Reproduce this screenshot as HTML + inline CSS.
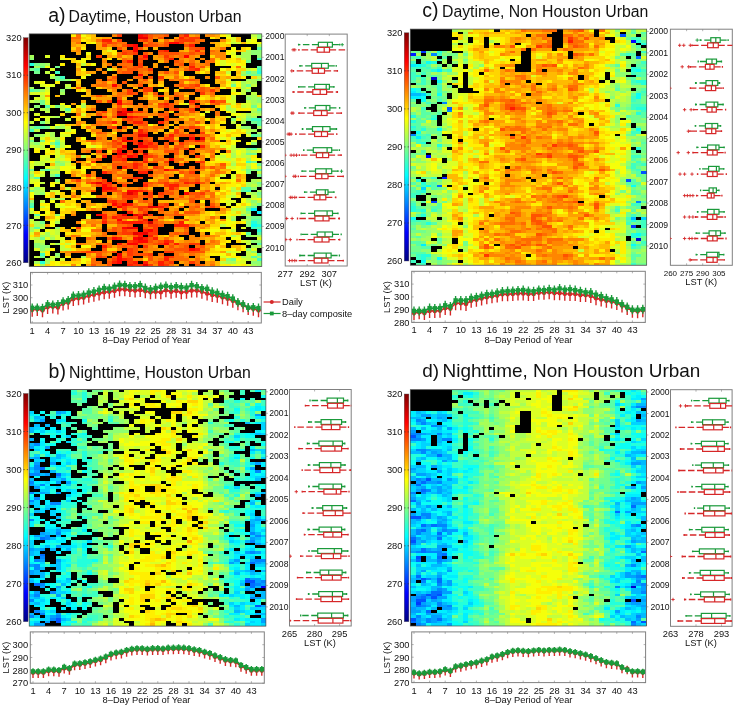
<!DOCTYPE html>
<html><head><meta charset="utf-8"><title>LST figure</title>
<style>html,body{margin:0;padding:0;background:#fff;width:733px;height:706px;overflow:hidden}svg{display:block}text{fill:#111}</style>
</head><body>
<svg width="733" height="706" viewBox="0 0 733 706" style="font-family:'Liberation Sans',Arial,Helvetica,sans-serif">
<defs><linearGradient id="jetg" x1="0" y1="0" x2="0" y2="1"><stop offset="0.0000" stop-color="#800000"/><stop offset="0.0312" stop-color="#9f0000"/><stop offset="0.0625" stop-color="#bf0000"/><stop offset="0.0938" stop-color="#df0000"/><stop offset="0.1250" stop-color="#ff0000"/><stop offset="0.1562" stop-color="#ff2000"/><stop offset="0.1875" stop-color="#ff4000"/><stop offset="0.2188" stop-color="#ff6000"/><stop offset="0.2500" stop-color="#ff8000"/><stop offset="0.2812" stop-color="#ff9f00"/><stop offset="0.3125" stop-color="#ffbf00"/><stop offset="0.3438" stop-color="#ffdf00"/><stop offset="0.3750" stop-color="#ffff00"/><stop offset="0.4062" stop-color="#dfff20"/><stop offset="0.4375" stop-color="#bfff40"/><stop offset="0.4688" stop-color="#9fff60"/><stop offset="0.5000" stop-color="#80ff80"/><stop offset="0.5312" stop-color="#60ff9f"/><stop offset="0.5625" stop-color="#40ffbf"/><stop offset="0.5938" stop-color="#20ffdf"/><stop offset="0.6250" stop-color="#00ffff"/><stop offset="0.6562" stop-color="#00dfff"/><stop offset="0.6875" stop-color="#00bfff"/><stop offset="0.7188" stop-color="#009fff"/><stop offset="0.7500" stop-color="#0080ff"/><stop offset="0.7812" stop-color="#0060ff"/><stop offset="0.8125" stop-color="#0040ff"/><stop offset="0.8438" stop-color="#0020ff"/><stop offset="0.8750" stop-color="#0000ff"/><stop offset="0.9062" stop-color="#0000df"/><stop offset="0.9375" stop-color="#0000bf"/><stop offset="0.9688" stop-color="#00009f"/><stop offset="1.0000" stop-color="#000080"/></linearGradient></defs>
<rect width="733" height="706" fill="#fff"/>
<text x="48.2" y="22.3" font-size="19.5" text-anchor="start">a)</text>
<text x="68.5" y="22.3" font-size="15.8" text-anchor="start">Daytime, Houston Urban</text>
<rect x="23.4" y="37.7" width="4.70" height="225.10" fill="url(#jetg)"/>
<rect x="23.4" y="37.7" width="4.70" height="225.10" fill="none" stroke="#555" stroke-width="0.4"/>
<text x="21.6" y="40.9" font-size="9.3" text-anchor="end">320</text>
<text x="21.6" y="78.4" font-size="9.3" text-anchor="end">310</text>
<text x="21.6" y="115.9" font-size="9.3" text-anchor="end">300</text>
<text x="21.6" y="153.4" font-size="9.3" text-anchor="end">290</text>
<text x="21.6" y="191.0" font-size="9.3" text-anchor="end">280</text>
<text x="21.6" y="228.5" font-size="9.3" text-anchor="end">270</text>
<text x="21.6" y="266.0" font-size="9.3" text-anchor="end">260</text>
<path d="M23.4 75.2h1.3M28.1 75.2h-1.3M23.4 112.7h1.3M28.1 112.7h-1.3M23.4 150.2h1.3M28.1 150.2h-1.3M23.4 187.8h1.3M28.1 187.8h-1.3M23.4 225.3h1.3M28.1 225.3h-1.3" stroke="#333" stroke-width="0.7"/>
<rect x="29.2" y="33.9" width="232.60" height="232.50" fill="#000"/>
<g transform="translate(29.2 33.9) scale(5.1689 2.6420)" shape-rendering="crispEdges">
<path fill="#00efff" d="M43 66h1v1h-1zM44 67h1v1h-1z"/>
<path fill="#0afff5" d="M43 72h1v1h-1z"/>
<path fill="#24ffdb" d="M0 11h1v1h-1zM44 14h1v1h-1zM43 71h1v1h-1zM44 72h1v1h-1zM44 74h1v1h-1zM2 86h1v1h-1z"/>
<path fill="#3effc1" d="M44 9h1v1h-1zM44 13h1v1h-1zM5 14h1v1h-1zM6 16h1v1h-1zM43 32h2v1h-2zM0 36h1v1h-1zM5 41h1v1h-1zM42 48h1v1h-1zM5 53h1v1h-1zM42 59h1v1h-1zM0 65h1v1h-1zM43 73h1v1h-1zM2 83h1v1h-1zM44 85h1v1h-1z"/>
<path fill="#58ffa7" d="M44 5h1v1h-1zM44 12h1v1h-1zM1 13h1v1h-1zM42 14h1v1h-1zM0 21h1v1h-1zM3 27h1v1h-1zM7 28h1v1h-1zM44 28h1v1h-1zM44 33h1v1h-1zM44 34h1v1h-1zM1 35h2v1h-2zM43 38h1v1h-1zM43 43h1v1h-1zM3 51h1v1h-1zM44 51h1v1h-1zM1 54h1v1h-1zM41 58h2v1h-2zM41 59h1v1h-1zM0 64h1v1h-1zM42 66h1v1h-1zM1 68h1v1h-1zM43 70h2v1h-2zM44 71h1v1h-1zM1 73h1v1h-1zM44 73h1v1h-1zM42 75h1v1h-1zM44 75h1v1h-1zM44 79h1v1h-1zM44 83h1v1h-1zM43 84h1v1h-1z"/>
<path fill="#72ff8d" d="M42 10h1v1h-1zM1 11h1v1h-1zM2 12h1v1h-1zM5 12h1v1h-1zM0 13h1v1h-1zM1 14h1v1h-1zM43 15h2v1h-2zM5 16h1v1h-1zM5 17h2v1h-2zM39 19h1v1h-1zM42 19h1v1h-1zM1 21h1v1h-1zM2 25h1v1h-1zM2 26h1v1h-1zM5 27h1v1h-1zM43 27h1v1h-1zM42 32h1v1h-1zM2 33h1v1h-1zM43 33h1v1h-1zM3 35h1v1h-1zM44 38h1v1h-1zM0 40h1v1h-1zM2 40h1v1h-1zM5 40h1v1h-1zM5 42h1v1h-1zM42 43h1v1h-1zM42 45h2v1h-2zM43 48h1v1h-1zM44 49h1v1h-1zM0 51h1v1h-1zM2 51h1v1h-1zM42 51h1v1h-1zM42 52h1v1h-1zM44 53h1v1h-1zM44 56h1v1h-1zM0 59h1v1h-1zM44 60h1v1h-1zM44 64h1v1h-1zM43 65h1v1h-1zM43 69h2v1h-2zM2 71h1v1h-1zM2 77h1v1h-1zM2 84h1v1h-1zM39 85h1v1h-1z"/>
<path fill="#8dff72" d="M44 0h1v1h-1zM44 1h1v1h-1zM43 6h2v1h-2zM43 7h2v1h-2zM44 8h1v1h-1zM0 9h1v1h-1zM2 11h1v1h-1zM43 14h1v1h-1zM41 15h2v1h-2zM7 17h1v1h-1zM44 17h1v1h-1zM6 21h1v1h-1zM42 21h1v1h-1zM42 24h1v1h-1zM44 24h1v1h-1zM44 25h1v1h-1zM1 27h1v1h-1zM44 29h1v1h-1zM42 31h1v1h-1zM39 32h1v1h-1zM0 35h1v1h-1zM5 35h1v1h-1zM41 35h2v1h-2zM1 38h1v1h-1zM1 41h1v1h-1zM4 41h1v1h-1zM43 41h1v1h-1zM5 48h1v1h-1zM6 49h1v1h-1zM43 51h1v1h-1zM0 53h1v1h-1zM4 53h1v1h-1zM5 55h1v1h-1zM44 57h1v1h-1zM1 58h1v1h-1zM43 58h1v1h-1zM2 60h1v1h-1zM44 61h1v1h-1zM0 63h1v1h-1zM43 63h1v1h-1zM42 65h1v1h-1zM42 67h1v1h-1zM5 68h1v1h-1zM41 68h1v1h-1zM42 69h1v1h-1zM39 70h1v1h-1zM42 71h1v1h-1zM42 72h1v1h-1zM5 73h1v1h-1zM42 76h1v1h-1zM43 78h2v1h-2zM1 79h1v1h-1zM1 80h3v1h-3zM2 81h1v1h-1zM42 81h1v1h-1zM43 82h1v1h-1zM5 83h1v1h-1zM38 85h1v1h-1zM43 86h2v1h-2zM44 87h1v1h-1z"/>
<path fill="#a7ff58" d="M44 4h1v1h-1zM42 6h1v1h-1zM41 7h2v1h-2zM0 8h1v1h-1zM41 8h2v1h-2zM42 9h1v1h-1zM3 11h1v1h-1zM1 12h1v1h-1zM41 14h1v1h-1zM4 16h1v1h-1zM42 17h2v1h-2zM41 18h1v1h-1zM43 18h1v1h-1zM41 19h1v1h-1zM0 20h1v1h-1zM7 20h1v1h-1zM41 20h1v1h-1zM2 21h1v1h-1zM6 22h1v1h-1zM42 23h2v1h-2zM43 24h1v1h-1zM1 25h1v1h-1zM43 25h1v1h-1zM43 26h1v1h-1zM10 27h1v1h-1zM38 27h1v1h-1zM3 28h1v1h-1zM38 28h1v1h-1zM7 29h1v1h-1zM43 29h1v1h-1zM42 30h1v1h-1zM44 30h1v1h-1zM5 31h1v1h-1zM43 31h1v1h-1zM41 33h1v1h-1zM6 35h1v1h-1zM44 35h1v1h-1zM43 36h1v1h-1zM4 37h1v1h-1zM42 37h1v1h-1zM44 37h1v1h-1zM2 38h1v1h-1zM4 38h1v1h-1zM5 39h1v1h-1zM39 39h1v1h-1zM0 41h1v1h-1zM44 43h1v1h-1zM42 44h1v1h-1zM39 45h1v1h-1zM39 46h1v1h-1zM42 47h1v1h-1zM6 48h1v1h-1zM5 49h1v1h-1zM39 49h1v1h-1zM42 50h1v1h-1zM4 51h2v1h-2zM0 54h1v1h-1zM43 55h1v1h-1zM42 56h2v1h-2zM42 57h1v1h-1zM1 59h2v1h-2zM39 59h1v1h-1zM44 59h1v1h-1zM1 60h1v1h-1zM43 60h1v1h-1zM4 62h1v1h-1zM6 62h1v1h-1zM42 62h1v1h-1zM43 64h1v1h-1zM39 69h1v1h-1zM42 70h1v1h-1zM1 71h1v1h-1zM5 71h1v1h-1zM1 72h2v1h-2zM0 73h1v1h-1zM0 74h1v1h-1zM3 75h1v1h-1zM2 76h2v1h-2zM39 76h1v1h-1zM43 76h2v1h-2zM4 77h1v1h-1zM2 79h1v1h-1zM5 79h1v1h-1zM43 80h2v1h-2zM5 84h1v1h-1zM10 84h1v1h-1zM41 84h1v1h-1zM44 84h1v1h-1zM3 85h1v1h-1zM1 86h1v1h-1zM3 86h1v1h-1zM38 86h2v1h-2zM2 87h1v1h-1zM43 87h1v1h-1z"/>
<path fill="#c1ff3e" d="M43 0h1v1h-1zM39 3h1v1h-1zM40 8h1v1h-1zM41 9h1v1h-1zM10 11h1v1h-1zM15 13h1v1h-1zM42 13h1v1h-1zM3 14h1v1h-1zM38 14h1v1h-1zM44 16h1v1h-1zM39 18h1v1h-1zM42 18h1v1h-1zM7 19h1v1h-1zM43 19h1v1h-1zM3 20h1v1h-1zM41 21h1v1h-1zM41 22h1v1h-1zM43 22h1v1h-1zM2 23h1v1h-1zM39 23h1v1h-1zM2 24h1v1h-1zM39 24h1v1h-1zM0 25h1v1h-1zM42 25h1v1h-1zM10 26h1v1h-1zM44 26h1v1h-1zM6 27h1v1h-1zM41 27h1v1h-1zM0 28h1v1h-1zM2 28h1v1h-1zM6 28h1v1h-1zM39 28h1v1h-1zM43 28h1v1h-1zM3 29h1v1h-1zM39 29h1v1h-1zM43 30h1v1h-1zM4 31h1v1h-1zM40 31h1v1h-1zM7 32h1v1h-1zM41 32h1v1h-1zM0 33h1v1h-1zM3 33h1v1h-1zM39 33h1v1h-1zM6 34h1v1h-1zM1 36h1v1h-1zM7 36h1v1h-1zM42 36h1v1h-1zM0 39h1v1h-1zM4 39h1v1h-1zM6 41h1v1h-1zM0 42h3v1h-3zM6 42h1v1h-1zM39 42h1v1h-1zM2 43h1v1h-1zM5 43h1v1h-1zM39 43h2v1h-2zM39 44h1v1h-1zM43 44h1v1h-1zM41 45h1v1h-1zM6 46h1v1h-1zM10 46h1v1h-1zM37 46h1v1h-1zM41 46h2v1h-2zM3 47h1v1h-1zM5 47h1v1h-1zM38 47h1v1h-1zM1 48h2v1h-2zM7 48h1v1h-1zM39 48h1v1h-1zM1 49h2v1h-2zM42 49h1v1h-1zM5 50h1v1h-1zM44 50h1v1h-1zM41 51h1v1h-1zM0 52h1v1h-1zM4 52h2v1h-2zM44 52h1v1h-1zM2 53h1v1h-1zM44 55h1v1h-1zM2 56h1v1h-1zM43 57h1v1h-1zM0 58h1v1h-1zM2 58h1v1h-1zM7 58h1v1h-1zM39 58h1v1h-1zM4 59h1v1h-1zM40 59h1v1h-1zM42 60h1v1h-1zM39 61h1v1h-1zM43 61h1v1h-1zM5 62h1v1h-1zM2 63h1v1h-1zM42 63h1v1h-1zM44 63h1v1h-1zM2 65h1v1h-1zM39 66h3v1h-3zM0 67h1v1h-1zM41 67h1v1h-1zM42 68h1v1h-1zM1 69h1v1h-1zM0 70h1v1h-1zM41 70h1v1h-1zM37 72h1v1h-1zM2 73h1v1h-1zM5 74h1v1h-1zM39 74h1v1h-1zM5 75h1v1h-1zM4 76h1v1h-1zM1 77h1v1h-1zM1 78h2v1h-2zM42 78h1v1h-1zM7 79h1v1h-1zM42 79h1v1h-1zM6 80h1v1h-1zM3 81h1v1h-1zM6 81h2v1h-2zM2 82h1v1h-1zM38 82h1v1h-1zM42 82h1v1h-1zM42 83h1v1h-1zM1 84h1v1h-1zM42 84h1v1h-1zM4 85h1v1h-1zM42 85h2v1h-2zM37 86h1v1h-1z"/>
<path fill="#dbff24" d="M38 0h1v1h-1zM39 1h1v1h-1zM43 1h1v1h-1zM39 2h1v1h-1zM42 2h1v1h-1zM40 3h1v1h-1zM15 6h1v1h-1zM39 7h1v1h-1zM3 8h1v1h-1zM6 9h1v1h-1zM37 10h1v1h-1zM37 11h1v1h-1zM39 11h1v1h-1zM41 12h1v1h-1zM4 13h1v1h-1zM43 13h1v1h-1zM4 15h1v1h-1zM11 15h1v1h-1zM8 17h1v1h-1zM38 17h1v1h-1zM1 18h1v1h-1zM2 19h1v1h-1zM4 19h1v1h-1zM42 20h1v1h-1zM3 21h1v1h-1zM39 21h1v1h-1zM0 22h3v1h-3zM1 24h1v1h-1zM3 25h1v1h-1zM38 25h2v1h-2zM3 26h1v1h-1zM30 26h1v1h-1zM39 26h1v1h-1zM41 26h2v1h-2zM4 27h1v1h-1zM42 27h1v1h-1zM44 27h1v1h-1zM34 29h1v1h-1zM1 30h1v1h-1zM10 30h1v1h-1zM41 30h1v1h-1zM3 31h1v1h-1zM38 31h1v1h-1zM41 31h1v1h-1zM3 32h1v1h-1zM4 35h1v1h-1zM7 35h1v1h-1zM40 35h1v1h-1zM38 36h1v1h-1zM3 37h1v1h-1zM3 38h1v1h-1zM6 38h2v1h-2zM42 38h1v1h-1zM2 39h1v1h-1zM37 39h1v1h-1zM6 40h1v1h-1zM43 40h1v1h-1zM2 41h1v1h-1zM12 42h1v1h-1zM37 42h1v1h-1zM38 43h1v1h-1zM41 43h1v1h-1zM5 44h1v1h-1zM41 44h1v1h-1zM44 44h1v1h-1zM5 45h1v1h-1zM2 46h2v1h-2zM5 46h1v1h-1zM36 46h1v1h-1zM40 46h1v1h-1zM2 47h1v1h-1zM6 47h1v1h-1zM37 47h1v1h-1zM39 47h1v1h-1zM3 48h2v1h-2zM0 49h1v1h-1zM7 49h1v1h-1zM0 50h1v1h-1zM3 50h2v1h-2zM38 50h2v1h-2zM2 52h1v1h-1zM37 53h1v1h-1zM39 53h1v1h-1zM39 54h1v1h-1zM0 55h2v1h-2zM0 56h1v1h-1zM5 56h1v1h-1zM5 59h1v1h-1zM5 60h1v1h-1zM39 60h1v1h-1zM38 61h1v1h-1zM43 62h1v1h-1zM38 63h2v1h-2zM5 64h1v1h-1zM38 64h1v1h-1zM5 65h2v1h-2zM41 65h1v1h-1zM0 66h1v1h-1zM39 67h1v1h-1zM40 68h1v1h-1zM11 69h1v1h-1zM38 69h1v1h-1zM5 70h1v1h-1zM0 71h1v1h-1zM41 73h1v1h-1zM1 74h1v1h-1zM4 74h1v1h-1zM0 75h1v1h-1zM2 75h1v1h-1zM4 75h1v1h-1zM5 76h1v1h-1zM40 76h1v1h-1zM0 77h1v1h-1zM3 77h1v1h-1zM5 77h2v1h-2zM44 77h1v1h-1zM6 78h1v1h-1zM41 78h1v1h-1zM4 79h1v1h-1zM1 81h1v1h-1zM43 81h1v1h-1zM39 82h2v1h-2zM43 83h1v1h-1zM4 84h1v1h-1zM37 84h1v1h-1zM6 85h1v1h-1zM41 85h1v1h-1zM40 86h2v1h-2zM42 87h1v1h-1z"/>
<path fill="#f5ff0a" d="M10 0h1v1h-1zM38 1h1v1h-1zM43 2h1v1h-1zM12 3h1v1h-1zM38 3h1v1h-1zM42 3h3v1h-3zM39 5h1v1h-1zM39 6h1v1h-1zM11 7h1v1h-1zM38 7h1v1h-1zM39 8h1v1h-1zM10 9h1v1h-1zM10 10h1v1h-1zM12 11h1v1h-1zM38 11h1v1h-1zM40 11h1v1h-1zM3 12h1v1h-1zM10 13h1v1h-1zM37 13h1v1h-1zM39 13h1v1h-1zM38 15h1v1h-1zM10 16h1v1h-1zM2 18h1v1h-1zM40 18h1v1h-1zM3 19h1v1h-1zM38 19h1v1h-1zM40 19h1v1h-1zM37 20h1v1h-1zM10 21h1v1h-1zM3 22h1v1h-1zM40 22h1v1h-1zM3 24h1v1h-1zM6 26h1v1h-1zM7 27h1v1h-1zM33 30h1v1h-1zM39 30h2v1h-2zM2 31h1v1h-1zM1 32h1v1h-1zM5 34h1v1h-1zM23 34h1v1h-1zM40 34h1v1h-1zM34 35h1v1h-1zM8 36h1v1h-1zM39 36h1v1h-1zM41 36h1v1h-1zM6 37h1v1h-1zM37 37h1v1h-1zM10 39h1v1h-1zM4 40h1v1h-1zM39 40h1v1h-1zM3 41h1v1h-1zM39 41h1v1h-1zM42 41h1v1h-1zM4 42h1v1h-1zM7 42h1v1h-1zM11 42h1v1h-1zM38 42h1v1h-1zM1 43h1v1h-1zM3 43h1v1h-1zM3 44h1v1h-1zM40 44h1v1h-1zM37 45h1v1h-1zM40 45h1v1h-1zM36 47h1v1h-1zM43 47h2v1h-2zM0 48h1v1h-1zM41 48h1v1h-1zM43 49h1v1h-1zM6 50h3v1h-3zM40 50h1v1h-1zM43 50h1v1h-1zM6 51h2v1h-2zM10 51h1v1h-1zM39 51h2v1h-2zM40 52h2v1h-2zM1 53h1v1h-1zM36 54h1v1h-1zM36 55h2v1h-2zM39 55h1v1h-1zM1 56h1v1h-1zM1 57h1v1h-1zM4 57h1v1h-1zM40 57h1v1h-1zM38 58h1v1h-1zM37 59h1v1h-1zM0 60h1v1h-1zM3 60h1v1h-1zM0 61h1v1h-1zM10 61h1v1h-1zM12 61h1v1h-1zM38 62h1v1h-1zM41 62h1v1h-1zM44 62h1v1h-1zM4 63h1v1h-1zM37 63h1v1h-1zM41 63h1v1h-1zM6 64h1v1h-1zM40 64h1v1h-1zM42 64h1v1h-1zM3 65h1v1h-1zM7 65h2v1h-2zM12 65h1v1h-1zM39 65h1v1h-1zM3 67h1v1h-1zM2 68h1v1h-1zM35 68h1v1h-1zM38 68h1v1h-1zM5 69h1v1h-1zM38 70h1v1h-1zM4 71h1v1h-1zM10 71h1v1h-1zM38 71h2v1h-2zM4 72h1v1h-1zM38 72h1v1h-1zM39 73h1v1h-1zM3 74h1v1h-1zM10 74h2v1h-2zM35 74h2v1h-2zM38 74h1v1h-1zM41 75h1v1h-1zM39 77h2v1h-2zM8 79h1v1h-1zM10 80h2v1h-2zM36 80h1v1h-1zM39 81h1v1h-1zM37 83h1v1h-1zM39 83h1v1h-1zM38 84h1v1h-1zM10 85h1v1h-1zM40 85h1v1h-1zM5 86h1v1h-1zM10 86h1v1h-1zM1 87h1v1h-1zM5 87h1v1h-1zM7 87h1v1h-1zM39 87h2v1h-2z"/>
<path fill="#ffef00" d="M8 0h1v1h-1zM37 0h1v1h-1zM11 1h1v1h-1zM35 1h1v1h-1zM10 2h1v1h-1zM11 3h1v1h-1zM10 5h1v1h-1zM42 5h1v1h-1zM16 6h1v1h-1zM38 6h1v1h-1zM16 7h1v1h-1zM6 8h1v1h-1zM7 9h1v1h-1zM11 9h1v1h-1zM15 9h1v1h-1zM39 9h1v1h-1zM9 10h1v1h-1zM36 10h1v1h-1zM38 10h2v1h-2zM41 10h1v1h-1zM6 11h1v1h-1zM36 11h1v1h-1zM41 11h1v1h-1zM39 12h1v1h-1zM34 13h1v1h-1zM33 14h1v1h-1zM30 16h1v1h-1zM41 16h1v1h-1zM5 18h1v1h-1zM38 18h1v1h-1zM34 19h1v1h-1zM39 20h1v1h-1zM25 21h1v1h-1zM39 22h1v1h-1zM38 23h1v1h-1zM33 24h1v1h-1zM36 24h1v1h-1zM38 24h1v1h-1zM29 26h1v1h-1zM9 27h1v1h-1zM37 27h1v1h-1zM39 27h1v1h-1zM8 28h1v1h-1zM10 28h1v1h-1zM37 28h1v1h-1zM40 28h3v1h-3zM38 29h1v1h-1zM34 32h1v1h-1zM40 32h1v1h-1zM37 33h1v1h-1zM10 34h1v1h-1zM33 34h1v1h-1zM36 34h1v1h-1zM36 35h1v1h-1zM37 36h1v1h-1zM7 37h2v1h-2zM16 37h1v1h-1zM38 37h1v1h-1zM12 38h1v1h-1zM36 38h2v1h-2zM39 38h2v1h-2zM6 39h1v1h-1zM36 39h1v1h-1zM38 39h1v1h-1zM3 40h1v1h-1zM40 40h1v1h-1zM11 41h1v1h-1zM36 41h2v1h-2zM13 42h1v1h-1zM31 42h1v1h-1zM6 43h1v1h-1zM1 44h1v1h-1zM3 45h2v1h-2zM38 45h1v1h-1zM38 46h1v1h-1zM43 46h1v1h-1zM4 47h1v1h-1zM7 47h1v1h-1zM41 47h1v1h-1zM11 48h1v1h-1zM35 48h4v1h-4zM40 48h1v1h-1zM12 49h1v1h-1zM10 50h2v1h-2zM41 50h1v1h-1zM7 52h1v1h-1zM10 52h1v1h-1zM10 54h1v1h-1zM38 55h1v1h-1zM4 56h1v1h-1zM39 56h1v1h-1zM41 56h1v1h-1zM38 57h2v1h-2zM11 60h1v1h-1zM36 60h1v1h-1zM38 60h1v1h-1zM3 61h1v1h-1zM11 61h1v1h-1zM40 61h1v1h-1zM8 62h1v1h-1zM37 62h1v1h-1zM33 63h1v1h-1zM2 64h2v1h-2zM8 64h1v1h-1zM29 64h1v1h-1zM40 65h1v1h-1zM2 66h2v1h-2zM6 66h1v1h-1zM9 66h2v1h-2zM1 67h1v1h-1zM35 67h1v1h-1zM38 67h1v1h-1zM3 68h1v1h-1zM6 68h1v1h-1zM11 68h1v1h-1zM37 68h1v1h-1zM39 68h1v1h-1zM4 70h1v1h-1zM27 70h1v1h-1zM36 70h1v1h-1zM37 71h1v1h-1zM41 71h1v1h-1zM39 72h1v1h-1zM10 73h3v1h-3zM35 73h2v1h-2zM33 74h2v1h-2zM7 75h1v1h-1zM35 75h1v1h-1zM38 75h1v1h-1zM0 76h1v1h-1zM10 76h2v1h-2zM37 76h2v1h-2zM8 78h1v1h-1zM38 78h1v1h-1zM6 79h1v1h-1zM37 79h1v1h-1zM7 80h1v1h-1zM41 80h1v1h-1zM4 81h1v1h-1zM8 81h1v1h-1zM36 81h3v1h-3zM41 81h1v1h-1zM3 82h1v1h-1zM3 83h1v1h-1zM35 83h2v1h-2zM7 84h1v1h-1zM39 84h2v1h-2zM11 85h1v1h-1zM4 86h1v1h-1zM4 87h1v1h-1zM6 87h1v1h-1zM9 87h1v1h-1zM37 87h2v1h-2zM41 87h1v1h-1z"/>
<path fill="#ffd500" d="M11 0h1v1h-1zM10 1h1v1h-1zM11 2h1v1h-1zM38 2h1v1h-1zM37 3h1v1h-1zM10 4h1v1h-1zM37 4h1v1h-1zM8 5h1v1h-1zM15 5h1v1h-1zM41 5h1v1h-1zM14 6h1v1h-1zM41 6h1v1h-1zM14 7h1v1h-1zM11 8h1v1h-1zM35 8h1v1h-1zM8 9h1v1h-1zM36 9h1v1h-1zM38 9h1v1h-1zM8 10h1v1h-1zM40 10h1v1h-1zM11 11h1v1h-1zM9 12h1v1h-1zM16 13h1v1h-1zM38 13h1v1h-1zM40 13h2v1h-2zM10 14h1v1h-1zM29 14h1v1h-1zM10 15h1v1h-1zM29 15h1v1h-1zM36 15h2v1h-2zM40 15h1v1h-1zM39 16h1v1h-1zM43 16h1v1h-1zM9 18h1v1h-1zM30 18h1v1h-1zM25 19h1v1h-1zM8 20h1v1h-1zM13 20h1v1h-1zM40 20h1v1h-1zM9 21h1v1h-1zM26 21h1v1h-1zM28 21h1v1h-1zM10 23h1v1h-1zM23 23h1v1h-1zM30 23h1v1h-1zM33 23h2v1h-2zM36 23h2v1h-2zM44 23h1v1h-1zM23 24h1v1h-1zM26 24h1v1h-1zM34 24h1v1h-1zM34 26h1v1h-1zM40 27h1v1h-1zM8 29h1v1h-1zM10 29h1v1h-1zM27 29h1v1h-1zM6 30h1v1h-1zM8 31h3v1h-3zM29 31h1v1h-1zM31 31h1v1h-1zM37 31h1v1h-1zM9 32h1v1h-1zM36 32h1v1h-1zM7 34h1v1h-1zM11 34h1v1h-1zM16 34h1v1h-1zM27 34h1v1h-1zM32 34h1v1h-1zM34 34h1v1h-1zM10 35h1v1h-1zM37 35h1v1h-1zM11 36h1v1h-1zM27 36h1v1h-1zM40 36h1v1h-1zM34 37h1v1h-1zM39 37h3v1h-3zM3 39h1v1h-1zM44 39h1v1h-1zM10 41h1v1h-1zM35 41h1v1h-1zM38 41h1v1h-1zM35 42h1v1h-1zM4 44h1v1h-1zM7 44h2v1h-2zM15 44h1v1h-1zM36 44h1v1h-1zM6 45h1v1h-1zM12 45h1v1h-1zM34 45h1v1h-1zM7 46h1v1h-1zM11 46h1v1h-1zM34 46h1v1h-1zM32 47h1v1h-1zM40 47h1v1h-1zM34 48h1v1h-1zM8 49h1v1h-1zM34 49h2v1h-2zM38 49h1v1h-1zM40 49h2v1h-2zM8 51h2v1h-2zM34 51h1v1h-1zM1 52h1v1h-1zM38 52h1v1h-1zM9 53h1v1h-1zM29 53h1v1h-1zM33 53h1v1h-1zM12 54h1v1h-1zM17 54h1v1h-1zM23 55h1v1h-1zM41 55h1v1h-1zM10 56h1v1h-1zM36 56h1v1h-1zM40 56h1v1h-1zM6 57h1v1h-1zM10 57h2v1h-2zM35 57h1v1h-1zM37 57h1v1h-1zM41 57h1v1h-1zM35 58h1v1h-1zM37 58h1v1h-1zM40 58h1v1h-1zM8 59h1v1h-1zM30 59h1v1h-1zM32 59h1v1h-1zM38 59h1v1h-1zM6 60h1v1h-1zM10 60h1v1h-1zM6 61h2v1h-2zM37 61h1v1h-1zM9 62h1v1h-1zM7 63h2v1h-2zM7 64h1v1h-1zM13 64h1v1h-1zM41 64h1v1h-1zM9 65h1v1h-1zM13 65h1v1h-1zM37 65h1v1h-1zM7 66h2v1h-2zM6 67h2v1h-2zM34 67h1v1h-1zM40 67h1v1h-1zM4 68h1v1h-1zM33 68h2v1h-2zM36 68h1v1h-1zM30 69h1v1h-1zM33 69h1v1h-1zM3 70h1v1h-1zM19 70h1v1h-1zM26 70h1v1h-1zM33 70h1v1h-1zM30 71h1v1h-1zM32 71h1v1h-1zM34 71h1v1h-1zM36 71h1v1h-1zM40 71h1v1h-1zM0 72h1v1h-1zM35 72h2v1h-2zM6 73h1v1h-1zM8 73h1v1h-1zM6 74h1v1h-1zM37 74h1v1h-1zM8 75h4v1h-4zM39 75h1v1h-1zM26 76h1v1h-1zM29 77h1v1h-1zM36 77h2v1h-2zM7 78h1v1h-1zM13 78h1v1h-1zM37 78h1v1h-1zM40 78h1v1h-1zM15 81h2v1h-2zM35 81h1v1h-1zM35 82h2v1h-2zM34 83h1v1h-1zM22 85h1v1h-1zM34 85h1v1h-1zM37 85h1v1h-1zM6 86h4v1h-4zM11 86h1v1h-1zM3 87h1v1h-1z"/>
<path fill="#ffba00" d="M12 0h1v1h-1zM12 1h2v1h-2zM36 1h1v1h-1zM40 1h1v1h-1zM12 2h1v1h-1zM25 2h1v1h-1zM40 2h1v1h-1zM36 3h1v1h-1zM41 3h1v1h-1zM9 4h1v1h-1zM36 4h1v1h-1zM38 4h1v1h-1zM24 5h1v1h-1zM35 5h1v1h-1zM30 6h1v1h-1zM40 6h1v1h-1zM15 7h1v1h-1zM16 8h1v1h-1zM18 8h1v1h-1zM17 9h1v1h-1zM40 9h1v1h-1zM25 10h1v1h-1zM9 11h1v1h-1zM34 12h1v1h-1zM33 13h1v1h-1zM9 14h1v1h-1zM32 14h1v1h-1zM34 14h1v1h-1zM36 14h2v1h-2zM40 14h1v1h-1zM9 15h1v1h-1zM25 15h1v1h-1zM26 16h2v1h-2zM29 16h1v1h-1zM37 16h1v1h-1zM40 16h1v1h-1zM9 17h1v1h-1zM23 17h1v1h-1zM36 17h2v1h-2zM15 18h1v1h-1zM25 18h1v1h-1zM36 18h1v1h-1zM9 19h1v1h-1zM23 19h1v1h-1zM33 19h1v1h-1zM37 19h1v1h-1zM10 20h1v1h-1zM20 20h1v1h-1zM15 21h1v1h-1zM11 22h1v1h-1zM23 22h1v1h-1zM5 23h1v1h-1zM11 23h1v1h-1zM15 23h1v1h-1zM22 23h1v1h-1zM12 24h1v1h-1zM18 24h1v1h-1zM24 24h1v1h-1zM32 24h1v1h-1zM35 24h1v1h-1zM37 24h1v1h-1zM10 25h1v1h-1zM29 25h1v1h-1zM24 26h1v1h-1zM38 26h1v1h-1zM40 26h1v1h-1zM11 27h1v1h-1zM18 27h1v1h-1zM36 27h1v1h-1zM24 28h1v1h-1zM34 28h1v1h-1zM12 30h1v1h-1zM15 30h1v1h-1zM32 30h1v1h-1zM11 31h1v1h-1zM23 31h1v1h-1zM30 31h1v1h-1zM32 31h2v1h-2zM36 31h1v1h-1zM16 32h2v1h-2zM30 32h1v1h-1zM32 32h1v1h-1zM37 32h1v1h-1zM36 33h1v1h-1zM8 34h1v1h-1zM24 34h1v1h-1zM35 34h1v1h-1zM12 35h1v1h-1zM19 35h1v1h-1zM35 35h1v1h-1zM20 36h1v1h-1zM25 36h1v1h-1zM34 36h1v1h-1zM36 36h1v1h-1zM12 37h1v1h-1zM24 37h1v1h-1zM26 37h1v1h-1zM35 37h1v1h-1zM15 38h1v1h-1zM38 38h1v1h-1zM28 39h1v1h-1zM9 40h2v1h-2zM34 40h1v1h-1zM38 40h1v1h-1zM13 41h1v1h-1zM27 42h1v1h-1zM36 42h1v1h-1zM6 44h1v1h-1zM23 44h1v1h-1zM7 45h1v1h-1zM15 45h1v1h-1zM33 45h1v1h-1zM8 46h1v1h-1zM13 46h1v1h-1zM29 46h1v1h-1zM23 47h1v1h-1zM30 47h2v1h-2zM29 48h1v1h-1zM4 49h1v1h-1zM10 49h1v1h-1zM14 49h1v1h-1zM13 50h1v1h-1zM15 50h1v1h-1zM23 50h1v1h-1zM26 50h2v1h-2zM18 51h1v1h-1zM35 51h1v1h-1zM37 51h2v1h-2zM9 52h1v1h-1zM28 52h1v1h-1zM33 52h2v1h-2zM36 53h1v1h-1zM41 53h1v1h-1zM25 54h1v1h-1zM35 54h1v1h-1zM41 54h1v1h-1zM7 55h1v1h-1zM24 55h1v1h-1zM27 55h1v1h-1zM35 55h1v1h-1zM8 56h1v1h-1zM38 56h1v1h-1zM12 58h1v1h-1zM23 58h1v1h-1zM29 58h2v1h-2zM33 58h1v1h-1zM10 59h1v1h-1zM18 59h1v1h-1zM35 59h1v1h-1zM4 60h1v1h-1zM37 60h1v1h-1zM40 60h1v1h-1zM4 61h1v1h-1zM16 61h1v1h-1zM34 61h1v1h-1zM36 61h1v1h-1zM0 62h1v1h-1zM10 63h1v1h-1zM20 63h1v1h-1zM25 63h6v1h-6zM36 63h1v1h-1zM9 64h1v1h-1zM14 64h1v1h-1zM11 65h1v1h-1zM28 65h1v1h-1zM33 65h1v1h-1zM30 66h1v1h-1zM38 66h1v1h-1zM4 67h1v1h-1zM29 67h1v1h-1zM36 67h1v1h-1zM4 69h1v1h-1zM6 69h1v1h-1zM31 69h2v1h-2zM34 69h1v1h-1zM10 70h1v1h-1zM31 70h1v1h-1zM31 71h1v1h-1zM11 72h1v1h-1zM13 72h1v1h-1zM15 72h2v1h-2zM32 73h1v1h-1zM34 73h1v1h-1zM7 74h1v1h-1zM12 75h1v1h-1zM36 75h2v1h-2zM40 75h1v1h-1zM1 76h1v1h-1zM7 76h1v1h-1zM25 76h1v1h-1zM28 77h1v1h-1zM34 77h1v1h-1zM28 78h1v1h-1zM34 78h1v1h-1zM12 79h1v1h-1zM8 80h1v1h-1zM37 80h1v1h-1zM39 80h2v1h-2zM9 81h2v1h-2zM40 81h1v1h-1zM34 82h1v1h-1zM12 83h1v1h-1zM38 83h1v1h-1zM33 84h2v1h-2zM9 85h1v1h-1zM35 85h1v1h-1zM36 86h1v1h-1zM36 87h1v1h-1z"/>
<path fill="#ffa000" d="M31 0h1v1h-1zM36 0h1v1h-1zM14 1h2v1h-2zM28 1h1v1h-1zM16 2h1v1h-1zM27 2h1v1h-1zM8 3h1v1h-1zM13 3h1v1h-1zM35 3h1v1h-1zM8 4h1v1h-1zM13 4h1v1h-1zM13 5h2v1h-2zM22 5h1v1h-1zM30 5h1v1h-1zM36 5h1v1h-1zM8 6h1v1h-1zM29 6h1v1h-1zM9 7h1v1h-1zM15 8h1v1h-1zM19 8h1v1h-1zM24 8h1v1h-1zM32 8h1v1h-1zM14 9h1v1h-1zM24 9h2v1h-2zM30 9h1v1h-1zM30 10h1v1h-1zM32 10h1v1h-1zM14 11h1v1h-1zM24 11h1v1h-1zM14 12h1v1h-1zM24 12h1v1h-1zM9 13h1v1h-1zM27 13h1v1h-1zM29 13h1v1h-1zM11 14h2v1h-2zM16 15h1v1h-1zM26 15h2v1h-2zM31 16h1v1h-1zM38 16h1v1h-1zM19 17h1v1h-1zM23 18h1v1h-1zM31 18h1v1h-1zM37 18h1v1h-1zM19 19h1v1h-1zM24 19h1v1h-1zM14 20h1v1h-1zM26 20h1v1h-1zM29 20h1v1h-1zM35 20h1v1h-1zM38 20h1v1h-1zM11 21h1v1h-1zM16 22h1v1h-1zM26 22h1v1h-1zM30 22h1v1h-1zM3 23h1v1h-1zM19 23h1v1h-1zM26 23h1v1h-1zM13 24h3v1h-3zM22 24h1v1h-1zM30 24h1v1h-1zM14 25h1v1h-1zM25 25h1v1h-1zM33 25h1v1h-1zM8 26h1v1h-1zM33 26h1v1h-1zM37 26h1v1h-1zM12 27h1v1h-1zM16 27h1v1h-1zM19 27h1v1h-1zM23 27h2v1h-2zM9 28h1v1h-1zM11 28h1v1h-1zM15 28h1v1h-1zM25 28h1v1h-1zM33 28h1v1h-1zM9 29h1v1h-1zM15 29h1v1h-1zM24 29h1v1h-1zM30 29h1v1h-1zM11 30h1v1h-1zM31 30h1v1h-1zM15 31h1v1h-1zM14 32h1v1h-1zM33 32h1v1h-1zM10 33h1v1h-1zM17 33h1v1h-1zM28 33h1v1h-1zM33 33h1v1h-1zM17 34h1v1h-1zM29 34h2v1h-2zM26 35h1v1h-1zM28 35h1v1h-1zM16 36h1v1h-1zM18 36h1v1h-1zM15 37h1v1h-1zM30 37h1v1h-1zM16 38h1v1h-1zM35 38h1v1h-1zM9 39h1v1h-1zM16 39h1v1h-1zM34 39h1v1h-1zM15 40h1v1h-1zM12 41h1v1h-1zM28 41h1v1h-1zM34 41h1v1h-1zM14 42h1v1h-1zM10 43h2v1h-2zM13 43h1v1h-1zM15 43h2v1h-2zM36 43h1v1h-1zM24 44h2v1h-2zM29 44h1v1h-1zM33 44h1v1h-1zM8 45h1v1h-1zM25 45h1v1h-1zM29 45h1v1h-1zM30 46h1v1h-1zM8 47h1v1h-1zM11 47h1v1h-1zM35 47h1v1h-1zM10 48h1v1h-1zM19 48h1v1h-1zM25 48h1v1h-1zM13 49h1v1h-1zM15 49h1v1h-1zM36 49h1v1h-1zM12 50h1v1h-1zM14 51h1v1h-1zM30 51h1v1h-1zM8 52h1v1h-1zM17 52h1v1h-1zM26 52h2v1h-2zM10 53h1v1h-1zM25 53h1v1h-1zM34 53h1v1h-1zM11 54h1v1h-1zM24 54h1v1h-1zM33 54h1v1h-1zM40 54h1v1h-1zM10 55h1v1h-1zM17 55h2v1h-2zM28 55h1v1h-1zM33 55h1v1h-1zM7 56h1v1h-1zM37 56h1v1h-1zM25 57h1v1h-1zM33 57h2v1h-2zM36 57h1v1h-1zM6 58h1v1h-1zM8 58h4v1h-4zM18 58h1v1h-1zM34 58h1v1h-1zM36 59h1v1h-1zM8 60h1v1h-1zM16 60h1v1h-1zM9 61h1v1h-1zM15 61h1v1h-1zM24 61h1v1h-1zM30 61h1v1h-1zM36 62h1v1h-1zM11 63h1v1h-1zM11 64h2v1h-2zM21 64h2v1h-2zM33 64h1v1h-1zM14 65h1v1h-1zM27 65h1v1h-1zM11 66h1v1h-1zM13 66h1v1h-1zM17 66h1v1h-1zM20 66h1v1h-1zM24 66h1v1h-1zM27 66h1v1h-1zM8 67h1v1h-1zM20 67h1v1h-1zM33 67h1v1h-1zM37 67h1v1h-1zM32 68h1v1h-1zM3 69h1v1h-1zM22 69h1v1h-1zM26 69h1v1h-1zM36 69h1v1h-1zM11 70h1v1h-1zM13 70h1v1h-1zM20 70h1v1h-1zM25 70h1v1h-1zM32 70h1v1h-1zM34 70h2v1h-2zM35 71h1v1h-1zM3 72h1v1h-1zM10 72h1v1h-1zM33 72h1v1h-1zM13 73h1v1h-1zM15 73h1v1h-1zM9 74h1v1h-1zM28 74h2v1h-2zM32 74h1v1h-1zM1 75h1v1h-1zM13 75h1v1h-1zM33 75h1v1h-1zM12 76h1v1h-1zM15 76h1v1h-1zM18 76h1v1h-1zM28 76h1v1h-1zM36 76h1v1h-1zM8 77h1v1h-1zM19 77h1v1h-1zM25 77h1v1h-1zM27 77h1v1h-1zM33 77h1v1h-1zM35 77h1v1h-1zM11 78h2v1h-2zM15 78h1v1h-1zM29 78h1v1h-1zM32 78h1v1h-1zM11 79h1v1h-1zM12 80h1v1h-1zM16 80h1v1h-1zM24 80h1v1h-1zM34 80h2v1h-2zM11 81h1v1h-1zM25 81h1v1h-1zM6 82h1v1h-1zM23 82h1v1h-1zM37 82h1v1h-1zM7 83h1v1h-1zM15 83h1v1h-1zM30 83h1v1h-1zM33 83h1v1h-1zM11 84h2v1h-2zM8 85h1v1h-1zM31 85h1v1h-1zM33 85h1v1h-1zM29 86h1v1h-1zM34 86h1v1h-1zM11 87h1v1h-1zM28 87h1v1h-1zM34 87h1v1h-1z"/>
<path fill="#ff8600" d="M16 0h1v1h-1zM32 0h1v1h-1zM34 0h2v1h-2zM24 1h1v1h-1zM8 2h2v1h-2zM37 2h1v1h-1zM22 3h1v1h-1zM25 3h1v1h-1zM30 3h1v1h-1zM15 4h1v1h-1zM17 4h1v1h-1zM9 5h1v1h-1zM18 5h1v1h-1zM9 6h1v1h-1zM33 6h1v1h-1zM36 6h1v1h-1zM23 7h1v1h-1zM35 7h3v1h-3zM25 8h1v1h-1zM28 8h1v1h-1zM31 8h1v1h-1zM36 8h2v1h-2zM19 9h1v1h-1zM29 9h1v1h-1zM31 9h1v1h-1zM33 9h1v1h-1zM37 9h1v1h-1zM14 10h1v1h-1zM32 11h2v1h-2zM16 12h1v1h-1zM22 12h1v1h-1zM26 12h1v1h-1zM29 12h2v1h-2zM32 12h1v1h-1zM13 13h1v1h-1zM18 13h1v1h-1zM28 13h1v1h-1zM14 14h1v1h-1zM22 14h1v1h-1zM25 14h1v1h-1zM27 14h1v1h-1zM22 15h1v1h-1zM28 15h1v1h-1zM15 16h1v1h-1zM34 16h1v1h-1zM21 17h1v1h-1zM28 17h1v1h-1zM13 18h1v1h-1zM16 18h1v1h-1zM22 18h1v1h-1zM32 18h1v1h-1zM12 19h1v1h-1zM15 19h1v1h-1zM20 19h1v1h-1zM15 20h1v1h-1zM17 20h1v1h-1zM32 20h1v1h-1zM16 21h1v1h-1zM18 21h1v1h-1zM21 21h1v1h-1zM36 21h1v1h-1zM29 22h1v1h-1zM31 22h1v1h-1zM34 22h1v1h-1zM12 23h1v1h-1zM14 23h1v1h-1zM16 23h1v1h-1zM18 23h1v1h-1zM24 23h1v1h-1zM27 23h1v1h-1zM35 23h1v1h-1zM21 24h1v1h-1zM18 25h1v1h-1zM23 25h2v1h-2zM28 25h1v1h-1zM34 25h1v1h-1zM16 26h1v1h-1zM28 26h1v1h-1zM20 27h2v1h-2zM31 27h1v1h-1zM20 28h1v1h-1zM22 28h1v1h-1zM29 28h1v1h-1zM35 28h1v1h-1zM29 29h1v1h-1zM32 29h1v1h-1zM14 30h1v1h-1zM20 30h5v1h-5zM30 30h1v1h-1zM13 32h1v1h-1zM15 32h1v1h-1zM27 32h3v1h-3zM35 32h1v1h-1zM9 33h1v1h-1zM30 33h2v1h-2zM35 33h1v1h-1zM9 34h1v1h-1zM12 34h1v1h-1zM14 34h2v1h-2zM26 34h1v1h-1zM31 34h1v1h-1zM21 35h1v1h-1zM23 35h1v1h-1zM33 35h1v1h-1zM12 36h2v1h-2zM23 36h2v1h-2zM29 36h1v1h-1zM33 36h1v1h-1zM35 36h1v1h-1zM27 37h1v1h-1zM13 38h2v1h-2zM14 39h1v1h-1zM25 39h1v1h-1zM13 40h2v1h-2zM35 40h2v1h-2zM14 41h1v1h-1zM18 41h1v1h-1zM31 41h3v1h-3zM15 42h1v1h-1zM25 42h1v1h-1zM30 42h1v1h-1zM34 42h1v1h-1zM23 43h1v1h-1zM25 43h1v1h-1zM27 43h1v1h-1zM32 43h1v1h-1zM34 43h2v1h-2zM37 43h1v1h-1zM10 44h1v1h-1zM32 44h1v1h-1zM34 44h1v1h-1zM38 44h1v1h-1zM13 45h1v1h-1zM24 45h1v1h-1zM26 45h1v1h-1zM35 45h1v1h-1zM25 46h1v1h-1zM28 46h1v1h-1zM33 46h1v1h-1zM12 47h1v1h-1zM26 47h1v1h-1zM33 47h1v1h-1zM11 49h1v1h-1zM22 49h1v1h-1zM25 49h1v1h-1zM14 50h1v1h-1zM34 50h1v1h-1zM36 50h1v1h-1zM15 51h1v1h-1zM24 51h1v1h-1zM29 51h1v1h-1zM33 51h1v1h-1zM12 52h1v1h-1zM18 52h1v1h-1zM35 52h1v1h-1zM37 52h1v1h-1zM8 53h1v1h-1zM12 53h1v1h-1zM16 53h1v1h-1zM24 53h1v1h-1zM27 53h1v1h-1zM40 53h1v1h-1zM16 54h1v1h-1zM29 54h1v1h-1zM31 54h1v1h-1zM34 54h1v1h-1zM12 55h1v1h-1zM9 56h1v1h-1zM34 56h1v1h-1zM9 57h1v1h-1zM12 57h1v1h-1zM24 57h1v1h-1zM31 57h1v1h-1zM17 58h1v1h-1zM19 58h2v1h-2zM22 58h1v1h-1zM26 58h1v1h-1zM11 59h1v1h-1zM28 59h1v1h-1zM33 59h1v1h-1zM14 60h1v1h-1zM21 60h1v1h-1zM28 60h1v1h-1zM34 60h1v1h-1zM17 61h1v1h-1zM27 61h2v1h-2zM16 62h2v1h-2zM29 62h2v1h-2zM33 62h1v1h-1zM35 62h1v1h-1zM35 63h1v1h-1zM15 64h1v1h-1zM28 64h1v1h-1zM30 64h2v1h-2zM36 64h1v1h-1zM19 66h1v1h-1zM28 66h1v1h-1zM32 66h2v1h-2zM37 66h1v1h-1zM15 67h2v1h-2zM26 67h2v1h-2zM8 68h1v1h-1zM15 68h1v1h-1zM30 68h2v1h-2zM23 69h2v1h-2zM27 69h1v1h-1zM12 70h1v1h-1zM15 70h2v1h-2zM18 70h1v1h-1zM28 70h2v1h-2zM37 70h1v1h-1zM9 71h1v1h-1zM11 71h3v1h-3zM26 71h2v1h-2zM32 72h1v1h-1zM34 72h1v1h-1zM28 73h2v1h-2zM33 73h1v1h-1zM9 76h1v1h-1zM13 76h1v1h-1zM17 76h1v1h-1zM19 76h1v1h-1zM31 76h1v1h-1zM33 76h1v1h-1zM35 76h1v1h-1zM12 77h1v1h-1zM18 77h1v1h-1zM31 77h2v1h-2zM30 78h2v1h-2zM36 78h1v1h-1zM10 79h1v1h-1zM35 79h2v1h-2zM23 80h1v1h-1zM26 80h1v1h-1zM28 80h1v1h-1zM17 81h1v1h-1zM21 81h1v1h-1zM23 81h2v1h-2zM34 81h1v1h-1zM7 82h1v1h-1zM15 82h1v1h-1zM22 82h1v1h-1zM11 83h1v1h-1zM14 83h1v1h-1zM18 83h1v1h-1zM29 83h1v1h-1zM32 83h1v1h-1zM22 84h1v1h-1zM24 84h2v1h-2zM30 84h1v1h-1zM32 84h1v1h-1zM20 85h2v1h-2zM24 85h1v1h-1zM23 86h1v1h-1zM30 86h1v1h-1zM35 86h1v1h-1zM8 87h1v1h-1zM13 87h2v1h-2zM24 87h1v1h-1zM30 87h1v1h-1z"/>
<path fill="#ff6c00" d="M9 0h1v1h-1zM24 0h2v1h-2zM8 1h2v1h-2zM13 2h1v1h-1zM23 2h1v1h-1zM26 2h1v1h-1zM32 2h2v1h-2zM9 3h1v1h-1zM17 3h2v1h-2zM24 3h1v1h-1zM31 3h2v1h-2zM16 4h1v1h-1zM25 4h1v1h-1zM37 5h1v1h-1zM31 6h1v1h-1zM35 6h1v1h-1zM17 7h1v1h-1zM29 7h2v1h-2zM32 7h1v1h-1zM17 8h1v1h-1zM27 8h1v1h-1zM29 8h1v1h-1zM18 9h1v1h-1zM35 9h1v1h-1zM26 10h1v1h-1zM29 10h1v1h-1zM31 10h1v1h-1zM34 10h2v1h-2zM15 11h1v1h-1zM17 11h3v1h-3zM28 11h1v1h-1zM34 11h1v1h-1zM19 12h1v1h-1zM40 12h1v1h-1zM17 13h1v1h-1zM21 13h2v1h-2zM30 13h1v1h-1zM17 14h1v1h-1zM21 14h1v1h-1zM23 14h1v1h-1zM20 16h1v1h-1zM28 16h1v1h-1zM13 17h1v1h-1zM16 17h1v1h-1zM25 17h1v1h-1zM27 17h1v1h-1zM29 17h2v1h-2zM32 17h1v1h-1zM14 18h1v1h-1zM21 18h1v1h-1zM29 18h1v1h-1zM13 19h2v1h-2zM17 19h1v1h-1zM28 19h1v1h-1zM30 19h1v1h-1zM16 20h1v1h-1zM34 20h1v1h-1zM36 20h1v1h-1zM34 21h1v1h-1zM17 22h2v1h-2zM22 22h1v1h-1zM28 22h1v1h-1zM35 22h1v1h-1zM17 23h1v1h-1zM29 23h1v1h-1zM27 24h1v1h-1zM29 24h1v1h-1zM19 25h1v1h-1zM26 25h1v1h-1zM21 26h1v1h-1zM23 26h1v1h-1zM35 26h1v1h-1zM22 27h1v1h-1zM12 28h1v1h-1zM16 28h1v1h-1zM30 28h1v1h-1zM13 29h1v1h-1zM16 29h1v1h-1zM22 29h1v1h-1zM26 29h1v1h-1zM36 29h1v1h-1zM9 30h1v1h-1zM16 30h1v1h-1zM19 30h1v1h-1zM28 30h2v1h-2zM36 30h1v1h-1zM25 31h1v1h-1zM31 32h1v1h-1zM13 33h2v1h-2zM26 33h1v1h-1zM13 34h1v1h-1zM20 34h1v1h-1zM11 35h1v1h-1zM22 35h1v1h-1zM24 35h2v1h-2zM30 35h1v1h-1zM17 36h1v1h-1zM31 36h1v1h-1zM14 37h1v1h-1zM29 37h1v1h-1zM26 38h1v1h-1zM28 38h1v1h-1zM32 38h3v1h-3zM13 39h1v1h-1zM23 39h1v1h-1zM35 39h1v1h-1zM11 40h1v1h-1zM17 40h1v1h-1zM15 41h1v1h-1zM30 41h1v1h-1zM17 42h1v1h-1zM12 43h1v1h-1zM26 43h1v1h-1zM29 43h1v1h-1zM33 43h1v1h-1zM11 44h1v1h-1zM35 44h1v1h-1zM14 45h1v1h-1zM21 45h1v1h-1zM23 45h1v1h-1zM31 45h1v1h-1zM9 46h1v1h-1zM35 46h1v1h-1zM24 47h2v1h-2zM28 47h2v1h-2zM9 48h1v1h-1zM16 48h2v1h-2zM21 48h1v1h-1zM23 48h1v1h-1zM28 48h1v1h-1zM30 48h1v1h-1zM26 49h1v1h-1zM33 49h1v1h-1zM22 50h1v1h-1zM31 50h1v1h-1zM37 50h1v1h-1zM16 51h1v1h-1zM20 51h1v1h-1zM25 51h1v1h-1zM31 51h2v1h-2zM36 51h1v1h-1zM16 52h1v1h-1zM24 52h2v1h-2zM30 52h1v1h-1zM36 52h1v1h-1zM17 53h3v1h-3zM26 53h1v1h-1zM30 53h3v1h-3zM35 53h1v1h-1zM26 54h1v1h-1zM30 54h1v1h-1zM32 54h1v1h-1zM8 55h1v1h-1zM11 55h1v1h-1zM13 55h1v1h-1zM16 55h1v1h-1zM20 55h1v1h-1zM25 55h2v1h-2zM31 55h1v1h-1zM34 55h1v1h-1zM40 55h1v1h-1zM17 56h3v1h-3zM24 56h1v1h-1zM27 56h1v1h-1zM29 56h1v1h-1zM16 57h1v1h-1zM23 57h1v1h-1zM29 57h2v1h-2zM21 58h1v1h-1zM23 59h1v1h-1zM27 59h1v1h-1zM17 60h1v1h-1zM35 60h1v1h-1zM8 61h1v1h-1zM13 61h2v1h-2zM21 61h1v1h-1zM31 61h1v1h-1zM33 61h1v1h-1zM35 61h1v1h-1zM15 62h1v1h-1zM20 62h2v1h-2zM23 62h1v1h-1zM28 62h1v1h-1zM32 62h1v1h-1zM34 62h1v1h-1zM6 63h1v1h-1zM21 63h1v1h-1zM23 63h1v1h-1zM20 64h1v1h-1zM32 64h1v1h-1zM16 65h1v1h-1zM19 65h1v1h-1zM29 65h1v1h-1zM31 65h1v1h-1zM36 65h1v1h-1zM12 66h1v1h-1zM23 66h1v1h-1zM31 66h1v1h-1zM14 67h1v1h-1zM21 67h1v1h-1zM25 67h1v1h-1zM16 68h1v1h-1zM26 68h2v1h-2zM15 69h1v1h-1zM35 69h1v1h-1zM15 71h2v1h-2zM25 71h1v1h-1zM28 71h1v1h-1zM12 72h1v1h-1zM17 72h2v1h-2zM22 72h1v1h-1zM31 72h1v1h-1zM17 73h1v1h-1zM23 73h1v1h-1zM12 74h2v1h-2zM15 74h1v1h-1zM17 74h1v1h-1zM30 74h1v1h-1zM14 75h1v1h-1zM27 75h1v1h-1zM29 75h1v1h-1zM8 76h1v1h-1zM14 76h1v1h-1zM16 76h1v1h-1zM24 76h1v1h-1zM27 76h1v1h-1zM34 76h1v1h-1zM11 77h1v1h-1zM26 77h1v1h-1zM24 78h1v1h-1zM35 78h1v1h-1zM9 79h1v1h-1zM13 79h3v1h-3zM18 79h1v1h-1zM22 79h2v1h-2zM27 79h1v1h-1zM29 79h2v1h-2zM34 79h1v1h-1zM15 80h1v1h-1zM17 80h1v1h-1zM19 80h1v1h-1zM29 80h1v1h-1zM32 80h1v1h-1zM22 81h1v1h-1zM26 81h2v1h-2zM33 81h1v1h-1zM8 82h2v1h-2zM14 82h1v1h-1zM18 82h1v1h-1zM28 82h2v1h-2zM25 83h1v1h-1zM28 83h1v1h-1zM31 83h1v1h-1zM18 84h1v1h-1zM28 84h2v1h-2zM12 85h1v1h-1zM15 85h1v1h-1zM25 85h1v1h-1zM27 85h4v1h-4zM32 85h1v1h-1zM12 86h2v1h-2zM24 86h1v1h-1zM32 86h1v1h-1zM27 87h1v1h-1zM33 87h1v1h-1zM35 87h1v1h-1z"/>
<path fill="#ff5200" d="M23 0h1v1h-1zM26 0h1v1h-1zM29 0h1v1h-1zM23 1h1v1h-1zM25 1h1v1h-1zM30 1h1v1h-1zM21 2h1v1h-1zM28 2h1v1h-1zM14 3h1v1h-1zM16 3h1v1h-1zM23 3h1v1h-1zM26 3h1v1h-1zM18 4h1v1h-1zM23 4h2v1h-2zM26 4h1v1h-1zM30 4h1v1h-1zM17 5h1v1h-1zM21 5h1v1h-1zM31 5h2v1h-2zM18 6h2v1h-2zM19 7h1v1h-1zM22 7h1v1h-1zM25 7h4v1h-4zM31 7h1v1h-1zM33 7h1v1h-1zM21 8h1v1h-1zM26 9h1v1h-1zM18 10h1v1h-1zM21 10h1v1h-1zM28 10h1v1h-1zM29 11h1v1h-1zM31 11h1v1h-1zM18 12h1v1h-1zM20 12h1v1h-1zM33 12h1v1h-1zM19 13h2v1h-2zM18 14h2v1h-2zM26 14h1v1h-1zM28 14h1v1h-1zM16 16h1v1h-1zM21 16h1v1h-1zM23 16h1v1h-1zM36 16h1v1h-1zM15 17h1v1h-1zM22 17h1v1h-1zM31 17h1v1h-1zM18 18h1v1h-1zM21 19h1v1h-1zM29 19h1v1h-1zM31 19h1v1h-1zM9 20h1v1h-1zM31 20h1v1h-1zM33 20h1v1h-1zM32 21h2v1h-2zM20 22h1v1h-1zM24 22h1v1h-1zM13 23h1v1h-1zM28 23h1v1h-1zM17 24h1v1h-1zM13 25h1v1h-1zM32 25h1v1h-1zM36 25h2v1h-2zM18 26h2v1h-2zM27 26h1v1h-1zM31 26h1v1h-1zM36 26h1v1h-1zM17 27h1v1h-1zM25 27h1v1h-1zM27 27h1v1h-1zM27 28h1v1h-1zM31 29h1v1h-1zM13 30h1v1h-1zM25 30h2v1h-2zM16 31h1v1h-1zM22 31h1v1h-1zM18 32h1v1h-1zM20 32h2v1h-2zM15 33h1v1h-1zM19 33h1v1h-1zM22 33h1v1h-1zM32 33h1v1h-1zM21 34h2v1h-2zM15 35h1v1h-1zM18 35h1v1h-1zM29 35h1v1h-1zM32 35h1v1h-1zM22 36h1v1h-1zM13 37h1v1h-1zM20 37h1v1h-1zM18 38h3v1h-3zM29 38h2v1h-2zM17 39h1v1h-1zM20 39h1v1h-1zM22 39h1v1h-1zM12 40h1v1h-1zM23 40h1v1h-1zM28 40h1v1h-1zM30 40h2v1h-2zM16 41h1v1h-1zM24 41h1v1h-1zM26 41h1v1h-1zM16 42h1v1h-1zM26 42h1v1h-1zM28 42h2v1h-2zM14 43h1v1h-1zM20 43h3v1h-3zM24 43h1v1h-1zM16 44h1v1h-1zM26 44h3v1h-3zM31 44h1v1h-1zM19 45h1v1h-1zM28 45h1v1h-1zM18 46h1v1h-1zM24 46h1v1h-1zM13 47h1v1h-1zM18 48h1v1h-1zM20 48h1v1h-1zM24 48h1v1h-1zM16 49h4v1h-4zM29 49h1v1h-1zM37 49h1v1h-1zM16 50h1v1h-1zM19 50h1v1h-1zM21 50h1v1h-1zM25 50h1v1h-1zM33 50h1v1h-1zM35 50h1v1h-1zM17 51h1v1h-1zM21 51h2v1h-2zM15 52h1v1h-1zM29 52h1v1h-1zM23 53h1v1h-1zM18 54h2v1h-2zM29 55h2v1h-2zM32 55h1v1h-1zM11 56h1v1h-1zM23 56h1v1h-1zM25 56h1v1h-1zM28 56h1v1h-1zM33 56h1v1h-1zM13 57h1v1h-1zM28 58h1v1h-1zM12 59h1v1h-1zM17 59h1v1h-1zM26 59h1v1h-1zM34 59h1v1h-1zM26 60h2v1h-2zM31 60h2v1h-2zM22 61h1v1h-1zM25 61h1v1h-1zM29 61h1v1h-1zM32 61h1v1h-1zM18 62h1v1h-1zM31 62h1v1h-1zM17 63h2v1h-2zM22 63h1v1h-1zM31 63h1v1h-1zM23 64h1v1h-1zM25 64h1v1h-1zM35 64h1v1h-1zM20 65h1v1h-1zM26 65h1v1h-1zM32 65h1v1h-1zM34 65h1v1h-1zM22 66h1v1h-1zM25 66h1v1h-1zM28 67h1v1h-1zM30 67h3v1h-3zM28 68h2v1h-2zM20 69h1v1h-1zM25 69h1v1h-1zM21 70h1v1h-1zM30 70h1v1h-1zM24 71h1v1h-1zM19 72h1v1h-1zM25 72h1v1h-1zM16 73h1v1h-1zM22 73h1v1h-1zM30 73h1v1h-1zM16 74h1v1h-1zM19 74h2v1h-2zM17 75h1v1h-1zM28 75h1v1h-1zM30 75h1v1h-1zM20 76h1v1h-1zM15 77h1v1h-1zM23 77h1v1h-1zM23 78h1v1h-1zM25 78h1v1h-1zM21 79h1v1h-1zM24 79h1v1h-1zM18 80h1v1h-1zM20 80h1v1h-1zM27 80h1v1h-1zM30 80h1v1h-1zM33 80h1v1h-1zM14 81h1v1h-1zM20 81h1v1h-1zM28 81h3v1h-3zM10 82h1v1h-1zM13 82h1v1h-1zM16 82h1v1h-1zM20 82h1v1h-1zM30 82h4v1h-4zM13 83h1v1h-1zM20 83h3v1h-3zM14 84h1v1h-1zM16 84h1v1h-1zM19 84h1v1h-1zM23 84h1v1h-1zM23 85h1v1h-1zM15 86h1v1h-1zM26 86h1v1h-1zM12 87h1v1h-1zM15 87h1v1h-1zM32 87h1v1h-1z"/>
<path fill="#ff3800" d="M17 0h1v1h-1zM31 1h2v1h-2zM17 2h1v1h-1zM22 2h1v1h-1zM29 2h3v1h-3zM15 3h1v1h-1zM29 3h1v1h-1zM14 4h1v1h-1zM22 4h1v1h-1zM33 5h1v1h-1zM25 6h1v1h-1zM18 7h1v1h-1zM20 7h1v1h-1zM13 8h1v1h-1zM26 8h1v1h-1zM21 9h2v1h-2zM21 11h1v1h-1zM21 12h1v1h-1zM23 13h1v1h-1zM31 13h1v1h-1zM25 16h1v1h-1zM32 19h1v1h-1zM22 20h2v1h-2zM30 20h1v1h-1zM19 21h1v1h-1zM22 21h2v1h-2zM35 21h1v1h-1zM19 22h1v1h-1zM33 22h1v1h-1zM25 23h1v1h-1zM15 25h1v1h-1zM25 26h1v1h-1zM26 27h1v1h-1zM32 27h1v1h-1zM17 28h1v1h-1zM28 28h1v1h-1zM31 28h1v1h-1zM14 29h1v1h-1zM20 29h2v1h-2zM21 31h1v1h-1zM26 31h1v1h-1zM19 32h1v1h-1zM26 32h1v1h-1zM16 35h1v1h-1zM31 35h1v1h-1zM28 36h1v1h-1zM22 37h1v1h-1zM28 37h1v1h-1zM33 37h1v1h-1zM31 38h1v1h-1zM21 39h1v1h-1zM26 39h2v1h-2zM16 40h1v1h-1zM20 40h1v1h-1zM22 40h1v1h-1zM27 40h1v1h-1zM33 40h1v1h-1zM17 41h1v1h-1zM20 41h1v1h-1zM22 41h1v1h-1zM29 41h1v1h-1zM23 42h2v1h-2zM18 43h1v1h-1zM28 43h1v1h-1zM30 43h1v1h-1zM13 44h1v1h-1zM19 44h1v1h-1zM21 44h1v1h-1zM16 46h1v1h-1zM23 46h1v1h-1zM32 46h1v1h-1zM16 47h2v1h-2zM22 47h1v1h-1zM12 48h1v1h-1zM26 48h1v1h-1zM32 48h2v1h-2zM21 49h1v1h-1zM24 50h1v1h-1zM23 51h1v1h-1zM27 51h2v1h-2zM31 52h1v1h-1zM11 53h1v1h-1zM13 54h1v1h-1zM21 54h1v1h-1zM9 55h1v1h-1zM14 55h1v1h-1zM14 56h1v1h-1zM22 56h1v1h-1zM26 56h1v1h-1zM31 56h1v1h-1zM15 57h1v1h-1zM18 57h1v1h-1zM26 57h1v1h-1zM15 59h2v1h-2zM22 59h1v1h-1zM18 60h1v1h-1zM23 60h1v1h-1zM25 60h1v1h-1zM33 60h1v1h-1zM18 61h3v1h-3zM23 61h1v1h-1zM19 62h1v1h-1zM15 63h1v1h-1zM17 64h1v1h-1zM26 64h1v1h-1zM18 65h1v1h-1zM21 65h2v1h-2zM35 65h1v1h-1zM18 66h1v1h-1zM21 66h1v1h-1zM22 67h1v1h-1zM17 68h1v1h-1zM23 68h1v1h-1zM17 69h3v1h-3zM14 70h1v1h-1zM24 70h1v1h-1zM17 71h1v1h-1zM22 71h1v1h-1zM23 72h2v1h-2zM9 73h1v1h-1zM24 73h1v1h-1zM18 74h1v1h-1zM24 74h1v1h-1zM18 75h2v1h-2zM23 75h2v1h-2zM19 78h1v1h-1zM27 78h1v1h-1zM25 79h1v1h-1zM31 79h2v1h-2zM22 80h1v1h-1zM19 81h1v1h-1zM11 82h2v1h-2zM19 82h1v1h-1zM26 82h2v1h-2zM19 83h1v1h-1zM23 83h1v1h-1zM13 84h1v1h-1zM27 84h1v1h-1zM16 85h1v1h-1zM19 85h1v1h-1zM19 86h1v1h-1zM27 86h1v1h-1zM31 86h1v1h-1zM20 87h2v1h-2zM23 87h1v1h-1zM26 87h1v1h-1z"/>
<path fill="#ff1d00" d="M22 0h1v1h-1zM30 0h1v1h-1zM29 1h1v1h-1zM14 2h2v1h-2zM19 4h1v1h-1zM31 4h1v1h-1zM26 6h1v1h-1zM32 6h1v1h-1zM27 9h1v1h-1zM19 10h1v1h-1zM31 12h1v1h-1zM32 13h1v1h-1zM31 25h1v1h-1zM35 25h1v1h-1zM26 26h1v1h-1zM18 28h1v1h-1zM14 31h1v1h-1zM20 31h1v1h-1zM16 33h1v1h-1zM20 33h2v1h-2zM25 33h1v1h-1zM21 36h1v1h-1zM21 37h1v1h-1zM27 38h1v1h-1zM18 39h1v1h-1zM19 40h1v1h-1zM32 40h1v1h-1zM23 41h1v1h-1zM33 42h1v1h-1zM17 43h1v1h-1zM20 45h1v1h-1zM14 46h1v1h-1zM17 46h1v1h-1zM20 46h1v1h-1zM22 46h1v1h-1zM18 47h1v1h-1zM22 48h1v1h-1zM20 49h1v1h-1zM18 50h1v1h-1zM20 50h1v1h-1zM14 52h1v1h-1zM21 52h2v1h-2zM20 54h1v1h-1zM12 56h1v1h-1zM15 56h1v1h-1zM30 56h1v1h-1zM32 56h1v1h-1zM22 57h1v1h-1zM27 57h2v1h-2zM16 58h1v1h-1zM27 58h1v1h-1zM14 59h1v1h-1zM21 59h1v1h-1zM20 60h1v1h-1zM16 63h1v1h-1zM19 64h1v1h-1zM25 65h1v1h-1zM19 67h1v1h-1zM14 68h1v1h-1zM21 68h1v1h-1zM14 69h1v1h-1zM16 69h1v1h-1zM22 70h1v1h-1zM14 71h1v1h-1zM18 71h4v1h-4zM29 71h1v1h-1zM28 72h3v1h-3zM22 74h1v1h-1zM21 76h1v1h-1zM23 76h1v1h-1zM17 77h1v1h-1zM22 77h1v1h-1zM24 77h1v1h-1zM20 78h1v1h-1zM26 78h1v1h-1zM17 79h1v1h-1zM28 79h1v1h-1zM14 80h1v1h-1zM32 81h1v1h-1zM26 84h1v1h-1zM18 85h1v1h-1zM26 85h1v1h-1zM16 86h1v1h-1zM20 86h1v1h-1zM22 86h1v1h-1zM25 86h1v1h-1zM19 87h1v1h-1zM25 87h1v1h-1z"/>
<path fill="#ff0300" d="M21 0h1v1h-1zM27 3h2v1h-2zM20 4h1v1h-1zM20 5h1v1h-1zM20 6h1v1h-1zM22 8h1v1h-1zM30 8h1v1h-1zM21 15h1v1h-1zM16 19h1v1h-1zM17 25h1v1h-1zM17 26h1v1h-1zM18 29h1v1h-1zM19 31h1v1h-1zM31 39h1v1h-1zM18 40h1v1h-1zM18 42h1v1h-1zM21 42h2v1h-2zM17 44h1v1h-1zM18 45h1v1h-1zM19 46h1v1h-1zM27 47h1v1h-1zM26 51h1v1h-1zM14 57h1v1h-1zM14 58h2v1h-2zM19 59h2v1h-2zM30 60h1v1h-1zM16 64h1v1h-1zM18 64h1v1h-1zM17 65h1v1h-1zM13 68h1v1h-1zM17 70h1v1h-1zM18 73h1v1h-1zM20 73h1v1h-1zM23 74h1v1h-1zM21 75h1v1h-1zM16 77h1v1h-1zM20 77h1v1h-1zM21 78h2v1h-2zM19 79h2v1h-2zM26 79h1v1h-1zM31 81h1v1h-1zM17 84h1v1h-1zM17 85h1v1h-1zM17 86h1v1h-1z"/>
<path fill="#e80000" d="M21 1h2v1h-2zM19 29h1v1h-1zM17 30h2v1h-2zM21 38h2v1h-2zM33 39h1v1h-1zM21 41h1v1h-1zM17 45h1v1h-1zM13 56h1v1h-1zM19 60h1v1h-1zM23 65h2v1h-2zM18 68h1v1h-1zM20 68h1v1h-1zM21 69h1v1h-1zM19 73h1v1h-1zM20 75h1v1h-1zM22 75h1v1h-1zM21 77h1v1h-1zM17 83h1v1h-1zM22 87h1v1h-1z"/>
<path fill="#ce0000" d="M22 45h1v1h-1zM23 71h1v1h-1z"/>
<path fill="#b40000" d="M17 29h1v1h-1zM22 68h1v1h-1z"/>
</g>
<rect x="29.2" y="33.9" width="232.60" height="232.50" fill="none" stroke="#4a4a4a" stroke-width="0.7"/>
<line x1="261.8" y1="36.2" x2="263.8" y2="36.2" stroke="#808080" stroke-width="0.6"/>
<text x="265.3" y="39.2" font-size="8.6" text-anchor="start">2000</text>
<line x1="261.8" y1="57.3" x2="263.8" y2="57.3" stroke="#808080" stroke-width="0.6"/>
<text x="265.3" y="60.3" font-size="8.6" text-anchor="start">2001</text>
<line x1="261.8" y1="78.5" x2="263.8" y2="78.5" stroke="#808080" stroke-width="0.6"/>
<text x="265.3" y="81.5" font-size="8.6" text-anchor="start">2002</text>
<line x1="261.8" y1="99.6" x2="263.8" y2="99.6" stroke="#808080" stroke-width="0.6"/>
<text x="265.3" y="102.6" font-size="8.6" text-anchor="start">2003</text>
<line x1="261.8" y1="120.7" x2="263.8" y2="120.7" stroke="#808080" stroke-width="0.6"/>
<text x="265.3" y="123.7" font-size="8.6" text-anchor="start">2004</text>
<line x1="261.8" y1="141.9" x2="263.8" y2="141.9" stroke="#808080" stroke-width="0.6"/>
<text x="265.3" y="144.9" font-size="8.6" text-anchor="start">2005</text>
<line x1="261.8" y1="163.0" x2="263.8" y2="163.0" stroke="#808080" stroke-width="0.6"/>
<text x="265.3" y="166.0" font-size="8.6" text-anchor="start">2006</text>
<line x1="261.8" y1="184.2" x2="263.8" y2="184.2" stroke="#808080" stroke-width="0.6"/>
<text x="265.3" y="187.2" font-size="8.6" text-anchor="start">2007</text>
<line x1="261.8" y1="205.3" x2="263.8" y2="205.3" stroke="#808080" stroke-width="0.6"/>
<text x="265.3" y="208.3" font-size="8.6" text-anchor="start">2008</text>
<line x1="261.8" y1="226.4" x2="263.8" y2="226.4" stroke="#808080" stroke-width="0.6"/>
<text x="265.3" y="229.4" font-size="8.6" text-anchor="start">2009</text>
<line x1="261.8" y1="247.6" x2="263.8" y2="247.6" stroke="#808080" stroke-width="0.6"/>
<text x="265.3" y="250.6" font-size="8.6" text-anchor="start">2010</text>
<rect x="285.2" y="34.1" width="62.00" height="231.90" fill="#fff" stroke="#808080" stroke-width="1"/>
<text x="285.2" y="276.8" font-size="9.3" text-anchor="middle">277</text>
<line x1="307.2" y1="34.1" x2="307.2" y2="36.1" stroke="#808080" stroke-width="0.6"/>
<line x1="307.2" y1="266.0" x2="307.2" y2="264.0" stroke="#808080" stroke-width="0.6"/>
<text x="307.2" y="276.8" font-size="9.3" text-anchor="middle">292</text>
<line x1="329.3" y1="34.1" x2="329.3" y2="36.1" stroke="#808080" stroke-width="0.6"/>
<line x1="329.3" y1="266.0" x2="329.3" y2="264.0" stroke="#808080" stroke-width="0.6"/>
<text x="329.3" y="276.8" font-size="9.3" text-anchor="middle">307</text>
<text x="316.0" y="286.0" font-size="9.3" text-anchor="middle">LST (K)</text>
<svg x="285.2" y="34.1" width="62.00" height="231.90" viewBox="285.2 34.1 62.00 231.90" overflow="hidden">
<path d="M318.4 44.7H298.6M332.4 44.7H339.7" stroke="#1a9a3a" stroke-width="1.3" stroke-dasharray="6.5 2.5" fill="none"/>
<path d="M298.6 43.8V45.6M339.7 43.8V45.6" stroke="#1a9a3a" stroke-width="1.3" fill="none"/>
<rect x="318.4" y="42.3" width="14.0" height="4.8" fill="none" stroke="#1a9a3a" stroke-width="1.2"/>
<line x1="327.5" y1="42.3" x2="327.5" y2="47.1" stroke="#1a9a3a" stroke-width="1.2"/>
<path d="M340.5 44.7h3.4M342.2 43.0v3.4" stroke="#1a9a3a" stroke-width="0.9"/>
<path d="M317.2 49.8H298.9M329.6 49.8H348.4" stroke="#d62728" stroke-width="1.3" stroke-dasharray="6.5 2.5" fill="none"/>
<path d="M298.9 48.9V50.7M348.4 48.9V50.7" stroke="#d62728" stroke-width="1.3" fill="none"/>
<rect x="317.2" y="47.4" width="12.3" height="4.8" fill="none" stroke="#d62728" stroke-width="1.2"/>
<line x1="324.2" y1="47.4" x2="324.2" y2="52.2" stroke="#d62728" stroke-width="1.2"/>
<path d="M291.4 49.8h3.4M293.1 48.1v3.4" stroke="#d62728" stroke-width="0.9"/>
<path d="M293.1 49.8h3.4M294.8 48.1v3.4" stroke="#d62728" stroke-width="0.9"/>
<path d="M311.7 65.8H299.9M328.3 65.8H336.2" stroke="#1a9a3a" stroke-width="1.3" stroke-dasharray="6.5 2.5" fill="none"/>
<path d="M299.9 64.9V66.7M336.2 64.9V66.7" stroke="#1a9a3a" stroke-width="1.3" fill="none"/>
<rect x="311.7" y="63.4" width="16.6" height="4.8" fill="none" stroke="#1a9a3a" stroke-width="1.2"/>
<line x1="321.5" y1="63.4" x2="321.5" y2="68.2" stroke="#1a9a3a" stroke-width="1.2"/>
<path d="M312.2 70.9H293.4M324.6 70.9H337.4" stroke="#d62728" stroke-width="1.3" stroke-dasharray="6.5 2.5" fill="none"/>
<path d="M293.4 70.0V71.8M337.4 70.0V71.8" stroke="#d62728" stroke-width="1.3" fill="none"/>
<rect x="312.2" y="68.5" width="12.3" height="4.8" fill="none" stroke="#d62728" stroke-width="1.2"/>
<line x1="318.4" y1="68.5" x2="318.4" y2="73.3" stroke="#d62728" stroke-width="1.2"/>
<path d="M290.1 70.9h3.4M291.8 69.2v3.4" stroke="#d62728" stroke-width="0.9"/>
<path d="M314.6 86.8H298.7M329.4 86.8H334.0" stroke="#1a9a3a" stroke-width="1.3" stroke-dasharray="6.5 2.5" fill="none"/>
<path d="M298.7 85.9V87.7M334.0 85.9V87.7" stroke="#1a9a3a" stroke-width="1.3" fill="none"/>
<rect x="314.6" y="84.4" width="14.8" height="4.8" fill="none" stroke="#1a9a3a" stroke-width="1.2"/>
<line x1="326.2" y1="84.4" x2="326.2" y2="89.2" stroke="#1a9a3a" stroke-width="1.2"/>
<path d="M312.8 92.0H293.1M326.7 92.0H337.4" stroke="#d62728" stroke-width="1.3" stroke-dasharray="6.5 2.5" fill="none"/>
<path d="M293.1 91.1V92.9M337.4 91.1V92.9" stroke="#d62728" stroke-width="1.3" fill="none"/>
<rect x="312.8" y="89.6" width="13.8" height="4.8" fill="none" stroke="#d62728" stroke-width="1.2"/>
<line x1="320.2" y1="89.6" x2="320.2" y2="94.4" stroke="#d62728" stroke-width="1.2"/>
<path d="M315.3 107.9H304.8M329.9 107.9H339.7" stroke="#1a9a3a" stroke-width="1.3" stroke-dasharray="6.5 2.5" fill="none"/>
<path d="M304.8 107.0V108.8M339.7 107.0V108.8" stroke="#1a9a3a" stroke-width="1.3" fill="none"/>
<rect x="315.3" y="105.5" width="14.6" height="4.8" fill="none" stroke="#1a9a3a" stroke-width="1.2"/>
<line x1="326.2" y1="105.5" x2="326.2" y2="110.3" stroke="#1a9a3a" stroke-width="1.2"/>
<path d="M313.7 113.1H298.9M327.1 113.1H341.4" stroke="#d62728" stroke-width="1.3" stroke-dasharray="6.5 2.5" fill="none"/>
<path d="M298.9 112.2V114.0M341.4 112.2V114.0" stroke="#d62728" stroke-width="1.3" fill="none"/>
<rect x="313.7" y="110.7" width="13.4" height="4.8" fill="none" stroke="#d62728" stroke-width="1.2"/>
<line x1="321.5" y1="110.7" x2="321.5" y2="115.5" stroke="#d62728" stroke-width="1.2"/>
<path d="M290.1 113.1h3.4M291.8 111.4v3.4" stroke="#d62728" stroke-width="0.9"/>
<path d="M291.4 113.1h3.4M293.1 111.4v3.4" stroke="#d62728" stroke-width="0.9"/>
<path d="M312.5 129.0H302.4M330.0 129.0H336.5" stroke="#1a9a3a" stroke-width="1.3" stroke-dasharray="6.5 2.5" fill="none"/>
<path d="M302.4 128.1V129.9M336.5 128.1V129.9" stroke="#1a9a3a" stroke-width="1.3" fill="none"/>
<rect x="312.5" y="126.6" width="17.5" height="4.8" fill="none" stroke="#1a9a3a" stroke-width="1.2"/>
<line x1="322.7" y1="126.6" x2="322.7" y2="131.4" stroke="#1a9a3a" stroke-width="1.2"/>
<path d="M314.6 134.1H295.8M327.5 134.1H336.8" stroke="#d62728" stroke-width="1.3" stroke-dasharray="6.5 2.5" fill="none"/>
<path d="M295.8 133.2V135.0M336.8 133.2V135.0" stroke="#d62728" stroke-width="1.3" fill="none"/>
<rect x="314.6" y="131.7" width="12.9" height="4.8" fill="none" stroke="#d62728" stroke-width="1.2"/>
<line x1="321.5" y1="131.7" x2="321.5" y2="136.5" stroke="#d62728" stroke-width="1.2"/>
<path d="M286.4 134.1h3.4M288.1 132.4v3.4" stroke="#d62728" stroke-width="0.9"/>
<path d="M287.9 134.1h3.4M289.6 132.4v3.4" stroke="#d62728" stroke-width="0.9"/>
<path d="M289.4 134.1h3.4M291.1 132.4v3.4" stroke="#d62728" stroke-width="0.9"/>
<path d="M313.3 150.1H303.7M331.7 150.1H339.4" stroke="#1a9a3a" stroke-width="1.3" stroke-dasharray="6.5 2.5" fill="none"/>
<path d="M303.7 149.2V151.0M339.4 149.2V151.0" stroke="#1a9a3a" stroke-width="1.3" fill="none"/>
<rect x="313.3" y="147.7" width="18.4" height="4.8" fill="none" stroke="#1a9a3a" stroke-width="1.2"/>
<line x1="327.1" y1="147.7" x2="327.1" y2="152.5" stroke="#1a9a3a" stroke-width="1.2"/>
<path d="M316.4 155.2H299.3M328.6 155.2H341.2" stroke="#d62728" stroke-width="1.3" stroke-dasharray="6.5 2.5" fill="none"/>
<path d="M299.3 154.3V156.1M341.2 154.3V156.1" stroke="#d62728" stroke-width="1.3" fill="none"/>
<rect x="316.4" y="152.8" width="12.2" height="4.8" fill="none" stroke="#d62728" stroke-width="1.2"/>
<line x1="322.7" y1="152.8" x2="322.7" y2="157.6" stroke="#d62728" stroke-width="1.2"/>
<path d="M283.2 155.2h3.4M284.9 153.5v3.4" stroke="#d62728" stroke-width="0.9"/>
<path d="M289.4 155.2h3.4M291.1 153.5v3.4" stroke="#d62728" stroke-width="0.9"/>
<path d="M292.2 155.2h3.4M293.9 153.5v3.4" stroke="#d62728" stroke-width="0.9"/>
<path d="M294.8 155.2h3.4M296.5 153.5v3.4" stroke="#d62728" stroke-width="0.9"/>
<path d="M315.5 171.2H302.0M331.7 171.2H338.0" stroke="#1a9a3a" stroke-width="1.3" stroke-dasharray="6.5 2.5" fill="none"/>
<path d="M302.0 170.3V172.1M338.0 170.3V172.1" stroke="#1a9a3a" stroke-width="1.3" fill="none"/>
<rect x="315.5" y="168.8" width="16.2" height="4.8" fill="none" stroke="#1a9a3a" stroke-width="1.2"/>
<line x1="326.2" y1="168.8" x2="326.2" y2="173.6" stroke="#1a9a3a" stroke-width="1.2"/>
<path d="M339.8 171.2h3.4M341.5 169.5v3.4" stroke="#1a9a3a" stroke-width="0.9"/>
<path d="M315.5 176.3H298.4M328.0 176.3H343.3" stroke="#d62728" stroke-width="1.3" stroke-dasharray="6.5 2.5" fill="none"/>
<path d="M298.4 175.4V177.2M343.3 175.4V177.2" stroke="#d62728" stroke-width="1.3" fill="none"/>
<rect x="315.5" y="173.9" width="12.5" height="4.8" fill="none" stroke="#d62728" stroke-width="1.2"/>
<line x1="321.8" y1="173.9" x2="321.8" y2="178.7" stroke="#d62728" stroke-width="1.2"/>
<path d="M283.2 176.3h3.4M284.9 174.6v3.4" stroke="#d62728" stroke-width="0.9"/>
<path d="M292.2 176.3h3.4M293.9 174.6v3.4" stroke="#d62728" stroke-width="0.9"/>
<path d="M293.9 176.3h3.4M295.6 174.6v3.4" stroke="#d62728" stroke-width="0.9"/>
<path d="M316.4 192.2H304.6M328.0 192.2H334.0" stroke="#1a9a3a" stroke-width="1.3" stroke-dasharray="6.5 2.5" fill="none"/>
<path d="M304.6 191.3V193.1M334.0 191.3V193.1" stroke="#1a9a3a" stroke-width="1.3" fill="none"/>
<rect x="316.4" y="189.8" width="11.6" height="4.8" fill="none" stroke="#1a9a3a" stroke-width="1.2"/>
<line x1="325.3" y1="189.8" x2="325.3" y2="194.6" stroke="#1a9a3a" stroke-width="1.2"/>
<path d="M314.2 197.4H296.5M325.8 197.4H335.8" stroke="#d62728" stroke-width="1.3" stroke-dasharray="6.5 2.5" fill="none"/>
<path d="M296.5 196.5V198.3M335.8 196.5V198.3" stroke="#d62728" stroke-width="1.3" fill="none"/>
<rect x="314.2" y="195.0" width="11.6" height="4.8" fill="none" stroke="#d62728" stroke-width="1.2"/>
<line x1="319.9" y1="195.0" x2="319.9" y2="199.8" stroke="#d62728" stroke-width="1.2"/>
<path d="M288.6 197.4h3.4M290.3 195.7v3.4" stroke="#d62728" stroke-width="0.9"/>
<path d="M290.4 197.4h3.4M292.1 195.7v3.4" stroke="#d62728" stroke-width="0.9"/>
<path d="M293.1 197.4h3.4M294.8 195.7v3.4" stroke="#d62728" stroke-width="0.9"/>
<path d="M314.6 213.3H301.1M332.5 213.3H338.0" stroke="#1a9a3a" stroke-width="1.3" stroke-dasharray="6.5 2.5" fill="none"/>
<path d="M301.1 212.4V214.2M338.0 212.4V214.2" stroke="#1a9a3a" stroke-width="1.3" fill="none"/>
<rect x="314.6" y="210.9" width="17.9" height="4.8" fill="none" stroke="#1a9a3a" stroke-width="1.2"/>
<line x1="327.1" y1="210.9" x2="327.1" y2="215.7" stroke="#1a9a3a" stroke-width="1.2"/>
<path d="M314.9 218.5H297.5M329.0 218.5H339.4" stroke="#d62728" stroke-width="1.3" stroke-dasharray="6.5 2.5" fill="none"/>
<path d="M297.5 217.6V219.4M339.4 217.6V219.4" stroke="#d62728" stroke-width="1.3" fill="none"/>
<rect x="314.9" y="216.1" width="14.1" height="4.8" fill="none" stroke="#d62728" stroke-width="1.2"/>
<line x1="323.1" y1="216.1" x2="323.1" y2="220.9" stroke="#d62728" stroke-width="1.2"/>
<path d="M285.0 218.5h3.4M286.7 216.8v3.4" stroke="#d62728" stroke-width="0.9"/>
<path d="M290.4 218.5h3.4M292.1 216.8v3.4" stroke="#d62728" stroke-width="0.9"/>
<path d="M317.2 234.4H301.1M332.5 234.4H341.2" stroke="#1a9a3a" stroke-width="1.3" stroke-dasharray="6.5 2.5" fill="none"/>
<path d="M301.1 233.5V235.3M341.2 233.5V235.3" stroke="#1a9a3a" stroke-width="1.3" fill="none"/>
<rect x="317.2" y="232.0" width="15.3" height="4.8" fill="none" stroke="#1a9a3a" stroke-width="1.2"/>
<line x1="325.0" y1="232.0" x2="325.0" y2="236.8" stroke="#1a9a3a" stroke-width="1.2"/>
<path d="M314.2 239.6H297.0M329.0 239.6H339.7" stroke="#d62728" stroke-width="1.3" stroke-dasharray="6.5 2.5" fill="none"/>
<path d="M297.0 238.7V240.5M339.7 238.7V240.5" stroke="#d62728" stroke-width="1.3" fill="none"/>
<rect x="314.2" y="237.2" width="14.8" height="4.8" fill="none" stroke="#d62728" stroke-width="1.2"/>
<line x1="322.1" y1="237.2" x2="322.1" y2="242.0" stroke="#d62728" stroke-width="1.2"/>
<path d="M284.1 239.6h3.4M285.8 237.9v3.4" stroke="#d62728" stroke-width="0.9"/>
<path d="M288.6 239.6h3.4M290.3 237.9v3.4" stroke="#d62728" stroke-width="0.9"/>
<path d="M314.2 255.5H299.8M331.1 255.5H339.4" stroke="#1a9a3a" stroke-width="1.3" stroke-dasharray="6.5 2.5" fill="none"/>
<path d="M299.8 254.6V256.4M339.4 254.6V256.4" stroke="#1a9a3a" stroke-width="1.3" fill="none"/>
<rect x="314.2" y="253.1" width="16.9" height="4.8" fill="none" stroke="#1a9a3a" stroke-width="1.2"/>
<line x1="326.2" y1="253.1" x2="326.2" y2="257.9" stroke="#1a9a3a" stroke-width="1.2"/>
<path d="M314.2 260.6H296.5M328.0 260.6H343.3" stroke="#d62728" stroke-width="1.3" stroke-dasharray="6.5 2.5" fill="none"/>
<path d="M296.5 259.7V261.5M343.3 259.7V261.5" stroke="#d62728" stroke-width="1.3" fill="none"/>
<rect x="314.2" y="258.2" width="13.8" height="4.8" fill="none" stroke="#d62728" stroke-width="1.2"/>
<line x1="321.8" y1="258.2" x2="321.8" y2="263.0" stroke="#d62728" stroke-width="1.2"/>
<path d="M287.8 260.6h3.4M289.5 258.9v3.4" stroke="#d62728" stroke-width="0.9"/>
<path d="M290.4 260.6h3.4M292.1 258.9v3.4" stroke="#d62728" stroke-width="0.9"/>
<path d="M293.1 260.6h3.4M294.8 258.9v3.4" stroke="#d62728" stroke-width="0.9"/>
</svg>
<rect x="30.5" y="272.4" width="230.80" height="50.60" fill="#fff" stroke="#808080" stroke-width="1"/>
<line x1="30.5" y1="310.4" x2="32.5" y2="310.4" stroke="#808080" stroke-width="0.6"/>
<line x1="261.3" y1="310.4" x2="259.3" y2="310.4" stroke="#808080" stroke-width="0.6"/>
<text x="28.3" y="313.6" font-size="9.3" text-anchor="end">290</text>
<line x1="30.5" y1="297.7" x2="32.5" y2="297.7" stroke="#808080" stroke-width="0.6"/>
<line x1="261.3" y1="297.7" x2="259.3" y2="297.7" stroke="#808080" stroke-width="0.6"/>
<text x="28.3" y="300.9" font-size="9.3" text-anchor="end">300</text>
<line x1="30.5" y1="285.0" x2="32.5" y2="285.0" stroke="#808080" stroke-width="0.6"/>
<line x1="261.3" y1="285.0" x2="259.3" y2="285.0" stroke="#808080" stroke-width="0.6"/>
<text x="28.3" y="288.2" font-size="9.3" text-anchor="end">310</text>
<line x1="32.2" y1="272.4" x2="32.2" y2="274.4" stroke="#808080" stroke-width="0.6"/>
<line x1="32.2" y1="323.0" x2="32.2" y2="321.0" stroke="#808080" stroke-width="0.6"/>
<text x="32.2" y="333.5" font-size="9.3" text-anchor="middle">1</text>
<line x1="47.6" y1="272.4" x2="47.6" y2="274.4" stroke="#808080" stroke-width="0.6"/>
<line x1="47.6" y1="323.0" x2="47.6" y2="321.0" stroke="#808080" stroke-width="0.6"/>
<text x="47.6" y="333.5" font-size="9.3" text-anchor="middle">4</text>
<line x1="63.1" y1="272.4" x2="63.1" y2="274.4" stroke="#808080" stroke-width="0.6"/>
<line x1="63.1" y1="323.0" x2="63.1" y2="321.0" stroke="#808080" stroke-width="0.6"/>
<text x="63.1" y="333.5" font-size="9.3" text-anchor="middle">7</text>
<line x1="78.5" y1="272.4" x2="78.5" y2="274.4" stroke="#808080" stroke-width="0.6"/>
<line x1="78.5" y1="323.0" x2="78.5" y2="321.0" stroke="#808080" stroke-width="0.6"/>
<text x="78.5" y="333.5" font-size="9.3" text-anchor="middle">10</text>
<line x1="93.9" y1="272.4" x2="93.9" y2="274.4" stroke="#808080" stroke-width="0.6"/>
<line x1="93.9" y1="323.0" x2="93.9" y2="321.0" stroke="#808080" stroke-width="0.6"/>
<text x="93.9" y="333.5" font-size="9.3" text-anchor="middle">13</text>
<line x1="109.3" y1="272.4" x2="109.3" y2="274.4" stroke="#808080" stroke-width="0.6"/>
<line x1="109.3" y1="323.0" x2="109.3" y2="321.0" stroke="#808080" stroke-width="0.6"/>
<text x="109.3" y="333.5" font-size="9.3" text-anchor="middle">16</text>
<line x1="124.8" y1="272.4" x2="124.8" y2="274.4" stroke="#808080" stroke-width="0.6"/>
<line x1="124.8" y1="323.0" x2="124.8" y2="321.0" stroke="#808080" stroke-width="0.6"/>
<text x="124.8" y="333.5" font-size="9.3" text-anchor="middle">19</text>
<line x1="140.2" y1="272.4" x2="140.2" y2="274.4" stroke="#808080" stroke-width="0.6"/>
<line x1="140.2" y1="323.0" x2="140.2" y2="321.0" stroke="#808080" stroke-width="0.6"/>
<text x="140.2" y="333.5" font-size="9.3" text-anchor="middle">22</text>
<line x1="155.6" y1="272.4" x2="155.6" y2="274.4" stroke="#808080" stroke-width="0.6"/>
<line x1="155.6" y1="323.0" x2="155.6" y2="321.0" stroke="#808080" stroke-width="0.6"/>
<text x="155.6" y="333.5" font-size="9.3" text-anchor="middle">25</text>
<line x1="171.1" y1="272.4" x2="171.1" y2="274.4" stroke="#808080" stroke-width="0.6"/>
<line x1="171.1" y1="323.0" x2="171.1" y2="321.0" stroke="#808080" stroke-width="0.6"/>
<text x="171.1" y="333.5" font-size="9.3" text-anchor="middle">28</text>
<line x1="186.5" y1="272.4" x2="186.5" y2="274.4" stroke="#808080" stroke-width="0.6"/>
<line x1="186.5" y1="323.0" x2="186.5" y2="321.0" stroke="#808080" stroke-width="0.6"/>
<text x="186.5" y="333.5" font-size="9.3" text-anchor="middle">31</text>
<line x1="201.9" y1="272.4" x2="201.9" y2="274.4" stroke="#808080" stroke-width="0.6"/>
<line x1="201.9" y1="323.0" x2="201.9" y2="321.0" stroke="#808080" stroke-width="0.6"/>
<text x="201.9" y="333.5" font-size="9.3" text-anchor="middle">34</text>
<line x1="217.3" y1="272.4" x2="217.3" y2="274.4" stroke="#808080" stroke-width="0.6"/>
<line x1="217.3" y1="323.0" x2="217.3" y2="321.0" stroke="#808080" stroke-width="0.6"/>
<text x="217.3" y="333.5" font-size="9.3" text-anchor="middle">37</text>
<line x1="232.8" y1="272.4" x2="232.8" y2="274.4" stroke="#808080" stroke-width="0.6"/>
<line x1="232.8" y1="323.0" x2="232.8" y2="321.0" stroke="#808080" stroke-width="0.6"/>
<text x="232.8" y="333.5" font-size="9.3" text-anchor="middle">40</text>
<line x1="248.2" y1="272.4" x2="248.2" y2="274.4" stroke="#808080" stroke-width="0.6"/>
<line x1="248.2" y1="323.0" x2="248.2" y2="321.0" stroke="#808080" stroke-width="0.6"/>
<text x="248.2" y="333.5" font-size="9.3" text-anchor="middle">43</text>
<text x="146.5" y="342.5" font-size="9.3" text-anchor="middle">8–Day Period of Year</text>
<text x="6.2" y="297.5" font-size="9.3" text-anchor="middle" transform="rotate(-90 6.2 297.5)" dy="3.2">LST (K)</text>
<svg x="30.5" y="272.4" width="230.80" height="50.60" viewBox="30.5 272.4 230.80 50.60" overflow="hidden">
<path d="M32.2 316.7V305.9M37.3 316.0V305.3M42.5 317.2V306.4M47.6 314.0V303.3M52.8 313.5V302.8M57.9 314.4V303.6M63.1 310.4V299.6M68.2 309.5V298.7M73.3 306.0V295.3M78.5 305.3V294.5M83.6 304.5V293.8M88.8 302.8V292.0M93.9 301.7V291.0M99.1 300.4V289.6M104.2 299.2V288.5M109.3 298.7V288.0M114.5 297.8V287.1M119.6 296.3V285.6M124.8 296.3V285.6M129.9 297.1V286.3M135.1 297.6V286.8M140.2 297.1V286.3M145.3 298.2V287.5M150.5 299.2V288.5M155.6 298.7V288.0M160.8 299.2V288.5M165.9 297.2V286.4M171.1 298.7V288.0M176.2 297.8V287.1M181.3 299.2V288.5M186.5 298.7V288.0M191.6 297.6V286.8M196.8 297.6V286.8M201.9 298.7V288.0M207.1 300.4V289.6M212.2 302.0V291.2M217.3 302.8V292.0M222.5 304.2V293.4M227.6 305.8V295.0M232.8 307.7V296.9M237.9 310.2V299.5M243.1 312.2V301.5M248.2 315.0V304.3M253.3 315.8V305.0M258.5 317.2V306.4" stroke="#d62728" stroke-width="1.4" fill="none"/>
<path d="M32.2 309.7L37.3 309.1L42.5 310.2L47.6 307.1L52.8 306.6L57.9 307.4L63.1 303.4L68.2 302.5L73.3 299.1L78.5 298.3L83.6 297.6L88.8 295.8L93.9 294.8L99.1 293.4L104.2 292.3L109.3 291.8L114.5 290.9L119.6 289.4L124.8 289.4L129.9 290.1L135.1 290.6L140.2 290.1L145.3 291.2L150.5 292.3L155.6 291.8L160.8 292.3L165.9 290.2L171.1 291.8L176.2 290.9L181.3 292.3L186.5 291.8L191.6 290.6L196.8 290.6L201.9 291.8L207.1 293.4L212.2 295.0L217.3 295.8L222.5 297.2L227.6 298.8L232.8 300.7L237.9 303.3L243.1 305.3L248.2 308.1L253.3 308.8L258.5 310.2" stroke="#d62728" stroke-width="1.6" fill="none"/>
<circle cx="32.2" cy="309.7" r="2.3" fill="#d62728"/><circle cx="37.3" cy="309.1" r="2.3" fill="#d62728"/><circle cx="42.5" cy="310.2" r="2.3" fill="#d62728"/><circle cx="47.6" cy="307.1" r="2.3" fill="#d62728"/><circle cx="52.8" cy="306.6" r="2.3" fill="#d62728"/><circle cx="57.9" cy="307.4" r="2.3" fill="#d62728"/><circle cx="63.1" cy="303.4" r="2.3" fill="#d62728"/><circle cx="68.2" cy="302.5" r="2.3" fill="#d62728"/><circle cx="73.3" cy="299.1" r="2.3" fill="#d62728"/><circle cx="78.5" cy="298.3" r="2.3" fill="#d62728"/><circle cx="83.6" cy="297.6" r="2.3" fill="#d62728"/><circle cx="88.8" cy="295.8" r="2.3" fill="#d62728"/><circle cx="93.9" cy="294.8" r="2.3" fill="#d62728"/><circle cx="99.1" cy="293.4" r="2.3" fill="#d62728"/><circle cx="104.2" cy="292.3" r="2.3" fill="#d62728"/><circle cx="109.3" cy="291.8" r="2.3" fill="#d62728"/><circle cx="114.5" cy="290.9" r="2.3" fill="#d62728"/><circle cx="119.6" cy="289.4" r="2.3" fill="#d62728"/><circle cx="124.8" cy="289.4" r="2.3" fill="#d62728"/><circle cx="129.9" cy="290.1" r="2.3" fill="#d62728"/><circle cx="135.1" cy="290.6" r="2.3" fill="#d62728"/><circle cx="140.2" cy="290.1" r="2.3" fill="#d62728"/><circle cx="145.3" cy="291.2" r="2.3" fill="#d62728"/><circle cx="150.5" cy="292.3" r="2.3" fill="#d62728"/><circle cx="155.6" cy="291.8" r="2.3" fill="#d62728"/><circle cx="160.8" cy="292.3" r="2.3" fill="#d62728"/><circle cx="165.9" cy="290.2" r="2.3" fill="#d62728"/><circle cx="171.1" cy="291.8" r="2.3" fill="#d62728"/><circle cx="176.2" cy="290.9" r="2.3" fill="#d62728"/><circle cx="181.3" cy="292.3" r="2.3" fill="#d62728"/><circle cx="186.5" cy="291.8" r="2.3" fill="#d62728"/><circle cx="191.6" cy="290.6" r="2.3" fill="#d62728"/><circle cx="196.8" cy="290.6" r="2.3" fill="#d62728"/><circle cx="201.9" cy="291.8" r="2.3" fill="#d62728"/><circle cx="207.1" cy="293.4" r="2.3" fill="#d62728"/><circle cx="212.2" cy="295.0" r="2.3" fill="#d62728"/><circle cx="217.3" cy="295.8" r="2.3" fill="#d62728"/><circle cx="222.5" cy="297.2" r="2.3" fill="#d62728"/><circle cx="227.6" cy="298.8" r="2.3" fill="#d62728"/><circle cx="232.8" cy="300.7" r="2.3" fill="#d62728"/><circle cx="237.9" cy="303.3" r="2.3" fill="#d62728"/><circle cx="243.1" cy="305.3" r="2.3" fill="#d62728"/><circle cx="248.2" cy="308.1" r="2.3" fill="#d62728"/><circle cx="253.3" cy="308.8" r="2.3" fill="#d62728"/><circle cx="258.5" cy="310.2" r="2.3" fill="#d62728"/>
<path d="M32.2 312.2V303.4M37.3 312.2V303.4M42.5 312.6V303.8M47.6 308.7V299.9M52.8 309.2V300.4M57.9 308.7V299.9M63.1 306.0V297.2M68.2 304.8V295.9M73.3 300.2V291.4M78.5 300.0V291.1M83.6 299.2V290.4M88.8 297.1V288.2M93.9 295.9V287.1M99.1 294.3V285.4M104.2 292.5V283.7M109.3 293.0V284.2M114.5 291.2V282.4M119.6 289.4V280.5M124.8 289.6V280.7M129.9 290.7V281.9M135.1 290.7V281.9M140.2 289.6V280.7M145.3 292.4V283.5M150.5 293.8V284.9M155.6 292.4V283.5M160.8 291.2V282.4M165.9 290.4V281.5M171.1 291.6V282.8M176.2 290.7V281.9M181.3 291.6V282.8M186.5 292.0V283.2M191.6 289.6V280.7M196.8 290.7V281.9M201.9 292.8V283.9M207.1 293.3V284.4M212.2 296.2V287.3M217.3 297.3V288.5M222.5 299.5V290.6M227.6 300.6V291.8M232.8 303.0V294.2M237.9 306.8V298.0M243.1 308.7V299.9M248.2 312.0V303.1M253.3 311.7V302.9M258.5 312.5V303.6" stroke="#1a9a3a" stroke-width="1.4" fill="none"/>
<path d="M32.2 307.8L37.3 307.8L42.5 308.2L47.6 304.3L52.8 304.8L57.9 304.3L63.1 301.6L68.2 300.4L73.3 295.8L78.5 295.5L83.6 294.8L88.8 292.6L93.9 291.5L99.1 289.9L104.2 288.1L109.3 288.6L114.5 286.8L119.6 284.9L124.8 285.2L129.9 286.3L135.1 286.3L140.2 285.2L145.3 288.0L150.5 289.4L155.6 288.0L160.8 286.8L165.9 285.9L171.1 287.2L176.2 286.3L181.3 287.2L186.5 287.6L191.6 285.2L196.8 286.3L201.9 288.3L207.1 288.8L212.2 291.8L217.3 292.9L222.5 295.0L227.6 296.2L232.8 298.6L237.9 302.4L243.1 304.3L248.2 307.6L253.3 307.3L258.5 308.1" stroke="#1a9a3a" stroke-width="1.6" fill="none"/>
<rect x="30.0" y="305.6" width="4.4" height="4.4" fill="#1a9a3a"/><rect x="35.1" y="305.6" width="4.4" height="4.4" fill="#1a9a3a"/><rect x="40.3" y="306.0" width="4.4" height="4.4" fill="#1a9a3a"/><rect x="45.4" y="302.1" width="4.4" height="4.4" fill="#1a9a3a"/><rect x="50.6" y="302.6" width="4.4" height="4.4" fill="#1a9a3a"/><rect x="55.7" y="302.1" width="4.4" height="4.4" fill="#1a9a3a"/><rect x="60.9" y="299.4" width="4.4" height="4.4" fill="#1a9a3a"/><rect x="66.0" y="298.2" width="4.4" height="4.4" fill="#1a9a3a"/><rect x="71.1" y="293.6" width="4.4" height="4.4" fill="#1a9a3a"/><rect x="76.3" y="293.3" width="4.4" height="4.4" fill="#1a9a3a"/><rect x="81.4" y="292.6" width="4.4" height="4.4" fill="#1a9a3a"/><rect x="86.6" y="290.4" width="4.4" height="4.4" fill="#1a9a3a"/><rect x="91.7" y="289.3" width="4.4" height="4.4" fill="#1a9a3a"/><rect x="96.9" y="287.7" width="4.4" height="4.4" fill="#1a9a3a"/><rect x="102.0" y="285.9" width="4.4" height="4.4" fill="#1a9a3a"/><rect x="107.1" y="286.4" width="4.4" height="4.4" fill="#1a9a3a"/><rect x="112.3" y="284.6" width="4.4" height="4.4" fill="#1a9a3a"/><rect x="117.4" y="282.7" width="4.4" height="4.4" fill="#1a9a3a"/><rect x="122.6" y="283.0" width="4.4" height="4.4" fill="#1a9a3a"/><rect x="127.7" y="284.1" width="4.4" height="4.4" fill="#1a9a3a"/><rect x="132.9" y="284.1" width="4.4" height="4.4" fill="#1a9a3a"/><rect x="138.0" y="283.0" width="4.4" height="4.4" fill="#1a9a3a"/><rect x="143.1" y="285.8" width="4.4" height="4.4" fill="#1a9a3a"/><rect x="148.3" y="287.2" width="4.4" height="4.4" fill="#1a9a3a"/><rect x="153.4" y="285.8" width="4.4" height="4.4" fill="#1a9a3a"/><rect x="158.6" y="284.6" width="4.4" height="4.4" fill="#1a9a3a"/><rect x="163.7" y="283.7" width="4.4" height="4.4" fill="#1a9a3a"/><rect x="168.9" y="285.0" width="4.4" height="4.4" fill="#1a9a3a"/><rect x="174.0" y="284.1" width="4.4" height="4.4" fill="#1a9a3a"/><rect x="179.1" y="285.0" width="4.4" height="4.4" fill="#1a9a3a"/><rect x="184.3" y="285.4" width="4.4" height="4.4" fill="#1a9a3a"/><rect x="189.4" y="283.0" width="4.4" height="4.4" fill="#1a9a3a"/><rect x="194.6" y="284.1" width="4.4" height="4.4" fill="#1a9a3a"/><rect x="199.7" y="286.1" width="4.4" height="4.4" fill="#1a9a3a"/><rect x="204.9" y="286.6" width="4.4" height="4.4" fill="#1a9a3a"/><rect x="210.0" y="289.6" width="4.4" height="4.4" fill="#1a9a3a"/><rect x="215.1" y="290.7" width="4.4" height="4.4" fill="#1a9a3a"/><rect x="220.3" y="292.8" width="4.4" height="4.4" fill="#1a9a3a"/><rect x="225.4" y="294.0" width="4.4" height="4.4" fill="#1a9a3a"/><rect x="230.6" y="296.4" width="4.4" height="4.4" fill="#1a9a3a"/><rect x="235.7" y="300.2" width="4.4" height="4.4" fill="#1a9a3a"/><rect x="240.9" y="302.1" width="4.4" height="4.4" fill="#1a9a3a"/><rect x="246.0" y="305.4" width="4.4" height="4.4" fill="#1a9a3a"/><rect x="251.1" y="305.1" width="4.4" height="4.4" fill="#1a9a3a"/><rect x="256.3" y="305.9" width="4.4" height="4.4" fill="#1a9a3a"/>
</svg>
<line x1="263.6" y1="302" x2="280.6" y2="302" stroke="#d62728" stroke-width="1.2"/>
<circle cx="271.8" cy="302" r="2" fill="#d62728"/>
<text x="282.0" y="305.2" font-size="9.3" text-anchor="start">Daily</text>
<line x1="263.6" y1="313.5" x2="280.6" y2="313.5" stroke="#1a9a3a" stroke-width="1.2"/>
<rect x="269.9" y="311.6" width="3.8" height="3.8" fill="#1a9a3a"/>
<text x="282.0" y="316.7" font-size="9.3" text-anchor="start">8–day composite</text>
<text x="422.3" y="16.6" font-size="19.5" text-anchor="start">c)</text>
<text x="442.0" y="16.6" font-size="15.8" text-anchor="start">Daytime, Non Houston Urban</text>
<rect x="404.2" y="32.8" width="4.70" height="228.20" fill="url(#jetg)"/>
<rect x="404.2" y="32.8" width="4.70" height="228.20" fill="none" stroke="#555" stroke-width="0.4"/>
<text x="402.4" y="36.0" font-size="9.3" text-anchor="end">320</text>
<text x="402.4" y="74.0" font-size="9.3" text-anchor="end">310</text>
<text x="402.4" y="112.1" font-size="9.3" text-anchor="end">300</text>
<text x="402.4" y="150.1" font-size="9.3" text-anchor="end">290</text>
<text x="402.4" y="188.1" font-size="9.3" text-anchor="end">280</text>
<text x="402.4" y="226.2" font-size="9.3" text-anchor="end">270</text>
<text x="402.4" y="264.2" font-size="9.3" text-anchor="end">260</text>
<path d="M404.2 70.8h1.3M408.9 70.8h-1.3M404.2 108.9h1.3M408.9 108.9h-1.3M404.2 146.9h1.3M408.9 146.9h-1.3M404.2 184.9h1.3M408.9 184.9h-1.3M404.2 223.0h1.3M408.9 223.0h-1.3" stroke="#333" stroke-width="0.7"/>
<rect x="410.3" y="29.1" width="236.40" height="236.10" fill="#000"/>
<g transform="translate(410.3 29.1) scale(5.2533 2.6830)" shape-rendering="crispEdges">
<path fill="#0000ce" d="M4 18h1v1h-1zM43 78h1v1h-1z"/>
<path fill="#0003ff" d="M42 4h1v1h-1zM3 47h1v1h-1z"/>
<path fill="#001dff" d="M0 9h1v1h-1zM6 55h1v1h-1z"/>
<path fill="#0038ff" d="M2 8h1v1h-1zM4 64h1v1h-1zM42 73h1v1h-1z"/>
<path fill="#0052ff" d="M40 2h1v1h-1zM7 29h1v1h-1zM44 53h1v1h-1zM41 56h1v1h-1z"/>
<path fill="#006cff" d="M43 10h1v1h-1zM5 58h1v1h-1z"/>
<path fill="#0086ff" d="M4 9h1v1h-1zM6 27h1v1h-1zM7 30h1v1h-1zM0 39h1v1h-1zM43 64h1v1h-1z"/>
<path fill="#00baff" d="M0 24h2v1h-2zM42 70h1v1h-1z"/>
<path fill="#00d4ff" d="M2 24h1v1h-1zM2 59h1v1h-1zM44 70h1v1h-1z"/>
<path fill="#00efff" d="M0 13h1v1h-1zM5 15h1v1h-1zM0 23h1v1h-1zM0 25h2v1h-2zM1 40h1v1h-1zM2 80h1v1h-1z"/>
<path fill="#0afff5" d="M3 12h1v1h-1zM1 13h1v1h-1zM43 15h1v1h-1zM5 19h1v1h-1zM0 22h1v1h-1zM5 24h1v1h-1zM43 24h1v1h-1zM2 25h1v1h-1zM43 25h1v1h-1zM2 26h1v1h-1zM5 37h1v1h-1zM43 37h1v1h-1zM1 38h1v1h-1zM3 58h1v1h-1zM42 58h1v1h-1zM0 70h1v1h-1zM43 76h1v1h-1zM42 80h1v1h-1zM5 85h1v1h-1zM2 86h1v1h-1z"/>
<path fill="#24ffdb" d="M43 4h1v1h-1zM44 5h1v1h-1zM5 8h1v1h-1zM4 12h1v1h-1zM2 13h1v1h-1zM42 14h1v1h-1zM4 15h1v1h-1zM42 15h1v1h-1zM1 17h1v1h-1zM43 19h2v1h-2zM44 20h1v1h-1zM1 22h1v1h-1zM1 23h1v1h-1zM39 28h1v1h-1zM43 29h2v1h-2zM43 31h1v1h-1zM0 32h1v1h-1zM4 33h1v1h-1zM0 34h1v1h-1zM0 36h1v1h-1zM2 37h1v1h-1zM2 42h1v1h-1zM5 43h1v1h-1zM43 44h1v1h-1zM1 56h1v1h-1zM2 57h1v1h-1zM2 60h1v1h-1zM0 66h1v1h-1zM0 67h1v1h-1zM2 67h1v1h-1zM2 69h1v1h-1zM42 71h1v1h-1zM3 72h1v1h-1zM42 76h1v1h-1zM42 77h1v1h-1zM2 84h2v1h-2zM2 85h1v1h-1z"/>
<path fill="#3effc1" d="M42 3h2v1h-2zM44 8h1v1h-1zM5 9h1v1h-1zM41 9h1v1h-1zM1 10h1v1h-1zM5 11h1v1h-1zM0 12h1v1h-1zM44 12h1v1h-1zM0 14h2v1h-2zM3 14h1v1h-1zM5 14h1v1h-1zM43 14h1v1h-1zM7 15h1v1h-1zM44 15h1v1h-1zM0 16h1v1h-1zM2 16h1v1h-1zM42 16h1v1h-1zM0 17h1v1h-1zM43 17h1v1h-1zM0 18h1v1h-1zM2 18h1v1h-1zM2 19h1v1h-1zM42 19h1v1h-1zM2 20h1v1h-1zM5 21h1v1h-1zM5 22h1v1h-1zM5 23h1v1h-1zM44 23h1v1h-1zM3 24h1v1h-1zM42 25h1v1h-1zM5 26h1v1h-1zM42 26h1v1h-1zM3 27h1v1h-1zM42 28h3v1h-3zM2 29h1v1h-1zM42 29h1v1h-1zM44 30h1v1h-1zM4 32h1v1h-1zM0 37h1v1h-1zM42 38h2v1h-2zM1 39h1v1h-1zM3 39h1v1h-1zM0 40h1v1h-1zM2 40h1v1h-1zM1 41h1v1h-1zM1 42h1v1h-1zM42 47h2v1h-2zM43 49h1v1h-1zM42 50h1v1h-1zM44 50h1v1h-1zM42 51h1v1h-1zM43 52h1v1h-1zM4 55h1v1h-1zM2 58h1v1h-1zM1 60h1v1h-1zM0 61h2v1h-2zM0 62h1v1h-1zM0 65h1v1h-1zM42 65h2v1h-2zM1 67h1v1h-1zM4 67h1v1h-1zM39 67h1v1h-1zM42 69h1v1h-1zM41 70h1v1h-1zM0 71h2v1h-2zM44 71h1v1h-1zM41 72h1v1h-1zM44 72h1v1h-1zM44 73h1v1h-1zM44 76h1v1h-1zM43 77h1v1h-1zM44 79h1v1h-1zM43 80h1v1h-1zM42 81h1v1h-1zM1 84h1v1h-1zM1 85h1v1h-1zM0 86h1v1h-1zM2 87h1v1h-1zM42 87h1v1h-1z"/>
<path fill="#58ffa7" d="M42 1h1v1h-1zM44 1h1v1h-1zM44 4h1v1h-1zM43 6h1v1h-1zM40 9h1v1h-1zM42 9h1v1h-1zM0 10h1v1h-1zM6 10h1v1h-1zM2 12h1v1h-1zM3 13h1v1h-1zM39 13h1v1h-1zM43 13h2v1h-2zM2 14h1v1h-1zM0 15h1v1h-1zM2 15h2v1h-2zM6 15h1v1h-1zM43 16h2v1h-2zM4 17h1v1h-1zM44 17h1v1h-1zM42 18h1v1h-1zM0 19h1v1h-1zM1 20h1v1h-1zM5 20h1v1h-1zM42 20h2v1h-2zM39 22h1v1h-1zM44 22h1v1h-1zM2 23h1v1h-1zM43 23h1v1h-1zM42 24h1v1h-1zM44 24h1v1h-1zM5 25h1v1h-1zM0 26h1v1h-1zM43 26h1v1h-1zM42 27h2v1h-2zM2 30h1v1h-1zM2 31h2v1h-2zM5 31h1v1h-1zM44 31h1v1h-1zM2 32h1v1h-1zM41 32h1v1h-1zM44 32h1v1h-1zM1 33h1v1h-1zM3 33h1v1h-1zM1 34h2v1h-2zM0 35h2v1h-2zM1 36h2v1h-2zM1 37h1v1h-1zM2 39h1v1h-1zM42 39h1v1h-1zM3 40h1v1h-1zM0 41h1v1h-1zM2 41h2v1h-2zM44 42h1v1h-1zM2 45h1v1h-1zM42 45h1v1h-1zM42 48h1v1h-1zM43 50h1v1h-1zM42 52h1v1h-1zM43 53h1v1h-1zM43 54h1v1h-1zM2 55h1v1h-1zM42 56h1v1h-1zM0 57h1v1h-1zM4 57h1v1h-1zM41 57h3v1h-3zM1 58h1v1h-1zM4 58h1v1h-1zM0 59h1v1h-1zM4 59h1v1h-1zM0 60h1v1h-1zM42 60h1v1h-1zM42 61h2v1h-2zM0 64h1v1h-1zM2 64h1v1h-1zM44 64h1v1h-1zM5 65h1v1h-1zM1 66h1v1h-1zM4 66h2v1h-2zM39 66h1v1h-1zM43 66h1v1h-1zM42 67h1v1h-1zM2 68h1v1h-1zM1 69h1v1h-1zM2 71h1v1h-1zM41 71h1v1h-1zM43 71h1v1h-1zM0 72h1v1h-1zM2 72h1v1h-1zM4 72h1v1h-1zM43 72h1v1h-1zM0 74h1v1h-1zM42 74h2v1h-2zM43 75h2v1h-2zM1 77h1v1h-1zM5 78h1v1h-1zM0 79h2v1h-2zM42 79h1v1h-1zM1 80h1v1h-1zM44 80h1v1h-1zM2 81h2v1h-2zM43 81h1v1h-1zM0 83h3v1h-3zM42 84h2v1h-2zM3 85h1v1h-1zM42 85h1v1h-1zM1 87h1v1h-1z"/>
<path fill="#72ff8d" d="M42 0h1v1h-1zM44 2h1v1h-1zM41 3h1v1h-1zM43 7h1v1h-1zM0 8h2v1h-2zM3 8h1v1h-1zM6 8h1v1h-1zM7 9h2v1h-2zM10 9h1v1h-1zM39 10h1v1h-1zM42 10h1v1h-1zM2 11h1v1h-1zM10 11h1v1h-1zM43 12h1v1h-1zM5 13h1v1h-1zM4 14h1v1h-1zM44 14h1v1h-1zM39 15h1v1h-1zM1 16h1v1h-1zM3 16h1v1h-1zM3 17h1v1h-1zM5 17h1v1h-1zM1 18h1v1h-1zM5 18h1v1h-1zM41 18h1v1h-1zM44 18h1v1h-1zM3 19h1v1h-1zM3 20h1v1h-1zM2 21h1v1h-1zM4 21h1v1h-1zM7 21h1v1h-1zM39 21h1v1h-1zM3 22h1v1h-1zM43 22h1v1h-1zM6 23h1v1h-1zM4 25h1v1h-1zM6 25h1v1h-1zM44 25h1v1h-1zM3 26h1v1h-1zM6 26h1v1h-1zM44 26h1v1h-1zM2 27h1v1h-1zM4 27h1v1h-1zM44 27h1v1h-1zM0 28h1v1h-1zM3 28h1v1h-1zM39 29h1v1h-1zM41 29h1v1h-1zM5 30h1v1h-1zM39 30h1v1h-1zM43 30h1v1h-1zM0 31h1v1h-1zM4 31h1v1h-1zM1 32h1v1h-1zM3 32h1v1h-1zM42 32h2v1h-2zM42 33h2v1h-2zM42 34h3v1h-3zM5 36h1v1h-1zM43 36h1v1h-1zM3 37h2v1h-2zM42 37h1v1h-1zM3 38h3v1h-3zM5 39h1v1h-1zM41 39h1v1h-1zM5 41h1v1h-1zM42 41h1v1h-1zM44 41h1v1h-1zM2 43h2v1h-2zM44 43h1v1h-1zM5 44h1v1h-1zM44 44h1v1h-1zM44 45h1v1h-1zM0 46h3v1h-3zM42 46h2v1h-2zM0 47h1v1h-1zM44 47h1v1h-1zM43 48h1v1h-1zM44 49h1v1h-1zM0 51h1v1h-1zM41 51h1v1h-1zM43 51h1v1h-1zM42 53h1v1h-1zM44 54h1v1h-1zM0 55h1v1h-1zM3 55h1v1h-1zM44 55h1v1h-1zM5 56h1v1h-1zM44 56h1v1h-1zM3 57h1v1h-1zM43 58h1v1h-1zM5 59h1v1h-1zM42 59h1v1h-1zM44 59h1v1h-1zM40 60h1v1h-1zM43 60h1v1h-1zM2 61h1v1h-1zM4 62h1v1h-1zM44 62h1v1h-1zM6 64h1v1h-1zM2 66h1v1h-1zM41 66h2v1h-2zM5 67h1v1h-1zM41 68h1v1h-1zM43 68h1v1h-1zM41 69h1v1h-1zM43 69h1v1h-1zM39 70h1v1h-1zM3 71h1v1h-1zM1 72h1v1h-1zM42 72h1v1h-1zM0 73h1v1h-1zM2 73h1v1h-1zM44 74h1v1h-1zM0 75h3v1h-3zM41 75h1v1h-1zM5 76h1v1h-1zM41 76h1v1h-1zM0 77h1v1h-1zM44 77h1v1h-1zM44 78h1v1h-1zM2 79h1v1h-1zM5 79h1v1h-1zM10 79h1v1h-1zM4 80h1v1h-1zM10 80h1v1h-1zM0 81h2v1h-2zM0 82h2v1h-2zM42 83h1v1h-1zM0 84h1v1h-1zM5 86h1v1h-1zM42 86h1v1h-1zM5 87h1v1h-1zM43 87h2v1h-2z"/>
<path fill="#8dff72" d="M39 0h1v1h-1zM41 2h1v1h-1zM44 3h1v1h-1zM42 6h1v1h-1zM41 8h2v1h-2zM6 9h1v1h-1zM44 9h1v1h-1zM2 10h1v1h-1zM8 10h1v1h-1zM0 11h1v1h-1zM3 11h1v1h-1zM41 11h3v1h-3zM8 12h1v1h-1zM10 12h1v1h-1zM42 12h1v1h-1zM7 13h1v1h-1zM13 13h1v1h-1zM38 13h1v1h-1zM41 13h1v1h-1zM7 14h1v1h-1zM5 16h1v1h-1zM7 16h1v1h-1zM39 16h3v1h-3zM39 17h2v1h-2zM3 18h1v1h-1zM1 19h1v1h-1zM6 19h1v1h-1zM8 19h1v1h-1zM39 20h1v1h-1zM1 21h1v1h-1zM3 21h1v1h-1zM42 21h3v1h-3zM4 22h1v1h-1zM41 22h1v1h-1zM4 23h1v1h-1zM7 23h1v1h-1zM37 23h1v1h-1zM40 23h1v1h-1zM42 23h1v1h-1zM4 24h1v1h-1zM6 24h1v1h-1zM38 25h1v1h-1zM4 26h1v1h-1zM0 27h1v1h-1zM39 27h1v1h-1zM1 28h2v1h-2zM5 28h1v1h-1zM41 28h1v1h-1zM5 29h1v1h-1zM38 29h1v1h-1zM40 29h1v1h-1zM1 30h1v1h-1zM3 30h1v1h-1zM42 31h1v1h-1zM39 32h1v1h-1zM2 33h1v1h-1zM39 33h1v1h-1zM41 33h1v1h-1zM44 33h1v1h-1zM4 34h1v1h-1zM39 34h1v1h-1zM4 35h1v1h-1zM41 35h1v1h-1zM3 36h1v1h-1zM7 36h1v1h-1zM44 36h1v1h-1zM6 37h1v1h-1zM44 37h1v1h-1zM2 38h1v1h-1zM5 40h1v1h-1zM43 40h2v1h-2zM43 41h1v1h-1zM0 43h1v1h-1zM6 43h2v1h-2zM42 43h1v1h-1zM44 46h1v1h-1zM1 48h1v1h-1zM0 49h3v1h-3zM41 49h2v1h-2zM41 50h1v1h-1zM44 51h1v1h-1zM0 52h1v1h-1zM44 52h1v1h-1zM4 56h1v1h-1zM40 56h1v1h-1zM1 57h1v1h-1zM5 57h1v1h-1zM41 58h1v1h-1zM44 58h1v1h-1zM6 59h1v1h-1zM43 59h1v1h-1zM3 60h1v1h-1zM7 60h1v1h-1zM39 61h1v1h-1zM44 61h1v1h-1zM5 62h1v1h-1zM7 62h1v1h-1zM43 62h1v1h-1zM0 63h1v1h-1zM42 63h3v1h-3zM1 64h1v1h-1zM41 64h1v1h-1zM1 65h1v1h-1zM3 65h1v1h-1zM44 65h1v1h-1zM3 66h1v1h-1zM38 67h1v1h-1zM1 68h1v1h-1zM3 68h1v1h-1zM5 68h1v1h-1zM39 68h1v1h-1zM3 69h1v1h-1zM44 69h1v1h-1zM5 71h1v1h-1zM3 73h1v1h-1zM10 73h1v1h-1zM41 73h1v1h-1zM41 74h1v1h-1zM3 75h1v1h-1zM42 75h1v1h-1zM0 76h1v1h-1zM2 76h2v1h-2zM2 77h1v1h-1zM1 78h1v1h-1zM42 78h1v1h-1zM43 79h1v1h-1zM0 80h1v1h-1zM3 80h1v1h-1zM6 80h1v1h-1zM41 80h1v1h-1zM44 81h1v1h-1zM2 82h2v1h-2zM42 82h2v1h-2zM3 83h1v1h-1zM44 83h1v1h-1zM4 84h1v1h-1zM44 84h1v1h-1zM4 85h1v1h-1zM6 85h1v1h-1zM43 85h2v1h-2zM4 86h1v1h-1zM6 86h2v1h-2zM43 86h2v1h-2zM6 87h1v1h-1z"/>
<path fill="#a7ff58" d="M8 0h1v1h-1zM10 1h1v1h-1zM41 1h1v1h-1zM43 1h1v1h-1zM39 2h1v1h-1zM42 2h1v1h-1zM15 4h1v1h-1zM8 5h1v1h-1zM10 5h1v1h-1zM42 5h1v1h-1zM42 7h1v1h-1zM44 7h1v1h-1zM4 8h1v1h-1zM7 8h1v1h-1zM10 8h1v1h-1zM1 9h1v1h-1zM3 9h1v1h-1zM3 10h1v1h-1zM10 10h1v1h-1zM40 10h1v1h-1zM6 11h1v1h-1zM40 11h1v1h-1zM44 11h1v1h-1zM6 12h1v1h-1zM41 12h1v1h-1zM4 13h1v1h-1zM37 13h1v1h-1zM12 14h1v1h-1zM39 14h1v1h-1zM41 14h1v1h-1zM4 16h1v1h-1zM8 16h1v1h-1zM6 17h1v1h-1zM43 18h1v1h-1zM41 19h1v1h-1zM38 20h1v1h-1zM41 20h1v1h-1zM0 21h1v1h-1zM6 21h1v1h-1zM38 21h1v1h-1zM6 22h2v1h-2zM34 22h1v1h-1zM40 22h1v1h-1zM38 23h1v1h-1zM38 24h1v1h-1zM41 25h1v1h-1zM39 26h1v1h-1zM41 26h1v1h-1zM40 27h2v1h-2zM6 28h1v1h-1zM40 28h1v1h-1zM1 29h1v1h-1zM10 29h1v1h-1zM6 30h1v1h-1zM41 30h2v1h-2zM1 31h1v1h-1zM40 31h1v1h-1zM6 32h1v1h-1zM0 33h1v1h-1zM6 33h1v1h-1zM2 35h2v1h-2zM6 35h1v1h-1zM39 35h1v1h-1zM43 35h2v1h-2zM4 36h1v1h-1zM38 36h2v1h-2zM41 36h1v1h-1zM41 38h1v1h-1zM4 39h1v1h-1zM41 40h2v1h-2zM0 42h1v1h-1zM4 42h2v1h-2zM42 42h1v1h-1zM4 43h1v1h-1zM43 43h1v1h-1zM1 44h2v1h-2zM4 44h1v1h-1zM1 45h1v1h-1zM5 45h1v1h-1zM4 46h1v1h-1zM5 47h2v1h-2zM7 48h1v1h-1zM44 48h1v1h-1zM2 51h1v1h-1zM5 51h1v1h-1zM1 52h2v1h-2zM6 52h1v1h-1zM41 52h1v1h-1zM3 53h1v1h-1zM6 53h1v1h-1zM10 53h1v1h-1zM39 53h1v1h-1zM0 54h1v1h-1zM41 54h1v1h-1zM40 55h4v1h-4zM0 56h1v1h-1zM3 56h1v1h-1zM43 56h1v1h-1zM40 57h1v1h-1zM0 58h1v1h-1zM10 58h1v1h-1zM1 59h1v1h-1zM3 59h1v1h-1zM4 60h2v1h-2zM44 60h1v1h-1zM4 61h1v1h-1zM6 61h2v1h-2zM41 61h1v1h-1zM3 62h1v1h-1zM6 62h1v1h-1zM3 63h1v1h-1zM5 63h1v1h-1zM7 63h1v1h-1zM5 64h1v1h-1zM42 64h1v1h-1zM4 65h1v1h-1zM38 66h1v1h-1zM40 66h1v1h-1zM3 67h1v1h-1zM10 67h1v1h-1zM44 67h1v1h-1zM38 68h1v1h-1zM42 68h1v1h-1zM0 69h1v1h-1zM5 69h1v1h-1zM12 69h1v1h-1zM6 70h1v1h-1zM40 70h1v1h-1zM4 71h1v1h-1zM38 71h2v1h-2zM5 72h1v1h-1zM1 73h1v1h-1zM5 73h1v1h-1zM1 74h1v1h-1zM3 74h2v1h-2zM4 75h2v1h-2zM39 76h2v1h-2zM3 77h1v1h-1zM5 77h1v1h-1zM0 78h1v1h-1zM2 78h2v1h-2zM6 78h1v1h-1zM39 78h1v1h-1zM41 79h1v1h-1zM5 80h1v1h-1zM10 81h1v1h-1zM41 81h1v1h-1zM5 82h1v1h-1zM10 82h1v1h-1zM44 82h1v1h-1zM39 83h1v1h-1zM43 83h1v1h-1zM5 84h1v1h-1zM41 84h1v1h-1zM3 86h1v1h-1zM8 86h1v1h-1zM39 86h1v1h-1zM4 87h1v1h-1zM10 87h1v1h-1zM40 87h2v1h-2z"/>
<path fill="#c1ff3e" d="M9 0h2v1h-2zM41 0h1v1h-1zM43 0h2v1h-2zM39 1h1v1h-1zM10 2h1v1h-1zM10 3h1v1h-1zM9 4h1v1h-1zM41 4h1v1h-1zM41 5h1v1h-1zM39 6h2v1h-2zM39 7h1v1h-1zM39 8h2v1h-2zM39 9h1v1h-1zM4 10h1v1h-1zM9 10h1v1h-1zM4 11h1v1h-1zM8 11h1v1h-1zM39 11h1v1h-1zM12 12h1v1h-1zM39 12h1v1h-1zM12 13h1v1h-1zM6 14h1v1h-1zM38 14h1v1h-1zM11 15h1v1h-1zM37 15h1v1h-1zM40 15h1v1h-1zM6 16h1v1h-1zM6 18h2v1h-2zM11 18h1v1h-1zM38 18h2v1h-2zM7 19h1v1h-1zM11 19h1v1h-1zM6 20h1v1h-1zM11 20h1v1h-1zM40 20h1v1h-1zM37 21h1v1h-1zM40 21h2v1h-2zM8 22h1v1h-1zM36 22h3v1h-3zM8 23h1v1h-1zM34 23h1v1h-1zM36 23h1v1h-1zM39 23h1v1h-1zM41 23h1v1h-1zM8 24h1v1h-1zM39 24h1v1h-1zM41 24h1v1h-1zM8 25h1v1h-1zM40 25h1v1h-1zM7 26h1v1h-1zM38 26h1v1h-1zM40 26h1v1h-1zM7 27h1v1h-1zM38 27h1v1h-1zM38 28h1v1h-1zM0 29h1v1h-1zM0 30h1v1h-1zM12 31h1v1h-1zM41 31h1v1h-1zM7 32h1v1h-1zM40 32h1v1h-1zM38 33h1v1h-1zM6 34h1v1h-1zM38 34h1v1h-1zM6 36h1v1h-1zM37 36h1v1h-1zM40 36h1v1h-1zM7 37h1v1h-1zM38 37h2v1h-2zM10 38h1v1h-1zM10 39h1v1h-1zM43 39h1v1h-1zM6 40h1v1h-1zM39 40h1v1h-1zM4 41h1v1h-1zM6 41h2v1h-2zM41 41h1v1h-1zM6 42h1v1h-1zM10 42h1v1h-1zM43 42h1v1h-1zM0 44h1v1h-1zM3 44h1v1h-1zM3 45h2v1h-2zM12 45h1v1h-1zM41 45h1v1h-1zM5 46h3v1h-3zM41 46h1v1h-1zM2 47h1v1h-1zM4 47h1v1h-1zM12 47h1v1h-1zM41 47h1v1h-1zM0 48h1v1h-1zM2 48h1v1h-1zM41 48h1v1h-1zM3 49h1v1h-1zM1 50h2v1h-2zM5 50h2v1h-2zM40 50h1v1h-1zM7 52h1v1h-1zM39 52h1v1h-1zM0 53h1v1h-1zM41 53h1v1h-1zM1 54h1v1h-1zM3 54h3v1h-3zM10 54h1v1h-1zM39 54h1v1h-1zM42 54h1v1h-1zM10 55h1v1h-1zM6 56h2v1h-2zM6 57h1v1h-1zM37 57h1v1h-1zM39 57h1v1h-1zM39 59h1v1h-1zM41 59h1v1h-1zM8 60h1v1h-1zM39 60h1v1h-1zM5 61h1v1h-1zM42 62h1v1h-1zM10 63h1v1h-1zM13 63h1v1h-1zM15 63h1v1h-1zM7 64h1v1h-1zM10 64h1v1h-1zM13 64h1v1h-1zM10 65h1v1h-1zM13 65h1v1h-1zM41 65h1v1h-1zM9 66h2v1h-2zM37 66h1v1h-1zM7 67h1v1h-1zM9 67h1v1h-1zM43 67h1v1h-1zM0 68h1v1h-1zM4 68h1v1h-1zM6 68h1v1h-1zM37 68h1v1h-1zM44 68h1v1h-1zM38 69h1v1h-1zM3 70h2v1h-2zM10 70h1v1h-1zM6 71h1v1h-1zM40 71h1v1h-1zM6 72h2v1h-2zM10 72h1v1h-1zM39 72h1v1h-1zM4 73h1v1h-1zM2 74h1v1h-1zM10 75h1v1h-1zM37 75h1v1h-1zM1 76h1v1h-1zM6 76h2v1h-2zM10 77h1v1h-1zM40 77h1v1h-1zM7 78h1v1h-1zM40 78h1v1h-1zM4 79h1v1h-1zM6 79h2v1h-2zM11 80h1v1h-1zM39 80h1v1h-1zM9 81h1v1h-1zM32 82h1v1h-1zM39 82h1v1h-1zM41 82h1v1h-1zM41 83h1v1h-1zM41 85h1v1h-1zM41 86h1v1h-1zM7 87h1v1h-1zM39 87h1v1h-1z"/>
<path fill="#dbff24" d="M11 0h1v1h-1zM38 0h1v1h-1zM38 1h1v1h-1zM37 2h1v1h-1zM40 3h1v1h-1zM10 4h1v1h-1zM16 4h1v1h-1zM11 5h1v1h-1zM39 5h1v1h-1zM8 6h1v1h-1zM10 6h1v1h-1zM10 7h1v1h-1zM41 7h1v1h-1zM15 8h1v1h-1zM36 8h1v1h-1zM9 9h1v1h-1zM11 9h1v1h-1zM24 10h1v1h-1zM38 10h1v1h-1zM44 10h1v1h-1zM9 11h1v1h-1zM11 11h1v1h-1zM17 11h1v1h-1zM9 12h1v1h-1zM11 12h1v1h-1zM13 12h1v1h-1zM8 14h2v1h-2zM15 14h1v1h-1zM40 14h1v1h-1zM8 15h2v1h-2zM38 15h1v1h-1zM7 17h2v1h-2zM11 17h1v1h-1zM23 17h1v1h-1zM12 18h1v1h-1zM36 18h1v1h-1zM40 18h1v1h-1zM15 19h1v1h-1zM37 19h1v1h-1zM39 19h1v1h-1zM9 21h1v1h-1zM9 24h2v1h-2zM37 24h1v1h-1zM40 24h1v1h-1zM10 25h1v1h-1zM37 25h1v1h-1zM39 25h1v1h-1zM10 26h1v1h-1zM28 27h1v1h-1zM36 27h1v1h-1zM7 28h2v1h-2zM10 28h2v1h-2zM6 29h1v1h-1zM11 29h1v1h-1zM10 30h2v1h-2zM38 30h1v1h-1zM40 30h1v1h-1zM7 31h1v1h-1zM10 31h2v1h-2zM38 31h2v1h-2zM34 32h1v1h-1zM10 33h1v1h-1zM35 33h1v1h-1zM3 34h1v1h-1zM7 34h1v1h-1zM10 34h1v1h-1zM7 35h1v1h-1zM10 35h1v1h-1zM38 35h1v1h-1zM10 36h1v1h-1zM36 36h1v1h-1zM7 38h1v1h-1zM40 39h1v1h-1zM44 39h1v1h-1zM13 40h1v1h-1zM39 41h1v1h-1zM7 42h1v1h-1zM38 42h1v1h-1zM40 42h2v1h-2zM10 43h1v1h-1zM15 43h1v1h-1zM6 44h1v1h-1zM11 44h1v1h-1zM39 44h1v1h-1zM6 45h2v1h-2zM15 45h1v1h-1zM38 45h1v1h-1zM10 46h2v1h-2zM39 46h1v1h-1zM1 47h1v1h-1zM7 47h1v1h-1zM10 47h1v1h-1zM36 47h1v1h-1zM38 47h1v1h-1zM40 47h1v1h-1zM3 48h1v1h-1zM10 48h1v1h-1zM38 48h2v1h-2zM4 49h2v1h-2zM7 49h2v1h-2zM10 49h1v1h-1zM37 49h2v1h-2zM0 50h1v1h-1zM3 50h1v1h-1zM7 50h2v1h-2zM1 51h1v1h-1zM3 51h1v1h-1zM6 51h2v1h-2zM10 51h1v1h-1zM3 52h1v1h-1zM5 52h1v1h-1zM4 53h2v1h-2zM7 53h1v1h-1zM34 53h1v1h-1zM2 54h1v1h-1zM40 54h1v1h-1zM12 55h1v1h-1zM39 55h1v1h-1zM7 57h1v1h-1zM44 57h1v1h-1zM39 58h1v1h-1zM6 60h1v1h-1zM10 60h1v1h-1zM41 60h1v1h-1zM40 61h1v1h-1zM19 62h1v1h-1zM38 62h3v1h-3zM41 63h1v1h-1zM38 65h2v1h-2zM6 66h1v1h-1zM6 67h1v1h-1zM37 67h1v1h-1zM40 67h2v1h-2zM10 68h1v1h-1zM4 69h1v1h-1zM6 69h2v1h-2zM39 69h2v1h-2zM7 70h1v1h-1zM38 70h1v1h-1zM10 71h1v1h-1zM40 72h1v1h-1zM7 73h1v1h-1zM9 73h1v1h-1zM37 73h4v1h-4zM10 74h1v1h-1zM36 74h1v1h-1zM40 74h1v1h-1zM6 75h2v1h-2zM38 75h3v1h-3zM4 76h1v1h-1zM10 76h2v1h-2zM34 76h1v1h-1zM6 77h2v1h-2zM11 77h1v1h-1zM32 77h2v1h-2zM39 77h1v1h-1zM3 79h1v1h-1zM6 81h1v1h-1zM12 81h1v1h-1zM38 81h2v1h-2zM4 83h2v1h-2zM8 83h1v1h-1zM6 84h1v1h-1zM40 84h1v1h-1zM7 85h2v1h-2zM10 85h1v1h-1zM10 86h1v1h-1zM11 87h1v1h-1z"/>
<path fill="#f5ff0a" d="M15 0h1v1h-1zM34 0h1v1h-1zM40 0h1v1h-1zM11 2h2v1h-2zM38 2h1v1h-1zM15 3h2v1h-2zM39 3h1v1h-1zM8 4h1v1h-1zM12 4h1v1h-1zM15 5h1v1h-1zM21 5h1v1h-1zM38 5h1v1h-1zM40 5h1v1h-1zM21 6h1v1h-1zM41 6h1v1h-1zM8 7h2v1h-2zM37 7h2v1h-2zM40 7h1v1h-1zM11 8h1v1h-1zM15 9h1v1h-1zM24 9h1v1h-1zM36 9h1v1h-1zM38 9h1v1h-1zM11 10h1v1h-1zM17 10h1v1h-1zM20 10h1v1h-1zM37 10h1v1h-1zM16 11h1v1h-1zM18 11h1v1h-1zM33 11h2v1h-2zM38 11h1v1h-1zM40 12h1v1h-1zM9 13h1v1h-1zM15 13h1v1h-1zM28 13h1v1h-1zM36 13h1v1h-1zM11 14h1v1h-1zM13 14h1v1h-1zM10 15h1v1h-1zM34 15h1v1h-1zM9 16h1v1h-1zM11 16h1v1h-1zM36 16h1v1h-1zM38 16h1v1h-1zM9 17h1v1h-1zM13 17h1v1h-1zM29 17h1v1h-1zM35 17h2v1h-2zM9 18h1v1h-1zM9 19h1v1h-1zM12 19h1v1h-1zM40 19h1v1h-1zM36 20h2v1h-2zM36 21h1v1h-1zM13 22h1v1h-1zM33 22h1v1h-1zM9 25h1v1h-1zM33 25h1v1h-1zM8 26h2v1h-2zM32 26h1v1h-1zM12 28h1v1h-1zM33 28h2v1h-2zM36 28h1v1h-1zM32 29h1v1h-1zM34 29h1v1h-1zM36 29h2v1h-2zM8 30h2v1h-2zM37 30h1v1h-1zM23 31h1v1h-1zM10 32h1v1h-1zM12 32h1v1h-1zM15 32h1v1h-1zM33 32h1v1h-1zM7 33h1v1h-1zM9 33h1v1h-1zM11 33h1v1h-1zM34 33h1v1h-1zM8 34h1v1h-1zM40 34h2v1h-2zM11 36h1v1h-1zM14 36h2v1h-2zM8 37h1v1h-1zM37 37h1v1h-1zM41 37h1v1h-1zM6 38h1v1h-1zM11 38h1v1h-1zM15 38h1v1h-1zM8 39h1v1h-1zM11 39h1v1h-1zM27 39h1v1h-1zM38 39h1v1h-1zM10 40h1v1h-1zM15 40h1v1h-1zM37 40h2v1h-2zM40 41h1v1h-1zM15 42h2v1h-2zM39 42h1v1h-1zM1 43h1v1h-1zM8 43h1v1h-1zM17 43h1v1h-1zM38 43h3v1h-3zM10 44h1v1h-1zM41 44h1v1h-1zM39 45h2v1h-2zM15 46h1v1h-1zM35 46h1v1h-1zM13 47h1v1h-1zM37 47h1v1h-1zM39 47h1v1h-1zM5 48h1v1h-1zM39 49h2v1h-2zM4 50h1v1h-1zM38 50h2v1h-2zM4 51h1v1h-1zM8 51h1v1h-1zM12 51h1v1h-1zM38 51h3v1h-3zM4 52h1v1h-1zM12 52h1v1h-1zM40 52h1v1h-1zM1 53h1v1h-1zM15 53h1v1h-1zM33 53h1v1h-1zM38 53h1v1h-1zM40 53h1v1h-1zM9 54h1v1h-1zM11 54h2v1h-2zM33 54h1v1h-1zM38 54h1v1h-1zM15 55h1v1h-1zM37 55h1v1h-1zM10 56h2v1h-2zM31 56h1v1h-1zM36 56h1v1h-1zM38 56h2v1h-2zM11 57h2v1h-2zM15 57h1v1h-1zM31 57h1v1h-1zM33 57h1v1h-1zM38 57h1v1h-1zM9 58h1v1h-1zM11 58h1v1h-1zM33 58h1v1h-1zM40 58h1v1h-1zM7 59h1v1h-1zM11 59h1v1h-1zM40 59h1v1h-1zM11 60h1v1h-1zM14 60h1v1h-1zM22 60h1v1h-1zM38 60h1v1h-1zM8 61h1v1h-1zM10 61h1v1h-1zM33 61h1v1h-1zM37 61h2v1h-2zM8 62h1v1h-1zM10 62h1v1h-1zM12 62h2v1h-2zM16 62h1v1h-1zM18 62h1v1h-1zM33 62h2v1h-2zM39 63h2v1h-2zM3 64h1v1h-1zM6 65h2v1h-2zM14 65h1v1h-1zM40 65h1v1h-1zM7 66h2v1h-2zM11 67h1v1h-1zM28 67h1v1h-1zM33 67h1v1h-1zM7 68h1v1h-1zM28 68h1v1h-1zM10 69h2v1h-2zM13 69h1v1h-1zM11 70h1v1h-1zM7 71h1v1h-1zM11 71h1v1h-1zM33 71h2v1h-2zM8 72h1v1h-1zM34 72h1v1h-1zM6 73h1v1h-1zM11 73h1v1h-1zM34 73h1v1h-1zM36 73h1v1h-1zM5 74h1v1h-1zM7 74h1v1h-1zM11 74h1v1h-1zM34 74h1v1h-1zM33 75h1v1h-1zM33 76h1v1h-1zM37 76h1v1h-1zM4 77h1v1h-1zM9 77h1v1h-1zM36 77h2v1h-2zM9 78h3v1h-3zM34 78h1v1h-1zM9 79h1v1h-1zM11 79h1v1h-1zM38 79h1v1h-1zM7 81h1v1h-1zM11 81h1v1h-1zM6 82h1v1h-1zM8 82h1v1h-1zM6 83h2v1h-2zM10 83h1v1h-1zM11 84h1v1h-1zM32 84h1v1h-1zM22 85h1v1h-1zM39 85h1v1h-1zM11 86h1v1h-1zM15 86h1v1h-1zM38 86h1v1h-1zM40 86h1v1h-1zM8 87h1v1h-1zM38 87h1v1h-1z"/>
<path fill="#ffef00" d="M37 0h1v1h-1zM8 1h1v1h-1zM18 1h1v1h-1zM36 1h1v1h-1zM8 2h1v1h-1zM17 3h1v1h-1zM17 4h1v1h-1zM40 4h1v1h-1zM12 5h2v1h-2zM17 5h1v1h-1zM22 5h1v1h-1zM34 5h1v1h-1zM37 5h1v1h-1zM11 6h1v1h-1zM20 6h1v1h-1zM37 6h2v1h-2zM15 7h3v1h-3zM36 7h1v1h-1zM14 8h1v1h-1zM16 8h1v1h-1zM27 8h2v1h-2zM37 8h2v1h-2zM16 9h1v1h-1zM25 9h1v1h-1zM37 9h1v1h-1zM18 10h2v1h-2zM12 11h1v1h-1zM20 11h1v1h-1zM35 11h1v1h-1zM15 12h2v1h-2zM18 12h1v1h-1zM29 12h2v1h-2zM37 12h2v1h-2zM11 13h1v1h-1zM14 13h1v1h-1zM30 13h1v1h-1zM35 13h1v1h-1zM40 13h1v1h-1zM18 14h1v1h-1zM35 14h3v1h-3zM12 15h1v1h-1zM36 15h1v1h-1zM12 16h1v1h-1zM14 16h1v1h-1zM35 16h1v1h-1zM12 17h1v1h-1zM15 17h1v1h-1zM28 17h1v1h-1zM30 17h1v1h-1zM38 17h1v1h-1zM13 18h1v1h-1zM29 18h1v1h-1zM34 18h1v1h-1zM13 19h1v1h-1zM26 19h1v1h-1zM32 19h1v1h-1zM9 20h1v1h-1zM13 20h1v1h-1zM11 21h1v1h-1zM13 21h1v1h-1zM34 21h1v1h-1zM12 22h1v1h-1zM35 22h1v1h-1zM13 23h1v1h-1zM15 23h1v1h-1zM19 23h1v1h-1zM35 23h1v1h-1zM12 24h2v1h-2zM20 24h1v1h-1zM34 24h1v1h-1zM36 24h1v1h-1zM25 25h2v1h-2zM34 25h1v1h-1zM36 25h1v1h-1zM33 26h1v1h-1zM9 27h3v1h-3zM31 27h1v1h-1zM35 27h1v1h-1zM37 27h1v1h-1zM35 28h1v1h-1zM23 29h1v1h-1zM31 29h1v1h-1zM35 29h1v1h-1zM12 30h1v1h-1zM24 30h1v1h-1zM31 30h1v1h-1zM13 31h1v1h-1zM33 31h1v1h-1zM36 31h2v1h-2zM16 32h1v1h-1zM18 32h1v1h-1zM32 32h1v1h-1zM38 32h1v1h-1zM8 33h1v1h-1zM12 33h1v1h-1zM24 33h1v1h-1zM33 33h1v1h-1zM37 33h1v1h-1zM18 34h1v1h-1zM33 34h3v1h-3zM8 35h1v1h-1zM11 35h1v1h-1zM33 35h1v1h-1zM35 35h1v1h-1zM37 35h1v1h-1zM40 35h1v1h-1zM8 36h1v1h-1zM33 36h1v1h-1zM10 37h1v1h-1zM13 37h1v1h-1zM16 37h1v1h-1zM31 37h1v1h-1zM36 37h1v1h-1zM37 38h4v1h-4zM36 39h1v1h-1zM8 40h1v1h-1zM27 40h1v1h-1zM36 40h1v1h-1zM40 40h1v1h-1zM8 41h1v1h-1zM10 41h2v1h-2zM16 41h1v1h-1zM37 41h2v1h-2zM8 42h1v1h-1zM11 42h1v1h-1zM17 42h1v1h-1zM11 43h3v1h-3zM16 43h1v1h-1zM33 43h1v1h-1zM37 43h1v1h-1zM41 43h1v1h-1zM15 44h1v1h-1zM37 44h2v1h-2zM10 45h1v1h-1zM13 45h1v1h-1zM37 45h1v1h-1zM12 46h2v1h-2zM19 46h1v1h-1zM40 46h1v1h-1zM9 47h1v1h-1zM11 47h1v1h-1zM14 47h1v1h-1zM9 48h1v1h-1zM13 48h1v1h-1zM33 48h1v1h-1zM37 48h1v1h-1zM40 48h1v1h-1zM25 49h1v1h-1zM10 50h2v1h-2zM16 50h1v1h-1zM18 50h1v1h-1zM25 50h3v1h-3zM37 50h1v1h-1zM11 51h1v1h-1zM16 51h1v1h-1zM11 52h1v1h-1zM15 52h1v1h-1zM8 53h2v1h-2zM11 53h1v1h-1zM13 53h1v1h-1zM16 53h1v1h-1zM22 53h1v1h-1zM35 53h1v1h-1zM37 53h1v1h-1zM15 54h1v1h-1zM34 54h1v1h-1zM16 55h1v1h-1zM34 55h1v1h-1zM38 55h1v1h-1zM16 56h1v1h-1zM26 56h1v1h-1zM32 56h1v1h-1zM37 56h1v1h-1zM8 57h1v1h-1zM13 57h1v1h-1zM25 57h1v1h-1zM32 57h1v1h-1zM6 58h1v1h-1zM36 58h1v1h-1zM38 58h1v1h-1zM9 59h1v1h-1zM15 59h2v1h-2zM22 59h1v1h-1zM28 59h1v1h-1zM32 59h2v1h-2zM9 60h1v1h-1zM15 60h1v1h-1zM33 60h1v1h-1zM13 61h1v1h-1zM15 61h1v1h-1zM23 61h1v1h-1zM32 61h1v1h-1zM11 62h1v1h-1zM20 62h1v1h-1zM22 62h1v1h-1zM35 62h1v1h-1zM41 62h1v1h-1zM6 63h1v1h-1zM9 63h1v1h-1zM12 63h1v1h-1zM16 63h1v1h-1zM34 63h1v1h-1zM37 63h1v1h-1zM12 64h1v1h-1zM33 64h1v1h-1zM39 64h2v1h-2zM11 65h2v1h-2zM23 65h2v1h-2zM37 65h1v1h-1zM11 66h1v1h-1zM18 66h1v1h-1zM32 66h1v1h-1zM12 67h1v1h-1zM11 68h1v1h-1zM13 68h1v1h-1zM15 68h1v1h-1zM29 68h1v1h-1zM31 68h1v1h-1zM40 68h1v1h-1zM12 70h2v1h-2zM8 71h1v1h-1zM36 71h1v1h-1zM11 72h1v1h-1zM28 72h1v1h-1zM8 73h1v1h-1zM16 73h1v1h-1zM35 73h1v1h-1zM6 74h1v1h-1zM9 74h1v1h-1zM31 74h3v1h-3zM39 74h1v1h-1zM11 75h2v1h-2zM36 75h1v1h-1zM12 76h1v1h-1zM31 76h2v1h-2zM35 76h2v1h-2zM38 76h1v1h-1zM12 77h1v1h-1zM14 77h1v1h-1zM29 77h1v1h-1zM34 77h2v1h-2zM38 77h1v1h-1zM36 78h3v1h-3zM12 79h1v1h-1zM14 79h1v1h-1zM35 79h1v1h-1zM40 79h1v1h-1zM7 80h1v1h-1zM9 80h1v1h-1zM12 80h1v1h-1zM15 80h1v1h-1zM34 80h1v1h-1zM38 80h1v1h-1zM40 80h1v1h-1zM16 81h1v1h-1zM40 81h1v1h-1zM7 82h1v1h-1zM12 82h2v1h-2zM15 82h1v1h-1zM36 82h1v1h-1zM40 82h1v1h-1zM9 83h1v1h-1zM21 83h1v1h-1zM38 83h1v1h-1zM40 83h1v1h-1zM7 84h1v1h-1zM10 84h1v1h-1zM23 84h1v1h-1zM34 84h3v1h-3zM39 84h1v1h-1zM11 85h1v1h-1zM23 85h1v1h-1zM40 85h1v1h-1zM13 86h1v1h-1zM35 86h1v1h-1zM9 87h1v1h-1zM12 87h2v1h-2z"/>
<path fill="#ffd500" d="M12 0h3v1h-3zM17 0h1v1h-1zM19 0h1v1h-1zM12 1h1v1h-1zM22 1h1v1h-1zM9 2h1v1h-1zM13 2h1v1h-1zM15 2h6v1h-6zM9 3h1v1h-1zM12 3h2v1h-2zM18 3h1v1h-1zM13 4h1v1h-1zM18 4h1v1h-1zM22 4h1v1h-1zM37 4h1v1h-1zM39 4h1v1h-1zM9 6h1v1h-1zM12 6h1v1h-1zM15 6h1v1h-1zM29 6h1v1h-1zM34 6h1v1h-1zM11 7h1v1h-1zM12 8h1v1h-1zM17 8h1v1h-1zM24 8h3v1h-3zM29 8h1v1h-1zM33 8h2v1h-2zM12 9h1v1h-1zM14 9h1v1h-1zM23 9h1v1h-1zM27 9h1v1h-1zM29 9h1v1h-1zM12 10h1v1h-1zM14 10h3v1h-3zM23 10h1v1h-1zM25 10h1v1h-1zM33 10h4v1h-4zM13 11h1v1h-1zM15 11h1v1h-1zM26 11h2v1h-2zM29 11h1v1h-1zM36 11h1v1h-1zM17 12h1v1h-1zM20 12h1v1h-1zM24 12h2v1h-2zM27 12h1v1h-1zM31 12h2v1h-2zM36 12h1v1h-1zM16 14h1v1h-1zM19 14h1v1h-1zM30 14h1v1h-1zM13 15h1v1h-1zM16 15h1v1h-1zM23 15h1v1h-1zM32 15h1v1h-1zM35 15h1v1h-1zM15 16h2v1h-2zM29 16h1v1h-1zM16 17h1v1h-1zM24 17h1v1h-1zM34 17h1v1h-1zM14 18h3v1h-3zM18 18h1v1h-1zM23 18h1v1h-1zM28 18h1v1h-1zM35 18h1v1h-1zM16 19h1v1h-1zM23 19h1v1h-1zM25 19h1v1h-1zM35 19h1v1h-1zM8 20h1v1h-1zM12 20h1v1h-1zM14 20h1v1h-1zM16 20h1v1h-1zM25 20h1v1h-1zM12 21h1v1h-1zM19 21h1v1h-1zM25 21h1v1h-1zM28 21h1v1h-1zM33 21h1v1h-1zM35 21h1v1h-1zM15 22h1v1h-1zM17 22h1v1h-1zM29 22h1v1h-1zM14 23h1v1h-1zM22 23h1v1h-1zM26 23h1v1h-1zM29 23h1v1h-1zM32 23h2v1h-2zM11 24h1v1h-1zM27 24h1v1h-1zM29 24h1v1h-1zM12 25h2v1h-2zM19 25h1v1h-1zM28 25h2v1h-2zM32 25h1v1h-1zM11 26h1v1h-1zM21 26h1v1h-1zM29 26h2v1h-2zM34 26h1v1h-1zM12 27h2v1h-2zM16 27h1v1h-1zM27 27h1v1h-1zM33 27h2v1h-2zM9 28h1v1h-1zM32 28h1v1h-1zM37 28h1v1h-1zM8 29h1v1h-1zM15 29h1v1h-1zM33 29h1v1h-1zM15 30h2v1h-2zM22 30h1v1h-1zM33 30h1v1h-1zM35 30h1v1h-1zM8 31h1v1h-1zM22 31h1v1h-1zM30 31h1v1h-1zM8 32h1v1h-1zM11 32h1v1h-1zM13 32h1v1h-1zM22 32h1v1h-1zM29 32h1v1h-1zM31 32h1v1h-1zM37 32h1v1h-1zM13 33h1v1h-1zM16 33h3v1h-3zM22 33h2v1h-2zM28 33h1v1h-1zM12 34h1v1h-1zM19 34h1v1h-1zM25 34h1v1h-1zM30 34h1v1h-1zM36 34h1v1h-1zM9 35h1v1h-1zM15 35h1v1h-1zM22 35h2v1h-2zM29 35h1v1h-1zM9 36h1v1h-1zM13 36h1v1h-1zM30 36h1v1h-1zM34 36h2v1h-2zM9 37h1v1h-1zM15 37h1v1h-1zM30 37h1v1h-1zM32 37h1v1h-1zM40 37h1v1h-1zM8 38h2v1h-2zM12 38h2v1h-2zM27 38h1v1h-1zM30 38h2v1h-2zM36 38h1v1h-1zM9 39h1v1h-1zM14 39h1v1h-1zM28 39h1v1h-1zM30 39h2v1h-2zM37 39h1v1h-1zM11 40h1v1h-1zM16 40h1v1h-1zM12 41h1v1h-1zM17 41h1v1h-1zM33 41h1v1h-1zM35 41h2v1h-2zM12 42h1v1h-1zM37 42h1v1h-1zM9 43h1v1h-1zM34 43h1v1h-1zM36 43h1v1h-1zM8 44h1v1h-1zM12 44h3v1h-3zM33 44h1v1h-1zM9 45h1v1h-1zM11 45h1v1h-1zM19 45h1v1h-1zM24 45h1v1h-1zM30 45h1v1h-1zM36 45h1v1h-1zM8 46h1v1h-1zM16 46h3v1h-3zM34 46h1v1h-1zM36 46h1v1h-1zM8 47h1v1h-1zM15 47h1v1h-1zM34 47h2v1h-2zM8 48h1v1h-1zM15 48h1v1h-1zM25 48h1v1h-1zM34 48h1v1h-1zM9 49h1v1h-1zM11 49h1v1h-1zM15 49h2v1h-2zM19 49h1v1h-1zM34 49h1v1h-1zM36 49h1v1h-1zM9 50h1v1h-1zM12 50h1v1h-1zM15 50h1v1h-1zM17 50h1v1h-1zM24 50h1v1h-1zM34 50h1v1h-1zM15 51h1v1h-1zM28 51h2v1h-2zM34 51h2v1h-2zM9 52h2v1h-2zM13 52h2v1h-2zM17 52h1v1h-1zM2 53h1v1h-1zM14 53h1v1h-1zM21 53h1v1h-1zM16 54h1v1h-1zM21 54h1v1h-1zM26 54h1v1h-1zM32 54h1v1h-1zM35 54h2v1h-2zM11 55h1v1h-1zM31 55h2v1h-2zM9 56h1v1h-1zM22 56h1v1h-1zM28 56h1v1h-1zM33 56h2v1h-2zM10 57h1v1h-1zM16 57h1v1h-1zM23 57h1v1h-1zM36 57h1v1h-1zM8 58h1v1h-1zM12 58h1v1h-1zM15 58h2v1h-2zM24 58h1v1h-1zM30 58h1v1h-1zM32 58h1v1h-1zM34 58h1v1h-1zM37 58h1v1h-1zM8 59h1v1h-1zM12 59h1v1h-1zM21 59h1v1h-1zM27 59h1v1h-1zM37 59h2v1h-2zM12 60h1v1h-1zM27 60h1v1h-1zM12 61h1v1h-1zM19 61h3v1h-3zM15 62h1v1h-1zM17 62h1v1h-1zM32 62h1v1h-1zM8 63h1v1h-1zM14 63h1v1h-1zM21 63h1v1h-1zM23 63h1v1h-1zM33 63h1v1h-1zM35 63h2v1h-2zM8 64h2v1h-2zM11 64h1v1h-1zM14 64h1v1h-1zM24 64h1v1h-1zM34 64h1v1h-1zM38 64h1v1h-1zM15 65h2v1h-2zM33 65h1v1h-1zM12 66h1v1h-1zM16 66h2v1h-2zM33 66h2v1h-2zM8 67h1v1h-1zM13 67h1v1h-1zM27 67h1v1h-1zM34 67h1v1h-1zM36 67h1v1h-1zM8 68h1v1h-1zM27 68h1v1h-1zM34 68h1v1h-1zM36 68h1v1h-1zM9 69h1v1h-1zM28 69h2v1h-2zM15 70h1v1h-1zM33 70h1v1h-1zM37 70h1v1h-1zM12 71h1v1h-1zM12 72h1v1h-1zM14 72h1v1h-1zM27 72h1v1h-1zM35 72h4v1h-4zM27 73h1v1h-1zM32 73h1v1h-1zM8 74h1v1h-1zM16 74h1v1h-1zM29 74h1v1h-1zM38 74h1v1h-1zM15 75h1v1h-1zM34 75h1v1h-1zM20 76h2v1h-2zM29 76h2v1h-2zM16 77h1v1h-1zM21 77h1v1h-1zM27 77h1v1h-1zM31 77h1v1h-1zM13 78h1v1h-1zM15 78h1v1h-1zM35 78h1v1h-1zM32 79h1v1h-1zM34 79h1v1h-1zM36 79h1v1h-1zM39 79h1v1h-1zM8 80h1v1h-1zM33 80h1v1h-1zM35 80h1v1h-1zM8 81h1v1h-1zM23 81h1v1h-1zM34 81h2v1h-2zM11 82h1v1h-1zM16 82h1v1h-1zM20 82h1v1h-1zM26 82h1v1h-1zM34 82h1v1h-1zM11 83h1v1h-1zM22 83h1v1h-1zM31 83h1v1h-1zM34 83h1v1h-1zM8 84h1v1h-1zM37 84h2v1h-2zM9 85h1v1h-1zM12 85h1v1h-1zM15 85h1v1h-1zM12 86h1v1h-1zM33 86h2v1h-2zM36 86h1v1h-1zM16 87h1v1h-1zM28 87h2v1h-2zM34 87h1v1h-1z"/>
<path fill="#ffba00" d="M18 0h1v1h-1zM20 0h1v1h-1zM33 0h1v1h-1zM13 1h1v1h-1zM15 1h3v1h-3zM19 1h1v1h-1zM21 1h1v1h-1zM23 1h2v1h-2zM29 1h2v1h-2zM32 1h1v1h-1zM34 1h1v1h-1zM37 1h1v1h-1zM14 2h1v1h-1zM21 2h1v1h-1zM36 2h1v1h-1zM22 3h1v1h-1zM21 4h1v1h-1zM25 4h1v1h-1zM33 4h2v1h-2zM36 4h1v1h-1zM18 5h2v1h-2zM29 5h1v1h-1zM13 6h1v1h-1zM23 6h1v1h-1zM36 6h1v1h-1zM13 7h2v1h-2zM18 7h3v1h-3zM34 7h1v1h-1zM20 8h1v1h-1zM23 8h1v1h-1zM31 8h2v1h-2zM35 8h1v1h-1zM13 9h1v1h-1zM19 9h2v1h-2zM35 9h1v1h-1zM13 10h1v1h-1zM27 10h1v1h-1zM14 11h1v1h-1zM23 11h1v1h-1zM30 11h2v1h-2zM37 11h1v1h-1zM14 12h1v1h-1zM19 12h1v1h-1zM23 12h1v1h-1zM26 12h1v1h-1zM34 12h2v1h-2zM16 13h1v1h-1zM23 13h1v1h-1zM29 13h1v1h-1zM32 13h1v1h-1zM34 13h1v1h-1zM14 14h1v1h-1zM23 14h1v1h-1zM28 14h1v1h-1zM31 14h1v1h-1zM34 14h1v1h-1zM15 15h1v1h-1zM29 15h2v1h-2zM33 15h1v1h-1zM18 16h1v1h-1zM20 16h1v1h-1zM22 16h1v1h-1zM26 16h2v1h-2zM32 16h3v1h-3zM14 17h1v1h-1zM17 17h1v1h-1zM26 17h2v1h-2zM31 17h1v1h-1zM19 18h1v1h-1zM24 18h4v1h-4zM31 18h1v1h-1zM21 19h1v1h-1zM24 19h1v1h-1zM27 19h4v1h-4zM33 19h1v1h-1zM15 20h1v1h-1zM22 20h1v1h-1zM28 20h2v1h-2zM33 20h3v1h-3zM14 21h3v1h-3zM20 21h1v1h-1zM24 21h1v1h-1zM32 21h1v1h-1zM21 22h2v1h-2zM25 22h1v1h-1zM28 22h1v1h-1zM32 22h1v1h-1zM18 23h1v1h-1zM21 23h1v1h-1zM27 23h2v1h-2zM31 23h1v1h-1zM14 24h3v1h-3zM18 24h1v1h-1zM25 24h2v1h-2zM28 24h1v1h-1zM31 24h1v1h-1zM33 24h1v1h-1zM35 24h1v1h-1zM11 25h1v1h-1zM20 25h1v1h-1zM22 25h1v1h-1zM27 25h1v1h-1zM12 26h2v1h-2zM23 26h1v1h-1zM26 26h3v1h-3zM36 26h1v1h-1zM8 27h1v1h-1zM26 27h1v1h-1zM29 27h1v1h-1zM32 27h1v1h-1zM15 28h2v1h-2zM22 28h1v1h-1zM30 28h2v1h-2zM12 29h1v1h-1zM16 29h1v1h-1zM13 30h1v1h-1zM23 30h1v1h-1zM32 30h1v1h-1zM36 30h1v1h-1zM16 31h2v1h-2zM24 31h1v1h-1zM28 31h1v1h-1zM17 32h1v1h-1zM19 32h1v1h-1zM23 32h1v1h-1zM27 32h2v1h-2zM36 32h1v1h-1zM21 33h1v1h-1zM27 33h1v1h-1zM29 33h1v1h-1zM9 34h1v1h-1zM11 34h1v1h-1zM22 34h2v1h-2zM37 34h1v1h-1zM13 35h1v1h-1zM17 35h3v1h-3zM36 35h1v1h-1zM12 36h1v1h-1zM16 36h1v1h-1zM22 36h1v1h-1zM27 36h1v1h-1zM29 36h1v1h-1zM31 36h1v1h-1zM11 37h1v1h-1zM14 37h1v1h-1zM23 37h1v1h-1zM33 37h1v1h-1zM14 38h1v1h-1zM16 38h1v1h-1zM20 38h1v1h-1zM25 38h1v1h-1zM28 38h1v1h-1zM32 38h2v1h-2zM12 39h2v1h-2zM16 39h1v1h-1zM21 39h1v1h-1zM24 39h1v1h-1zM26 39h1v1h-1zM33 39h1v1h-1zM9 40h1v1h-1zM12 40h1v1h-1zM14 40h1v1h-1zM17 40h2v1h-2zM28 40h2v1h-2zM15 41h1v1h-1zM18 41h2v1h-2zM23 41h1v1h-1zM27 41h1v1h-1zM31 41h2v1h-2zM34 41h1v1h-1zM36 42h1v1h-1zM32 43h1v1h-1zM16 44h1v1h-1zM23 44h2v1h-2zM34 44h1v1h-1zM14 45h1v1h-1zM16 45h1v1h-1zM20 45h1v1h-1zM22 45h1v1h-1zM25 45h1v1h-1zM29 45h1v1h-1zM9 46h1v1h-1zM21 46h1v1h-1zM37 46h2v1h-2zM18 47h3v1h-3zM33 47h1v1h-1zM4 48h1v1h-1zM11 48h1v1h-1zM14 48h1v1h-1zM16 48h1v1h-1zM19 48h1v1h-1zM24 48h1v1h-1zM27 48h1v1h-1zM32 48h1v1h-1zM36 48h1v1h-1zM12 49h1v1h-1zM26 49h3v1h-3zM33 49h1v1h-1zM35 49h1v1h-1zM14 50h1v1h-1zM19 50h2v1h-2zM23 50h1v1h-1zM33 50h1v1h-1zM35 50h2v1h-2zM9 51h1v1h-1zM14 51h1v1h-1zM17 51h1v1h-1zM25 51h1v1h-1zM8 52h1v1h-1zM21 52h1v1h-1zM25 52h1v1h-1zM28 52h3v1h-3zM32 52h2v1h-2zM38 52h1v1h-1zM17 53h1v1h-1zM19 53h2v1h-2zM25 53h1v1h-1zM32 53h1v1h-1zM7 54h2v1h-2zM13 54h1v1h-1zM17 54h1v1h-1zM20 54h1v1h-1zM22 54h2v1h-2zM30 54h2v1h-2zM37 54h1v1h-1zM7 55h3v1h-3zM20 55h1v1h-1zM25 55h2v1h-2zM33 55h1v1h-1zM36 55h1v1h-1zM8 56h1v1h-1zM13 56h1v1h-1zM15 56h1v1h-1zM17 56h1v1h-1zM24 56h2v1h-2zM30 56h1v1h-1zM9 57h1v1h-1zM19 57h4v1h-4zM24 57h1v1h-1zM26 57h1v1h-1zM29 57h1v1h-1zM35 57h1v1h-1zM14 58h1v1h-1zM21 58h2v1h-2zM28 58h1v1h-1zM18 59h1v1h-1zM20 59h1v1h-1zM23 59h1v1h-1zM29 59h1v1h-1zM36 59h1v1h-1zM16 60h1v1h-1zM20 60h2v1h-2zM23 60h3v1h-3zM28 60h2v1h-2zM32 60h1v1h-1zM34 60h4v1h-4zM9 61h1v1h-1zM16 61h2v1h-2zM22 61h1v1h-1zM24 61h1v1h-1zM26 61h1v1h-1zM30 61h2v1h-2zM21 62h1v1h-1zM37 62h1v1h-1zM11 63h1v1h-1zM17 63h1v1h-1zM22 63h1v1h-1zM29 63h1v1h-1zM38 63h1v1h-1zM15 64h1v1h-1zM18 64h1v1h-1zM36 64h2v1h-2zM9 65h1v1h-1zM22 65h1v1h-1zM23 66h1v1h-1zM36 66h1v1h-1zM14 67h3v1h-3zM18 67h1v1h-1zM21 67h3v1h-3zM29 67h1v1h-1zM32 67h1v1h-1zM9 68h1v1h-1zM12 68h1v1h-1zM14 68h1v1h-1zM17 68h2v1h-2zM22 68h1v1h-1zM35 68h1v1h-1zM14 69h1v1h-1zM17 69h1v1h-1zM22 69h1v1h-1zM35 69h3v1h-3zM8 70h1v1h-1zM14 70h1v1h-1zM16 70h1v1h-1zM25 70h1v1h-1zM30 70h2v1h-2zM34 70h1v1h-1zM36 70h1v1h-1zM9 71h1v1h-1zM15 71h2v1h-2zM22 71h1v1h-1zM29 71h2v1h-2zM32 71h1v1h-1zM35 71h1v1h-1zM37 71h1v1h-1zM22 72h1v1h-1zM26 72h1v1h-1zM29 72h2v1h-2zM12 73h2v1h-2zM15 73h1v1h-1zM22 73h1v1h-1zM28 73h1v1h-1zM31 73h1v1h-1zM33 73h1v1h-1zM12 74h1v1h-1zM15 74h1v1h-1zM28 74h1v1h-1zM35 74h1v1h-1zM16 75h2v1h-2zM28 75h1v1h-1zM30 75h1v1h-1zM32 75h1v1h-1zM9 76h1v1h-1zM13 76h1v1h-1zM22 76h2v1h-2zM28 76h1v1h-1zM8 77h1v1h-1zM17 77h2v1h-2zM26 77h1v1h-1zM28 77h1v1h-1zM30 77h1v1h-1zM18 78h1v1h-1zM33 78h1v1h-1zM16 79h1v1h-1zM25 79h1v1h-1zM30 79h1v1h-1zM33 79h1v1h-1zM26 80h1v1h-1zM32 80h1v1h-1zM36 80h2v1h-2zM17 81h1v1h-1zM24 81h1v1h-1zM32 81h1v1h-1zM36 81h2v1h-2zM14 82h1v1h-1zM29 82h3v1h-3zM33 82h1v1h-1zM12 83h1v1h-1zM32 83h2v1h-2zM36 83h2v1h-2zM9 84h1v1h-1zM13 84h1v1h-1zM21 84h1v1h-1zM16 85h1v1h-1zM21 85h1v1h-1zM24 85h1v1h-1zM31 85h1v1h-1zM33 85h1v1h-1zM14 86h1v1h-1zM16 86h2v1h-2zM22 86h2v1h-2zM26 86h1v1h-1zM29 86h1v1h-1zM14 87h2v1h-2zM18 87h2v1h-2zM23 87h1v1h-1zM30 87h1v1h-1z"/>
<path fill="#ffa000" d="M29 0h1v1h-1zM11 1h1v1h-1zM14 1h1v1h-1zM20 1h1v1h-1zM25 1h2v1h-2zM33 1h1v1h-1zM23 2h1v1h-1zM31 2h1v1h-1zM33 2h1v1h-1zM19 3h1v1h-1zM21 3h1v1h-1zM24 3h1v1h-1zM32 3h1v1h-1zM34 3h2v1h-2zM19 4h2v1h-2zM23 4h2v1h-2zM35 4h1v1h-1zM23 5h1v1h-1zM35 5h2v1h-2zM18 6h1v1h-1zM22 6h1v1h-1zM12 7h1v1h-1zM24 7h3v1h-3zM28 7h1v1h-1zM31 7h3v1h-3zM35 7h1v1h-1zM13 8h1v1h-1zM18 8h1v1h-1zM18 9h1v1h-1zM26 9h1v1h-1zM33 9h1v1h-1zM26 10h1v1h-1zM28 10h2v1h-2zM32 10h1v1h-1zM24 11h2v1h-2zM32 11h1v1h-1zM28 12h1v1h-1zM33 12h1v1h-1zM17 13h1v1h-1zM31 13h1v1h-1zM25 14h3v1h-3zM29 14h1v1h-1zM17 15h1v1h-1zM26 15h2v1h-2zM17 16h1v1h-1zM19 16h1v1h-1zM21 16h1v1h-1zM23 16h1v1h-1zM28 16h1v1h-1zM18 17h2v1h-2zM22 17h1v1h-1zM25 17h1v1h-1zM33 17h1v1h-1zM22 18h1v1h-1zM33 18h1v1h-1zM14 19h1v1h-1zM34 19h1v1h-1zM19 20h1v1h-1zM21 20h1v1h-1zM26 20h2v1h-2zM30 20h1v1h-1zM18 21h1v1h-1zM22 21h1v1h-1zM26 21h1v1h-1zM29 21h1v1h-1zM18 22h3v1h-3zM24 22h1v1h-1zM20 23h1v1h-1zM23 23h1v1h-1zM25 23h1v1h-1zM30 23h1v1h-1zM17 24h1v1h-1zM19 24h1v1h-1zM30 24h1v1h-1zM32 24h1v1h-1zM16 25h1v1h-1zM18 25h1v1h-1zM21 25h1v1h-1zM23 25h2v1h-2zM30 25h1v1h-1zM22 26h1v1h-1zM25 26h1v1h-1zM31 26h1v1h-1zM35 26h1v1h-1zM15 27h1v1h-1zM17 27h1v1h-1zM23 27h1v1h-1zM25 27h1v1h-1zM21 28h1v1h-1zM23 28h2v1h-2zM27 28h3v1h-3zM14 29h1v1h-1zM22 29h1v1h-1zM28 29h1v1h-1zM30 29h1v1h-1zM17 30h2v1h-2zM34 30h1v1h-1zM19 31h1v1h-1zM29 31h1v1h-1zM31 31h1v1h-1zM34 31h1v1h-1zM9 32h1v1h-1zM14 32h1v1h-1zM20 32h2v1h-2zM24 32h2v1h-2zM35 32h1v1h-1zM14 33h1v1h-1zM25 33h2v1h-2zM30 33h1v1h-1zM32 33h1v1h-1zM36 33h1v1h-1zM15 34h3v1h-3zM20 34h1v1h-1zM29 34h1v1h-1zM31 34h1v1h-1zM12 35h1v1h-1zM14 35h1v1h-1zM16 35h1v1h-1zM20 35h2v1h-2zM27 35h1v1h-1zM32 35h1v1h-1zM17 36h1v1h-1zM23 36h1v1h-1zM28 36h1v1h-1zM32 36h1v1h-1zM24 37h1v1h-1zM26 37h2v1h-2zM35 37h1v1h-1zM17 38h3v1h-3zM22 38h1v1h-1zM24 38h1v1h-1zM26 38h1v1h-1zM29 38h1v1h-1zM34 38h1v1h-1zM15 39h1v1h-1zM17 39h1v1h-1zM23 39h1v1h-1zM25 39h1v1h-1zM29 39h1v1h-1zM32 39h1v1h-1zM34 39h1v1h-1zM20 40h1v1h-1zM23 40h1v1h-1zM31 40h1v1h-1zM33 40h3v1h-3zM13 41h2v1h-2zM24 41h3v1h-3zM29 41h1v1h-1zM13 42h1v1h-1zM18 42h1v1h-1zM20 42h1v1h-1zM23 42h3v1h-3zM27 42h1v1h-1zM33 42h1v1h-1zM22 43h3v1h-3zM26 43h1v1h-1zM35 43h1v1h-1zM18 44h1v1h-1zM25 44h1v1h-1zM29 44h1v1h-1zM36 44h1v1h-1zM40 44h1v1h-1zM8 45h1v1h-1zM17 45h1v1h-1zM23 45h1v1h-1zM26 45h1v1h-1zM28 45h1v1h-1zM20 46h1v1h-1zM23 46h1v1h-1zM29 46h1v1h-1zM32 46h1v1h-1zM16 47h2v1h-2zM22 47h1v1h-1zM12 48h1v1h-1zM18 48h1v1h-1zM22 48h2v1h-2zM26 48h1v1h-1zM28 48h2v1h-2zM17 49h2v1h-2zM20 49h1v1h-1zM24 49h1v1h-1zM29 49h2v1h-2zM13 50h1v1h-1zM21 50h2v1h-2zM28 50h3v1h-3zM13 51h1v1h-1zM19 51h1v1h-1zM21 51h1v1h-1zM24 51h1v1h-1zM26 51h2v1h-2zM30 51h1v1h-1zM37 51h1v1h-1zM22 52h1v1h-1zM27 52h1v1h-1zM34 52h2v1h-2zM12 53h1v1h-1zM24 53h1v1h-1zM29 53h3v1h-3zM36 53h1v1h-1zM14 54h1v1h-1zM19 54h1v1h-1zM24 54h1v1h-1zM27 54h3v1h-3zM13 55h1v1h-1zM17 55h3v1h-3zM21 55h1v1h-1zM23 55h2v1h-2zM29 55h1v1h-1zM14 56h1v1h-1zM21 56h1v1h-1zM27 56h1v1h-1zM29 56h1v1h-1zM17 57h1v1h-1zM30 57h1v1h-1zM34 57h1v1h-1zM13 58h1v1h-1zM20 58h1v1h-1zM23 58h1v1h-1zM26 58h2v1h-2zM31 58h1v1h-1zM13 59h1v1h-1zM17 59h1v1h-1zM19 59h1v1h-1zM17 60h3v1h-3zM31 60h1v1h-1zM14 61h1v1h-1zM25 61h1v1h-1zM27 61h3v1h-3zM34 61h1v1h-1zM36 61h1v1h-1zM14 62h1v1h-1zM26 62h1v1h-1zM31 62h1v1h-1zM18 63h2v1h-2zM25 63h1v1h-1zM30 63h1v1h-1zM32 63h1v1h-1zM17 64h1v1h-1zM22 64h1v1h-1zM25 64h1v1h-1zM8 65h1v1h-1zM18 65h4v1h-4zM25 65h3v1h-3zM29 65h1v1h-1zM31 65h1v1h-1zM34 65h1v1h-1zM36 65h1v1h-1zM13 66h3v1h-3zM19 66h1v1h-1zM24 66h1v1h-1zM17 67h1v1h-1zM25 67h1v1h-1zM31 67h1v1h-1zM16 68h1v1h-1zM21 68h1v1h-1zM30 68h1v1h-1zM8 69h1v1h-1zM16 69h1v1h-1zM21 69h1v1h-1zM27 69h1v1h-1zM30 69h3v1h-3zM17 70h1v1h-1zM20 70h3v1h-3zM27 70h1v1h-1zM29 70h1v1h-1zM13 71h1v1h-1zM17 71h1v1h-1zM20 71h2v1h-2zM31 71h1v1h-1zM15 72h1v1h-1zM31 72h3v1h-3zM14 73h1v1h-1zM18 73h3v1h-3zM23 73h1v1h-1zM29 73h1v1h-1zM14 74h1v1h-1zM17 74h1v1h-1zM20 74h1v1h-1zM23 74h1v1h-1zM8 75h2v1h-2zM13 75h1v1h-1zM18 75h1v1h-1zM22 75h3v1h-3zM29 75h1v1h-1zM31 75h1v1h-1zM8 76h1v1h-1zM14 76h2v1h-2zM27 76h1v1h-1zM13 77h1v1h-1zM15 77h1v1h-1zM22 77h1v1h-1zM25 77h1v1h-1zM12 78h1v1h-1zM17 78h1v1h-1zM19 78h1v1h-1zM25 78h1v1h-1zM29 78h1v1h-1zM13 79h1v1h-1zM15 79h1v1h-1zM18 79h2v1h-2zM23 79h1v1h-1zM31 79h1v1h-1zM37 79h1v1h-1zM13 80h1v1h-1zM17 80h1v1h-1zM29 80h1v1h-1zM31 80h1v1h-1zM21 81h2v1h-2zM27 81h4v1h-4zM33 81h1v1h-1zM17 82h2v1h-2zM21 82h3v1h-3zM28 82h1v1h-1zM35 82h1v1h-1zM37 82h1v1h-1zM14 83h1v1h-1zM16 83h2v1h-2zM19 83h1v1h-1zM23 83h1v1h-1zM25 83h2v1h-2zM28 83h3v1h-3zM35 83h1v1h-1zM12 84h1v1h-1zM18 84h1v1h-1zM20 84h1v1h-1zM31 84h1v1h-1zM33 84h1v1h-1zM13 85h2v1h-2zM17 85h1v1h-1zM25 85h2v1h-2zM32 85h1v1h-1zM34 85h2v1h-2zM37 85h1v1h-1zM19 86h1v1h-1zM28 86h1v1h-1zM30 86h1v1h-1zM32 86h1v1h-1zM37 86h1v1h-1zM22 87h1v1h-1zM26 87h1v1h-1zM32 87h2v1h-2zM36 87h2v1h-2z"/>
<path fill="#ff8600" d="M22 0h3v1h-3zM30 0h1v1h-1zM31 1h1v1h-1zM34 2h1v1h-1zM20 3h1v1h-1zM23 3h1v1h-1zM26 3h1v1h-1zM29 3h1v1h-1zM36 3h1v1h-1zM29 4h1v1h-1zM24 5h1v1h-1zM32 5h2v1h-2zM16 6h2v1h-2zM30 6h1v1h-1zM33 6h1v1h-1zM30 7h1v1h-1zM17 9h1v1h-1zM28 9h1v1h-1zM31 10h1v1h-1zM28 11h1v1h-1zM18 13h2v1h-2zM24 13h1v1h-1zM33 13h1v1h-1zM24 14h1v1h-1zM33 14h1v1h-1zM19 15h1v1h-1zM28 15h1v1h-1zM31 15h1v1h-1zM24 16h2v1h-2zM30 16h2v1h-2zM17 18h1v1h-1zM20 18h1v1h-1zM30 18h1v1h-1zM18 19h3v1h-3zM31 19h1v1h-1zM17 20h1v1h-1zM20 20h1v1h-1zM23 20h1v1h-1zM31 20h2v1h-2zM17 21h1v1h-1zM21 21h1v1h-1zM27 21h1v1h-1zM14 22h1v1h-1zM16 22h1v1h-1zM26 22h1v1h-1zM16 23h2v1h-2zM21 24h1v1h-1zM23 24h2v1h-2zM14 25h2v1h-2zM17 25h1v1h-1zM31 25h1v1h-1zM35 25h1v1h-1zM16 26h1v1h-1zM20 26h1v1h-1zM24 26h1v1h-1zM20 27h1v1h-1zM22 27h1v1h-1zM30 27h1v1h-1zM13 28h1v1h-1zM17 28h1v1h-1zM25 28h1v1h-1zM9 29h1v1h-1zM13 29h1v1h-1zM17 29h1v1h-1zM24 29h2v1h-2zM27 29h1v1h-1zM29 29h1v1h-1zM14 30h1v1h-1zM20 30h1v1h-1zM25 30h1v1h-1zM28 30h1v1h-1zM9 31h1v1h-1zM14 31h2v1h-2zM18 31h1v1h-1zM20 31h2v1h-2zM25 31h1v1h-1zM35 31h1v1h-1zM30 32h1v1h-1zM19 33h2v1h-2zM31 33h1v1h-1zM13 34h1v1h-1zM21 34h1v1h-1zM24 34h1v1h-1zM26 34h2v1h-2zM32 34h1v1h-1zM24 35h3v1h-3zM28 35h1v1h-1zM19 36h1v1h-1zM21 36h1v1h-1zM25 36h1v1h-1zM18 37h1v1h-1zM22 37h1v1h-1zM28 37h2v1h-2zM34 37h1v1h-1zM23 38h1v1h-1zM20 39h1v1h-1zM22 39h1v1h-1zM22 40h1v1h-1zM25 40h2v1h-2zM30 40h1v1h-1zM32 40h1v1h-1zM20 41h2v1h-2zM28 41h1v1h-1zM30 41h1v1h-1zM9 42h1v1h-1zM14 42h1v1h-1zM19 42h1v1h-1zM21 42h1v1h-1zM26 42h1v1h-1zM29 42h1v1h-1zM31 42h2v1h-2zM34 42h2v1h-2zM14 43h1v1h-1zM18 43h3v1h-3zM9 44h1v1h-1zM19 44h4v1h-4zM27 44h2v1h-2zM35 44h1v1h-1zM21 45h1v1h-1zM27 45h1v1h-1zM31 45h1v1h-1zM33 45h2v1h-2zM14 46h1v1h-1zM22 46h1v1h-1zM27 46h2v1h-2zM31 46h1v1h-1zM33 46h1v1h-1zM21 47h1v1h-1zM23 47h1v1h-1zM27 47h3v1h-3zM17 48h1v1h-1zM30 48h1v1h-1zM35 48h1v1h-1zM21 49h3v1h-3zM32 49h1v1h-1zM22 51h2v1h-2zM32 51h2v1h-2zM36 51h1v1h-1zM16 52h1v1h-1zM18 52h1v1h-1zM20 52h1v1h-1zM24 52h1v1h-1zM31 52h1v1h-1zM37 52h1v1h-1zM18 53h1v1h-1zM23 53h1v1h-1zM26 53h1v1h-1zM27 55h1v1h-1zM30 55h1v1h-1zM18 56h3v1h-3zM35 56h1v1h-1zM18 57h1v1h-1zM27 57h1v1h-1zM17 58h3v1h-3zM25 58h1v1h-1zM35 58h1v1h-1zM14 59h1v1h-1zM24 59h1v1h-1zM30 59h2v1h-2zM34 59h2v1h-2zM13 60h1v1h-1zM26 60h1v1h-1zM18 61h1v1h-1zM35 61h1v1h-1zM9 62h1v1h-1zM24 62h1v1h-1zM30 62h1v1h-1zM20 63h1v1h-1zM24 63h1v1h-1zM26 63h2v1h-2zM31 63h1v1h-1zM16 64h1v1h-1zM19 64h1v1h-1zM21 64h1v1h-1zM23 64h1v1h-1zM26 64h1v1h-1zM28 64h1v1h-1zM35 64h1v1h-1zM17 65h1v1h-1zM28 65h1v1h-1zM30 65h1v1h-1zM20 66h3v1h-3zM25 66h1v1h-1zM27 66h3v1h-3zM31 66h1v1h-1zM19 67h2v1h-2zM24 67h1v1h-1zM26 67h1v1h-1zM30 67h1v1h-1zM35 67h1v1h-1zM23 68h3v1h-3zM32 68h2v1h-2zM18 69h2v1h-2zM26 69h1v1h-1zM34 69h1v1h-1zM9 70h1v1h-1zM24 70h1v1h-1zM28 70h1v1h-1zM35 70h1v1h-1zM14 71h1v1h-1zM18 71h1v1h-1zM25 71h1v1h-1zM27 71h1v1h-1zM16 72h1v1h-1zM20 72h1v1h-1zM17 73h1v1h-1zM21 73h1v1h-1zM24 73h1v1h-1zM18 74h2v1h-2zM21 74h1v1h-1zM25 74h1v1h-1zM30 74h1v1h-1zM14 75h1v1h-1zM21 75h1v1h-1zM25 75h2v1h-2zM17 76h1v1h-1zM19 76h1v1h-1zM26 76h1v1h-1zM19 77h2v1h-2zM23 77h1v1h-1zM14 78h1v1h-1zM20 78h1v1h-1zM30 78h3v1h-3zM17 79h1v1h-1zM21 79h1v1h-1zM24 79h1v1h-1zM27 79h3v1h-3zM20 80h1v1h-1zM23 80h1v1h-1zM27 80h2v1h-2zM30 80h1v1h-1zM13 81h1v1h-1zM15 81h1v1h-1zM25 81h1v1h-1zM19 82h1v1h-1zM25 82h1v1h-1zM27 82h1v1h-1zM13 83h1v1h-1zM15 83h1v1h-1zM18 83h1v1h-1zM20 83h1v1h-1zM24 83h1v1h-1zM27 83h1v1h-1zM15 84h3v1h-3zM19 84h1v1h-1zM24 84h1v1h-1zM26 84h3v1h-3zM19 85h2v1h-2zM27 85h2v1h-2zM30 85h1v1h-1zM38 85h1v1h-1zM18 86h1v1h-1zM21 86h1v1h-1zM24 86h1v1h-1zM27 86h1v1h-1zM31 86h1v1h-1zM17 87h1v1h-1zM20 87h2v1h-2zM24 87h2v1h-2zM27 87h1v1h-1zM31 87h1v1h-1zM35 87h1v1h-1z"/>
<path fill="#ff6c00" d="M21 0h1v1h-1zM25 0h3v1h-3zM31 0h1v1h-1zM36 0h1v1h-1zM24 2h2v1h-2zM29 2h2v1h-2zM32 2h1v1h-1zM25 3h1v1h-1zM31 3h1v1h-1zM26 4h1v1h-1zM31 4h2v1h-2zM25 5h2v1h-2zM30 5h2v1h-2zM25 6h1v1h-1zM32 6h1v1h-1zM35 6h1v1h-1zM21 7h1v1h-1zM23 7h1v1h-1zM29 7h1v1h-1zM19 8h1v1h-1zM32 9h1v1h-1zM34 9h1v1h-1zM26 13h1v1h-1zM32 14h1v1h-1zM14 15h1v1h-1zM18 15h1v1h-1zM24 15h1v1h-1zM20 17h2v1h-2zM21 18h1v1h-1zM17 19h1v1h-1zM23 21h1v1h-1zM30 21h2v1h-2zM23 22h1v1h-1zM27 22h1v1h-1zM31 22h1v1h-1zM24 23h1v1h-1zM14 26h2v1h-2zM17 26h2v1h-2zM14 27h1v1h-1zM18 27h2v1h-2zM21 27h1v1h-1zM20 28h1v1h-1zM26 28h1v1h-1zM26 29h1v1h-1zM19 30h1v1h-1zM21 30h1v1h-1zM26 30h2v1h-2zM29 30h2v1h-2zM27 31h1v1h-1zM26 32h1v1h-1zM14 34h1v1h-1zM28 34h1v1h-1zM30 35h2v1h-2zM18 36h1v1h-1zM20 36h1v1h-1zM24 36h1v1h-1zM26 36h1v1h-1zM19 37h3v1h-3zM25 37h1v1h-1zM21 38h1v1h-1zM18 39h1v1h-1zM35 39h1v1h-1zM24 40h1v1h-1zM22 41h1v1h-1zM22 42h1v1h-1zM28 42h1v1h-1zM30 42h1v1h-1zM21 43h1v1h-1zM25 43h1v1h-1zM28 43h2v1h-2zM31 43h1v1h-1zM26 44h1v1h-1zM30 44h3v1h-3zM18 45h1v1h-1zM25 46h1v1h-1zM30 46h1v1h-1zM24 47h2v1h-2zM32 47h1v1h-1zM20 48h1v1h-1zM13 49h2v1h-2zM31 49h1v1h-1zM31 50h1v1h-1zM20 51h1v1h-1zM19 52h1v1h-1zM23 52h1v1h-1zM26 52h1v1h-1zM28 53h1v1h-1zM14 55h1v1h-1zM35 55h1v1h-1zM29 58h1v1h-1zM25 59h2v1h-2zM30 60h1v1h-1zM23 62h1v1h-1zM25 62h1v1h-1zM27 62h1v1h-1zM28 63h1v1h-1zM20 64h1v1h-1zM27 64h1v1h-1zM29 64h2v1h-2zM32 65h1v1h-1zM30 66h1v1h-1zM20 68h1v1h-1zM26 68h1v1h-1zM20 69h1v1h-1zM25 69h1v1h-1zM18 70h2v1h-2zM26 70h1v1h-1zM32 70h1v1h-1zM19 71h1v1h-1zM26 71h1v1h-1zM28 71h1v1h-1zM13 72h1v1h-1zM17 72h3v1h-3zM21 72h1v1h-1zM23 72h1v1h-1zM25 72h1v1h-1zM30 73h1v1h-1zM22 74h1v1h-1zM24 74h1v1h-1zM26 74h2v1h-2zM19 75h2v1h-2zM27 75h1v1h-1zM16 76h1v1h-1zM18 76h1v1h-1zM25 76h1v1h-1zM24 77h1v1h-1zM16 78h1v1h-1zM21 78h4v1h-4zM26 78h3v1h-3zM20 79h1v1h-1zM22 79h1v1h-1zM26 79h1v1h-1zM18 80h1v1h-1zM22 80h1v1h-1zM25 80h1v1h-1zM18 81h2v1h-2zM26 81h1v1h-1zM24 82h1v1h-1zM25 84h1v1h-1zM30 84h1v1h-1zM18 85h1v1h-1zM29 85h1v1h-1zM36 85h1v1h-1zM20 86h1v1h-1zM25 86h1v1h-1z"/>
<path fill="#ff5200" d="M32 0h1v1h-1zM33 3h1v1h-1zM19 6h1v1h-1zM26 6h1v1h-1zM31 6h1v1h-1zM31 9h1v1h-1zM25 13h1v1h-1zM27 13h1v1h-1zM30 22h1v1h-1zM19 26h1v1h-1zM14 28h1v1h-1zM18 28h2v1h-2zM18 29h1v1h-1zM20 29h2v1h-2zM26 31h1v1h-1zM17 37h1v1h-1zM35 38h1v1h-1zM19 40h1v1h-1zM30 43h1v1h-1zM17 44h1v1h-1zM32 45h1v1h-1zM35 45h1v1h-1zM26 46h1v1h-1zM30 47h2v1h-2zM21 48h1v1h-1zM31 48h1v1h-1zM32 50h1v1h-1zM31 51h1v1h-1zM36 52h1v1h-1zM27 53h1v1h-1zM28 55h1v1h-1zM28 57h1v1h-1zM28 62h1v1h-1zM31 64h1v1h-1zM35 65h1v1h-1zM26 66h1v1h-1zM35 66h1v1h-1zM19 68h1v1h-1zM23 69h2v1h-2zM33 69h1v1h-1zM23 70h1v1h-1zM23 71h2v1h-2zM24 72h1v1h-1zM25 73h2v1h-2zM24 76h1v1h-1zM14 80h1v1h-1zM19 80h1v1h-1zM21 80h1v1h-1zM24 80h1v1h-1zM14 81h1v1h-1zM20 81h1v1h-1zM29 84h1v1h-1z"/>
<path fill="#ff3800" d="M30 3h1v1h-1zM24 6h1v1h-1zM21 40h1v1h-1zM27 43h1v1h-1zM24 46h1v1h-1zM26 47h1v1h-1zM29 62h1v1h-1zM14 84h1v1h-1z"/>
<path fill="#ff1d00" d="M30 4h1v1h-1zM19 29h1v1h-1z"/>
</g>
<rect x="410.3" y="29.1" width="236.40" height="236.10" fill="none" stroke="#4a4a4a" stroke-width="0.7"/>
<line x1="646.7" y1="31.4" x2="648.7" y2="31.4" stroke="#808080" stroke-width="0.6"/>
<text x="649.0" y="34.4" font-size="8.6" text-anchor="start">2000</text>
<line x1="646.7" y1="52.9" x2="648.7" y2="52.9" stroke="#808080" stroke-width="0.6"/>
<text x="649.0" y="55.9" font-size="8.6" text-anchor="start">2001</text>
<line x1="646.7" y1="74.3" x2="648.7" y2="74.3" stroke="#808080" stroke-width="0.6"/>
<text x="649.0" y="77.3" font-size="8.6" text-anchor="start">2002</text>
<line x1="646.7" y1="95.8" x2="648.7" y2="95.8" stroke="#808080" stroke-width="0.6"/>
<text x="649.0" y="98.8" font-size="8.6" text-anchor="start">2003</text>
<line x1="646.7" y1="117.3" x2="648.7" y2="117.3" stroke="#808080" stroke-width="0.6"/>
<text x="649.0" y="120.3" font-size="8.6" text-anchor="start">2004</text>
<line x1="646.7" y1="138.7" x2="648.7" y2="138.7" stroke="#808080" stroke-width="0.6"/>
<text x="649.0" y="141.7" font-size="8.6" text-anchor="start">2005</text>
<line x1="646.7" y1="160.2" x2="648.7" y2="160.2" stroke="#808080" stroke-width="0.6"/>
<text x="649.0" y="163.2" font-size="8.6" text-anchor="start">2006</text>
<line x1="646.7" y1="181.6" x2="648.7" y2="181.6" stroke="#808080" stroke-width="0.6"/>
<text x="649.0" y="184.6" font-size="8.6" text-anchor="start">2007</text>
<line x1="646.7" y1="203.1" x2="648.7" y2="203.1" stroke="#808080" stroke-width="0.6"/>
<text x="649.0" y="206.1" font-size="8.6" text-anchor="start">2008</text>
<line x1="646.7" y1="224.6" x2="648.7" y2="224.6" stroke="#808080" stroke-width="0.6"/>
<text x="649.0" y="227.6" font-size="8.6" text-anchor="start">2009</text>
<line x1="646.7" y1="246.0" x2="648.7" y2="246.0" stroke="#808080" stroke-width="0.6"/>
<text x="649.0" y="249.0" font-size="8.6" text-anchor="start">2010</text>
<rect x="670.4" y="29.2" width="61.90" height="236.10" fill="#fff" stroke="#808080" stroke-width="1"/>
<text x="670.4" y="275.9" font-size="8.0" text-anchor="middle">260</text>
<line x1="686.6" y1="29.2" x2="686.6" y2="31.2" stroke="#808080" stroke-width="0.6"/>
<line x1="686.6" y1="265.3" x2="686.6" y2="263.3" stroke="#808080" stroke-width="0.6"/>
<text x="686.6" y="275.9" font-size="8.0" text-anchor="middle">275</text>
<line x1="702.7" y1="29.2" x2="702.7" y2="31.2" stroke="#808080" stroke-width="0.6"/>
<line x1="702.7" y1="265.3" x2="702.7" y2="263.3" stroke="#808080" stroke-width="0.6"/>
<text x="702.7" y="275.9" font-size="8.0" text-anchor="middle">290</text>
<line x1="718.9" y1="29.2" x2="718.9" y2="31.2" stroke="#808080" stroke-width="0.6"/>
<line x1="718.9" y1="265.3" x2="718.9" y2="263.3" stroke="#808080" stroke-width="0.6"/>
<text x="718.9" y="275.9" font-size="8.0" text-anchor="middle">305</text>
<text x="701.3" y="285.2" font-size="9.3" text-anchor="middle">LST (K)</text>
<svg x="670.4" y="29.2" width="61.90" height="236.10" viewBox="670.4 29.2 61.90 236.10" overflow="hidden">
<path d="M710.8 40.1H700.2M720.2 40.1H728.1" stroke="#1a9a3a" stroke-width="1.3" stroke-dasharray="6.5 2.5" fill="none"/>
<path d="M700.2 39.2V41.0M728.1 39.2V41.0" stroke="#1a9a3a" stroke-width="1.3" fill="none"/>
<rect x="710.8" y="37.7" width="9.4" height="4.8" fill="none" stroke="#1a9a3a" stroke-width="1.2"/>
<line x1="715.8" y1="37.7" x2="715.8" y2="42.5" stroke="#1a9a3a" stroke-width="1.2"/>
<path d="M695.5 40.1h3.4M697.2 38.4v3.4" stroke="#1a9a3a" stroke-width="0.9"/>
<path d="M707.6 45.3H692.0M718.3 45.3H735.1" stroke="#d62728" stroke-width="1.3" stroke-dasharray="6.5 2.5" fill="none"/>
<path d="M692.0 44.4V46.2M735.1 44.4V46.2" stroke="#d62728" stroke-width="1.3" fill="none"/>
<rect x="707.6" y="42.9" width="10.7" height="4.8" fill="none" stroke="#d62728" stroke-width="1.2"/>
<line x1="713.3" y1="42.9" x2="713.3" y2="47.7" stroke="#d62728" stroke-width="1.2"/>
<path d="M678.0 45.3h3.4M679.7 43.6v3.4" stroke="#d62728" stroke-width="0.9"/>
<path d="M682.1 45.3h3.4M683.8 43.6v3.4" stroke="#d62728" stroke-width="0.9"/>
<path d="M688.6 45.3h3.4M690.3 43.6v3.4" stroke="#d62728" stroke-width="0.9"/>
<path d="M706.4 61.5H698.2M716.5 61.5H721.5" stroke="#1a9a3a" stroke-width="1.3" stroke-dasharray="6.5 2.5" fill="none"/>
<path d="M698.2 60.6V62.4M721.5 60.6V62.4" stroke="#1a9a3a" stroke-width="1.3" fill="none"/>
<rect x="706.4" y="59.1" width="10.1" height="4.8" fill="none" stroke="#1a9a3a" stroke-width="1.2"/>
<line x1="712.0" y1="59.1" x2="712.0" y2="63.9" stroke="#1a9a3a" stroke-width="1.2"/>
<path d="M705.4 66.8H690.3M714.2 66.8H722.4" stroke="#d62728" stroke-width="1.3" stroke-dasharray="6.5 2.5" fill="none"/>
<path d="M690.3 65.9V67.7M722.4 65.9V67.7" stroke="#d62728" stroke-width="1.3" fill="none"/>
<rect x="705.4" y="64.4" width="8.7" height="4.8" fill="none" stroke="#d62728" stroke-width="1.2"/>
<line x1="710.0" y1="64.4" x2="710.0" y2="69.2" stroke="#d62728" stroke-width="1.2"/>
<path d="M680.5 66.8h3.4M682.2 65.1v3.4" stroke="#d62728" stroke-width="0.9"/>
<path d="M687.0 66.8h3.4M688.7 65.1v3.4" stroke="#d62728" stroke-width="0.9"/>
<path d="M706.0 83.0H695.6M717.7 83.0H719.6" stroke="#1a9a3a" stroke-width="1.3" stroke-dasharray="6.5 2.5" fill="none"/>
<path d="M695.6 82.1V83.9M719.6 82.1V83.9" stroke="#1a9a3a" stroke-width="1.3" fill="none"/>
<rect x="706.0" y="80.6" width="11.8" height="4.8" fill="none" stroke="#1a9a3a" stroke-width="1.2"/>
<line x1="712.4" y1="80.6" x2="712.4" y2="85.4" stroke="#1a9a3a" stroke-width="1.2"/>
<path d="M705.4 88.2H690.3M715.8 88.2H723.2" stroke="#d62728" stroke-width="1.3" stroke-dasharray="6.5 2.5" fill="none"/>
<path d="M690.3 87.3V89.1M723.2 87.3V89.1" stroke="#d62728" stroke-width="1.3" fill="none"/>
<rect x="705.4" y="85.8" width="10.3" height="4.8" fill="none" stroke="#d62728" stroke-width="1.2"/>
<line x1="711.4" y1="85.8" x2="711.4" y2="90.6" stroke="#d62728" stroke-width="1.2"/>
<path d="M668.2 88.2h3.4M669.9 86.5v3.4" stroke="#d62728" stroke-width="0.9"/>
<path d="M706.0 104.5H695.6M717.7 104.5H723.2" stroke="#1a9a3a" stroke-width="1.3" stroke-dasharray="6.5 2.5" fill="none"/>
<path d="M695.6 103.6V105.4M723.2 103.6V105.4" stroke="#1a9a3a" stroke-width="1.3" fill="none"/>
<rect x="706.0" y="102.1" width="11.8" height="4.8" fill="none" stroke="#1a9a3a" stroke-width="1.2"/>
<line x1="714.2" y1="102.1" x2="714.2" y2="106.9" stroke="#1a9a3a" stroke-width="1.2"/>
<path d="M707.1 109.7H693.6M716.2 109.7H725.6" stroke="#d62728" stroke-width="1.3" stroke-dasharray="6.5 2.5" fill="none"/>
<path d="M693.6 108.8V110.6M725.6 108.8V110.6" stroke="#d62728" stroke-width="1.3" fill="none"/>
<rect x="707.1" y="107.3" width="9.2" height="4.8" fill="none" stroke="#d62728" stroke-width="1.2"/>
<line x1="712.0" y1="107.3" x2="712.0" y2="112.1" stroke="#d62728" stroke-width="1.2"/>
<path d="M682.9 109.7h3.4M684.6 108.0v3.4" stroke="#d62728" stroke-width="0.9"/>
<path d="M689.4 109.7h3.4M691.1 108.0v3.4" stroke="#d62728" stroke-width="0.9"/>
<path d="M705.4 125.9H695.3M717.7 125.9H720.6" stroke="#1a9a3a" stroke-width="1.3" stroke-dasharray="6.5 2.5" fill="none"/>
<path d="M695.3 125.0V126.8M720.6 125.0V126.8" stroke="#1a9a3a" stroke-width="1.3" fill="none"/>
<rect x="705.4" y="123.5" width="12.3" height="4.8" fill="none" stroke="#1a9a3a" stroke-width="1.2"/>
<line x1="712.0" y1="123.5" x2="712.0" y2="128.3" stroke="#1a9a3a" stroke-width="1.2"/>
<path d="M706.0 131.2H690.0M715.8 131.2H721.5" stroke="#d62728" stroke-width="1.3" stroke-dasharray="6.5 2.5" fill="none"/>
<path d="M690.0 130.3V132.1M721.5 130.3V132.1" stroke="#d62728" stroke-width="1.3" fill="none"/>
<rect x="706.0" y="128.8" width="9.8" height="4.8" fill="none" stroke="#d62728" stroke-width="1.2"/>
<line x1="711.7" y1="128.8" x2="711.7" y2="133.6" stroke="#d62728" stroke-width="1.2"/>
<path d="M686.7 131.2h3.4M688.4 129.5v3.4" stroke="#d62728" stroke-width="0.9"/>
<path d="M707.6 147.4H696.9M719.0 147.4H724.2" stroke="#1a9a3a" stroke-width="1.3" stroke-dasharray="6.5 2.5" fill="none"/>
<path d="M696.9 146.5V148.3M724.2 146.5V148.3" stroke="#1a9a3a" stroke-width="1.3" fill="none"/>
<rect x="707.6" y="145.0" width="11.4" height="4.8" fill="none" stroke="#1a9a3a" stroke-width="1.2"/>
<line x1="715.9" y1="145.0" x2="715.9" y2="149.8" stroke="#1a9a3a" stroke-width="1.2"/>
<path d="M707.3 152.6H692.9M717.2 152.6H725.1" stroke="#d62728" stroke-width="1.3" stroke-dasharray="6.5 2.5" fill="none"/>
<path d="M692.9 151.7V153.5M725.1 151.7V153.5" stroke="#d62728" stroke-width="1.3" fill="none"/>
<rect x="707.3" y="150.2" width="9.9" height="4.8" fill="none" stroke="#d62728" stroke-width="1.2"/>
<line x1="712.8" y1="150.2" x2="712.8" y2="155.0" stroke="#d62728" stroke-width="1.2"/>
<path d="M676.5 152.6h3.4M678.2 150.9v3.4" stroke="#d62728" stroke-width="0.9"/>
<path d="M686.6 152.6h3.4M688.3 150.9v3.4" stroke="#d62728" stroke-width="0.9"/>
<path d="M708.6 168.8H699.9M719.0 168.8H723.8" stroke="#1a9a3a" stroke-width="1.3" stroke-dasharray="6.5 2.5" fill="none"/>
<path d="M699.9 167.9V169.7M723.8 167.9V169.7" stroke="#1a9a3a" stroke-width="1.3" fill="none"/>
<rect x="708.6" y="166.4" width="10.5" height="4.8" fill="none" stroke="#1a9a3a" stroke-width="1.2"/>
<line x1="716.4" y1="166.4" x2="716.4" y2="171.2" stroke="#1a9a3a" stroke-width="1.2"/>
<path d="M707.3 174.1H697.5M717.2 174.1H726.3" stroke="#d62728" stroke-width="1.3" stroke-dasharray="6.5 2.5" fill="none"/>
<path d="M697.5 173.2V175.0M726.3 173.2V175.0" stroke="#d62728" stroke-width="1.3" fill="none"/>
<rect x="707.3" y="171.7" width="9.9" height="4.8" fill="none" stroke="#d62728" stroke-width="1.2"/>
<line x1="712.8" y1="171.7" x2="712.8" y2="176.5" stroke="#d62728" stroke-width="1.2"/>
<path d="M678.3 174.1h3.4M680.0 172.4v3.4" stroke="#d62728" stroke-width="0.9"/>
<path d="M682.9 174.1h3.4M684.6 172.4v3.4" stroke="#d62728" stroke-width="0.9"/>
<path d="M690.3 174.1h3.4M692.0 172.4v3.4" stroke="#d62728" stroke-width="0.9"/>
<path d="M709.1 190.3H700.6M716.4 190.3H719.0" stroke="#1a9a3a" stroke-width="1.3" stroke-dasharray="6.5 2.5" fill="none"/>
<path d="M700.6 189.4V191.2M719.0 189.4V191.2" stroke="#1a9a3a" stroke-width="1.3" fill="none"/>
<rect x="709.1" y="187.9" width="7.3" height="4.8" fill="none" stroke="#1a9a3a" stroke-width="1.2"/>
<line x1="713.1" y1="187.9" x2="713.1" y2="192.7" stroke="#1a9a3a" stroke-width="1.2"/>
<path d="M707.3 195.6H696.6M714.1 195.6H721.9" stroke="#d62728" stroke-width="1.3" stroke-dasharray="6.5 2.5" fill="none"/>
<path d="M696.6 194.7V196.5M721.9 194.7V196.5" stroke="#d62728" stroke-width="1.3" fill="none"/>
<rect x="707.3" y="193.2" width="6.8" height="4.8" fill="none" stroke="#d62728" stroke-width="1.2"/>
<line x1="711.3" y1="193.2" x2="711.3" y2="198.0" stroke="#d62728" stroke-width="1.2"/>
<path d="M682.9 195.6h3.4M684.6 193.9v3.4" stroke="#d62728" stroke-width="0.9"/>
<path d="M685.7 195.6h3.4M687.4 193.9v3.4" stroke="#d62728" stroke-width="0.9"/>
<path d="M688.4 195.6h3.4M690.1 193.9v3.4" stroke="#d62728" stroke-width="0.9"/>
<path d="M691.2 195.6h3.4M692.9 193.9v3.4" stroke="#d62728" stroke-width="0.9"/>
<path d="M707.6 211.8H697.5M719.0 211.8H724.2" stroke="#1a9a3a" stroke-width="1.3" stroke-dasharray="6.5 2.5" fill="none"/>
<path d="M697.5 210.9V212.7M724.2 210.9V212.7" stroke="#1a9a3a" stroke-width="1.3" fill="none"/>
<rect x="707.6" y="209.4" width="11.4" height="4.8" fill="none" stroke="#1a9a3a" stroke-width="1.2"/>
<line x1="714.1" y1="209.4" x2="714.1" y2="214.2" stroke="#1a9a3a" stroke-width="1.2"/>
<path d="M707.3 217.0H695.6M716.9 217.0H725.1" stroke="#d62728" stroke-width="1.3" stroke-dasharray="6.5 2.5" fill="none"/>
<path d="M695.6 216.1V217.9M725.1 216.1V217.9" stroke="#d62728" stroke-width="1.3" fill="none"/>
<rect x="707.3" y="214.6" width="9.6" height="4.8" fill="none" stroke="#d62728" stroke-width="1.2"/>
<line x1="712.8" y1="214.6" x2="712.8" y2="219.4" stroke="#d62728" stroke-width="1.2"/>
<path d="M682.9 217.0h3.4M684.6 215.3v3.4" stroke="#d62728" stroke-width="0.9"/>
<path d="M687.6 217.0h3.4M689.3 215.3v3.4" stroke="#d62728" stroke-width="0.9"/>
<path d="M691.2 217.0h3.4M692.9 215.3v3.4" stroke="#d62728" stroke-width="0.9"/>
<path d="M709.1 233.2H696.2M720.5 233.2H725.1" stroke="#1a9a3a" stroke-width="1.3" stroke-dasharray="6.5 2.5" fill="none"/>
<path d="M696.2 232.3V234.1M725.1 232.3V234.1" stroke="#1a9a3a" stroke-width="1.3" fill="none"/>
<rect x="709.1" y="230.8" width="11.4" height="4.8" fill="none" stroke="#1a9a3a" stroke-width="1.2"/>
<line x1="715.9" y1="230.8" x2="715.9" y2="235.6" stroke="#1a9a3a" stroke-width="1.2"/>
<path d="M707.3 238.5H694.8M717.2 238.5H726.0" stroke="#d62728" stroke-width="1.3" stroke-dasharray="6.5 2.5" fill="none"/>
<path d="M694.8 237.6V239.4M726.0 237.6V239.4" stroke="#d62728" stroke-width="1.3" fill="none"/>
<rect x="707.3" y="236.1" width="9.9" height="4.8" fill="none" stroke="#d62728" stroke-width="1.2"/>
<line x1="712.8" y1="236.1" x2="712.8" y2="240.9" stroke="#d62728" stroke-width="1.2"/>
<path d="M668.3 238.5h3.4M670.0 236.8v3.4" stroke="#d62728" stroke-width="0.9"/>
<path d="M682.9 238.5h3.4M684.6 236.8v3.4" stroke="#d62728" stroke-width="0.9"/>
<path d="M687.6 238.5h3.4M689.3 236.8v3.4" stroke="#d62728" stroke-width="0.9"/>
<path d="M690.3 238.5h3.4M692.0 236.8v3.4" stroke="#d62728" stroke-width="0.9"/>
<path d="M706.7 254.7H696.2M719.0 254.7H723.8" stroke="#1a9a3a" stroke-width="1.3" stroke-dasharray="6.5 2.5" fill="none"/>
<path d="M696.2 253.8V255.6M723.8 253.8V255.6" stroke="#1a9a3a" stroke-width="1.3" fill="none"/>
<rect x="706.7" y="252.3" width="12.3" height="4.8" fill="none" stroke="#1a9a3a" stroke-width="1.2"/>
<line x1="717.7" y1="252.3" x2="717.7" y2="257.1" stroke="#1a9a3a" stroke-width="1.2"/>
<path d="M706.7 259.9H691.1M717.2 259.9H724.2" stroke="#d62728" stroke-width="1.3" stroke-dasharray="6.5 2.5" fill="none"/>
<path d="M691.1 259.0V260.8M724.2 259.0V260.8" stroke="#d62728" stroke-width="1.3" fill="none"/>
<rect x="706.7" y="257.5" width="10.5" height="4.8" fill="none" stroke="#d62728" stroke-width="1.2"/>
<line x1="713.1" y1="257.5" x2="713.1" y2="262.3" stroke="#d62728" stroke-width="1.2"/>
<path d="M688.4 259.9h3.4M690.1 258.2v3.4" stroke="#d62728" stroke-width="0.9"/>
</svg>
<rect x="411.7" y="271.3" width="233.60" height="51.10" fill="#fff" stroke="#808080" stroke-width="1"/>
<line x1="411.7" y1="322.4" x2="413.7" y2="322.4" stroke="#808080" stroke-width="0.6"/>
<line x1="645.3" y1="322.4" x2="643.3" y2="322.4" stroke="#808080" stroke-width="0.6"/>
<text x="409.5" y="325.6" font-size="9.3" text-anchor="end">280</text>
<line x1="411.7" y1="309.6" x2="413.7" y2="309.6" stroke="#808080" stroke-width="0.6"/>
<line x1="645.3" y1="309.6" x2="643.3" y2="309.6" stroke="#808080" stroke-width="0.6"/>
<text x="409.5" y="312.8" font-size="9.3" text-anchor="end">290</text>
<line x1="411.7" y1="296.9" x2="413.7" y2="296.9" stroke="#808080" stroke-width="0.6"/>
<line x1="645.3" y1="296.9" x2="643.3" y2="296.9" stroke="#808080" stroke-width="0.6"/>
<text x="409.5" y="300.1" font-size="9.3" text-anchor="end">300</text>
<line x1="411.7" y1="284.1" x2="413.7" y2="284.1" stroke="#808080" stroke-width="0.6"/>
<line x1="645.3" y1="284.1" x2="643.3" y2="284.1" stroke="#808080" stroke-width="0.6"/>
<text x="409.5" y="287.3" font-size="9.3" text-anchor="end">310</text>
<line x1="414.0" y1="271.3" x2="414.0" y2="273.3" stroke="#808080" stroke-width="0.6"/>
<line x1="414.0" y1="322.4" x2="414.0" y2="320.4" stroke="#808080" stroke-width="0.6"/>
<text x="414.0" y="333.4" font-size="9.3" text-anchor="middle">1</text>
<line x1="429.6" y1="271.3" x2="429.6" y2="273.3" stroke="#808080" stroke-width="0.6"/>
<line x1="429.6" y1="322.4" x2="429.6" y2="320.4" stroke="#808080" stroke-width="0.6"/>
<text x="429.6" y="333.4" font-size="9.3" text-anchor="middle">4</text>
<line x1="445.2" y1="271.3" x2="445.2" y2="273.3" stroke="#808080" stroke-width="0.6"/>
<line x1="445.2" y1="322.4" x2="445.2" y2="320.4" stroke="#808080" stroke-width="0.6"/>
<text x="445.2" y="333.4" font-size="9.3" text-anchor="middle">7</text>
<line x1="460.8" y1="271.3" x2="460.8" y2="273.3" stroke="#808080" stroke-width="0.6"/>
<line x1="460.8" y1="322.4" x2="460.8" y2="320.4" stroke="#808080" stroke-width="0.6"/>
<text x="460.8" y="333.4" font-size="9.3" text-anchor="middle">10</text>
<line x1="476.4" y1="271.3" x2="476.4" y2="273.3" stroke="#808080" stroke-width="0.6"/>
<line x1="476.4" y1="322.4" x2="476.4" y2="320.4" stroke="#808080" stroke-width="0.6"/>
<text x="476.4" y="333.4" font-size="9.3" text-anchor="middle">13</text>
<line x1="492.0" y1="271.3" x2="492.0" y2="273.3" stroke="#808080" stroke-width="0.6"/>
<line x1="492.0" y1="322.4" x2="492.0" y2="320.4" stroke="#808080" stroke-width="0.6"/>
<text x="492.0" y="333.4" font-size="9.3" text-anchor="middle">16</text>
<line x1="507.6" y1="271.3" x2="507.6" y2="273.3" stroke="#808080" stroke-width="0.6"/>
<line x1="507.6" y1="322.4" x2="507.6" y2="320.4" stroke="#808080" stroke-width="0.6"/>
<text x="507.6" y="333.4" font-size="9.3" text-anchor="middle">19</text>
<line x1="523.2" y1="271.3" x2="523.2" y2="273.3" stroke="#808080" stroke-width="0.6"/>
<line x1="523.2" y1="322.4" x2="523.2" y2="320.4" stroke="#808080" stroke-width="0.6"/>
<text x="523.2" y="333.4" font-size="9.3" text-anchor="middle">22</text>
<line x1="538.8" y1="271.3" x2="538.8" y2="273.3" stroke="#808080" stroke-width="0.6"/>
<line x1="538.8" y1="322.4" x2="538.8" y2="320.4" stroke="#808080" stroke-width="0.6"/>
<text x="538.8" y="333.4" font-size="9.3" text-anchor="middle">25</text>
<line x1="554.4" y1="271.3" x2="554.4" y2="273.3" stroke="#808080" stroke-width="0.6"/>
<line x1="554.4" y1="322.4" x2="554.4" y2="320.4" stroke="#808080" stroke-width="0.6"/>
<text x="554.4" y="333.4" font-size="9.3" text-anchor="middle">28</text>
<line x1="570.0" y1="271.3" x2="570.0" y2="273.3" stroke="#808080" stroke-width="0.6"/>
<line x1="570.0" y1="322.4" x2="570.0" y2="320.4" stroke="#808080" stroke-width="0.6"/>
<text x="570.0" y="333.4" font-size="9.3" text-anchor="middle">31</text>
<line x1="585.6" y1="271.3" x2="585.6" y2="273.3" stroke="#808080" stroke-width="0.6"/>
<line x1="585.6" y1="322.4" x2="585.6" y2="320.4" stroke="#808080" stroke-width="0.6"/>
<text x="585.6" y="333.4" font-size="9.3" text-anchor="middle">34</text>
<line x1="601.2" y1="271.3" x2="601.2" y2="273.3" stroke="#808080" stroke-width="0.6"/>
<line x1="601.2" y1="322.4" x2="601.2" y2="320.4" stroke="#808080" stroke-width="0.6"/>
<text x="601.2" y="333.4" font-size="9.3" text-anchor="middle">37</text>
<line x1="616.8" y1="271.3" x2="616.8" y2="273.3" stroke="#808080" stroke-width="0.6"/>
<line x1="616.8" y1="322.4" x2="616.8" y2="320.4" stroke="#808080" stroke-width="0.6"/>
<text x="616.8" y="333.4" font-size="9.3" text-anchor="middle">40</text>
<line x1="632.4" y1="271.3" x2="632.4" y2="273.3" stroke="#808080" stroke-width="0.6"/>
<line x1="632.4" y1="322.4" x2="632.4" y2="320.4" stroke="#808080" stroke-width="0.6"/>
<text x="632.4" y="333.4" font-size="9.3" text-anchor="middle">43</text>
<text x="528.5" y="342.8" font-size="9.3" text-anchor="middle">8–Day Period of Year</text>
<text x="387.2" y="297.0" font-size="9.3" text-anchor="middle" transform="rotate(-90 387.2 297.0)" dy="3.2">LST (K)</text>
<svg x="411.7" y="271.3" width="233.60" height="51.10" viewBox="411.7 271.3 233.60 51.10" overflow="hidden">
<path d="M414.0 320.0V309.1M419.2 319.3V308.5M424.4 320.0V309.1M429.6 317.9V307.1M434.8 317.9V307.1M440.0 317.7V306.8M445.2 315.1V304.3M450.4 315.5V304.6M455.6 310.3V299.4M460.8 310.3V299.4M466.0 311.0V300.2M471.2 307.7V296.9M476.4 306.7V295.8M481.6 305.4V294.6M486.8 304.3V293.4M492.0 303.2V292.4M497.2 302.6V291.7M502.4 301.3V290.5M507.6 301.3V290.5M512.8 300.9V290.1M518.0 300.4V289.6M523.2 300.4V289.6M528.4 301.1V290.2M533.6 301.1V290.2M538.8 299.8V288.9M544.0 299.8V288.9M549.2 299.3V288.4M554.4 300.2V289.3M559.6 300.2V289.3M564.8 300.8V290.0M570.0 301.1V290.2M575.2 301.1V290.2M580.4 302.1V291.2M585.6 302.1V291.2M590.8 303.0V292.1M596.0 305.3V294.4M601.2 306.4V295.6M606.4 307.7V296.9M611.6 308.5V297.6M616.8 310.1V299.3M622.0 312.6V301.7M627.2 315.0V304.1M632.4 317.7V306.8M637.6 318.2V307.3M642.8 317.3V306.4" stroke="#d62728" stroke-width="1.4" fill="none"/>
<path d="M414.0 312.9L419.2 312.3L424.4 312.9L429.6 310.9L434.8 310.9L440.0 310.6L445.2 308.1L450.4 308.5L455.6 303.2L460.8 303.2L466.0 304.0L471.2 300.7L476.4 299.7L481.6 298.4L486.8 297.2L492.0 296.2L497.2 295.6L502.4 294.3L507.6 294.3L512.8 293.9L518.0 293.4L523.2 293.4L528.4 294.0L533.6 294.0L538.8 292.8L544.0 292.8L549.2 292.3L554.4 293.1L559.6 293.1L564.8 293.8L570.0 294.0L575.2 294.0L580.4 295.1L585.6 295.1L590.8 296.0L596.0 298.3L601.2 299.4L606.4 300.7L611.6 301.4L616.8 303.1L622.0 305.5L627.2 308.0L632.4 310.6L637.6 311.2L642.8 310.3" stroke="#d62728" stroke-width="1.6" fill="none"/>
<circle cx="414.0" cy="312.9" r="2.3" fill="#d62728"/><circle cx="419.2" cy="312.3" r="2.3" fill="#d62728"/><circle cx="424.4" cy="312.9" r="2.3" fill="#d62728"/><circle cx="429.6" cy="310.9" r="2.3" fill="#d62728"/><circle cx="434.8" cy="310.9" r="2.3" fill="#d62728"/><circle cx="440.0" cy="310.6" r="2.3" fill="#d62728"/><circle cx="445.2" cy="308.1" r="2.3" fill="#d62728"/><circle cx="450.4" cy="308.5" r="2.3" fill="#d62728"/><circle cx="455.6" cy="303.2" r="2.3" fill="#d62728"/><circle cx="460.8" cy="303.2" r="2.3" fill="#d62728"/><circle cx="466.0" cy="304.0" r="2.3" fill="#d62728"/><circle cx="471.2" cy="300.7" r="2.3" fill="#d62728"/><circle cx="476.4" cy="299.7" r="2.3" fill="#d62728"/><circle cx="481.6" cy="298.4" r="2.3" fill="#d62728"/><circle cx="486.8" cy="297.2" r="2.3" fill="#d62728"/><circle cx="492.0" cy="296.2" r="2.3" fill="#d62728"/><circle cx="497.2" cy="295.6" r="2.3" fill="#d62728"/><circle cx="502.4" cy="294.3" r="2.3" fill="#d62728"/><circle cx="507.6" cy="294.3" r="2.3" fill="#d62728"/><circle cx="512.8" cy="293.9" r="2.3" fill="#d62728"/><circle cx="518.0" cy="293.4" r="2.3" fill="#d62728"/><circle cx="523.2" cy="293.4" r="2.3" fill="#d62728"/><circle cx="528.4" cy="294.0" r="2.3" fill="#d62728"/><circle cx="533.6" cy="294.0" r="2.3" fill="#d62728"/><circle cx="538.8" cy="292.8" r="2.3" fill="#d62728"/><circle cx="544.0" cy="292.8" r="2.3" fill="#d62728"/><circle cx="549.2" cy="292.3" r="2.3" fill="#d62728"/><circle cx="554.4" cy="293.1" r="2.3" fill="#d62728"/><circle cx="559.6" cy="293.1" r="2.3" fill="#d62728"/><circle cx="564.8" cy="293.8" r="2.3" fill="#d62728"/><circle cx="570.0" cy="294.0" r="2.3" fill="#d62728"/><circle cx="575.2" cy="294.0" r="2.3" fill="#d62728"/><circle cx="580.4" cy="295.1" r="2.3" fill="#d62728"/><circle cx="585.6" cy="295.1" r="2.3" fill="#d62728"/><circle cx="590.8" cy="296.0" r="2.3" fill="#d62728"/><circle cx="596.0" cy="298.3" r="2.3" fill="#d62728"/><circle cx="601.2" cy="299.4" r="2.3" fill="#d62728"/><circle cx="606.4" cy="300.7" r="2.3" fill="#d62728"/><circle cx="611.6" cy="301.4" r="2.3" fill="#d62728"/><circle cx="616.8" cy="303.1" r="2.3" fill="#d62728"/><circle cx="622.0" cy="305.5" r="2.3" fill="#d62728"/><circle cx="627.2" cy="308.0" r="2.3" fill="#d62728"/><circle cx="632.4" cy="310.6" r="2.3" fill="#d62728"/><circle cx="637.6" cy="311.2" r="2.3" fill="#d62728"/><circle cx="642.8" cy="310.3" r="2.3" fill="#d62728"/>
<path d="M414.0 315.4V306.4M419.2 315.4V306.4M424.4 315.4V306.4M429.6 312.6V303.6M434.8 312.8V303.9M440.0 312.6V303.6M445.2 309.8V300.8M450.4 310.9V302.0M455.6 304.9V296.0M460.8 304.9V296.0M466.0 304.9V296.0M471.2 302.5V293.5M476.4 301.7V292.8M481.6 300.3V291.4M486.8 298.8V289.8M492.0 298.4V289.4M497.2 297.1V288.2M502.4 296.0V287.0M507.6 295.6V286.6M512.8 295.3V286.4M518.0 294.8V285.9M523.2 294.4V285.5M528.4 295.3V286.4M533.6 295.7V286.8M538.8 294.3V285.4M544.0 294.6V285.6M549.2 293.8V284.8M554.4 294.3V285.4M559.6 293.0V284.1M564.8 294.2V285.2M570.0 293.8V284.8M575.2 294.6V285.6M580.4 295.7V286.8M585.6 296.7V287.8M590.8 297.0V288.0M596.0 299.1V290.2M601.2 300.7V291.7M606.4 302.7V293.8M611.6 303.9V294.9M616.8 306.0V297.1M622.0 308.7V299.8M627.2 311.4V302.5M632.4 314.2V305.3M637.6 314.2V305.3M642.8 313.7V304.8" stroke="#1a9a3a" stroke-width="1.4" fill="none"/>
<path d="M414.0 310.9L419.2 310.9L424.4 310.9L429.6 308.1L434.8 308.3L440.0 308.1L445.2 305.3L450.4 306.4L455.6 300.4L460.8 300.4L466.0 300.4L471.2 298.0L476.4 297.2L481.6 295.8L486.8 294.3L492.0 293.9L497.2 292.6L502.4 291.5L507.6 291.1L512.8 290.8L518.0 290.3L523.2 290.0L528.4 290.8L533.6 291.2L538.8 289.8L544.0 290.1L549.2 289.3L554.4 289.8L559.6 288.5L564.8 289.7L570.0 289.3L575.2 290.1L580.4 291.2L585.6 292.3L590.8 292.5L596.0 294.7L601.2 296.2L606.4 298.3L611.6 299.4L616.8 301.6L622.0 304.3L627.2 306.9L632.4 309.8L637.6 309.8L642.8 309.2" stroke="#1a9a3a" stroke-width="1.6" fill="none"/>
<rect x="411.8" y="308.7" width="4.4" height="4.4" fill="#1a9a3a"/><rect x="417.0" y="308.7" width="4.4" height="4.4" fill="#1a9a3a"/><rect x="422.2" y="308.7" width="4.4" height="4.4" fill="#1a9a3a"/><rect x="427.4" y="305.9" width="4.4" height="4.4" fill="#1a9a3a"/><rect x="432.6" y="306.1" width="4.4" height="4.4" fill="#1a9a3a"/><rect x="437.8" y="305.9" width="4.4" height="4.4" fill="#1a9a3a"/><rect x="443.0" y="303.1" width="4.4" height="4.4" fill="#1a9a3a"/><rect x="448.2" y="304.2" width="4.4" height="4.4" fill="#1a9a3a"/><rect x="453.4" y="298.2" width="4.4" height="4.4" fill="#1a9a3a"/><rect x="458.6" y="298.2" width="4.4" height="4.4" fill="#1a9a3a"/><rect x="463.8" y="298.2" width="4.4" height="4.4" fill="#1a9a3a"/><rect x="469.0" y="295.8" width="4.4" height="4.4" fill="#1a9a3a"/><rect x="474.2" y="295.0" width="4.4" height="4.4" fill="#1a9a3a"/><rect x="479.4" y="293.6" width="4.4" height="4.4" fill="#1a9a3a"/><rect x="484.6" y="292.1" width="4.4" height="4.4" fill="#1a9a3a"/><rect x="489.8" y="291.7" width="4.4" height="4.4" fill="#1a9a3a"/><rect x="495.0" y="290.4" width="4.4" height="4.4" fill="#1a9a3a"/><rect x="500.2" y="289.3" width="4.4" height="4.4" fill="#1a9a3a"/><rect x="505.4" y="288.9" width="4.4" height="4.4" fill="#1a9a3a"/><rect x="510.6" y="288.6" width="4.4" height="4.4" fill="#1a9a3a"/><rect x="515.8" y="288.1" width="4.4" height="4.4" fill="#1a9a3a"/><rect x="521.0" y="287.8" width="4.4" height="4.4" fill="#1a9a3a"/><rect x="526.2" y="288.6" width="4.4" height="4.4" fill="#1a9a3a"/><rect x="531.4" y="289.0" width="4.4" height="4.4" fill="#1a9a3a"/><rect x="536.6" y="287.6" width="4.4" height="4.4" fill="#1a9a3a"/><rect x="541.8" y="287.9" width="4.4" height="4.4" fill="#1a9a3a"/><rect x="547.0" y="287.1" width="4.4" height="4.4" fill="#1a9a3a"/><rect x="552.2" y="287.6" width="4.4" height="4.4" fill="#1a9a3a"/><rect x="557.4" y="286.3" width="4.4" height="4.4" fill="#1a9a3a"/><rect x="562.6" y="287.5" width="4.4" height="4.4" fill="#1a9a3a"/><rect x="567.8" y="287.1" width="4.4" height="4.4" fill="#1a9a3a"/><rect x="573.0" y="287.9" width="4.4" height="4.4" fill="#1a9a3a"/><rect x="578.2" y="289.0" width="4.4" height="4.4" fill="#1a9a3a"/><rect x="583.4" y="290.1" width="4.4" height="4.4" fill="#1a9a3a"/><rect x="588.6" y="290.3" width="4.4" height="4.4" fill="#1a9a3a"/><rect x="593.8" y="292.5" width="4.4" height="4.4" fill="#1a9a3a"/><rect x="599.0" y="294.0" width="4.4" height="4.4" fill="#1a9a3a"/><rect x="604.2" y="296.1" width="4.4" height="4.4" fill="#1a9a3a"/><rect x="609.4" y="297.2" width="4.4" height="4.4" fill="#1a9a3a"/><rect x="614.6" y="299.4" width="4.4" height="4.4" fill="#1a9a3a"/><rect x="619.8" y="302.1" width="4.4" height="4.4" fill="#1a9a3a"/><rect x="625.0" y="304.7" width="4.4" height="4.4" fill="#1a9a3a"/><rect x="630.2" y="307.6" width="4.4" height="4.4" fill="#1a9a3a"/><rect x="635.4" y="307.6" width="4.4" height="4.4" fill="#1a9a3a"/><rect x="640.6" y="307.0" width="4.4" height="4.4" fill="#1a9a3a"/>
</svg>
<text x="48.6" y="378.1" font-size="19.5" text-anchor="start">b)</text>
<text x="69.0" y="378.1" font-size="15.8" text-anchor="start">Nighttime, Houston Urban</text>
<rect x="23.4" y="393.5" width="4.70" height="228.20" fill="url(#jetg)"/>
<rect x="23.4" y="393.5" width="4.70" height="228.20" fill="none" stroke="#555" stroke-width="0.4"/>
<text x="21.6" y="396.7" font-size="9.3" text-anchor="end">320</text>
<text x="21.6" y="434.7" font-size="9.3" text-anchor="end">310</text>
<text x="21.6" y="472.8" font-size="9.3" text-anchor="end">300</text>
<text x="21.6" y="510.8" font-size="9.3" text-anchor="end">290</text>
<text x="21.6" y="548.8" font-size="9.3" text-anchor="end">280</text>
<text x="21.6" y="586.9" font-size="9.3" text-anchor="end">270</text>
<text x="21.6" y="624.9" font-size="9.3" text-anchor="end">260</text>
<path d="M23.4 431.5h1.3M28.1 431.5h-1.3M23.4 469.6h1.3M28.1 469.6h-1.3M23.4 507.6h1.3M28.1 507.6h-1.3M23.4 545.6h1.3M28.1 545.6h-1.3M23.4 583.7h1.3M28.1 583.7h-1.3" stroke="#333" stroke-width="0.7"/>
<rect x="29.2" y="389.5" width="236.70" height="236.60" fill="#000"/>
<g transform="translate(29.2 389.5) scale(5.2600 2.6886)" shape-rendering="crispEdges">
<path fill="#0003ff" d="M44 73h1v1h-1z"/>
<path fill="#0052ff" d="M41 71h2v1h-2zM43 80h1v1h-1zM5 85h1v1h-1zM5 86h1v1h-1z"/>
<path fill="#006cff" d="M2 29h1v1h-1zM5 31h1v1h-1zM2 55h1v1h-1zM2 61h1v1h-1zM42 64h1v1h-1zM41 70h1v1h-1zM1 72h1v1h-1zM42 72h1v1h-1zM42 73h1v1h-1z"/>
<path fill="#0086ff" d="M1 20h1v1h-1zM1 28h1v1h-1zM1 29h1v1h-1zM43 30h1v1h-1zM0 31h2v1h-2zM0 34h1v1h-1zM2 35h1v1h-1zM0 38h1v1h-1zM1 40h1v1h-1zM0 41h1v1h-1zM4 42h2v1h-2zM0 48h1v1h-1zM5 53h1v1h-1zM42 53h1v1h-1zM3 54h1v1h-1zM43 54h1v1h-1zM3 55h1v1h-1zM42 56h1v1h-1zM42 60h1v1h-1zM2 62h1v1h-1zM1 63h1v1h-1zM43 63h2v1h-2zM1 65h1v1h-1zM1 66h1v1h-1zM44 71h1v1h-1zM2 72h1v1h-1zM43 72h1v1h-1zM4 75h1v1h-1zM1 76h1v1h-1zM42 77h1v1h-1zM0 78h1v1h-1zM1 82h1v1h-1zM2 83h1v1h-1zM0 84h1v1h-1zM5 84h1v1h-1zM4 85h1v1h-1z"/>
<path fill="#00a0ff" d="M5 8h1v1h-1zM43 9h1v1h-1zM2 11h1v1h-1zM0 21h1v1h-1zM3 21h1v1h-1zM1 25h1v1h-1zM1 27h1v1h-1zM4 27h1v1h-1zM43 27h1v1h-1zM42 29h1v1h-1zM1 30h1v1h-1zM3 31h1v1h-1zM5 32h1v1h-1zM6 33h1v1h-1zM5 34h1v1h-1zM7 34h1v1h-1zM0 35h1v1h-1zM1 36h1v1h-1zM2 38h1v1h-1zM5 38h1v1h-1zM43 39h1v1h-1zM43 48h1v1h-1zM42 50h1v1h-1zM5 52h1v1h-1zM2 53h1v1h-1zM1 54h1v1h-1zM42 55h1v1h-1zM43 57h1v1h-1zM5 58h1v1h-1zM0 59h1v1h-1zM2 59h1v1h-1zM41 60h1v1h-1zM43 60h1v1h-1zM2 63h1v1h-1zM5 63h1v1h-1zM39 63h1v1h-1zM42 63h1v1h-1zM38 64h1v1h-1zM43 64h1v1h-1zM0 65h1v1h-1zM0 67h1v1h-1zM42 67h1v1h-1zM0 68h1v1h-1zM42 70h2v1h-2zM43 71h1v1h-1zM44 72h1v1h-1zM2 73h1v1h-1zM5 73h1v1h-1zM41 74h1v1h-1zM1 75h1v1h-1zM5 76h1v1h-1zM43 77h1v1h-1zM44 80h1v1h-1zM5 83h1v1h-1zM4 84h1v1h-1zM44 85h1v1h-1zM3 86h1v1h-1zM44 86h1v1h-1zM1 87h2v1h-2z"/>
<path fill="#00baff" d="M6 8h1v1h-1zM1 10h1v1h-1zM41 12h1v1h-1zM1 13h1v1h-1zM3 13h1v1h-1zM0 14h1v1h-1zM0 15h1v1h-1zM43 16h1v1h-1zM0 18h1v1h-1zM0 20h1v1h-1zM42 22h1v1h-1zM5 24h1v1h-1zM0 25h1v1h-1zM5 25h1v1h-1zM0 29h1v1h-1zM4 30h1v1h-1zM2 31h1v1h-1zM0 33h1v1h-1zM43 33h1v1h-1zM3 38h1v1h-1zM44 38h1v1h-1zM0 42h1v1h-1zM42 42h1v1h-1zM3 44h1v1h-1zM1 45h1v1h-1zM5 47h1v1h-1zM43 47h1v1h-1zM42 48h1v1h-1zM44 48h1v1h-1zM42 49h1v1h-1zM42 51h1v1h-1zM42 52h1v1h-1zM3 53h1v1h-1zM43 53h1v1h-1zM2 54h1v1h-1zM5 54h1v1h-1zM44 54h1v1h-1zM4 55h1v1h-1zM43 55h1v1h-1zM41 56h1v1h-1zM3 58h1v1h-1zM1 59h1v1h-1zM4 59h1v1h-1zM7 59h1v1h-1zM0 60h1v1h-1zM0 61h1v1h-1zM5 64h1v1h-1zM44 64h1v1h-1zM5 65h1v1h-1zM2 66h1v1h-1zM5 66h1v1h-1zM1 67h1v1h-1zM41 67h1v1h-1zM44 67h1v1h-1zM1 68h2v1h-2zM39 68h1v1h-1zM42 68h1v1h-1zM2 69h1v1h-1zM7 70h1v1h-1zM0 71h1v1h-1zM6 72h1v1h-1zM40 72h1v1h-1zM41 73h1v1h-1zM43 73h1v1h-1zM44 75h1v1h-1zM0 76h1v1h-1zM42 76h1v1h-1zM44 76h1v1h-1zM1 77h1v1h-1zM44 77h1v1h-1zM1 79h1v1h-1zM39 80h1v1h-1zM2 82h1v1h-1zM39 82h1v1h-1zM0 83h1v1h-1zM43 83h2v1h-2zM6 85h1v1h-1z"/>
<path fill="#00d4ff" d="M0 8h1v1h-1zM5 9h1v1h-1zM2 10h1v1h-1zM1 11h1v1h-1zM5 11h1v1h-1zM44 12h1v1h-1zM44 13h1v1h-1zM1 14h1v1h-1zM44 14h1v1h-1zM2 15h1v1h-1zM5 15h1v1h-1zM44 16h1v1h-1zM7 17h1v1h-1zM39 17h1v1h-1zM7 19h1v1h-1zM1 22h1v1h-1zM43 22h2v1h-2zM44 23h1v1h-1zM1 24h1v1h-1zM6 24h1v1h-1zM4 25h1v1h-1zM44 25h1v1h-1zM1 26h2v1h-2zM4 26h1v1h-1zM7 27h1v1h-1zM42 27h1v1h-1zM0 30h1v1h-1zM6 31h1v1h-1zM43 32h2v1h-2zM4 33h2v1h-2zM3 34h1v1h-1zM1 35h1v1h-1zM7 35h1v1h-1zM3 36h1v1h-1zM5 36h1v1h-1zM39 36h1v1h-1zM2 37h2v1h-2zM7 37h1v1h-1zM1 38h1v1h-1zM7 39h1v1h-1zM1 41h1v1h-1zM7 41h1v1h-1zM42 41h1v1h-1zM1 42h1v1h-1zM1 43h1v1h-1zM3 43h2v1h-2zM2 45h1v1h-1zM4 45h1v1h-1zM0 46h1v1h-1zM4 46h1v1h-1zM42 46h1v1h-1zM43 49h1v1h-1zM5 51h1v1h-1zM3 52h2v1h-2zM6 52h2v1h-2zM44 52h1v1h-1zM4 53h1v1h-1zM42 54h1v1h-1zM1 55h1v1h-1zM0 56h1v1h-1zM11 56h1v1h-1zM38 56h1v1h-1zM43 56h1v1h-1zM0 57h1v1h-1zM44 57h1v1h-1zM0 58h1v1h-1zM6 58h2v1h-2zM42 59h1v1h-1zM1 60h1v1h-1zM39 60h1v1h-1zM1 61h1v1h-1zM40 61h1v1h-1zM42 62h1v1h-1zM38 63h1v1h-1zM2 64h1v1h-1zM39 64h1v1h-1zM41 64h1v1h-1zM4 65h1v1h-1zM43 65h2v1h-2zM39 67h2v1h-2zM43 68h1v1h-1zM0 70h1v1h-1zM5 71h1v1h-1zM7 71h1v1h-1zM40 71h1v1h-1zM5 74h1v1h-1zM42 74h1v1h-1zM5 75h2v1h-2zM39 75h1v1h-1zM43 75h1v1h-1zM38 76h1v1h-1zM0 77h1v1h-1zM6 77h1v1h-1zM2 78h1v1h-1zM0 79h1v1h-1zM7 79h1v1h-1zM38 79h1v1h-1zM40 79h1v1h-1zM42 79h1v1h-1zM39 81h1v1h-1zM42 81h3v1h-3zM4 82h1v1h-1zM40 82h1v1h-1zM1 84h1v1h-1zM3 84h1v1h-1zM2 85h2v1h-2zM7 85h1v1h-1zM1 86h1v1h-1zM42 86h1v1h-1zM41 87h1v1h-1zM44 87h1v1h-1z"/>
<path fill="#00efff" d="M43 0h1v1h-1zM43 6h1v1h-1zM43 7h1v1h-1zM0 9h1v1h-1zM43 10h2v1h-2zM6 11h1v1h-1zM43 12h1v1h-1zM2 14h1v1h-1zM4 14h1v1h-1zM43 15h1v1h-1zM42 16h1v1h-1zM2 19h1v1h-1zM2 20h1v1h-1zM1 21h1v1h-1zM42 23h1v1h-1zM3 24h1v1h-1zM6 25h1v1h-1zM39 25h1v1h-1zM5 26h1v1h-1zM7 26h1v1h-1zM44 27h1v1h-1zM5 28h2v1h-2zM44 28h1v1h-1zM7 29h1v1h-1zM41 29h1v1h-1zM42 30h1v1h-1zM7 31h1v1h-1zM42 31h1v1h-1zM44 31h1v1h-1zM6 32h1v1h-1zM42 32h1v1h-1zM1 34h2v1h-2zM3 35h1v1h-1zM4 36h1v1h-1zM8 37h1v1h-1zM8 38h1v1h-1zM43 38h1v1h-1zM0 40h1v1h-1zM3 41h1v1h-1zM3 42h1v1h-1zM5 43h1v1h-1zM43 43h1v1h-1zM2 44h1v1h-1zM5 45h1v1h-1zM42 45h1v1h-1zM42 47h1v1h-1zM4 48h1v1h-1zM0 49h1v1h-1zM0 50h1v1h-1zM3 50h1v1h-1zM43 50h1v1h-1zM3 51h2v1h-2zM43 51h1v1h-1zM10 52h1v1h-1zM43 52h1v1h-1zM6 53h1v1h-1zM0 54h1v1h-1zM6 55h1v1h-1zM38 55h1v1h-1zM44 55h1v1h-1zM3 56h1v1h-1zM5 56h2v1h-2zM39 56h1v1h-1zM44 56h1v1h-1zM10 57h1v1h-1zM2 58h1v1h-1zM8 58h1v1h-1zM10 58h1v1h-1zM42 58h1v1h-1zM6 59h1v1h-1zM38 59h1v1h-1zM41 59h1v1h-1zM5 60h1v1h-1zM44 60h1v1h-1zM39 61h1v1h-1zM41 61h2v1h-2zM39 62h1v1h-1zM41 62h1v1h-1zM6 63h1v1h-1zM0 64h1v1h-1zM2 65h1v1h-1zM7 65h1v1h-1zM41 65h1v1h-1zM39 66h1v1h-1zM41 66h1v1h-1zM5 67h1v1h-1zM41 68h1v1h-1zM42 69h1v1h-1zM44 69h1v1h-1zM2 70h1v1h-1zM44 70h1v1h-1zM1 71h1v1h-1zM6 71h1v1h-1zM3 72h1v1h-1zM39 73h1v1h-1zM39 74h2v1h-2zM0 75h1v1h-1zM7 75h1v1h-1zM36 76h1v1h-1zM39 76h2v1h-2zM2 77h1v1h-1zM4 77h1v1h-1zM40 77h1v1h-1zM1 78h1v1h-1zM7 78h1v1h-1zM43 78h1v1h-1zM2 79h1v1h-1zM41 79h1v1h-1zM1 80h2v1h-2zM7 80h1v1h-1zM38 80h1v1h-1zM40 80h1v1h-1zM6 81h1v1h-1zM8 81h1v1h-1zM40 81h1v1h-1zM3 82h1v1h-1zM41 82h1v1h-1zM44 82h1v1h-1zM7 83h1v1h-1zM38 83h2v1h-2zM41 83h2v1h-2zM6 84h1v1h-1zM44 84h1v1h-1zM39 85h1v1h-1zM41 85h3v1h-3zM0 86h1v1h-1zM6 86h1v1h-1zM43 86h1v1h-1zM0 87h1v1h-1zM42 87h2v1h-2z"/>
<path fill="#0afff5" d="M44 2h1v1h-1zM40 3h1v1h-1zM43 5h1v1h-1zM44 6h1v1h-1zM39 7h1v1h-1zM42 7h1v1h-1zM44 7h1v1h-1zM2 8h1v1h-1zM7 8h1v1h-1zM1 9h1v1h-1zM7 9h1v1h-1zM10 11h1v1h-1zM38 11h1v1h-1zM5 12h1v1h-1zM1 15h1v1h-1zM3 15h2v1h-2zM6 15h1v1h-1zM44 15h1v1h-1zM2 16h1v1h-1zM5 16h1v1h-1zM10 16h1v1h-1zM41 16h1v1h-1zM4 17h1v1h-1zM6 17h1v1h-1zM41 17h2v1h-2zM2 18h1v1h-1zM39 18h1v1h-1zM5 19h1v1h-1zM38 19h1v1h-1zM4 20h1v1h-1zM44 20h1v1h-1zM2 21h1v1h-1zM42 21h1v1h-1zM2 22h1v1h-1zM2 23h2v1h-2zM5 23h1v1h-1zM7 23h1v1h-1zM39 24h1v1h-1zM7 25h1v1h-1zM42 25h1v1h-1zM8 26h1v1h-1zM6 27h1v1h-1zM8 27h1v1h-1zM0 28h1v1h-1zM4 28h1v1h-1zM5 29h1v1h-1zM10 30h1v1h-1zM44 30h1v1h-1zM43 31h1v1h-1zM1 32h1v1h-1zM7 33h1v1h-1zM42 33h1v1h-1zM4 34h1v1h-1zM8 34h1v1h-1zM43 35h1v1h-1zM2 36h1v1h-1zM6 36h1v1h-1zM37 36h1v1h-1zM44 36h1v1h-1zM6 37h1v1h-1zM10 37h1v1h-1zM0 39h1v1h-1zM2 39h1v1h-1zM8 39h1v1h-1zM2 40h1v1h-1zM7 40h1v1h-1zM9 41h1v1h-1zM43 41h1v1h-1zM42 43h1v1h-1zM44 43h1v1h-1zM5 44h1v1h-1zM41 45h1v1h-1zM41 46h1v1h-1zM1 47h1v1h-1zM44 47h1v1h-1zM1 48h2v1h-2zM3 49h1v1h-1zM4 50h1v1h-1zM39 50h2v1h-2zM44 51h1v1h-1zM40 52h1v1h-1zM7 53h1v1h-1zM38 53h1v1h-1zM41 53h1v1h-1zM44 53h1v1h-1zM7 54h1v1h-1zM37 54h1v1h-1zM0 55h1v1h-1zM5 55h1v1h-1zM4 56h1v1h-1zM3 57h1v1h-1zM8 57h1v1h-1zM39 57h1v1h-1zM4 58h1v1h-1zM41 58h1v1h-1zM10 59h1v1h-1zM44 59h1v1h-1zM40 60h1v1h-1zM10 61h1v1h-1zM43 61h2v1h-2zM0 62h1v1h-1zM44 62h1v1h-1zM0 63h1v1h-1zM7 63h1v1h-1zM12 63h1v1h-1zM1 64h1v1h-1zM6 64h1v1h-1zM6 65h1v1h-1zM39 65h1v1h-1zM0 66h1v1h-1zM6 66h1v1h-1zM38 66h1v1h-1zM43 66h2v1h-2zM6 67h1v1h-1zM3 68h1v1h-1zM7 68h1v1h-1zM11 68h1v1h-1zM38 68h1v1h-1zM40 68h1v1h-1zM44 68h1v1h-1zM6 69h1v1h-1zM39 69h1v1h-1zM43 69h1v1h-1zM1 70h1v1h-1zM5 70h2v1h-2zM40 70h1v1h-1zM10 71h1v1h-1zM39 71h1v1h-1zM4 72h1v1h-1zM7 72h1v1h-1zM39 72h1v1h-1zM4 73h1v1h-1zM11 73h1v1h-1zM7 74h1v1h-1zM37 76h1v1h-1zM41 76h1v1h-1zM5 77h1v1h-1zM41 77h1v1h-1zM3 78h1v1h-1zM5 78h1v1h-1zM3 79h1v1h-1zM8 79h1v1h-1zM10 79h1v1h-1zM39 79h1v1h-1zM43 79h1v1h-1zM8 80h1v1h-1zM10 80h1v1h-1zM2 81h1v1h-1zM4 81h1v1h-1zM10 81h1v1h-1zM42 82h1v1h-1zM3 83h2v1h-2zM7 84h1v1h-1zM1 85h1v1h-1zM40 85h1v1h-1zM8 86h1v1h-1zM41 86h1v1h-1zM6 87h2v1h-2z"/>
<path fill="#24ffdb" d="M8 1h1v1h-1zM10 1h1v1h-1zM10 2h1v1h-1zM10 3h1v1h-1zM39 4h1v1h-1zM41 5h1v1h-1zM42 6h1v1h-1zM39 8h1v1h-1zM42 8h1v1h-1zM3 9h1v1h-1zM6 9h1v1h-1zM42 9h1v1h-1zM0 10h1v1h-1zM4 10h1v1h-1zM6 10h1v1h-1zM39 10h1v1h-1zM15 11h1v1h-1zM40 11h1v1h-1zM44 11h1v1h-1zM7 12h1v1h-1zM34 12h1v1h-1zM42 12h1v1h-1zM6 14h1v1h-1zM4 16h1v1h-1zM6 16h1v1h-1zM8 16h2v1h-2zM39 16h2v1h-2zM9 17h2v1h-2zM40 17h1v1h-1zM5 18h1v1h-1zM8 18h1v1h-1zM9 19h1v1h-1zM37 19h1v1h-1zM44 19h1v1h-1zM3 20h1v1h-1zM8 20h1v1h-1zM38 21h2v1h-2zM40 22h1v1h-1zM6 23h1v1h-1zM10 23h1v1h-1zM7 24h1v1h-1zM10 24h1v1h-1zM44 24h1v1h-1zM10 25h1v1h-1zM38 25h1v1h-1zM6 26h1v1h-1zM10 26h2v1h-2zM38 26h1v1h-1zM0 27h1v1h-1zM36 27h1v1h-1zM41 27h1v1h-1zM10 28h1v1h-1zM41 28h1v1h-1zM3 29h1v1h-1zM6 29h1v1h-1zM11 29h1v1h-1zM5 30h2v1h-2zM7 32h1v1h-1zM41 32h1v1h-1zM10 33h2v1h-2zM39 33h1v1h-1zM41 33h1v1h-1zM6 35h1v1h-1zM10 35h1v1h-1zM44 35h1v1h-1zM7 36h1v1h-1zM9 36h3v1h-3zM38 36h1v1h-1zM4 37h1v1h-1zM38 37h2v1h-2zM4 38h1v1h-1zM9 38h2v1h-2zM42 38h1v1h-1zM9 39h1v1h-1zM39 39h1v1h-1zM8 40h1v1h-1zM6 41h1v1h-1zM6 42h3v1h-3zM41 42h1v1h-1zM2 43h1v1h-1zM6 43h2v1h-2zM38 44h2v1h-2zM41 44h4v1h-4zM0 45h1v1h-1zM6 45h1v1h-1zM37 45h1v1h-1zM6 46h1v1h-1zM0 47h1v1h-1zM10 47h1v1h-1zM6 48h2v1h-2zM41 48h1v1h-1zM1 49h1v1h-1zM5 49h1v1h-1zM38 49h2v1h-2zM10 50h1v1h-1zM10 51h1v1h-1zM39 52h1v1h-1zM9 53h1v1h-1zM11 53h1v1h-1zM40 53h1v1h-1zM8 54h1v1h-1zM37 55h1v1h-1zM39 55h1v1h-1zM8 56h1v1h-1zM10 56h1v1h-1zM40 56h1v1h-1zM2 57h1v1h-1zM4 57h2v1h-2zM9 57h1v1h-1zM38 57h1v1h-1zM1 58h1v1h-1zM9 58h1v1h-1zM11 58h1v1h-1zM15 58h1v1h-1zM39 58h1v1h-1zM8 59h1v1h-1zM40 59h1v1h-1zM43 59h1v1h-1zM8 60h1v1h-1zM10 60h1v1h-1zM38 60h1v1h-1zM37 61h2v1h-2zM5 62h1v1h-1zM7 62h1v1h-1zM10 62h1v1h-1zM38 62h1v1h-1zM9 63h3v1h-3zM41 63h1v1h-1zM7 64h1v1h-1zM9 64h3v1h-3zM37 64h1v1h-1zM3 65h1v1h-1zM9 65h2v1h-2zM38 65h1v1h-1zM11 67h1v1h-1zM7 69h1v1h-1zM40 69h2v1h-2zM9 70h1v1h-1zM38 70h2v1h-2zM37 71h2v1h-2zM6 73h1v1h-1zM37 73h2v1h-2zM3 74h1v1h-1zM6 74h1v1h-1zM2 76h2v1h-2zM10 76h1v1h-1zM3 77h1v1h-1zM9 77h1v1h-1zM38 77h1v1h-1zM41 78h1v1h-1zM6 79h1v1h-1zM11 79h1v1h-1zM9 80h1v1h-1zM42 80h1v1h-1zM38 81h1v1h-1zM37 82h1v1h-1zM8 83h1v1h-1zM37 84h1v1h-1zM39 84h2v1h-2zM0 85h1v1h-1zM11 85h1v1h-1zM7 86h1v1h-1zM10 86h1v1h-1zM37 86h2v1h-2zM39 87h1v1h-1z"/>
<path fill="#3effc1" d="M8 0h1v1h-1zM40 0h1v1h-1zM40 1h1v1h-1zM42 3h1v1h-1zM10 4h1v1h-1zM37 4h1v1h-1zM44 4h1v1h-1zM38 5h1v1h-1zM44 5h1v1h-1zM38 6h2v1h-2zM41 7h1v1h-1zM38 8h1v1h-1zM4 9h1v1h-1zM15 10h1v1h-1zM42 10h1v1h-1zM0 11h1v1h-1zM37 11h1v1h-1zM6 12h1v1h-1zM8 12h1v1h-1zM10 12h1v1h-1zM7 13h1v1h-1zM37 13h2v1h-2zM34 15h1v1h-1zM3 16h1v1h-1zM11 17h1v1h-1zM38 17h1v1h-1zM6 18h1v1h-1zM10 18h1v1h-1zM37 18h1v1h-1zM41 18h3v1h-3zM8 19h1v1h-1zM43 19h1v1h-1zM41 20h1v1h-1zM9 21h2v1h-2zM5 22h3v1h-3zM38 22h2v1h-2zM0 23h1v1h-1zM8 23h1v1h-1zM13 23h1v1h-1zM43 23h1v1h-1zM0 24h1v1h-1zM4 24h1v1h-1zM38 24h1v1h-1zM42 24h1v1h-1zM39 26h1v1h-1zM41 26h1v1h-1zM11 27h1v1h-1zM38 27h2v1h-2zM39 28h1v1h-1zM42 28h1v1h-1zM7 30h1v1h-1zM11 30h1v1h-1zM39 30h1v1h-1zM41 30h1v1h-1zM11 31h1v1h-1zM39 32h1v1h-1zM8 33h2v1h-2zM40 33h1v1h-1zM9 34h4v1h-4zM8 35h1v1h-1zM37 35h2v1h-2zM40 35h1v1h-1zM8 36h1v1h-1zM43 36h1v1h-1zM11 37h1v1h-1zM42 37h2v1h-2zM38 38h1v1h-1zM12 39h2v1h-2zM37 39h1v1h-1zM38 40h1v1h-1zM42 40h1v1h-1zM10 42h1v1h-1zM8 43h1v1h-1zM11 43h1v1h-1zM0 44h1v1h-1zM7 44h1v1h-1zM40 44h1v1h-1zM36 45h1v1h-1zM39 45h2v1h-2zM44 45h1v1h-1zM7 46h1v1h-1zM9 46h1v1h-1zM39 46h1v1h-1zM44 46h1v1h-1zM6 47h1v1h-1zM9 48h1v1h-1zM6 49h2v1h-2zM40 49h1v1h-1zM6 50h1v1h-1zM9 51h1v1h-1zM39 51h1v1h-1zM8 52h2v1h-2zM10 53h1v1h-1zM37 53h1v1h-1zM39 53h1v1h-1zM7 55h1v1h-1zM12 55h1v1h-1zM41 55h1v1h-1zM9 56h1v1h-1zM40 57h1v1h-1zM38 58h1v1h-1zM37 59h1v1h-1zM36 60h1v1h-1zM7 61h1v1h-1zM6 62h1v1h-1zM9 62h1v1h-1zM37 63h1v1h-1zM40 63h1v1h-1zM8 64h1v1h-1zM34 64h1v1h-1zM36 64h1v1h-1zM11 65h1v1h-1zM40 65h1v1h-1zM7 66h1v1h-1zM10 66h1v1h-1zM40 66h1v1h-1zM4 67h1v1h-1zM6 68h1v1h-1zM10 68h1v1h-1zM3 69h1v1h-1zM5 69h1v1h-1zM38 69h1v1h-1zM36 70h2v1h-2zM8 71h1v1h-1zM5 72h1v1h-1zM11 72h2v1h-2zM10 73h1v1h-1zM10 74h1v1h-1zM38 74h1v1h-1zM8 75h1v1h-1zM10 75h1v1h-1zM12 75h1v1h-1zM36 75h1v1h-1zM38 75h1v1h-1zM40 75h1v1h-1zM6 76h1v1h-1zM11 76h2v1h-2zM39 77h1v1h-1zM6 78h1v1h-1zM9 78h1v1h-1zM37 78h1v1h-1zM39 78h2v1h-2zM37 79h1v1h-1zM41 81h1v1h-1zM38 82h1v1h-1zM6 83h1v1h-1zM9 83h1v1h-1zM8 84h1v1h-1zM11 84h2v1h-2zM38 84h1v1h-1zM10 85h1v1h-1zM12 85h1v1h-1zM38 85h1v1h-1zM10 87h2v1h-2zM34 87h1v1h-1z"/>
<path fill="#58ffa7" d="M10 0h1v1h-1zM42 0h1v1h-1zM44 0h1v1h-1zM9 1h1v1h-1zM8 2h2v1h-2zM11 2h1v1h-1zM38 3h1v1h-1zM8 4h2v1h-2zM38 4h1v1h-1zM40 4h1v1h-1zM42 4h1v1h-1zM34 5h1v1h-1zM37 5h1v1h-1zM39 5h1v1h-1zM10 7h2v1h-2zM37 7h2v1h-2zM4 8h1v1h-1zM10 8h2v1h-2zM41 8h1v1h-1zM8 10h1v1h-1zM10 10h1v1h-1zM39 11h1v1h-1zM41 11h1v1h-1zM43 11h1v1h-1zM15 12h2v1h-2zM6 13h1v1h-1zM8 14h1v1h-1zM12 14h1v1h-1zM39 14h1v1h-1zM10 15h1v1h-1zM39 15h1v1h-1zM36 16h1v1h-1zM38 18h1v1h-1zM40 18h1v1h-1zM4 19h1v1h-1zM10 19h1v1h-1zM39 19h1v1h-1zM41 19h1v1h-1zM37 20h1v1h-1zM12 21h1v1h-1zM37 21h1v1h-1zM44 21h1v1h-1zM10 22h1v1h-1zM14 22h2v1h-2zM34 22h1v1h-1zM1 23h1v1h-1zM9 23h1v1h-1zM11 23h2v1h-2zM2 24h1v1h-1zM11 24h1v1h-1zM36 24h1v1h-1zM8 25h1v1h-1zM37 25h1v1h-1zM41 25h1v1h-1zM12 26h1v1h-1zM15 26h1v1h-1zM37 26h1v1h-1zM12 27h1v1h-1zM37 27h1v1h-1zM7 28h1v1h-1zM11 28h2v1h-2zM36 28h1v1h-1zM38 28h1v1h-1zM40 28h1v1h-1zM4 29h1v1h-1zM12 29h1v1h-1zM38 29h1v1h-1zM37 30h1v1h-1zM12 31h1v1h-1zM38 31h1v1h-1zM40 31h1v1h-1zM11 32h1v1h-1zM40 32h1v1h-1zM12 33h1v1h-1zM34 33h1v1h-1zM37 34h2v1h-2zM11 35h1v1h-1zM42 35h1v1h-1zM15 36h1v1h-1zM40 36h2v1h-2zM12 38h1v1h-1zM36 38h1v1h-1zM39 38h1v1h-1zM11 40h1v1h-1zM39 41h1v1h-1zM43 42h1v1h-1zM41 43h1v1h-1zM10 44h1v1h-1zM34 44h1v1h-1zM7 45h1v1h-1zM38 45h1v1h-1zM10 46h4v1h-4zM11 47h1v1h-1zM15 47h1v1h-1zM8 48h1v1h-1zM38 48h2v1h-2zM2 50h1v1h-1zM11 50h1v1h-1zM38 50h1v1h-1zM44 50h1v1h-1zM15 51h1v1h-1zM38 51h1v1h-1zM12 52h1v1h-1zM40 54h1v1h-1zM36 55h1v1h-1zM12 56h2v1h-2zM37 56h1v1h-1zM15 57h1v1h-1zM14 58h1v1h-1zM40 58h1v1h-1zM12 59h1v1h-1zM15 59h1v1h-1zM9 60h1v1h-1zM34 60h1v1h-1zM8 61h2v1h-2zM11 61h1v1h-1zM13 61h1v1h-1zM15 61h1v1h-1zM36 61h1v1h-1zM8 62h1v1h-1zM11 62h3v1h-3zM36 62h2v1h-2zM8 63h1v1h-1zM13 63h1v1h-1zM36 63h1v1h-1zM12 64h1v1h-1zM35 64h1v1h-1zM9 66h1v1h-1zM12 66h1v1h-1zM7 67h1v1h-1zM10 67h1v1h-1zM38 67h1v1h-1zM9 68h1v1h-1zM12 68h1v1h-1zM36 68h1v1h-1zM9 69h1v1h-1zM37 69h1v1h-1zM13 72h1v1h-1zM38 72h1v1h-1zM8 73h2v1h-2zM12 73h1v1h-1zM40 73h1v1h-1zM9 75h1v1h-1zM11 75h1v1h-1zM35 75h1v1h-1zM4 76h1v1h-1zM8 76h2v1h-2zM34 76h1v1h-1zM11 78h1v1h-1zM36 78h1v1h-1zM38 78h1v1h-1zM44 78h1v1h-1zM9 79h1v1h-1zM11 80h1v1h-1zM41 80h1v1h-1zM3 81h1v1h-1zM12 81h1v1h-1zM36 82h1v1h-1zM11 83h3v1h-3zM36 83h2v1h-2zM40 83h1v1h-1zM13 84h1v1h-1zM36 84h1v1h-1zM41 84h1v1h-1zM13 85h1v1h-1zM37 85h1v1h-1zM11 86h1v1h-1zM39 86h1v1h-1zM8 87h2v1h-2zM38 87h1v1h-1zM40 87h1v1h-1z"/>
<path fill="#72ff8d" d="M12 0h2v1h-2zM37 0h1v1h-1zM11 1h1v1h-1zM44 1h1v1h-1zM8 3h1v1h-1zM41 4h1v1h-1zM9 5h1v1h-1zM15 5h1v1h-1zM36 5h1v1h-1zM11 6h1v1h-1zM37 6h1v1h-1zM40 6h2v1h-2zM35 7h1v1h-1zM40 7h1v1h-1zM37 8h1v1h-1zM11 9h3v1h-3zM15 9h1v1h-1zM36 9h1v1h-1zM39 9h1v1h-1zM41 9h1v1h-1zM9 10h1v1h-1zM11 10h2v1h-2zM16 10h1v1h-1zM41 10h1v1h-1zM34 11h1v1h-1zM11 12h1v1h-1zM35 12h1v1h-1zM12 13h1v1h-1zM34 13h3v1h-3zM34 14h1v1h-1zM40 14h1v1h-1zM38 15h1v1h-1zM0 16h1v1h-1zM15 16h1v1h-1zM34 16h2v1h-2zM15 17h1v1h-1zM34 17h1v1h-1zM37 17h1v1h-1zM9 18h1v1h-1zM12 18h2v1h-2zM15 18h1v1h-1zM36 18h1v1h-1zM9 20h2v1h-2zM15 20h1v1h-1zM36 20h1v1h-1zM13 21h1v1h-1zM15 21h1v1h-1zM40 21h1v1h-1zM43 21h1v1h-1zM9 22h1v1h-1zM11 22h3v1h-3zM38 23h1v1h-1zM8 24h2v1h-2zM12 24h1v1h-1zM34 24h1v1h-1zM40 24h1v1h-1zM43 24h1v1h-1zM9 25h1v1h-1zM34 25h1v1h-1zM40 25h1v1h-1zM43 25h1v1h-1zM34 26h1v1h-1zM36 26h1v1h-1zM15 27h1v1h-1zM40 27h1v1h-1zM8 28h1v1h-1zM13 28h1v1h-1zM8 29h1v1h-1zM13 29h1v1h-1zM34 29h1v1h-1zM36 29h1v1h-1zM39 29h1v1h-1zM9 30h1v1h-1zM10 32h1v1h-1zM36 33h1v1h-1zM36 34h1v1h-1zM12 35h1v1h-1zM15 35h1v1h-1zM35 36h2v1h-2zM13 37h1v1h-1zM15 37h1v1h-1zM35 37h2v1h-2zM40 37h2v1h-2zM11 38h1v1h-1zM13 38h1v1h-1zM40 38h1v1h-1zM38 39h1v1h-1zM41 39h1v1h-1zM12 40h3v1h-3zM41 40h1v1h-1zM11 41h1v1h-1zM11 42h2v1h-2zM36 42h1v1h-1zM37 43h2v1h-2zM6 44h1v1h-1zM8 45h1v1h-1zM10 45h2v1h-2zM37 46h1v1h-1zM7 47h1v1h-1zM13 47h1v1h-1zM38 47h2v1h-2zM41 47h1v1h-1zM11 48h2v1h-2zM15 48h2v1h-2zM40 48h1v1h-1zM11 49h1v1h-1zM15 49h1v1h-1zM1 50h1v1h-1zM36 50h1v1h-1zM8 51h1v1h-1zM11 51h1v1h-1zM13 51h1v1h-1zM40 51h1v1h-1zM36 52h1v1h-1zM38 52h1v1h-1zM8 53h1v1h-1zM15 53h1v1h-1zM15 54h1v1h-1zM36 54h1v1h-1zM40 55h1v1h-1zM14 56h2v1h-2zM36 56h1v1h-1zM13 57h1v1h-1zM12 58h1v1h-1zM35 58h1v1h-1zM37 58h1v1h-1zM9 59h1v1h-1zM33 60h1v1h-1zM35 60h1v1h-1zM12 61h1v1h-1zM15 62h1v1h-1zM15 63h1v1h-1zM34 63h1v1h-1zM3 64h1v1h-1zM13 64h1v1h-1zM8 65h1v1h-1zM34 65h1v1h-1zM37 65h1v1h-1zM8 66h1v1h-1zM11 66h1v1h-1zM34 67h1v1h-1zM15 68h1v1h-1zM37 68h1v1h-1zM10 70h1v1h-1zM13 71h1v1h-1zM36 71h1v1h-1zM9 72h1v1h-1zM14 72h2v1h-2zM34 72h1v1h-1zM13 73h1v1h-1zM11 74h1v1h-1zM16 74h1v1h-1zM34 75h1v1h-1zM13 76h1v1h-1zM35 76h1v1h-1zM15 77h1v1h-1zM36 77h2v1h-2zM15 78h1v1h-1zM13 79h1v1h-1zM34 79h1v1h-1zM36 80h1v1h-1zM13 81h1v1h-1zM37 81h1v1h-1zM12 82h1v1h-1zM15 82h1v1h-1zM34 82h1v1h-1zM34 83h1v1h-1zM10 84h1v1h-1zM15 84h1v1h-1zM35 84h1v1h-1zM8 85h1v1h-1zM12 86h1v1h-1zM40 86h1v1h-1z"/>
<path fill="#8dff72" d="M9 0h1v1h-1zM15 0h1v1h-1zM36 0h1v1h-1zM12 1h1v1h-1zM37 1h2v1h-2zM9 3h1v1h-1zM17 3h1v1h-1zM37 3h1v1h-1zM40 5h1v1h-1zM42 5h1v1h-1zM12 6h1v1h-1zM15 6h1v1h-1zM34 6h1v1h-1zM12 7h2v1h-2zM12 8h1v1h-1zM34 8h1v1h-1zM40 8h1v1h-1zM43 8h1v1h-1zM9 9h2v1h-2zM37 9h1v1h-1zM13 10h2v1h-2zM35 10h1v1h-1zM40 10h1v1h-1zM12 11h1v1h-1zM14 11h1v1h-1zM16 11h2v1h-2zM36 11h1v1h-1zM17 12h1v1h-1zM29 12h1v1h-1zM36 12h1v1h-1zM11 13h1v1h-1zM16 14h2v1h-2zM36 14h2v1h-2zM9 15h1v1h-1zM14 15h5v1h-5zM35 15h1v1h-1zM38 16h1v1h-1zM35 17h1v1h-1zM14 18h1v1h-1zM33 18h2v1h-2zM11 19h1v1h-1zM33 19h1v1h-1zM29 20h1v1h-1zM34 20h1v1h-1zM40 20h1v1h-1zM11 21h1v1h-1zM37 22h1v1h-1zM15 23h1v1h-1zM37 23h1v1h-1zM15 24h1v1h-1zM33 24h1v1h-1zM37 24h1v1h-1zM12 25h2v1h-2zM15 25h2v1h-2zM36 25h1v1h-1zM13 26h1v1h-1zM32 26h1v1h-1zM37 28h1v1h-1zM14 29h1v1h-1zM13 30h1v1h-1zM15 30h1v1h-1zM33 30h1v1h-1zM36 30h1v1h-1zM40 30h1v1h-1zM34 31h1v1h-1zM33 32h1v1h-1zM36 32h1v1h-1zM13 33h1v1h-1zM15 33h1v1h-1zM13 34h1v1h-1zM34 34h2v1h-2zM34 35h1v1h-1zM36 35h1v1h-1zM13 36h1v1h-1zM16 36h1v1h-1zM16 37h1v1h-1zM34 37h1v1h-1zM37 37h1v1h-1zM35 38h1v1h-1zM37 38h1v1h-1zM14 39h1v1h-1zM16 39h1v1h-1zM16 40h1v1h-1zM37 40h1v1h-1zM39 40h1v1h-1zM12 41h1v1h-1zM37 41h2v1h-2zM13 42h1v1h-1zM35 42h1v1h-1zM38 42h2v1h-2zM12 43h2v1h-2zM8 44h1v1h-1zM12 44h2v1h-2zM36 44h1v1h-1zM12 45h1v1h-1zM15 45h1v1h-1zM8 46h1v1h-1zM38 46h1v1h-1zM8 47h1v1h-1zM40 47h1v1h-1zM37 48h1v1h-1zM12 49h2v1h-2zM36 49h1v1h-1zM12 50h1v1h-1zM14 50h2v1h-2zM12 51h1v1h-1zM14 51h1v1h-1zM37 51h1v1h-1zM13 52h4v1h-4zM14 53h1v1h-1zM36 53h1v1h-1zM33 54h3v1h-3zM13 55h1v1h-1zM34 55h2v1h-2zM37 57h1v1h-1zM13 58h1v1h-1zM16 58h1v1h-1zM13 59h1v1h-1zM33 59h2v1h-2zM13 60h1v1h-1zM14 61h1v1h-1zM35 61h1v1h-1zM34 62h2v1h-2zM15 64h1v1h-1zM12 65h3v1h-3zM13 66h3v1h-3zM8 67h2v1h-2zM12 67h1v1h-1zM15 67h1v1h-1zM36 67h2v1h-2zM16 68h1v1h-1zM15 69h1v1h-1zM34 69h2v1h-2zM13 70h1v1h-1zM14 71h1v1h-1zM36 72h1v1h-1zM15 73h1v1h-1zM8 74h1v1h-1zM12 74h1v1h-1zM15 74h1v1h-1zM34 74h1v1h-1zM16 75h1v1h-1zM33 75h1v1h-1zM12 77h1v1h-1zM12 78h2v1h-2zM14 79h1v1h-1zM37 80h1v1h-1zM15 81h1v1h-1zM13 82h2v1h-2zM35 82h1v1h-1zM14 83h2v1h-2zM33 83h1v1h-1zM9 85h1v1h-1zM15 85h1v1h-1zM36 85h1v1h-1zM9 86h1v1h-1zM36 86h1v1h-1zM15 87h1v1h-1zM33 87h1v1h-1zM37 87h1v1h-1z"/>
<path fill="#a7ff58" d="M16 1h1v1h-1zM31 1h1v1h-1zM33 1h2v1h-2zM13 2h1v1h-1zM16 2h1v1h-1zM21 2h1v1h-1zM37 2h1v1h-1zM13 3h1v1h-1zM14 4h1v1h-1zM43 4h1v1h-1zM13 5h1v1h-1zM33 7h1v1h-1zM9 8h1v1h-1zM35 8h1v1h-1zM14 9h1v1h-1zM16 9h1v1h-1zM34 9h2v1h-2zM40 9h1v1h-1zM33 10h2v1h-2zM11 11h1v1h-1zM18 11h1v1h-1zM12 12h2v1h-2zM18 12h1v1h-1zM33 12h1v1h-1zM37 12h1v1h-1zM33 13h1v1h-1zM35 14h1v1h-1zM36 15h2v1h-2zM16 16h1v1h-1zM14 17h1v1h-1zM33 17h1v1h-1zM13 19h2v1h-2zM32 19h1v1h-1zM33 21h1v1h-1zM35 21h1v1h-1zM17 22h1v1h-1zM35 22h2v1h-2zM34 23h1v1h-1zM13 24h1v1h-1zM32 25h1v1h-1zM35 25h1v1h-1zM14 26h1v1h-1zM16 26h1v1h-1zM13 27h2v1h-2zM16 27h1v1h-1zM14 28h2v1h-2zM35 28h1v1h-1zM16 29h1v1h-1zM32 29h2v1h-2zM40 29h1v1h-1zM14 30h1v1h-1zM17 30h1v1h-1zM34 30h2v1h-2zM15 31h1v1h-1zM35 31h1v1h-1zM37 31h1v1h-1zM30 32h1v1h-1zM38 32h1v1h-1zM16 33h1v1h-1zM33 33h1v1h-1zM15 34h1v1h-1zM13 35h2v1h-2zM16 35h2v1h-2zM35 35h1v1h-1zM34 36h1v1h-1zM33 37h1v1h-1zM14 38h1v1h-1zM29 38h1v1h-1zM41 38h1v1h-1zM35 39h2v1h-2zM31 40h1v1h-1zM40 40h1v1h-1zM16 41h1v1h-1zM15 42h1v1h-1zM34 42h1v1h-1zM34 43h2v1h-2zM14 44h2v1h-2zM35 44h1v1h-1zM37 44h1v1h-1zM35 45h1v1h-1zM35 46h1v1h-1zM12 47h1v1h-1zM16 47h2v1h-2zM13 48h2v1h-2zM16 49h1v1h-1zM13 50h1v1h-1zM16 50h1v1h-1zM34 50h2v1h-2zM16 53h1v1h-1zM33 53h2v1h-2zM14 54h1v1h-1zM16 56h1v1h-1zM34 56h1v1h-1zM33 57h1v1h-1zM35 57h2v1h-2zM36 58h1v1h-1zM14 59h1v1h-1zM16 59h1v1h-1zM32 59h1v1h-1zM35 59h1v1h-1zM15 60h2v1h-2zM16 61h2v1h-2zM33 62h1v1h-1zM33 63h1v1h-1zM35 63h1v1h-1zM15 65h2v1h-2zM33 65h1v1h-1zM34 66h1v1h-1zM37 66h1v1h-1zM35 67h1v1h-1zM35 68h1v1h-1zM13 69h1v1h-1zM26 69h1v1h-1zM32 70h1v1h-1zM34 70h1v1h-1zM33 71h3v1h-3zM33 72h1v1h-1zM9 74h1v1h-1zM36 74h1v1h-1zM29 75h1v1h-1zM32 76h2v1h-2zM13 77h1v1h-1zM16 77h1v1h-1zM33 77h2v1h-2zM14 78h1v1h-1zM16 78h1v1h-1zM15 79h1v1h-1zM14 81h1v1h-1zM34 81h1v1h-1zM35 83h1v1h-1zM16 84h1v1h-1zM32 84h1v1h-1zM34 84h1v1h-1zM14 85h1v1h-1zM15 86h1v1h-1zM34 86h1v1h-1zM12 87h1v1h-1z"/>
<path fill="#c1ff3e" d="M14 0h1v1h-1zM16 0h1v1h-1zM34 0h1v1h-1zM17 1h1v1h-1zM29 1h1v1h-1zM36 1h1v1h-1zM14 2h1v1h-1zM17 2h1v1h-1zM22 2h1v1h-1zM24 2h1v1h-1zM34 2h1v1h-1zM14 3h1v1h-1zM16 3h1v1h-1zM20 3h1v1h-1zM28 3h2v1h-2zM31 3h1v1h-1zM13 4h1v1h-1zM26 4h1v1h-1zM33 4h2v1h-2zM16 5h2v1h-2zM33 5h1v1h-1zM35 5h1v1h-1zM33 6h1v1h-1zM16 7h4v1h-4zM34 7h1v1h-1zM15 8h1v1h-1zM32 8h2v1h-2zM17 9h1v1h-1zM21 9h2v1h-2zM17 10h1v1h-1zM29 10h1v1h-1zM29 11h1v1h-1zM26 12h1v1h-1zM28 12h1v1h-1zM25 13h2v1h-2zM28 13h1v1h-1zM32 13h1v1h-1zM18 14h3v1h-3zM22 14h1v1h-1zM29 14h1v1h-1zM33 14h1v1h-1zM22 15h1v1h-1zM26 15h1v1h-1zM33 15h1v1h-1zM17 16h1v1h-1zM16 17h3v1h-3zM20 17h2v1h-2zM16 18h1v1h-1zM27 18h1v1h-1zM32 18h1v1h-1zM26 19h2v1h-2zM29 19h1v1h-1zM31 19h1v1h-1zM17 21h1v1h-1zM20 21h1v1h-1zM29 21h1v1h-1zM34 21h1v1h-1zM36 21h1v1h-1zM16 22h1v1h-1zM32 22h1v1h-1zM36 23h1v1h-1zM14 24h1v1h-1zM14 25h1v1h-1zM20 25h1v1h-1zM25 25h1v1h-1zM29 25h1v1h-1zM33 25h1v1h-1zM17 26h1v1h-1zM40 26h1v1h-1zM21 27h1v1h-1zM34 27h1v1h-1zM17 28h1v1h-1zM31 28h1v1h-1zM34 28h1v1h-1zM30 29h2v1h-2zM35 29h1v1h-1zM16 30h1v1h-1zM18 30h2v1h-2zM25 30h1v1h-1zM32 30h1v1h-1zM14 31h1v1h-1zM29 31h1v1h-1zM33 31h1v1h-1zM16 32h1v1h-1zM14 33h1v1h-1zM29 33h3v1h-3zM35 33h1v1h-1zM18 34h1v1h-1zM33 34h1v1h-1zM14 36h1v1h-1zM17 36h1v1h-1zM33 36h1v1h-1zM14 37h1v1h-1zM17 37h1v1h-1zM16 38h1v1h-1zM33 38h1v1h-1zM40 39h1v1h-1zM17 40h1v1h-1zM33 40h1v1h-1zM35 40h2v1h-2zM14 41h1v1h-1zM32 41h1v1h-1zM34 41h1v1h-1zM36 41h1v1h-1zM14 42h1v1h-1zM16 42h2v1h-2zM25 42h1v1h-1zM37 42h1v1h-1zM14 43h2v1h-2zM17 43h1v1h-1zM33 43h1v1h-1zM36 43h1v1h-1zM16 44h2v1h-2zM33 44h1v1h-1zM20 45h1v1h-1zM33 45h1v1h-1zM14 46h3v1h-3zM14 47h1v1h-1zM36 47h2v1h-2zM17 48h3v1h-3zM34 48h2v1h-2zM17 49h2v1h-2zM29 49h1v1h-1zM37 49h1v1h-1zM20 51h1v1h-1zM22 51h1v1h-1zM32 52h1v1h-1zM34 52h2v1h-2zM32 53h1v1h-1zM17 54h1v1h-1zM17 55h2v1h-2zM33 55h1v1h-1zM18 56h1v1h-1zM33 56h1v1h-1zM35 56h1v1h-1zM16 57h1v1h-1zM32 57h1v1h-1zM18 58h1v1h-1zM30 58h1v1h-1zM33 58h1v1h-1zM20 59h1v1h-1zM29 59h1v1h-1zM36 59h1v1h-1zM14 60h1v1h-1zM14 62h1v1h-1zM16 62h1v1h-1zM18 62h1v1h-1zM28 62h2v1h-2zM14 63h1v1h-1zM16 63h1v1h-1zM16 64h1v1h-1zM17 65h1v1h-1zM36 65h1v1h-1zM16 66h1v1h-1zM33 66h1v1h-1zM36 66h1v1h-1zM13 67h1v1h-1zM16 67h1v1h-1zM26 67h1v1h-1zM29 67h1v1h-1zM33 67h1v1h-1zM13 68h1v1h-1zM17 68h1v1h-1zM33 68h1v1h-1zM14 69h1v1h-1zM16 69h2v1h-2zM31 69h2v1h-2zM14 70h1v1h-1zM17 70h1v1h-1zM27 70h2v1h-2zM30 70h2v1h-2zM28 71h2v1h-2zM32 71h1v1h-1zM16 72h2v1h-2zM14 73h1v1h-1zM16 73h1v1h-1zM26 73h2v1h-2zM36 73h1v1h-1zM13 74h2v1h-2zM28 74h1v1h-1zM31 75h1v1h-1zM16 76h2v1h-2zM28 76h1v1h-1zM14 77h1v1h-1zM35 77h1v1h-1zM17 79h1v1h-1zM15 80h1v1h-1zM33 80h1v1h-1zM17 81h1v1h-1zM33 81h1v1h-1zM33 82h1v1h-1zM16 83h2v1h-2zM17 84h1v1h-1zM32 85h2v1h-2zM13 86h2v1h-2zM17 86h1v1h-1zM20 86h1v1h-1zM31 86h1v1h-1zM33 86h1v1h-1zM35 86h1v1h-1zM13 87h1v1h-1zM36 87h1v1h-1z"/>
<path fill="#dbff24" d="M18 0h1v1h-1zM21 0h2v1h-2zM28 0h2v1h-2zM14 1h1v1h-1zM18 1h1v1h-1zM20 1h3v1h-3zM24 1h1v1h-1zM30 1h1v1h-1zM29 2h1v1h-1zM31 2h1v1h-1zM24 3h3v1h-3zM17 4h2v1h-2zM21 4h1v1h-1zM27 4h1v1h-1zM21 5h1v1h-1zM27 6h1v1h-1zM31 6h1v1h-1zM35 6h2v1h-2zM14 7h1v1h-1zM20 7h1v1h-1zM13 8h1v1h-1zM17 8h1v1h-1zM19 8h1v1h-1zM29 8h1v1h-1zM20 9h1v1h-1zM23 9h1v1h-1zM21 10h2v1h-2zM24 10h1v1h-1zM32 10h1v1h-1zM20 11h1v1h-1zM25 11h1v1h-1zM30 11h2v1h-2zM20 12h1v1h-1zM23 12h1v1h-1zM25 12h1v1h-1zM30 12h1v1h-1zM22 13h2v1h-2zM23 14h1v1h-1zM32 14h1v1h-1zM28 15h1v1h-1zM31 15h2v1h-2zM18 16h1v1h-1zM33 16h1v1h-1zM28 17h1v1h-1zM32 17h1v1h-1zM18 18h5v1h-5zM29 18h1v1h-1zM18 19h1v1h-1zM20 19h1v1h-1zM17 20h1v1h-1zM27 20h1v1h-1zM30 20h3v1h-3zM18 21h2v1h-2zM21 21h2v1h-2zM27 21h1v1h-1zM30 21h2v1h-2zM18 22h1v1h-1zM21 22h1v1h-1zM33 22h1v1h-1zM19 23h2v1h-2zM22 23h2v1h-2zM28 23h1v1h-1zM16 24h2v1h-2zM20 24h3v1h-3zM27 24h1v1h-1zM26 25h2v1h-2zM21 26h2v1h-2zM25 26h2v1h-2zM28 26h1v1h-1zM17 27h1v1h-1zM20 27h1v1h-1zM25 27h3v1h-3zM25 28h1v1h-1zM30 28h1v1h-1zM32 28h2v1h-2zM18 29h1v1h-1zM28 29h2v1h-2zM21 30h1v1h-1zM24 30h1v1h-1zM31 30h1v1h-1zM21 31h2v1h-2zM24 31h2v1h-2zM28 31h1v1h-1zM32 31h1v1h-1zM14 32h1v1h-1zM18 32h1v1h-1zM22 32h1v1h-1zM25 32h1v1h-1zM29 32h1v1h-1zM32 32h1v1h-1zM17 33h1v1h-1zM20 33h1v1h-1zM22 33h1v1h-1zM25 33h1v1h-1zM32 33h1v1h-1zM14 34h1v1h-1zM20 34h5v1h-5zM26 34h1v1h-1zM28 34h1v1h-1zM18 35h1v1h-1zM28 35h1v1h-1zM30 35h1v1h-1zM33 35h1v1h-1zM18 36h1v1h-1zM18 37h1v1h-1zM30 37h1v1h-1zM32 37h1v1h-1zM17 39h1v1h-1zM27 39h1v1h-1zM29 39h2v1h-2zM22 40h4v1h-4zM30 40h1v1h-1zM32 40h1v1h-1zM34 40h1v1h-1zM13 41h1v1h-1zM17 41h1v1h-1zM22 41h1v1h-1zM25 41h1v1h-1zM29 41h2v1h-2zM18 42h1v1h-1zM24 42h1v1h-1zM33 42h1v1h-1zM20 44h2v1h-2zM28 44h1v1h-1zM32 44h1v1h-1zM17 45h1v1h-1zM21 45h1v1h-1zM25 45h2v1h-2zM32 45h1v1h-1zM21 46h1v1h-1zM27 46h1v1h-1zM36 46h1v1h-1zM18 47h1v1h-1zM25 47h1v1h-1zM34 47h2v1h-2zM20 48h1v1h-1zM26 48h1v1h-1zM33 48h1v1h-1zM36 48h1v1h-1zM26 49h1v1h-1zM34 49h2v1h-2zM17 50h1v1h-1zM19 50h4v1h-4zM25 50h1v1h-1zM29 50h1v1h-1zM33 50h1v1h-1zM19 51h1v1h-1zM21 51h1v1h-1zM24 51h1v1h-1zM28 51h1v1h-1zM34 51h2v1h-2zM18 52h1v1h-1zM21 52h4v1h-4zM28 52h1v1h-1zM33 52h1v1h-1zM18 53h1v1h-1zM26 53h2v1h-2zM35 53h1v1h-1zM18 54h1v1h-1zM20 54h2v1h-2zM28 54h1v1h-1zM19 55h1v1h-1zM21 55h1v1h-1zM26 55h1v1h-1zM28 55h1v1h-1zM19 56h1v1h-1zM21 56h1v1h-1zM27 56h3v1h-3zM17 57h1v1h-1zM24 57h1v1h-1zM27 57h1v1h-1zM24 58h3v1h-3zM28 58h1v1h-1zM32 58h1v1h-1zM18 59h1v1h-1zM23 59h1v1h-1zM25 59h1v1h-1zM17 60h1v1h-1zM20 60h1v1h-1zM24 60h1v1h-1zM20 61h1v1h-1zM31 61h1v1h-1zM17 62h1v1h-1zM20 62h1v1h-1zM31 62h1v1h-1zM17 63h2v1h-2zM25 63h1v1h-1zM28 63h2v1h-2zM31 63h1v1h-1zM14 64h1v1h-1zM23 64h2v1h-2zM28 64h1v1h-1zM30 64h2v1h-2zM28 65h2v1h-2zM31 65h1v1h-1zM35 65h1v1h-1zM18 66h1v1h-1zM28 66h2v1h-2zM14 67h1v1h-1zM17 67h1v1h-1zM14 68h1v1h-1zM18 68h1v1h-1zM29 68h1v1h-1zM18 69h2v1h-2zM33 69h1v1h-1zM18 70h1v1h-1zM26 70h1v1h-1zM33 70h1v1h-1zM17 71h1v1h-1zM27 71h1v1h-1zM31 71h1v1h-1zM28 72h2v1h-2zM35 72h1v1h-1zM18 73h1v1h-1zM20 73h1v1h-1zM24 73h2v1h-2zM31 73h3v1h-3zM20 74h1v1h-1zM31 74h1v1h-1zM30 75h1v1h-1zM18 76h1v1h-1zM25 76h1v1h-1zM30 76h2v1h-2zM18 77h1v1h-1zM29 77h1v1h-1zM31 77h2v1h-2zM25 78h1v1h-1zM25 79h1v1h-1zM29 79h1v1h-1zM14 80h1v1h-1zM19 80h2v1h-2zM32 80h1v1h-1zM20 81h1v1h-1zM24 81h1v1h-1zM35 81h1v1h-1zM17 82h1v1h-1zM18 83h1v1h-1zM31 83h1v1h-1zM18 84h1v1h-1zM25 84h1v1h-1zM16 85h1v1h-1zM30 85h2v1h-2zM16 86h1v1h-1zM27 86h1v1h-1zM32 86h1v1h-1zM14 87h1v1h-1zM16 87h3v1h-3zM20 87h1v1h-1zM25 87h1v1h-1zM31 87h2v1h-2zM35 87h1v1h-1z"/>
<path fill="#f5ff0a" d="M19 0h2v1h-2zM25 0h1v1h-1zM30 0h2v1h-2zM19 1h1v1h-1zM25 1h1v1h-1zM27 1h2v1h-2zM18 2h2v1h-2zM25 2h1v1h-1zM28 2h1v1h-1zM32 2h2v1h-2zM35 2h1v1h-1zM21 3h1v1h-1zM23 3h1v1h-1zM30 3h1v1h-1zM32 3h1v1h-1zM34 3h1v1h-1zM19 4h2v1h-2zM25 4h1v1h-1zM29 4h1v1h-1zM32 4h1v1h-1zM24 5h1v1h-1zM26 5h3v1h-3zM30 5h1v1h-1zM32 5h1v1h-1zM19 6h2v1h-2zM22 6h1v1h-1zM26 6h1v1h-1zM30 6h1v1h-1zM32 6h1v1h-1zM32 7h1v1h-1zM14 8h1v1h-1zM22 8h2v1h-2zM31 8h1v1h-1zM27 9h1v1h-1zM31 9h3v1h-3zM30 10h1v1h-1zM22 11h1v1h-1zM27 11h1v1h-1zM22 12h1v1h-1zM27 12h1v1h-1zM31 12h1v1h-1zM19 13h1v1h-1zM24 13h1v1h-1zM27 13h1v1h-1zM30 13h1v1h-1zM28 14h1v1h-1zM30 14h2v1h-2zM25 15h1v1h-1zM30 15h1v1h-1zM20 16h1v1h-1zM25 16h2v1h-2zM19 17h1v1h-1zM22 17h5v1h-5zM17 18h1v1h-1zM23 18h2v1h-2zM17 19h1v1h-1zM19 19h1v1h-1zM21 19h3v1h-3zM28 19h1v1h-1zM18 20h5v1h-5zM24 20h1v1h-1zM33 20h1v1h-1zM23 21h1v1h-1zM25 21h2v1h-2zM32 21h1v1h-1zM26 22h2v1h-2zM29 22h1v1h-1zM31 22h1v1h-1zM18 23h1v1h-1zM27 23h1v1h-1zM30 23h2v1h-2zM33 23h1v1h-1zM24 24h3v1h-3zM30 24h3v1h-3zM17 25h1v1h-1zM19 25h1v1h-1zM24 25h1v1h-1zM20 26h1v1h-1zM29 26h1v1h-1zM18 27h1v1h-1zM24 27h1v1h-1zM28 27h1v1h-1zM18 28h1v1h-1zM22 28h2v1h-2zM26 28h1v1h-1zM29 28h1v1h-1zM19 29h1v1h-1zM22 29h1v1h-1zM24 29h1v1h-1zM26 29h1v1h-1zM20 30h1v1h-1zM22 30h1v1h-1zM18 31h1v1h-1zM20 31h1v1h-1zM26 31h1v1h-1zM30 31h2v1h-2zM17 32h1v1h-1zM19 32h1v1h-1zM23 32h2v1h-2zM26 32h1v1h-1zM18 33h2v1h-2zM21 33h1v1h-1zM23 33h2v1h-2zM29 34h4v1h-4zM20 35h1v1h-1zM25 35h1v1h-1zM29 35h1v1h-1zM32 35h1v1h-1zM21 36h1v1h-1zM27 36h4v1h-4zM32 36h1v1h-1zM21 37h1v1h-1zM28 37h2v1h-2zM18 38h1v1h-1zM20 38h3v1h-3zM26 38h1v1h-1zM28 38h1v1h-1zM30 38h1v1h-1zM21 39h3v1h-3zM25 39h1v1h-1zM31 39h2v1h-2zM19 40h1v1h-1zM28 40h1v1h-1zM23 41h2v1h-2zM27 41h1v1h-1zM31 41h1v1h-1zM33 41h1v1h-1zM19 42h1v1h-1zM30 42h3v1h-3zM20 43h1v1h-1zM24 43h2v1h-2zM27 43h2v1h-2zM31 43h2v1h-2zM22 44h1v1h-1zM24 44h2v1h-2zM27 44h1v1h-1zM16 45h1v1h-1zM22 45h1v1h-1zM28 45h2v1h-2zM18 46h1v1h-1zM20 46h1v1h-1zM22 46h2v1h-2zM32 46h3v1h-3zM19 47h2v1h-2zM28 47h1v1h-1zM21 48h3v1h-3zM29 48h1v1h-1zM32 48h1v1h-1zM19 49h1v1h-1zM24 49h1v1h-1zM30 49h1v1h-1zM18 50h1v1h-1zM28 50h1v1h-1zM30 50h1v1h-1zM23 51h1v1h-1zM27 51h1v1h-1zM29 51h1v1h-1zM20 52h1v1h-1zM25 52h1v1h-1zM29 52h1v1h-1zM20 53h2v1h-2zM23 53h1v1h-1zM25 53h1v1h-1zM28 53h2v1h-2zM31 53h1v1h-1zM25 54h1v1h-1zM29 54h1v1h-1zM32 54h1v1h-1zM20 55h1v1h-1zM24 55h2v1h-2zM27 55h1v1h-1zM30 55h1v1h-1zM17 56h1v1h-1zM22 56h2v1h-2zM25 56h1v1h-1zM31 56h1v1h-1zM28 57h2v1h-2zM23 58h1v1h-1zM27 58h1v1h-1zM31 58h1v1h-1zM24 59h1v1h-1zM27 59h1v1h-1zM30 59h2v1h-2zM25 60h1v1h-1zM28 60h2v1h-2zM32 60h1v1h-1zM18 61h2v1h-2zM21 61h2v1h-2zM28 61h2v1h-2zM32 61h2v1h-2zM19 62h1v1h-1zM21 62h1v1h-1zM32 62h1v1h-1zM19 63h2v1h-2zM24 63h1v1h-1zM26 63h1v1h-1zM30 63h1v1h-1zM17 64h3v1h-3zM21 64h2v1h-2zM25 64h1v1h-1zM27 64h1v1h-1zM32 64h1v1h-1zM18 65h1v1h-1zM20 65h2v1h-2zM27 65h1v1h-1zM30 65h1v1h-1zM17 66h1v1h-1zM21 66h3v1h-3zM27 66h1v1h-1zM31 66h2v1h-2zM18 67h1v1h-1zM20 67h4v1h-4zM31 67h1v1h-1zM25 68h1v1h-1zM31 68h2v1h-2zM20 69h1v1h-1zM24 69h2v1h-2zM27 69h4v1h-4zM20 70h1v1h-1zM24 70h2v1h-2zM29 70h1v1h-1zM35 70h1v1h-1zM26 71h1v1h-1zM30 71h1v1h-1zM18 72h1v1h-1zM20 72h1v1h-1zM25 72h1v1h-1zM27 72h1v1h-1zM32 72h1v1h-1zM17 73h1v1h-1zM19 73h1v1h-1zM17 74h1v1h-1zM21 74h1v1h-1zM24 74h2v1h-2zM32 74h1v1h-1zM17 75h1v1h-1zM20 75h2v1h-2zM24 75h2v1h-2zM27 75h1v1h-1zM19 76h2v1h-2zM24 76h1v1h-1zM17 77h1v1h-1zM20 77h1v1h-1zM24 77h1v1h-1zM18 78h1v1h-1zM20 78h1v1h-1zM23 78h1v1h-1zM28 78h1v1h-1zM18 79h1v1h-1zM20 79h1v1h-1zM22 79h3v1h-3zM26 79h1v1h-1zM28 79h1v1h-1zM32 79h1v1h-1zM17 80h1v1h-1zM23 80h2v1h-2zM29 80h1v1h-1zM18 81h1v1h-1zM30 81h2v1h-2zM18 82h3v1h-3zM24 82h2v1h-2zM27 82h1v1h-1zM31 82h1v1h-1zM19 83h3v1h-3zM24 83h1v1h-1zM21 84h1v1h-1zM27 84h1v1h-1zM29 84h1v1h-1zM31 84h1v1h-1zM18 85h4v1h-4zM26 85h2v1h-2zM29 85h1v1h-1zM34 85h2v1h-2zM21 86h2v1h-2zM24 86h2v1h-2zM30 86h1v1h-1zM21 87h1v1h-1zM24 87h1v1h-1z"/>
<path fill="#ffef00" d="M23 0h2v1h-2zM23 1h1v1h-1zM30 2h1v1h-1zM18 3h1v1h-1zM28 4h1v1h-1zM19 5h1v1h-1zM22 5h2v1h-2zM31 5h1v1h-1zM23 6h2v1h-2zM28 6h1v1h-1zM30 7h2v1h-2zM29 9h2v1h-2zM27 10h1v1h-1zM21 11h1v1h-1zM23 11h1v1h-1zM26 11h1v1h-1zM21 12h1v1h-1zM26 14h1v1h-1zM24 16h1v1h-1zM27 16h1v1h-1zM32 16h1v1h-1zM27 17h1v1h-1zM31 17h1v1h-1zM25 18h2v1h-2zM24 19h2v1h-2zM25 20h2v1h-2zM22 22h1v1h-1zM18 24h1v1h-1zM18 25h1v1h-1zM21 25h1v1h-1zM31 25h1v1h-1zM18 26h2v1h-2zM24 26h1v1h-1zM19 27h1v1h-1zM23 27h1v1h-1zM29 27h1v1h-1zM31 27h1v1h-1zM27 28h1v1h-1zM29 30h2v1h-2zM17 31h1v1h-1zM19 31h1v1h-1zM23 31h1v1h-1zM28 32h1v1h-1zM31 32h1v1h-1zM26 33h3v1h-3zM19 34h1v1h-1zM27 34h1v1h-1zM19 35h1v1h-1zM21 35h2v1h-2zM27 35h1v1h-1zM31 35h1v1h-1zM19 36h2v1h-2zM25 36h2v1h-2zM31 36h1v1h-1zM20 37h1v1h-1zM26 37h2v1h-2zM17 38h1v1h-1zM24 38h2v1h-2zM27 38h1v1h-1zM18 39h2v1h-2zM24 39h1v1h-1zM18 40h1v1h-1zM20 40h2v1h-2zM26 40h2v1h-2zM18 41h1v1h-1zM20 41h1v1h-1zM28 41h1v1h-1zM35 41h1v1h-1zM23 42h1v1h-1zM28 42h1v1h-1zM18 43h2v1h-2zM22 43h1v1h-1zM26 43h1v1h-1zM29 43h2v1h-2zM18 44h1v1h-1zM23 44h1v1h-1zM26 44h1v1h-1zM30 44h1v1h-1zM18 45h1v1h-1zM23 45h1v1h-1zM27 45h1v1h-1zM31 45h1v1h-1zM19 46h1v1h-1zM24 46h2v1h-2zM28 46h2v1h-2zM31 46h1v1h-1zM21 47h4v1h-4zM27 47h1v1h-1zM29 47h1v1h-1zM33 47h1v1h-1zM24 48h2v1h-2zM27 48h1v1h-1zM21 49h2v1h-2zM27 49h1v1h-1zM31 49h1v1h-1zM24 50h1v1h-1zM26 50h2v1h-2zM31 51h1v1h-1zM19 52h1v1h-1zM27 52h1v1h-1zM31 52h1v1h-1zM19 53h1v1h-1zM24 53h1v1h-1zM30 53h1v1h-1zM19 54h1v1h-1zM26 54h1v1h-1zM30 54h2v1h-2zM32 55h1v1h-1zM32 56h1v1h-1zM21 57h1v1h-1zM23 57h1v1h-1zM30 57h2v1h-2zM21 58h2v1h-2zM19 59h1v1h-1zM26 59h1v1h-1zM23 60h1v1h-1zM30 60h2v1h-2zM23 61h3v1h-3zM27 61h1v1h-1zM22 62h3v1h-3zM27 62h1v1h-1zM21 63h3v1h-3zM27 63h1v1h-1zM32 63h1v1h-1zM29 64h1v1h-1zM22 65h2v1h-2zM26 65h1v1h-1zM32 65h1v1h-1zM20 66h1v1h-1zM24 66h3v1h-3zM35 66h1v1h-1zM19 67h1v1h-1zM24 67h1v1h-1zM30 67h1v1h-1zM32 67h1v1h-1zM19 68h4v1h-4zM28 68h1v1h-1zM21 69h3v1h-3zM21 70h3v1h-3zM19 71h3v1h-3zM23 71h2v1h-2zM19 72h1v1h-1zM21 72h1v1h-1zM23 72h1v1h-1zM26 72h1v1h-1zM31 72h1v1h-1zM21 73h1v1h-1zM29 73h1v1h-1zM23 74h1v1h-1zM26 74h2v1h-2zM29 74h2v1h-2zM18 75h1v1h-1zM22 75h2v1h-2zM26 76h1v1h-1zM19 77h1v1h-1zM25 77h1v1h-1zM19 78h1v1h-1zM24 78h1v1h-1zM27 78h1v1h-1zM29 78h2v1h-2zM19 79h1v1h-1zM21 79h1v1h-1zM27 80h2v1h-2zM30 80h1v1h-1zM19 81h1v1h-1zM21 81h1v1h-1zM26 81h1v1h-1zM29 81h1v1h-1zM23 82h1v1h-1zM26 82h1v1h-1zM28 82h3v1h-3zM32 82h1v1h-1zM22 83h2v1h-2zM25 83h1v1h-1zM30 83h1v1h-1zM20 84h1v1h-1zM22 84h3v1h-3zM28 84h1v1h-1zM22 85h1v1h-1zM28 85h1v1h-1zM29 86h1v1h-1zM22 87h1v1h-1zM28 87h1v1h-1zM30 87h1v1h-1z"/>
<path fill="#ffd500" d="M26 2h1v1h-1zM19 3h1v1h-1zM30 4h2v1h-2zM27 8h2v1h-2zM30 8h1v1h-1zM25 14h1v1h-1zM27 15h1v1h-1zM28 18h1v1h-1zM25 22h1v1h-1zM30 22h1v1h-1zM26 23h1v1h-1zM30 25h1v1h-1zM23 26h1v1h-1zM30 26h1v1h-1zM23 29h1v1h-1zM23 30h1v1h-1zM27 32h1v1h-1zM23 35h2v1h-2zM24 36h1v1h-1zM24 37h1v1h-1zM19 38h1v1h-1zM23 38h1v1h-1zM20 39h1v1h-1zM26 39h1v1h-1zM26 41h1v1h-1zM26 42h2v1h-2zM19 44h1v1h-1zM19 45h1v1h-1zM30 46h1v1h-1zM32 47h1v1h-1zM30 48h1v1h-1zM33 49h1v1h-1zM32 50h1v1h-1zM30 51h1v1h-1zM33 51h1v1h-1zM30 52h1v1h-1zM31 55h1v1h-1zM19 57h2v1h-2zM19 58h1v1h-1zM19 60h1v1h-1zM27 60h1v1h-1zM30 61h1v1h-1zM25 62h1v1h-1zM26 64h1v1h-1zM24 65h1v1h-1zM27 67h1v1h-1zM24 68h1v1h-1zM19 70h1v1h-1zM18 71h1v1h-1zM22 71h1v1h-1zM24 72h1v1h-1zM30 72h1v1h-1zM18 74h2v1h-2zM19 75h1v1h-1zM21 76h3v1h-3zM21 77h3v1h-3zM26 77h2v1h-2zM21 78h1v1h-1zM31 80h1v1h-1zM27 81h2v1h-2zM32 81h1v1h-1zM22 82h1v1h-1zM26 83h2v1h-2zM19 84h1v1h-1zM26 84h1v1h-1zM30 84h1v1h-1zM23 85h1v1h-1zM25 85h1v1h-1zM23 86h1v1h-1zM28 86h1v1h-1z"/>
<path fill="#ffba00" d="M29 44h1v1h-1zM31 44h1v1h-1zM30 45h1v1h-1zM30 47h1v1h-1zM25 65h1v1h-1zM30 68h1v1h-1zM25 71h1v1h-1zM22 72h1v1h-1zM24 85h1v1h-1zM23 87h1v1h-1z"/>
<path fill="#ffa000" d="M30 56h1v1h-1z"/>
</g>
<rect x="29.2" y="389.5" width="236.70" height="236.60" fill="none" stroke="#4a4a4a" stroke-width="0.7"/>
<line x1="265.9" y1="391.8" x2="267.9" y2="391.8" stroke="#808080" stroke-width="0.6"/>
<text x="269.3" y="394.8" font-size="8.6" text-anchor="start">2000</text>
<line x1="265.9" y1="413.3" x2="267.9" y2="413.3" stroke="#808080" stroke-width="0.6"/>
<text x="269.3" y="416.3" font-size="8.6" text-anchor="start">2001</text>
<line x1="265.9" y1="434.8" x2="267.9" y2="434.8" stroke="#808080" stroke-width="0.6"/>
<text x="269.3" y="437.8" font-size="8.6" text-anchor="start">2002</text>
<line x1="265.9" y1="456.3" x2="267.9" y2="456.3" stroke="#808080" stroke-width="0.6"/>
<text x="269.3" y="459.3" font-size="8.6" text-anchor="start">2003</text>
<line x1="265.9" y1="477.8" x2="267.9" y2="477.8" stroke="#808080" stroke-width="0.6"/>
<text x="269.3" y="480.8" font-size="8.6" text-anchor="start">2004</text>
<line x1="265.9" y1="499.3" x2="267.9" y2="499.3" stroke="#808080" stroke-width="0.6"/>
<text x="269.3" y="502.3" font-size="8.6" text-anchor="start">2005</text>
<line x1="265.9" y1="520.9" x2="267.9" y2="520.9" stroke="#808080" stroke-width="0.6"/>
<text x="269.3" y="523.9" font-size="8.6" text-anchor="start">2006</text>
<line x1="265.9" y1="542.4" x2="267.9" y2="542.4" stroke="#808080" stroke-width="0.6"/>
<text x="269.3" y="545.4" font-size="8.6" text-anchor="start">2007</text>
<line x1="265.9" y1="563.9" x2="267.9" y2="563.9" stroke="#808080" stroke-width="0.6"/>
<text x="269.3" y="566.9" font-size="8.6" text-anchor="start">2008</text>
<line x1="265.9" y1="585.4" x2="267.9" y2="585.4" stroke="#808080" stroke-width="0.6"/>
<text x="269.3" y="588.4" font-size="8.6" text-anchor="start">2009</text>
<line x1="265.9" y1="606.9" x2="267.9" y2="606.9" stroke="#808080" stroke-width="0.6"/>
<text x="269.3" y="609.9" font-size="8.6" text-anchor="start">2010</text>
<rect x="289.5" y="389.5" width="61.70" height="236.50" fill="#fff" stroke="#808080" stroke-width="1"/>
<text x="289.5" y="637.0" font-size="9.3" text-anchor="middle">265</text>
<line x1="314.6" y1="389.5" x2="314.6" y2="391.5" stroke="#808080" stroke-width="0.6"/>
<line x1="314.6" y1="626.0" x2="314.6" y2="624.0" stroke="#808080" stroke-width="0.6"/>
<text x="314.6" y="637.0" font-size="9.3" text-anchor="middle">280</text>
<line x1="339.6" y1="389.5" x2="339.6" y2="391.5" stroke="#808080" stroke-width="0.6"/>
<line x1="339.6" y1="626.0" x2="339.6" y2="624.0" stroke="#808080" stroke-width="0.6"/>
<text x="339.6" y="637.0" font-size="9.3" text-anchor="middle">295</text>
<text x="320.0" y="645.8" font-size="9.3" text-anchor="middle">LST (K)</text>
<svg x="289.5" y="389.5" width="61.70" height="236.50" viewBox="289.5 389.5 61.70 236.50" overflow="hidden">
<path d="M327.1 400.5H310.0M343.4 400.5H347.8" stroke="#1a9a3a" stroke-width="1.3" stroke-dasharray="6.5 2.5" fill="none"/>
<path d="M310.0 399.6V401.4M347.8 399.6V401.4" stroke="#1a9a3a" stroke-width="1.3" fill="none"/>
<rect x="327.1" y="398.1" width="16.4" height="4.8" fill="none" stroke="#1a9a3a" stroke-width="1.2"/>
<line x1="337.4" y1="398.1" x2="337.4" y2="402.9" stroke="#1a9a3a" stroke-width="1.2"/>
<path d="M327.6 405.7H305.4M343.3 405.7H351.3" stroke="#d62728" stroke-width="1.3" stroke-dasharray="6.5 2.5" fill="none"/>
<path d="M305.4 404.8V406.6M351.3 404.8V406.6" stroke="#d62728" stroke-width="1.3" fill="none"/>
<rect x="327.6" y="403.3" width="15.7" height="4.8" fill="none" stroke="#d62728" stroke-width="1.2"/>
<line x1="337.4" y1="403.3" x2="337.4" y2="408.1" stroke="#d62728" stroke-width="1.2"/>
<path d="M321.1 422.0H308.7M341.6 422.0H345.6" stroke="#1a9a3a" stroke-width="1.3" stroke-dasharray="6.5 2.5" fill="none"/>
<path d="M308.7 421.1V422.9M345.6 421.1V422.9" stroke="#1a9a3a" stroke-width="1.3" fill="none"/>
<rect x="321.1" y="419.6" width="20.5" height="4.8" fill="none" stroke="#1a9a3a" stroke-width="1.2"/>
<line x1="330.9" y1="419.6" x2="330.9" y2="424.4" stroke="#1a9a3a" stroke-width="1.2"/>
<path d="M321.9 427.2H294.8M339.9 427.2H348.5" stroke="#d62728" stroke-width="1.3" stroke-dasharray="6.5 2.5" fill="none"/>
<path d="M294.8 426.3V428.1M348.5 426.3V428.1" stroke="#d62728" stroke-width="1.3" fill="none"/>
<rect x="321.9" y="424.8" width="18.0" height="4.8" fill="none" stroke="#d62728" stroke-width="1.2"/>
<line x1="331.4" y1="424.8" x2="331.4" y2="429.6" stroke="#d62728" stroke-width="1.2"/>
<path d="M318.9 443.5H307.4M342.4 443.5H344.8" stroke="#1a9a3a" stroke-width="1.3" stroke-dasharray="6.5 2.5" fill="none"/>
<path d="M307.4 442.6V444.4M344.8 442.6V444.4" stroke="#1a9a3a" stroke-width="1.3" fill="none"/>
<rect x="318.9" y="441.1" width="23.5" height="4.8" fill="none" stroke="#1a9a3a" stroke-width="1.2"/>
<line x1="333.1" y1="441.1" x2="333.1" y2="445.9" stroke="#1a9a3a" stroke-width="1.2"/>
<path d="M321.1 448.7H298.9M341.6 448.7H348.1" stroke="#d62728" stroke-width="1.3" stroke-dasharray="6.5 2.5" fill="none"/>
<path d="M298.9 447.8V449.6M348.1 447.8V449.6" stroke="#d62728" stroke-width="1.3" fill="none"/>
<rect x="321.1" y="446.3" width="20.5" height="4.8" fill="none" stroke="#d62728" stroke-width="1.2"/>
<line x1="334.9" y1="446.3" x2="334.9" y2="451.1" stroke="#d62728" stroke-width="1.2"/>
<path d="M319.4 465.0H308.4M340.8 465.0H345.1" stroke="#1a9a3a" stroke-width="1.3" stroke-dasharray="6.5 2.5" fill="none"/>
<path d="M308.4 464.1V465.9M345.1 464.1V465.9" stroke="#1a9a3a" stroke-width="1.3" fill="none"/>
<rect x="319.4" y="462.6" width="21.4" height="4.8" fill="none" stroke="#1a9a3a" stroke-width="1.2"/>
<line x1="330.9" y1="462.6" x2="330.9" y2="467.4" stroke="#1a9a3a" stroke-width="1.2"/>
<path d="M319.9 470.2H302.2M339.9 470.2H350.6" stroke="#d62728" stroke-width="1.3" stroke-dasharray="6.5 2.5" fill="none"/>
<path d="M302.2 469.3V471.1M350.6 469.3V471.1" stroke="#d62728" stroke-width="1.3" fill="none"/>
<rect x="319.9" y="467.8" width="20.0" height="4.8" fill="none" stroke="#d62728" stroke-width="1.2"/>
<line x1="332.6" y1="467.8" x2="332.6" y2="472.6" stroke="#d62728" stroke-width="1.2"/>
<path d="M318.9 486.5H308.7M341.6 486.5H344.8" stroke="#1a9a3a" stroke-width="1.3" stroke-dasharray="6.5 2.5" fill="none"/>
<path d="M308.7 485.6V487.4M344.8 485.6V487.4" stroke="#1a9a3a" stroke-width="1.3" fill="none"/>
<rect x="318.9" y="484.1" width="22.7" height="4.8" fill="none" stroke="#1a9a3a" stroke-width="1.2"/>
<line x1="333.1" y1="484.1" x2="333.1" y2="488.9" stroke="#1a9a3a" stroke-width="1.2"/>
<path d="M323.9 491.7H302.2M340.8 491.7H349.0" stroke="#d62728" stroke-width="1.3" stroke-dasharray="6.5 2.5" fill="none"/>
<path d="M302.2 490.8V492.6M349.0 490.8V492.6" stroke="#d62728" stroke-width="1.3" fill="none"/>
<rect x="323.9" y="489.3" width="16.9" height="4.8" fill="none" stroke="#d62728" stroke-width="1.2"/>
<line x1="336.3" y1="489.3" x2="336.3" y2="494.1" stroke="#d62728" stroke-width="1.2"/>
<path d="M294.6 491.7h3.4M296.3 490.0v3.4" stroke="#d62728" stroke-width="0.9"/>
<path d="M322.7 508.0H312.2M342.6 508.0H346.6" stroke="#1a9a3a" stroke-width="1.3" stroke-dasharray="6.5 2.5" fill="none"/>
<path d="M312.2 507.1V508.9M346.6 507.1V508.9" stroke="#1a9a3a" stroke-width="1.3" fill="none"/>
<rect x="322.7" y="505.6" width="19.9" height="4.8" fill="none" stroke="#1a9a3a" stroke-width="1.2"/>
<line x1="331.9" y1="505.6" x2="331.9" y2="510.4" stroke="#1a9a3a" stroke-width="1.2"/>
<path d="M323.2 513.2H303.0M342.9 513.2H350.0" stroke="#d62728" stroke-width="1.3" stroke-dasharray="6.5 2.5" fill="none"/>
<path d="M303.0 512.3V514.1M350.0 512.3V514.1" stroke="#d62728" stroke-width="1.3" fill="none"/>
<rect x="323.2" y="510.8" width="19.7" height="4.8" fill="none" stroke="#d62728" stroke-width="1.2"/>
<line x1="335.3" y1="510.8" x2="335.3" y2="515.6" stroke="#d62728" stroke-width="1.2"/>
<path d="M319.1 529.5H308.0M341.6 529.5H344.8" stroke="#1a9a3a" stroke-width="1.3" stroke-dasharray="6.5 2.5" fill="none"/>
<path d="M308.0 528.6V530.4M344.8 528.6V530.4" stroke="#1a9a3a" stroke-width="1.3" fill="none"/>
<rect x="319.1" y="527.1" width="22.5" height="4.8" fill="none" stroke="#1a9a3a" stroke-width="1.2"/>
<line x1="331.2" y1="527.1" x2="331.2" y2="531.9" stroke="#1a9a3a" stroke-width="1.2"/>
<path d="M323.7 534.7H304.4M341.6 534.7H348.1" stroke="#d62728" stroke-width="1.3" stroke-dasharray="6.5 2.5" fill="none"/>
<path d="M304.4 533.8V535.6M348.1 533.8V535.6" stroke="#d62728" stroke-width="1.3" fill="none"/>
<rect x="323.7" y="532.3" width="17.9" height="4.8" fill="none" stroke="#d62728" stroke-width="1.2"/>
<line x1="332.9" y1="532.3" x2="332.9" y2="537.1" stroke="#d62728" stroke-width="1.2"/>
<path d="M317.7 551.0H309.0M341.6 551.0H347.8" stroke="#1a9a3a" stroke-width="1.3" stroke-dasharray="6.5 2.5" fill="none"/>
<path d="M309.0 550.1V551.9M347.8 550.1V551.9" stroke="#1a9a3a" stroke-width="1.3" fill="none"/>
<rect x="317.7" y="548.6" width="23.9" height="4.8" fill="none" stroke="#1a9a3a" stroke-width="1.2"/>
<line x1="334.3" y1="548.6" x2="334.3" y2="553.4" stroke="#1a9a3a" stroke-width="1.2"/>
<path d="M321.4 556.2H300.7M340.8 556.2H349.0" stroke="#d62728" stroke-width="1.3" stroke-dasharray="6.5 2.5" fill="none"/>
<path d="M300.7 555.3V557.1M349.0 555.3V557.1" stroke="#d62728" stroke-width="1.3" fill="none"/>
<rect x="321.4" y="553.8" width="19.4" height="4.8" fill="none" stroke="#d62728" stroke-width="1.2"/>
<line x1="333.4" y1="553.8" x2="333.4" y2="558.6" stroke="#d62728" stroke-width="1.2"/>
<path d="M288.5 556.2h3.4M290.2 554.5v3.4" stroke="#d62728" stroke-width="0.9"/>
<path d="M320.1 572.5H306.7M342.1 572.5H345.8" stroke="#1a9a3a" stroke-width="1.3" stroke-dasharray="6.5 2.5" fill="none"/>
<path d="M306.7 571.6V573.4M345.8 571.6V573.4" stroke="#1a9a3a" stroke-width="1.3" fill="none"/>
<rect x="320.1" y="570.1" width="22.0" height="4.8" fill="none" stroke="#1a9a3a" stroke-width="1.2"/>
<line x1="328.7" y1="570.1" x2="328.7" y2="574.9" stroke="#1a9a3a" stroke-width="1.2"/>
<path d="M321.4 577.7H297.5M341.1 577.7H348.5" stroke="#d62728" stroke-width="1.3" stroke-dasharray="6.5 2.5" fill="none"/>
<path d="M297.5 576.8V578.6M348.5 576.8V578.6" stroke="#d62728" stroke-width="1.3" fill="none"/>
<rect x="321.4" y="575.3" width="19.7" height="4.8" fill="none" stroke="#d62728" stroke-width="1.2"/>
<line x1="332.4" y1="575.3" x2="332.4" y2="580.1" stroke="#d62728" stroke-width="1.2"/>
<path d="M318.7 594.0H308.5M342.6 594.0H346.6" stroke="#1a9a3a" stroke-width="1.3" stroke-dasharray="6.5 2.5" fill="none"/>
<path d="M308.5 593.1V594.9M346.6 593.1V594.9" stroke="#1a9a3a" stroke-width="1.3" fill="none"/>
<rect x="318.7" y="591.6" width="23.9" height="4.8" fill="none" stroke="#1a9a3a" stroke-width="1.2"/>
<line x1="332.4" y1="591.6" x2="332.4" y2="596.4" stroke="#1a9a3a" stroke-width="1.2"/>
<path d="M320.9 599.2H296.5M341.6 599.2H348.5" stroke="#d62728" stroke-width="1.3" stroke-dasharray="6.5 2.5" fill="none"/>
<path d="M296.5 598.3V600.1M348.5 598.3V600.1" stroke="#d62728" stroke-width="1.3" fill="none"/>
<rect x="320.9" y="596.8" width="20.7" height="4.8" fill="none" stroke="#d62728" stroke-width="1.2"/>
<line x1="332.4" y1="596.8" x2="332.4" y2="601.6" stroke="#d62728" stroke-width="1.2"/>
<path d="M285.6 599.2h3.4M287.3 597.5v3.4" stroke="#d62728" stroke-width="0.9"/>
<path d="M317.7 615.5H300.7M343.4 615.5H347.8" stroke="#1a9a3a" stroke-width="1.3" stroke-dasharray="6.5 2.5" fill="none"/>
<path d="M300.7 614.6V616.4M347.8 614.6V616.4" stroke="#1a9a3a" stroke-width="1.3" fill="none"/>
<rect x="317.7" y="613.1" width="25.7" height="4.8" fill="none" stroke="#1a9a3a" stroke-width="1.2"/>
<line x1="331.6" y1="613.1" x2="331.6" y2="617.9" stroke="#1a9a3a" stroke-width="1.2"/>
<path d="M318.2 620.7H290.2M342.9 620.7H350.8" stroke="#d62728" stroke-width="1.3" stroke-dasharray="6.5 2.5" fill="none"/>
<path d="M290.2 619.8V621.6M350.8 619.8V621.6" stroke="#d62728" stroke-width="1.3" fill="none"/>
<rect x="318.2" y="618.3" width="24.7" height="4.8" fill="none" stroke="#d62728" stroke-width="1.2"/>
<line x1="332.9" y1="618.3" x2="332.9" y2="623.1" stroke="#d62728" stroke-width="1.2"/>
</svg>
<rect x="30.3" y="631.9" width="234.00" height="51.30" fill="#fff" stroke="#808080" stroke-width="1"/>
<line x1="30.3" y1="683.2" x2="32.3" y2="683.2" stroke="#808080" stroke-width="0.6"/>
<line x1="264.3" y1="683.2" x2="262.3" y2="683.2" stroke="#808080" stroke-width="0.6"/>
<text x="28.1" y="686.4" font-size="9.3" text-anchor="end">270</text>
<line x1="30.3" y1="670.4" x2="32.3" y2="670.4" stroke="#808080" stroke-width="0.6"/>
<line x1="264.3" y1="670.4" x2="262.3" y2="670.4" stroke="#808080" stroke-width="0.6"/>
<text x="28.1" y="673.6" font-size="9.3" text-anchor="end">280</text>
<line x1="30.3" y1="657.5" x2="32.3" y2="657.5" stroke="#808080" stroke-width="0.6"/>
<line x1="264.3" y1="657.5" x2="262.3" y2="657.5" stroke="#808080" stroke-width="0.6"/>
<text x="28.1" y="660.8" font-size="9.3" text-anchor="end">290</text>
<line x1="30.3" y1="644.7" x2="32.3" y2="644.7" stroke="#808080" stroke-width="0.6"/>
<line x1="264.3" y1="644.7" x2="262.3" y2="644.7" stroke="#808080" stroke-width="0.6"/>
<text x="28.1" y="647.9" font-size="9.3" text-anchor="end">300</text>
<line x1="33.0" y1="631.9" x2="33.0" y2="633.9" stroke="#808080" stroke-width="0.6"/>
<line x1="33.0" y1="683.2" x2="33.0" y2="681.2" stroke="#808080" stroke-width="0.6"/>
<text x="33.0" y="693.7" font-size="9.3" text-anchor="middle">1</text>
<line x1="48.6" y1="631.9" x2="48.6" y2="633.9" stroke="#808080" stroke-width="0.6"/>
<line x1="48.6" y1="683.2" x2="48.6" y2="681.2" stroke="#808080" stroke-width="0.6"/>
<text x="48.6" y="693.7" font-size="9.3" text-anchor="middle">4</text>
<line x1="64.2" y1="631.9" x2="64.2" y2="633.9" stroke="#808080" stroke-width="0.6"/>
<line x1="64.2" y1="683.2" x2="64.2" y2="681.2" stroke="#808080" stroke-width="0.6"/>
<text x="64.2" y="693.7" font-size="9.3" text-anchor="middle">7</text>
<line x1="79.8" y1="631.9" x2="79.8" y2="633.9" stroke="#808080" stroke-width="0.6"/>
<line x1="79.8" y1="683.2" x2="79.8" y2="681.2" stroke="#808080" stroke-width="0.6"/>
<text x="79.8" y="693.7" font-size="9.3" text-anchor="middle">10</text>
<line x1="95.4" y1="631.9" x2="95.4" y2="633.9" stroke="#808080" stroke-width="0.6"/>
<line x1="95.4" y1="683.2" x2="95.4" y2="681.2" stroke="#808080" stroke-width="0.6"/>
<text x="95.4" y="693.7" font-size="9.3" text-anchor="middle">13</text>
<line x1="111.0" y1="631.9" x2="111.0" y2="633.9" stroke="#808080" stroke-width="0.6"/>
<line x1="111.0" y1="683.2" x2="111.0" y2="681.2" stroke="#808080" stroke-width="0.6"/>
<text x="111.0" y="693.7" font-size="9.3" text-anchor="middle">16</text>
<line x1="126.6" y1="631.9" x2="126.6" y2="633.9" stroke="#808080" stroke-width="0.6"/>
<line x1="126.6" y1="683.2" x2="126.6" y2="681.2" stroke="#808080" stroke-width="0.6"/>
<text x="126.6" y="693.7" font-size="9.3" text-anchor="middle">19</text>
<line x1="142.2" y1="631.9" x2="142.2" y2="633.9" stroke="#808080" stroke-width="0.6"/>
<line x1="142.2" y1="683.2" x2="142.2" y2="681.2" stroke="#808080" stroke-width="0.6"/>
<text x="142.2" y="693.7" font-size="9.3" text-anchor="middle">22</text>
<line x1="157.8" y1="631.9" x2="157.8" y2="633.9" stroke="#808080" stroke-width="0.6"/>
<line x1="157.8" y1="683.2" x2="157.8" y2="681.2" stroke="#808080" stroke-width="0.6"/>
<text x="157.8" y="693.7" font-size="9.3" text-anchor="middle">25</text>
<line x1="173.4" y1="631.9" x2="173.4" y2="633.9" stroke="#808080" stroke-width="0.6"/>
<line x1="173.4" y1="683.2" x2="173.4" y2="681.2" stroke="#808080" stroke-width="0.6"/>
<text x="173.4" y="693.7" font-size="9.3" text-anchor="middle">28</text>
<line x1="189.0" y1="631.9" x2="189.0" y2="633.9" stroke="#808080" stroke-width="0.6"/>
<line x1="189.0" y1="683.2" x2="189.0" y2="681.2" stroke="#808080" stroke-width="0.6"/>
<text x="189.0" y="693.7" font-size="9.3" text-anchor="middle">31</text>
<line x1="204.6" y1="631.9" x2="204.6" y2="633.9" stroke="#808080" stroke-width="0.6"/>
<line x1="204.6" y1="683.2" x2="204.6" y2="681.2" stroke="#808080" stroke-width="0.6"/>
<text x="204.6" y="693.7" font-size="9.3" text-anchor="middle">34</text>
<line x1="220.2" y1="631.9" x2="220.2" y2="633.9" stroke="#808080" stroke-width="0.6"/>
<line x1="220.2" y1="683.2" x2="220.2" y2="681.2" stroke="#808080" stroke-width="0.6"/>
<text x="220.2" y="693.7" font-size="9.3" text-anchor="middle">37</text>
<line x1="235.8" y1="631.9" x2="235.8" y2="633.9" stroke="#808080" stroke-width="0.6"/>
<line x1="235.8" y1="683.2" x2="235.8" y2="681.2" stroke="#808080" stroke-width="0.6"/>
<text x="235.8" y="693.7" font-size="9.3" text-anchor="middle">40</text>
<line x1="251.4" y1="631.9" x2="251.4" y2="633.9" stroke="#808080" stroke-width="0.6"/>
<line x1="251.4" y1="683.2" x2="251.4" y2="681.2" stroke="#808080" stroke-width="0.6"/>
<text x="251.4" y="693.7" font-size="9.3" text-anchor="middle">43</text>
<text x="146.5" y="703.4" font-size="9.3" text-anchor="middle">8–Day Period of Year</text>
<text x="6.2" y="657.5" font-size="9.3" text-anchor="middle" transform="rotate(-90 6.2 657.5)" dy="3.2">LST (K)</text>
<svg x="30.3" y="631.9" width="234.00" height="51.30" viewBox="30.3 631.9 234.00 51.30" overflow="hidden">
<path d="M33.0 677.9V669.3M38.2 677.9V669.3M43.4 677.9V669.3M48.6 676.3V667.7M53.8 676.3V667.7M59.0 676.7V668.1M64.2 673.6V665.0M69.4 674.7V666.1M74.6 670.2V661.7M79.8 670.0V661.4M85.0 669.0V660.4M90.2 667.9V659.3M95.4 666.4V657.8M100.6 665.2V656.7M105.8 663.2V654.6M111.0 660.5V651.9M116.2 659.2V650.6M121.4 658.4V649.9M126.6 656.7V648.1M131.8 655.5V646.9M137.0 655.0V646.4M142.2 655.0V646.4M147.4 655.5V646.9M152.6 654.9V646.3M157.8 654.9V646.3M163.0 655.1V646.5M168.2 654.3V645.8M173.4 654.3V645.8M178.6 654.1V645.5M183.8 654.3V645.8M189.0 654.9V646.3M194.2 656.0V647.4M199.4 656.8V648.2M204.6 658.4V649.9M209.8 659.7V651.1M215.0 662.0V653.4M220.2 663.8V655.2M225.4 665.9V657.3M230.6 666.7V658.1M235.8 667.2V658.6M241.0 671.7V663.1M246.2 673.7V665.1M251.4 675.8V667.2M256.6 675.8V667.2M261.8 675.8V667.2" stroke="#d62728" stroke-width="1.4" fill="none"/>
<path d="M33.0 672.6L38.2 672.6L43.4 672.6L48.6 670.9L53.8 670.9L59.0 671.3L64.2 668.2L69.4 669.3L74.6 664.9L79.8 664.6L85.0 663.6L90.2 662.6L95.4 661.0L100.6 659.9L105.8 657.8L111.0 655.1L116.2 653.8L121.4 653.1L126.6 651.3L131.8 650.1L137.0 649.6L142.2 649.6L147.4 650.1L152.6 649.5L157.8 649.5L163.0 649.7L168.2 649.0L173.4 649.0L178.6 648.7L183.8 649.0L189.0 649.5L194.2 650.6L199.4 651.4L204.6 653.1L209.8 654.3L215.0 656.7L220.2 658.4L225.4 660.5L230.6 661.3L235.8 661.8L241.0 666.3L246.2 668.3L251.4 670.4L256.6 670.4L261.8 670.4" stroke="#d62728" stroke-width="1.6" fill="none"/>
<circle cx="33.0" cy="672.6" r="2.3" fill="#d62728"/><circle cx="38.2" cy="672.6" r="2.3" fill="#d62728"/><circle cx="43.4" cy="672.6" r="2.3" fill="#d62728"/><circle cx="48.6" cy="670.9" r="2.3" fill="#d62728"/><circle cx="53.8" cy="670.9" r="2.3" fill="#d62728"/><circle cx="59.0" cy="671.3" r="2.3" fill="#d62728"/><circle cx="64.2" cy="668.2" r="2.3" fill="#d62728"/><circle cx="69.4" cy="669.3" r="2.3" fill="#d62728"/><circle cx="74.6" cy="664.9" r="2.3" fill="#d62728"/><circle cx="79.8" cy="664.6" r="2.3" fill="#d62728"/><circle cx="85.0" cy="663.6" r="2.3" fill="#d62728"/><circle cx="90.2" cy="662.6" r="2.3" fill="#d62728"/><circle cx="95.4" cy="661.0" r="2.3" fill="#d62728"/><circle cx="100.6" cy="659.9" r="2.3" fill="#d62728"/><circle cx="105.8" cy="657.8" r="2.3" fill="#d62728"/><circle cx="111.0" cy="655.1" r="2.3" fill="#d62728"/><circle cx="116.2" cy="653.8" r="2.3" fill="#d62728"/><circle cx="121.4" cy="653.1" r="2.3" fill="#d62728"/><circle cx="126.6" cy="651.3" r="2.3" fill="#d62728"/><circle cx="131.8" cy="650.1" r="2.3" fill="#d62728"/><circle cx="137.0" cy="649.6" r="2.3" fill="#d62728"/><circle cx="142.2" cy="649.6" r="2.3" fill="#d62728"/><circle cx="147.4" cy="650.1" r="2.3" fill="#d62728"/><circle cx="152.6" cy="649.5" r="2.3" fill="#d62728"/><circle cx="157.8" cy="649.5" r="2.3" fill="#d62728"/><circle cx="163.0" cy="649.7" r="2.3" fill="#d62728"/><circle cx="168.2" cy="649.0" r="2.3" fill="#d62728"/><circle cx="173.4" cy="649.0" r="2.3" fill="#d62728"/><circle cx="178.6" cy="648.7" r="2.3" fill="#d62728"/><circle cx="183.8" cy="649.0" r="2.3" fill="#d62728"/><circle cx="189.0" cy="649.5" r="2.3" fill="#d62728"/><circle cx="194.2" cy="650.6" r="2.3" fill="#d62728"/><circle cx="199.4" cy="651.4" r="2.3" fill="#d62728"/><circle cx="204.6" cy="653.1" r="2.3" fill="#d62728"/><circle cx="209.8" cy="654.3" r="2.3" fill="#d62728"/><circle cx="215.0" cy="656.7" r="2.3" fill="#d62728"/><circle cx="220.2" cy="658.4" r="2.3" fill="#d62728"/><circle cx="225.4" cy="660.5" r="2.3" fill="#d62728"/><circle cx="230.6" cy="661.3" r="2.3" fill="#d62728"/><circle cx="235.8" cy="661.8" r="2.3" fill="#d62728"/><circle cx="241.0" cy="666.3" r="2.3" fill="#d62728"/><circle cx="246.2" cy="668.3" r="2.3" fill="#d62728"/><circle cx="251.4" cy="670.4" r="2.3" fill="#d62728"/><circle cx="256.6" cy="670.4" r="2.3" fill="#d62728"/><circle cx="261.8" cy="670.4" r="2.3" fill="#d62728"/>
<path d="M33.0 674.6V668.2M38.2 674.6V668.2M43.4 674.6V668.2M48.6 672.9V666.5M53.8 672.9V666.5M59.0 673.3V666.9M64.2 670.2V663.8M69.4 671.4V665.0M74.6 666.9V660.5M79.8 666.7V660.2M85.0 665.6V659.2M90.2 664.6V658.2M95.4 663.1V656.7M100.6 661.9V655.5M105.8 659.9V653.4M111.0 657.2V650.8M116.2 655.9V649.5M121.4 655.1V648.7M126.6 653.3V646.9M131.8 652.2V645.8M137.0 651.7V645.2M142.2 651.7V645.2M147.4 652.2V645.8M152.6 651.5V645.1M157.8 651.5V645.1M163.0 651.8V645.4M168.2 651.0V644.6M173.4 651.0V644.6M178.6 650.8V644.3M183.8 651.0V644.6M189.0 651.5V645.1M194.2 652.7V646.3M199.4 653.4V647.0M204.6 655.1V648.7M209.8 656.4V650.0M215.0 658.7V652.3M220.2 660.5V654.1M225.4 662.6V656.1M230.6 663.3V656.9M235.8 663.8V657.4M241.0 668.3V661.9M246.2 670.4V664.0M251.4 672.4V666.0M256.6 672.4V666.0M261.8 672.4V666.0" stroke="#1a9a3a" stroke-width="1.4" fill="none"/>
<path d="M33.0 671.4L38.2 671.4L43.4 671.4L48.6 669.7L53.8 669.7L59.0 670.1L64.2 667.0L69.4 668.2L74.6 663.7L79.8 663.4L85.0 662.4L90.2 661.4L95.4 659.9L100.6 658.7L105.8 656.7L111.0 654.0L116.2 652.7L121.4 651.9L126.6 650.1L131.8 649.0L137.0 648.4L142.2 648.4L147.4 649.0L152.6 648.3L157.8 648.3L163.0 648.6L168.2 647.8L173.4 647.8L178.6 647.5L183.8 647.8L189.0 648.3L194.2 649.5L199.4 650.2L204.6 651.9L209.8 653.2L215.0 655.5L220.2 657.3L225.4 659.3L230.6 660.1L235.8 660.6L241.0 665.1L246.2 667.2L251.4 669.2L256.6 669.2L261.8 669.2" stroke="#1a9a3a" stroke-width="1.6" fill="none"/>
<rect x="30.8" y="669.2" width="4.4" height="4.4" fill="#1a9a3a"/><rect x="36.0" y="669.2" width="4.4" height="4.4" fill="#1a9a3a"/><rect x="41.2" y="669.2" width="4.4" height="4.4" fill="#1a9a3a"/><rect x="46.4" y="667.5" width="4.4" height="4.4" fill="#1a9a3a"/><rect x="51.6" y="667.5" width="4.4" height="4.4" fill="#1a9a3a"/><rect x="56.8" y="667.9" width="4.4" height="4.4" fill="#1a9a3a"/><rect x="62.0" y="664.8" width="4.4" height="4.4" fill="#1a9a3a"/><rect x="67.2" y="666.0" width="4.4" height="4.4" fill="#1a9a3a"/><rect x="72.4" y="661.5" width="4.4" height="4.4" fill="#1a9a3a"/><rect x="77.6" y="661.2" width="4.4" height="4.4" fill="#1a9a3a"/><rect x="82.8" y="660.2" width="4.4" height="4.4" fill="#1a9a3a"/><rect x="88.0" y="659.2" width="4.4" height="4.4" fill="#1a9a3a"/><rect x="93.2" y="657.7" width="4.4" height="4.4" fill="#1a9a3a"/><rect x="98.4" y="656.5" width="4.4" height="4.4" fill="#1a9a3a"/><rect x="103.6" y="654.5" width="4.4" height="4.4" fill="#1a9a3a"/><rect x="108.8" y="651.8" width="4.4" height="4.4" fill="#1a9a3a"/><rect x="114.0" y="650.5" width="4.4" height="4.4" fill="#1a9a3a"/><rect x="119.2" y="649.7" width="4.4" height="4.4" fill="#1a9a3a"/><rect x="124.4" y="647.9" width="4.4" height="4.4" fill="#1a9a3a"/><rect x="129.6" y="646.8" width="4.4" height="4.4" fill="#1a9a3a"/><rect x="134.8" y="646.2" width="4.4" height="4.4" fill="#1a9a3a"/><rect x="140.0" y="646.2" width="4.4" height="4.4" fill="#1a9a3a"/><rect x="145.2" y="646.8" width="4.4" height="4.4" fill="#1a9a3a"/><rect x="150.4" y="646.1" width="4.4" height="4.4" fill="#1a9a3a"/><rect x="155.6" y="646.1" width="4.4" height="4.4" fill="#1a9a3a"/><rect x="160.8" y="646.4" width="4.4" height="4.4" fill="#1a9a3a"/><rect x="166.0" y="645.6" width="4.4" height="4.4" fill="#1a9a3a"/><rect x="171.2" y="645.6" width="4.4" height="4.4" fill="#1a9a3a"/><rect x="176.4" y="645.3" width="4.4" height="4.4" fill="#1a9a3a"/><rect x="181.6" y="645.6" width="4.4" height="4.4" fill="#1a9a3a"/><rect x="186.8" y="646.1" width="4.4" height="4.4" fill="#1a9a3a"/><rect x="192.0" y="647.3" width="4.4" height="4.4" fill="#1a9a3a"/><rect x="197.2" y="648.0" width="4.4" height="4.4" fill="#1a9a3a"/><rect x="202.4" y="649.7" width="4.4" height="4.4" fill="#1a9a3a"/><rect x="207.6" y="651.0" width="4.4" height="4.4" fill="#1a9a3a"/><rect x="212.8" y="653.3" width="4.4" height="4.4" fill="#1a9a3a"/><rect x="218.0" y="655.1" width="4.4" height="4.4" fill="#1a9a3a"/><rect x="223.2" y="657.1" width="4.4" height="4.4" fill="#1a9a3a"/><rect x="228.4" y="657.9" width="4.4" height="4.4" fill="#1a9a3a"/><rect x="233.6" y="658.4" width="4.4" height="4.4" fill="#1a9a3a"/><rect x="238.8" y="662.9" width="4.4" height="4.4" fill="#1a9a3a"/><rect x="244.0" y="665.0" width="4.4" height="4.4" fill="#1a9a3a"/><rect x="249.2" y="667.0" width="4.4" height="4.4" fill="#1a9a3a"/><rect x="254.4" y="667.0" width="4.4" height="4.4" fill="#1a9a3a"/><rect x="259.6" y="667.0" width="4.4" height="4.4" fill="#1a9a3a"/>
</svg>
<text x="422.3" y="377.0" font-size="18.95" text-anchor="start">d)</text>
<text x="442.5" y="377.0" font-size="18.95" text-anchor="start">Nighttime, Non Houston Urban</text>
<rect x="404.2" y="394.0" width="4.70" height="227.70" fill="url(#jetg)"/>
<rect x="404.2" y="394.0" width="4.70" height="227.70" fill="none" stroke="#555" stroke-width="0.4"/>
<text x="402.4" y="397.2" font-size="9.3" text-anchor="end">320</text>
<text x="402.4" y="435.1" font-size="9.3" text-anchor="end">310</text>
<text x="402.4" y="473.1" font-size="9.3" text-anchor="end">300</text>
<text x="402.4" y="511.1" font-size="9.3" text-anchor="end">290</text>
<text x="402.4" y="549.0" font-size="9.3" text-anchor="end">280</text>
<text x="402.4" y="587.0" font-size="9.3" text-anchor="end">270</text>
<text x="402.4" y="624.9" font-size="9.3" text-anchor="end">260</text>
<path d="M404.2 431.9h1.3M408.9 431.9h-1.3M404.2 469.9h1.3M408.9 469.9h-1.3M404.2 507.9h1.3M408.9 507.9h-1.3M404.2 545.8h1.3M408.9 545.8h-1.3M404.2 583.8h1.3M408.9 583.8h-1.3" stroke="#333" stroke-width="0.7"/>
<rect x="410.3" y="389.7" width="236.10" height="236.30" fill="#000"/>
<g transform="translate(410.3 389.7) scale(5.2467 2.6852)" shape-rendering="crispEdges">
<path fill="#0000ce" d="M42 73h1v1h-1z"/>
<path fill="#0038ff" d="M1 79h1v1h-1z"/>
<path fill="#0052ff" d="M0 17h1v1h-1zM3 33h1v1h-1zM0 47h2v1h-2zM0 56h1v1h-1zM1 62h1v1h-1zM2 70h1v1h-1zM3 76h1v1h-1zM5 76h1v1h-1zM4 77h1v1h-1zM1 78h2v1h-2zM42 78h1v1h-1zM0 85h1v1h-1zM44 86h1v1h-1z"/>
<path fill="#006cff" d="M5 24h1v1h-1zM2 34h1v1h-1zM1 35h1v1h-1zM2 37h1v1h-1zM0 41h1v1h-1zM42 43h1v1h-1zM39 45h1v1h-1zM2 50h1v1h-1zM4 50h1v1h-1zM2 52h1v1h-1zM5 53h1v1h-1zM0 55h1v1h-1zM5 55h1v1h-1zM2 59h1v1h-1zM2 60h1v1h-1zM44 60h1v1h-1zM6 61h1v1h-1zM5 62h1v1h-1zM1 63h1v1h-1zM1 69h1v1h-1zM44 69h1v1h-1zM5 70h1v1h-1zM5 71h1v1h-1zM4 75h2v1h-2zM4 76h1v1h-1zM2 77h1v1h-1zM1 80h1v1h-1zM3 82h1v1h-1zM5 85h1v1h-1zM0 86h1v1h-1zM42 86h1v1h-1z"/>
<path fill="#0086ff" d="M43 6h2v1h-2zM1 11h1v1h-1zM2 12h1v1h-1zM4 13h1v1h-1zM0 16h2v1h-2zM5 16h1v1h-1zM0 18h2v1h-2zM6 18h2v1h-2zM1 22h2v1h-2zM2 23h1v1h-1zM1 33h1v1h-1zM5 34h1v1h-1zM3 37h1v1h-1zM0 38h1v1h-1zM2 38h1v1h-1zM2 46h2v1h-2zM3 47h1v1h-1zM5 50h2v1h-2zM43 50h1v1h-1zM1 52h1v1h-1zM6 52h1v1h-1zM1 53h1v1h-1zM0 57h1v1h-1zM1 60h1v1h-1zM3 60h3v1h-3zM5 61h1v1h-1zM5 63h1v1h-1zM42 65h1v1h-1zM43 69h1v1h-1zM3 70h1v1h-1zM2 71h1v1h-1zM43 71h1v1h-1zM5 72h1v1h-1zM44 72h1v1h-1zM39 73h1v1h-1zM5 74h1v1h-1zM44 75h1v1h-1zM2 76h1v1h-1zM1 77h1v1h-1zM5 79h1v1h-1zM2 80h1v1h-1zM5 80h1v1h-1zM7 80h1v1h-1zM1 84h1v1h-1zM43 84h1v1h-1zM3 85h1v1h-1zM3 86h1v1h-1zM1 87h1v1h-1zM42 87h1v1h-1z"/>
<path fill="#00a0ff" d="M44 3h1v1h-1zM2 9h2v1h-2zM5 10h1v1h-1zM2 11h1v1h-1zM43 11h1v1h-1zM5 13h1v1h-1zM7 14h1v1h-1zM0 15h1v1h-1zM2 16h1v1h-1zM1 17h1v1h-1zM2 18h1v1h-1zM3 22h1v1h-1zM4 23h1v1h-1zM44 23h1v1h-1zM6 26h1v1h-1zM42 27h2v1h-2zM4 28h1v1h-1zM0 29h1v1h-1zM5 30h1v1h-1zM1 31h2v1h-2zM2 33h1v1h-1zM7 33h1v1h-1zM1 34h1v1h-1zM3 34h2v1h-2zM43 34h1v1h-1zM2 36h1v1h-1zM5 36h1v1h-1zM42 36h1v1h-1zM44 36h1v1h-1zM1 37h1v1h-1zM5 37h1v1h-1zM5 38h1v1h-1zM0 40h1v1h-1zM42 40h1v1h-1zM1 42h1v1h-1zM42 42h3v1h-3zM3 43h1v1h-1zM41 45h1v1h-1zM0 46h1v1h-1zM2 47h1v1h-1zM5 47h1v1h-1zM1 48h1v1h-1zM6 48h1v1h-1zM5 49h1v1h-1zM3 50h1v1h-1zM42 50h1v1h-1zM6 51h1v1h-1zM7 52h2v1h-2zM7 53h1v1h-1zM0 54h1v1h-1zM5 54h1v1h-1zM1 55h1v1h-1zM2 56h1v1h-1zM42 56h1v1h-1zM5 58h2v1h-2zM41 58h1v1h-1zM3 59h1v1h-1zM5 59h1v1h-1zM0 60h1v1h-1zM6 63h1v1h-1zM5 64h1v1h-1zM2 67h1v1h-1zM7 67h1v1h-1zM41 68h1v1h-1zM43 68h1v1h-1zM5 69h1v1h-1zM41 69h2v1h-2zM1 70h1v1h-1zM43 70h1v1h-1zM7 71h1v1h-1zM7 72h1v1h-1zM42 72h2v1h-2zM44 73h1v1h-1zM6 74h1v1h-1zM44 74h1v1h-1zM6 75h2v1h-2zM1 76h1v1h-1zM0 77h1v1h-1zM3 77h1v1h-1zM5 77h2v1h-2zM0 78h1v1h-1zM4 78h1v1h-1zM44 78h1v1h-1zM2 79h1v1h-1zM42 79h2v1h-2zM3 80h1v1h-1zM6 80h1v1h-1zM44 80h1v1h-1zM0 81h1v1h-1zM6 81h2v1h-2zM0 82h2v1h-2zM39 82h1v1h-1zM3 83h1v1h-1zM4 84h2v1h-2zM1 85h1v1h-1zM4 85h1v1h-1zM43 85h1v1h-1zM1 86h1v1h-1zM4 86h1v1h-1zM2 87h1v1h-1zM7 87h1v1h-1z"/>
<path fill="#00baff" d="M43 5h2v1h-2zM42 6h1v1h-1zM1 8h1v1h-1zM43 8h1v1h-1zM5 9h2v1h-2zM44 9h1v1h-1zM0 10h2v1h-2zM6 10h1v1h-1zM6 11h1v1h-1zM44 11h1v1h-1zM1 12h1v1h-1zM3 12h1v1h-1zM0 14h1v1h-1zM2 14h1v1h-1zM5 14h1v1h-1zM3 16h1v1h-1zM7 16h1v1h-1zM5 17h1v1h-1zM5 18h1v1h-1zM5 19h1v1h-1zM4 22h2v1h-2zM7 22h1v1h-1zM0 23h2v1h-2zM5 23h1v1h-1zM42 23h2v1h-2zM3 24h2v1h-2zM6 24h2v1h-2zM41 24h1v1h-1zM2 25h1v1h-1zM7 25h1v1h-1zM42 25h1v1h-1zM1 26h1v1h-1zM8 26h1v1h-1zM43 26h2v1h-2zM44 27h1v1h-1zM1 28h2v1h-2zM0 30h1v1h-1zM3 31h1v1h-1zM0 32h1v1h-1zM3 32h1v1h-1zM0 33h1v1h-1zM4 33h2v1h-2zM44 34h1v1h-1zM0 35h1v1h-1zM6 35h1v1h-1zM1 36h1v1h-1zM4 36h1v1h-1zM7 36h1v1h-1zM6 37h1v1h-1zM4 38h1v1h-1zM7 38h1v1h-1zM0 39h1v1h-1zM6 39h1v1h-1zM43 40h1v1h-1zM1 41h1v1h-1zM3 41h1v1h-1zM41 41h3v1h-3zM39 42h1v1h-1zM1 43h1v1h-1zM7 43h1v1h-1zM0 44h1v1h-1zM2 44h1v1h-1zM4 44h1v1h-1zM42 44h1v1h-1zM2 45h1v1h-1zM7 45h1v1h-1zM7 46h1v1h-1zM6 47h1v1h-1zM44 47h1v1h-1zM0 48h1v1h-1zM5 48h1v1h-1zM44 48h1v1h-1zM0 49h1v1h-1zM6 49h1v1h-1zM2 51h2v1h-2zM0 52h1v1h-1zM3 52h1v1h-1zM5 52h1v1h-1zM42 52h1v1h-1zM0 53h1v1h-1zM2 53h2v1h-2zM10 53h1v1h-1zM44 53h1v1h-1zM3 54h2v1h-2zM6 54h1v1h-1zM43 54h1v1h-1zM3 55h1v1h-1zM42 55h1v1h-1zM44 55h1v1h-1zM1 56h1v1h-1zM10 56h1v1h-1zM43 56h2v1h-2zM1 57h1v1h-1zM6 57h1v1h-1zM7 58h1v1h-1zM0 59h2v1h-2zM4 59h1v1h-1zM42 59h1v1h-1zM44 59h1v1h-1zM6 60h1v1h-1zM42 60h1v1h-1zM43 61h1v1h-1zM3 62h1v1h-1zM7 62h1v1h-1zM44 62h1v1h-1zM0 63h1v1h-1zM3 63h2v1h-2zM7 63h1v1h-1zM42 63h1v1h-1zM44 63h1v1h-1zM1 65h1v1h-1zM4 65h2v1h-2zM41 65h1v1h-1zM7 66h1v1h-1zM42 67h2v1h-2zM1 68h1v1h-1zM5 68h1v1h-1zM0 70h1v1h-1zM4 70h1v1h-1zM44 70h1v1h-1zM0 71h1v1h-1zM2 72h1v1h-1zM6 72h1v1h-1zM0 73h1v1h-1zM4 73h2v1h-2zM41 73h1v1h-1zM4 74h1v1h-1zM42 74h2v1h-2zM1 75h1v1h-1zM3 75h1v1h-1zM42 75h2v1h-2zM42 77h1v1h-1zM44 77h1v1h-1zM5 78h1v1h-1zM0 79h1v1h-1zM3 79h1v1h-1zM6 79h1v1h-1zM41 79h1v1h-1zM44 79h1v1h-1zM0 80h1v1h-1zM43 80h1v1h-1zM1 81h2v1h-2zM4 81h1v1h-1zM41 81h1v1h-1zM44 81h1v1h-1zM0 83h1v1h-1zM4 83h2v1h-2zM43 83h2v1h-2zM40 84h1v1h-1zM44 84h1v1h-1zM2 85h1v1h-1zM6 85h1v1h-1zM41 85h1v1h-1zM5 86h1v1h-1zM43 87h1v1h-1z"/>
<path fill="#00d4ff" d="M44 4h1v1h-1zM39 5h1v1h-1zM2 8h1v1h-1zM5 8h1v1h-1zM44 8h1v1h-1zM1 9h1v1h-1zM4 9h1v1h-1zM7 9h1v1h-1zM2 10h1v1h-1zM4 10h1v1h-1zM44 10h1v1h-1zM5 11h1v1h-1zM39 11h1v1h-1zM4 12h1v1h-1zM39 12h1v1h-1zM42 12h3v1h-3zM6 13h1v1h-1zM39 13h1v1h-1zM4 15h2v1h-2zM4 16h1v1h-1zM6 16h1v1h-1zM39 16h1v1h-1zM7 17h1v1h-1zM44 18h1v1h-1zM0 19h1v1h-1zM2 19h1v1h-1zM42 19h1v1h-1zM2 20h2v1h-2zM5 20h1v1h-1zM2 21h1v1h-1zM7 21h1v1h-1zM42 21h1v1h-1zM0 22h1v1h-1zM43 22h2v1h-2zM3 23h1v1h-1zM6 23h1v1h-1zM42 24h1v1h-1zM1 25h1v1h-1zM5 25h2v1h-2zM7 26h1v1h-1zM42 26h1v1h-1zM0 28h1v1h-1zM5 28h1v1h-1zM42 28h1v1h-1zM44 28h1v1h-1zM1 29h2v1h-2zM5 29h1v1h-1zM7 29h1v1h-1zM44 29h1v1h-1zM1 30h2v1h-2zM7 30h1v1h-1zM43 30h2v1h-2zM4 31h1v1h-1zM7 31h1v1h-1zM43 32h2v1h-2zM8 33h1v1h-1zM6 34h3v1h-3zM2 35h1v1h-1zM4 35h1v1h-1zM7 35h1v1h-1zM44 35h1v1h-1zM0 36h1v1h-1zM6 36h1v1h-1zM41 36h1v1h-1zM0 37h1v1h-1zM4 37h1v1h-1zM7 37h1v1h-1zM44 37h1v1h-1zM3 38h1v1h-1zM6 38h1v1h-1zM2 39h1v1h-1zM7 39h1v1h-1zM1 40h2v1h-2zM7 40h1v1h-1zM41 40h1v1h-1zM7 41h1v1h-1zM2 43h1v1h-1zM4 43h1v1h-1zM39 43h1v1h-1zM43 43h2v1h-2zM39 44h1v1h-1zM43 44h1v1h-1zM1 45h1v1h-1zM3 45h1v1h-1zM6 45h1v1h-1zM42 45h3v1h-3zM1 46h1v1h-1zM4 46h1v1h-1zM39 46h1v1h-1zM4 47h1v1h-1zM7 48h1v1h-1zM1 49h1v1h-1zM0 50h1v1h-1zM7 50h1v1h-1zM1 51h1v1h-1zM5 51h1v1h-1zM42 51h1v1h-1zM44 51h1v1h-1zM41 52h1v1h-1zM41 53h1v1h-1zM43 53h1v1h-1zM2 54h1v1h-1zM10 54h1v1h-1zM41 54h2v1h-2zM2 55h1v1h-1zM4 55h1v1h-1zM7 55h1v1h-1zM43 55h1v1h-1zM3 56h1v1h-1zM5 56h1v1h-1zM5 57h1v1h-1zM0 58h1v1h-1zM42 58h1v1h-1zM8 59h1v1h-1zM43 59h1v1h-1zM41 62h2v1h-2zM42 64h2v1h-2zM6 65h1v1h-1zM43 65h1v1h-1zM1 66h4v1h-4zM1 67h1v1h-1zM6 68h1v1h-1zM40 68h1v1h-1zM42 68h1v1h-1zM0 69h1v1h-1zM3 69h2v1h-2zM38 69h1v1h-1zM40 69h1v1h-1zM39 70h1v1h-1zM42 70h1v1h-1zM4 71h1v1h-1zM6 71h1v1h-1zM39 71h1v1h-1zM3 72h1v1h-1zM0 75h1v1h-1zM2 75h1v1h-1zM10 75h1v1h-1zM6 76h1v1h-1zM39 76h1v1h-1zM43 76h1v1h-1zM41 77h1v1h-1zM43 77h1v1h-1zM3 78h1v1h-1zM4 79h1v1h-1zM7 79h1v1h-1zM11 79h1v1h-1zM42 80h1v1h-1zM8 81h1v1h-1zM10 81h1v1h-1zM42 81h1v1h-1zM2 82h1v1h-1zM7 82h1v1h-1zM44 82h1v1h-1zM6 83h1v1h-1zM39 83h1v1h-1zM42 83h1v1h-1zM0 84h1v1h-1zM2 84h1v1h-1zM7 84h1v1h-1zM38 84h1v1h-1zM41 84h2v1h-2zM7 85h1v1h-1zM42 85h1v1h-1zM2 86h1v1h-1zM6 86h1v1h-1zM10 86h1v1h-1zM43 86h1v1h-1zM4 87h3v1h-3zM44 87h1v1h-1z"/>
<path fill="#00efff" d="M42 0h1v1h-1zM10 1h2v1h-2zM43 2h1v1h-1zM42 3h2v1h-2zM42 5h1v1h-1zM42 7h1v1h-1zM0 8h1v1h-1zM6 8h1v1h-1zM41 8h1v1h-1zM0 9h1v1h-1zM40 9h1v1h-1zM42 10h1v1h-1zM0 11h1v1h-1zM4 11h1v1h-1zM7 11h1v1h-1zM42 11h1v1h-1zM4 14h1v1h-1zM8 14h1v1h-1zM39 14h1v1h-1zM42 14h1v1h-1zM44 14h1v1h-1zM2 15h2v1h-2zM6 15h2v1h-2zM2 17h2v1h-2zM6 17h1v1h-1zM3 18h1v1h-1zM8 18h1v1h-1zM39 18h1v1h-1zM1 19h1v1h-1zM3 19h1v1h-1zM6 19h1v1h-1zM43 19h1v1h-1zM1 20h1v1h-1zM6 20h2v1h-2zM1 21h1v1h-1zM6 21h1v1h-1zM44 21h1v1h-1zM6 22h1v1h-1zM42 22h1v1h-1zM39 23h1v1h-1zM41 23h1v1h-1zM43 24h2v1h-2zM39 26h1v1h-1zM5 27h1v1h-1zM41 27h1v1h-1zM6 28h2v1h-2zM8 29h1v1h-1zM11 29h1v1h-1zM43 29h1v1h-1zM3 30h2v1h-2zM6 30h1v1h-1zM8 30h1v1h-1zM10 30h1v1h-1zM6 31h1v1h-1zM44 31h1v1h-1zM2 32h1v1h-1zM4 32h1v1h-1zM6 32h2v1h-2zM10 32h1v1h-1zM6 33h1v1h-1zM11 34h1v1h-1zM42 34h1v1h-1zM3 35h1v1h-1zM5 35h1v1h-1zM3 36h1v1h-1zM10 36h1v1h-1zM3 39h1v1h-1zM5 39h1v1h-1zM41 39h3v1h-3zM6 40h1v1h-1zM2 41h1v1h-1zM6 41h1v1h-1zM38 41h1v1h-1zM40 41h1v1h-1zM44 41h1v1h-1zM0 42h1v1h-1zM41 42h1v1h-1zM6 43h1v1h-1zM10 43h1v1h-1zM38 43h1v1h-1zM1 44h1v1h-1zM3 44h1v1h-1zM5 44h3v1h-3zM41 44h1v1h-1zM6 46h1v1h-1zM41 46h1v1h-1zM43 46h1v1h-1zM8 47h1v1h-1zM39 47h1v1h-1zM43 47h1v1h-1zM2 48h1v1h-1zM4 48h1v1h-1zM2 49h1v1h-1zM7 49h1v1h-1zM10 49h2v1h-2zM41 49h1v1h-1zM1 50h1v1h-1zM41 50h1v1h-1zM44 50h1v1h-1zM7 51h2v1h-2zM41 51h1v1h-1zM43 51h1v1h-1zM10 52h1v1h-1zM43 52h1v1h-1zM4 53h1v1h-1zM6 53h1v1h-1zM38 53h1v1h-1zM42 53h1v1h-1zM1 54h1v1h-1zM11 54h1v1h-1zM39 54h1v1h-1zM44 54h1v1h-1zM6 55h1v1h-1zM10 55h2v1h-2zM38 55h2v1h-2zM4 56h1v1h-1zM6 56h3v1h-3zM41 56h1v1h-1zM3 57h1v1h-1zM7 57h1v1h-1zM10 57h1v1h-1zM42 57h1v1h-1zM1 58h1v1h-1zM10 58h1v1h-1zM39 58h2v1h-2zM7 59h1v1h-1zM41 59h1v1h-1zM7 60h1v1h-1zM41 60h1v1h-1zM43 60h1v1h-1zM1 61h4v1h-4zM7 61h1v1h-1zM0 62h1v1h-1zM4 62h1v1h-1zM40 62h1v1h-1zM1 64h4v1h-4zM44 64h1v1h-1zM3 65h1v1h-1zM7 65h1v1h-1zM5 66h2v1h-2zM41 66h3v1h-3zM4 67h2v1h-2zM41 67h1v1h-1zM44 67h1v1h-1zM3 68h1v1h-1zM44 68h1v1h-1zM2 69h1v1h-1zM7 69h2v1h-2zM6 70h1v1h-1zM40 70h1v1h-1zM38 71h1v1h-1zM42 71h1v1h-1zM0 72h1v1h-1zM8 72h1v1h-1zM41 72h1v1h-1zM1 73h3v1h-3zM7 73h1v1h-1zM11 73h1v1h-1zM40 73h1v1h-1zM43 73h1v1h-1zM0 74h1v1h-1zM3 74h1v1h-1zM7 74h1v1h-1zM7 76h1v1h-1zM10 76h1v1h-1zM44 76h1v1h-1zM7 77h1v1h-1zM6 78h2v1h-2zM11 78h1v1h-1zM8 79h1v1h-1zM4 80h1v1h-1zM10 80h2v1h-2zM41 80h1v1h-1zM3 81h1v1h-1zM37 81h1v1h-1zM40 81h1v1h-1zM43 81h1v1h-1zM5 82h2v1h-2zM8 82h1v1h-1zM40 82h1v1h-1zM42 82h1v1h-1zM2 83h1v1h-1zM7 83h1v1h-1zM10 83h1v1h-1zM40 83h1v1h-1zM3 84h1v1h-1zM6 84h1v1h-1zM10 84h1v1h-1zM10 85h1v1h-1zM39 85h1v1h-1zM7 86h1v1h-1z"/>
<path fill="#0afff5" d="M41 1h1v1h-1zM43 1h1v1h-1zM11 2h1v1h-1zM42 2h1v1h-1zM44 2h1v1h-1zM39 4h1v1h-1zM40 5h1v1h-1zM3 8h1v1h-1zM42 8h1v1h-1zM10 9h1v1h-1zM42 9h1v1h-1zM3 11h1v1h-1zM41 11h1v1h-1zM0 12h1v1h-1zM6 12h2v1h-2zM2 13h2v1h-2zM7 13h1v1h-1zM41 13h3v1h-3zM1 14h1v1h-1zM3 14h1v1h-1zM6 14h1v1h-1zM10 14h1v1h-1zM40 14h1v1h-1zM43 14h1v1h-1zM8 15h1v1h-1zM10 15h1v1h-1zM38 16h1v1h-1zM42 16h3v1h-3zM8 17h1v1h-1zM39 17h1v1h-1zM43 17h2v1h-2zM11 18h1v1h-1zM38 18h1v1h-1zM42 18h1v1h-1zM8 19h1v1h-1zM44 19h1v1h-1zM40 20h2v1h-2zM0 21h1v1h-1zM4 21h2v1h-2zM11 21h1v1h-1zM39 21h3v1h-3zM43 21h1v1h-1zM11 22h1v1h-1zM36 22h1v1h-1zM10 23h1v1h-1zM2 24h1v1h-1zM8 24h1v1h-1zM3 25h2v1h-2zM8 25h1v1h-1zM38 25h1v1h-1zM0 26h1v1h-1zM5 26h1v1h-1zM41 26h1v1h-1zM0 27h1v1h-1zM2 27h2v1h-2zM7 27h1v1h-1zM3 28h1v1h-1zM10 28h3v1h-3zM3 29h1v1h-1zM6 29h1v1h-1zM9 30h1v1h-1zM11 30h1v1h-1zM42 30h1v1h-1zM5 31h1v1h-1zM39 31h1v1h-1zM1 32h1v1h-1zM8 32h1v1h-1zM42 32h1v1h-1zM10 33h1v1h-1zM43 33h2v1h-2zM40 35h1v1h-1zM43 35h1v1h-1zM43 36h1v1h-1zM8 37h3v1h-3zM43 37h1v1h-1zM8 38h1v1h-1zM10 38h1v1h-1zM41 38h3v1h-3zM1 39h1v1h-1zM3 40h1v1h-1zM5 40h1v1h-1zM10 40h1v1h-1zM40 40h1v1h-1zM4 41h2v1h-2zM39 41h1v1h-1zM2 42h4v1h-4zM7 42h1v1h-1zM12 42h1v1h-1zM41 43h1v1h-1zM8 44h1v1h-1zM10 44h1v1h-1zM40 44h1v1h-1zM4 45h2v1h-2zM10 45h1v1h-1zM38 45h1v1h-1zM40 45h1v1h-1zM5 46h1v1h-1zM10 46h1v1h-1zM44 46h1v1h-1zM7 47h1v1h-1zM10 47h1v1h-1zM41 47h1v1h-1zM10 48h1v1h-1zM39 48h1v1h-1zM3 49h2v1h-2zM38 49h1v1h-1zM43 49h1v1h-1zM40 50h1v1h-1zM4 51h1v1h-1zM10 51h1v1h-1zM40 51h1v1h-1zM9 52h1v1h-1zM8 53h2v1h-2zM7 54h1v1h-1zM38 54h1v1h-1zM40 54h1v1h-1zM8 55h1v1h-1zM11 56h1v1h-1zM38 56h1v1h-1zM11 57h1v1h-1zM2 58h1v1h-1zM8 58h2v1h-2zM43 58h2v1h-2zM10 59h1v1h-1zM38 59h1v1h-1zM8 60h4v1h-4zM10 61h2v1h-2zM44 61h1v1h-1zM10 62h1v1h-1zM39 62h1v1h-1zM43 62h1v1h-1zM41 63h1v1h-1zM0 64h1v1h-1zM6 64h1v1h-1zM0 65h1v1h-1zM37 65h1v1h-1zM39 65h1v1h-1zM44 65h1v1h-1zM6 67h1v1h-1zM8 67h1v1h-1zM11 67h1v1h-1zM7 68h2v1h-2zM39 68h1v1h-1zM6 69h1v1h-1zM39 69h1v1h-1zM7 70h2v1h-2zM10 70h1v1h-1zM38 70h1v1h-1zM41 70h1v1h-1zM3 71h1v1h-1zM10 71h1v1h-1zM4 72h1v1h-1zM40 72h1v1h-1zM6 73h1v1h-1zM9 73h2v1h-2zM1 74h2v1h-2zM8 74h1v1h-1zM10 74h1v1h-1zM39 74h1v1h-1zM41 74h1v1h-1zM11 75h1v1h-1zM8 76h1v1h-1zM11 76h1v1h-1zM42 76h1v1h-1zM9 77h1v1h-1zM11 77h1v1h-1zM12 78h1v1h-1zM12 79h1v1h-1zM10 82h2v1h-2zM38 82h1v1h-1zM41 82h1v1h-1zM43 82h1v1h-1zM1 83h1v1h-1zM8 83h1v1h-1zM38 83h1v1h-1zM39 84h1v1h-1zM36 85h1v1h-1zM8 86h1v1h-1zM3 87h1v1h-1zM8 87h2v1h-2z"/>
<path fill="#24ffdb" d="M40 0h2v1h-2zM43 0h1v1h-1zM12 1h1v1h-1zM42 1h1v1h-1zM8 2h1v1h-1zM10 2h1v1h-1zM10 4h1v1h-1zM39 6h1v1h-1zM41 6h1v1h-1zM39 7h1v1h-1zM41 7h1v1h-1zM43 7h1v1h-1zM4 8h1v1h-1zM39 8h2v1h-2zM8 10h1v1h-1zM10 10h2v1h-2zM10 11h1v1h-1zM10 12h2v1h-2zM1 13h1v1h-1zM8 13h1v1h-1zM10 13h1v1h-1zM40 13h1v1h-1zM44 13h1v1h-1zM9 14h1v1h-1zM11 14h1v1h-1zM41 14h1v1h-1zM12 15h1v1h-1zM42 15h1v1h-1zM44 15h1v1h-1zM11 16h1v1h-1zM42 17h1v1h-1zM15 18h1v1h-1zM40 18h1v1h-1zM11 19h1v1h-1zM41 19h1v1h-1zM11 20h1v1h-1zM39 20h1v1h-1zM42 20h3v1h-3zM3 21h1v1h-1zM8 21h1v1h-1zM37 22h3v1h-3zM7 23h2v1h-2zM12 23h1v1h-1zM0 24h2v1h-2zM10 24h1v1h-1zM39 24h2v1h-2zM0 25h1v1h-1zM12 25h1v1h-1zM41 25h1v1h-1zM2 26h1v1h-1zM10 26h1v1h-1zM40 26h1v1h-1zM6 27h1v1h-1zM10 27h1v1h-1zM40 27h1v1h-1zM43 28h1v1h-1zM9 29h2v1h-2zM12 29h1v1h-1zM42 29h1v1h-1zM12 30h1v1h-1zM39 30h1v1h-1zM0 31h1v1h-1zM10 31h3v1h-3zM38 31h1v1h-1zM43 31h1v1h-1zM11 32h1v1h-1zM9 33h1v1h-1zM39 33h1v1h-1zM42 33h1v1h-1zM10 34h1v1h-1zM12 34h1v1h-1zM39 34h1v1h-1zM41 34h1v1h-1zM9 35h2v1h-2zM39 35h1v1h-1zM8 36h1v1h-1zM11 36h1v1h-1zM39 36h1v1h-1zM42 37h1v1h-1zM9 38h1v1h-1zM11 38h1v1h-1zM39 38h1v1h-1zM4 39h1v1h-1zM12 39h1v1h-1zM37 40h3v1h-3zM44 40h1v1h-1zM10 41h1v1h-1zM12 41h1v1h-1zM10 42h2v1h-2zM37 42h1v1h-1zM40 42h1v1h-1zM0 43h1v1h-1zM40 43h1v1h-1zM11 44h1v1h-1zM44 44h1v1h-1zM8 45h1v1h-1zM11 45h1v1h-1zM9 46h1v1h-1zM11 46h1v1h-1zM38 46h1v1h-1zM40 46h1v1h-1zM38 47h1v1h-1zM40 47h1v1h-1zM42 47h1v1h-1zM3 48h1v1h-1zM8 48h2v1h-2zM37 48h1v1h-1zM41 48h2v1h-2zM12 49h1v1h-1zM37 49h1v1h-1zM39 49h1v1h-1zM42 49h1v1h-1zM8 50h1v1h-1zM10 50h2v1h-2zM39 50h1v1h-1zM0 51h1v1h-1zM37 51h1v1h-1zM4 52h1v1h-1zM11 52h1v1h-1zM37 52h1v1h-1zM11 53h1v1h-1zM39 53h1v1h-1zM8 54h1v1h-1zM12 54h1v1h-1zM12 55h1v1h-1zM37 55h1v1h-1zM4 57h1v1h-1zM8 57h1v1h-1zM38 57h1v1h-1zM41 57h1v1h-1zM44 57h1v1h-1zM3 58h2v1h-2zM11 58h1v1h-1zM37 58h1v1h-1zM9 59h1v1h-1zM11 59h1v1h-1zM12 60h1v1h-1zM38 60h1v1h-1zM0 61h1v1h-1zM8 61h1v1h-1zM12 61h1v1h-1zM41 61h2v1h-2zM12 62h2v1h-2zM8 63h1v1h-1zM10 63h2v1h-2zM38 63h2v1h-2zM7 64h1v1h-1zM12 64h1v1h-1zM37 64h2v1h-2zM41 64h1v1h-1zM2 65h1v1h-1zM8 65h1v1h-1zM38 65h1v1h-1zM0 66h1v1h-1zM8 66h3v1h-3zM38 66h3v1h-3zM0 67h1v1h-1zM3 67h1v1h-1zM9 67h1v1h-1zM0 68h1v1h-1zM2 68h1v1h-1zM4 68h1v1h-1zM10 69h2v1h-2zM36 69h1v1h-1zM11 70h1v1h-1zM37 70h1v1h-1zM8 71h2v1h-2zM40 71h2v1h-2zM44 71h1v1h-1zM1 72h1v1h-1zM9 72h2v1h-2zM39 72h1v1h-1zM8 73h1v1h-1zM34 73h1v1h-1zM37 73h1v1h-1zM38 74h1v1h-1zM39 75h1v1h-1zM8 77h1v1h-1zM10 77h1v1h-1zM12 77h1v1h-1zM8 78h1v1h-1zM10 78h1v1h-1zM38 78h1v1h-1zM9 79h2v1h-2zM13 79h1v1h-1zM38 79h3v1h-3zM8 80h2v1h-2zM12 80h2v1h-2zM37 80h1v1h-1zM9 81h1v1h-1zM39 81h1v1h-1zM9 82h1v1h-1zM12 82h1v1h-1zM11 83h1v1h-1zM13 83h1v1h-1zM41 83h1v1h-1zM9 84h1v1h-1zM8 85h2v1h-2zM11 85h1v1h-1zM37 85h1v1h-1zM40 85h1v1h-1zM9 86h1v1h-1zM38 86h1v1h-1zM40 86h2v1h-2zM11 87h1v1h-1zM41 87h1v1h-1z"/>
<path fill="#3effc1" d="M9 0h2v1h-2zM39 0h1v1h-1zM9 1h1v1h-1zM37 1h1v1h-1zM44 1h1v1h-1zM12 2h1v1h-1zM41 2h1v1h-1zM8 3h1v1h-1zM41 3h1v1h-1zM42 4h1v1h-1zM9 5h3v1h-3zM15 5h1v1h-1zM41 5h1v1h-1zM8 7h1v1h-1zM10 7h1v1h-1zM7 8h1v1h-1zM10 8h3v1h-3zM8 9h1v1h-1zM39 9h1v1h-1zM41 9h1v1h-1zM12 10h1v1h-1zM15 10h1v1h-1zM39 10h1v1h-1zM41 10h1v1h-1zM38 11h1v1h-1zM8 12h2v1h-2zM12 12h1v1h-1zM40 12h1v1h-1zM0 13h1v1h-1zM38 14h1v1h-1zM11 15h1v1h-1zM8 16h1v1h-1zM15 17h1v1h-1zM41 17h1v1h-1zM9 18h1v1h-1zM12 18h1v1h-1zM9 19h1v1h-1zM39 19h1v1h-1zM0 20h1v1h-1zM8 20h1v1h-1zM12 20h1v1h-1zM9 21h1v1h-1zM15 21h1v1h-1zM36 21h1v1h-1zM8 22h1v1h-1zM12 22h1v1h-1zM41 22h1v1h-1zM11 23h1v1h-1zM15 23h1v1h-1zM37 23h2v1h-2zM40 23h1v1h-1zM15 24h1v1h-1zM38 24h1v1h-1zM11 25h1v1h-1zM3 26h2v1h-2zM9 26h1v1h-1zM11 26h1v1h-1zM13 26h1v1h-1zM37 26h1v1h-1zM4 27h1v1h-1zM8 27h2v1h-2zM11 27h2v1h-2zM8 28h2v1h-2zM15 28h1v1h-1zM40 28h2v1h-2zM41 30h1v1h-1zM13 31h1v1h-1zM16 32h1v1h-1zM40 32h1v1h-1zM11 33h2v1h-2zM38 33h1v1h-1zM40 33h1v1h-1zM9 34h1v1h-1zM8 35h1v1h-1zM9 36h1v1h-1zM36 36h1v1h-1zM38 36h1v1h-1zM11 37h1v1h-1zM38 38h1v1h-1zM8 39h1v1h-1zM13 39h1v1h-1zM39 39h1v1h-1zM4 40h1v1h-1zM11 40h2v1h-2zM8 41h2v1h-2zM11 41h1v1h-1zM6 42h1v1h-1zM38 42h1v1h-1zM8 43h2v1h-2zM33 43h1v1h-1zM37 43h1v1h-1zM9 44h1v1h-1zM38 44h1v1h-1zM9 45h1v1h-1zM37 45h1v1h-1zM8 46h1v1h-1zM12 46h1v1h-1zM15 46h1v1h-1zM37 46h1v1h-1zM9 47h1v1h-1zM11 47h2v1h-2zM11 48h1v1h-1zM34 48h1v1h-1zM38 48h1v1h-1zM40 48h1v1h-1zM43 48h1v1h-1zM8 49h2v1h-2zM15 50h1v1h-1zM38 50h1v1h-1zM9 51h1v1h-1zM15 51h1v1h-1zM38 51h2v1h-2zM15 52h1v1h-1zM38 52h1v1h-1zM40 52h1v1h-1zM12 53h1v1h-1zM15 53h1v1h-1zM37 53h1v1h-1zM9 54h1v1h-1zM37 54h1v1h-1zM9 55h1v1h-1zM40 55h2v1h-2zM12 56h1v1h-1zM40 56h1v1h-1zM2 57h1v1h-1zM9 57h1v1h-1zM37 57h1v1h-1zM12 58h1v1h-1zM38 58h1v1h-1zM15 60h1v1h-1zM39 60h1v1h-1zM13 61h1v1h-1zM15 61h1v1h-1zM37 61h2v1h-2zM11 62h1v1h-1zM34 62h1v1h-1zM38 62h1v1h-1zM37 63h1v1h-1zM10 64h2v1h-2zM40 64h1v1h-1zM9 65h3v1h-3zM11 66h2v1h-2zM37 66h1v1h-1zM10 67h1v1h-1zM12 67h1v1h-1zM38 67h1v1h-1zM40 67h1v1h-1zM12 68h1v1h-1zM9 69h1v1h-1zM37 69h1v1h-1zM9 70h1v1h-1zM12 70h1v1h-1zM15 70h1v1h-1zM11 72h1v1h-1zM34 72h1v1h-1zM38 72h1v1h-1zM12 73h2v1h-2zM38 73h1v1h-1zM9 74h1v1h-1zM11 74h3v1h-3zM8 75h2v1h-2zM38 75h1v1h-1zM12 76h1v1h-1zM38 76h1v1h-1zM38 77h1v1h-1zM40 77h1v1h-1zM9 78h1v1h-1zM13 78h1v1h-1zM38 80h1v1h-1zM11 81h1v1h-1zM15 81h1v1h-1zM13 82h1v1h-1zM37 82h1v1h-1zM9 83h1v1h-1zM12 83h1v1h-1zM33 83h1v1h-1zM38 85h1v1h-1zM11 86h2v1h-2zM36 86h2v1h-2zM39 86h1v1h-1zM10 87h1v1h-1zM12 87h1v1h-1zM37 87h1v1h-1zM39 87h1v1h-1z"/>
<path fill="#58ffa7" d="M8 0h1v1h-1zM11 0h1v1h-1zM38 0h1v1h-1zM10 3h1v1h-1zM12 3h1v1h-1zM15 3h1v1h-1zM39 3h2v1h-2zM9 4h1v1h-1zM38 4h1v1h-1zM41 4h1v1h-1zM37 5h2v1h-2zM10 6h1v1h-1zM34 6h1v1h-1zM38 6h1v1h-1zM9 7h1v1h-1zM11 7h1v1h-1zM8 8h1v1h-1zM38 8h1v1h-1zM9 9h1v1h-1zM11 9h3v1h-3zM15 9h1v1h-1zM9 10h1v1h-1zM13 10h1v1h-1zM40 10h1v1h-1zM8 11h2v1h-2zM11 11h1v1h-1zM15 11h1v1h-1zM36 11h1v1h-1zM40 11h1v1h-1zM37 12h1v1h-1zM9 13h1v1h-1zM11 13h1v1h-1zM37 14h1v1h-1zM9 15h1v1h-1zM15 15h1v1h-1zM37 15h2v1h-2zM40 15h1v1h-1zM9 16h1v1h-1zM40 16h2v1h-2zM11 17h1v1h-1zM14 17h1v1h-1zM16 17h1v1h-1zM40 17h1v1h-1zM43 18h1v1h-1zM15 19h1v1h-1zM34 19h1v1h-1zM37 19h1v1h-1zM40 19h1v1h-1zM9 20h1v1h-1zM34 20h1v1h-1zM36 20h2v1h-2zM12 21h1v1h-1zM38 21h1v1h-1zM13 22h1v1h-1zM15 22h1v1h-1zM40 22h1v1h-1zM13 23h1v1h-1zM16 23h1v1h-1zM34 23h1v1h-1zM9 24h1v1h-1zM11 24h1v1h-1zM10 25h1v1h-1zM13 25h1v1h-1zM39 25h2v1h-2zM43 25h2v1h-2zM12 26h1v1h-1zM14 26h1v1h-1zM38 26h1v1h-1zM13 27h1v1h-1zM39 27h1v1h-1zM13 28h2v1h-2zM33 28h2v1h-2zM39 28h1v1h-1zM13 29h1v1h-1zM15 29h1v1h-1zM37 29h2v1h-2zM41 29h1v1h-1zM16 30h1v1h-1zM38 30h1v1h-1zM8 31h1v1h-1zM15 31h1v1h-1zM40 31h1v1h-1zM42 31h1v1h-1zM9 32h1v1h-1zM12 32h1v1h-1zM15 32h1v1h-1zM38 32h2v1h-2zM41 32h1v1h-1zM34 33h1v1h-1zM41 33h1v1h-1zM16 34h1v1h-1zM38 34h1v1h-1zM40 34h1v1h-1zM11 35h2v1h-2zM36 35h1v1h-1zM41 35h1v1h-1zM12 36h1v1h-1zM40 36h1v1h-1zM15 37h1v1h-1zM38 37h2v1h-2zM41 37h1v1h-1zM12 38h1v1h-1zM34 38h1v1h-1zM37 38h1v1h-1zM10 39h2v1h-2zM40 39h1v1h-1zM13 40h1v1h-1zM34 40h1v1h-1zM15 41h2v1h-2zM37 41h1v1h-1zM8 42h1v1h-1zM13 42h1v1h-1zM36 42h1v1h-1zM11 43h1v1h-1zM34 43h1v1h-1zM36 43h1v1h-1zM15 44h2v1h-2zM34 44h1v1h-1zM15 45h2v1h-2zM34 46h1v1h-1zM34 47h1v1h-1zM37 47h1v1h-1zM12 48h1v1h-1zM36 48h1v1h-1zM9 50h1v1h-1zM12 50h2v1h-2zM16 50h1v1h-1zM13 51h2v1h-2zM36 51h1v1h-1zM14 52h1v1h-1zM36 52h1v1h-1zM39 52h1v1h-1zM36 53h1v1h-1zM40 53h1v1h-1zM13 54h3v1h-3zM13 55h1v1h-1zM15 55h1v1h-1zM13 56h1v1h-1zM15 56h1v1h-1zM37 56h1v1h-1zM39 56h1v1h-1zM15 57h1v1h-1zM39 57h1v1h-1zM43 57h1v1h-1zM12 59h1v1h-1zM15 59h1v1h-1zM39 59h2v1h-2zM13 60h1v1h-1zM16 60h1v1h-1zM37 60h1v1h-1zM9 61h1v1h-1zM39 61h2v1h-2zM9 62h1v1h-1zM14 62h2v1h-2zM36 62h2v1h-2zM9 63h1v1h-1zM12 63h1v1h-1zM15 63h1v1h-1zM33 63h2v1h-2zM40 63h1v1h-1zM9 64h1v1h-1zM36 64h1v1h-1zM12 65h1v1h-1zM40 65h1v1h-1zM15 66h3v1h-3zM44 66h1v1h-1zM39 67h1v1h-1zM9 68h3v1h-3zM36 68h3v1h-3zM12 69h1v1h-1zM34 69h2v1h-2zM13 70h1v1h-1zM36 70h1v1h-1zM11 71h1v1h-1zM34 71h1v1h-1zM37 71h1v1h-1zM12 72h1v1h-1zM33 72h1v1h-1zM36 72h1v1h-1zM35 73h1v1h-1zM14 74h1v1h-1zM36 74h2v1h-2zM40 74h1v1h-1zM12 75h1v1h-1zM40 75h2v1h-2zM9 76h1v1h-1zM37 76h1v1h-1zM41 76h1v1h-1zM34 77h1v1h-1zM39 77h1v1h-1zM34 78h1v1h-1zM39 78h2v1h-2zM14 79h2v1h-2zM37 79h1v1h-1zM36 80h1v1h-1zM39 80h2v1h-2zM12 81h1v1h-1zM35 81h2v1h-2zM38 81h1v1h-1zM15 82h2v1h-2zM34 82h1v1h-1zM36 82h1v1h-1zM15 83h1v1h-1zM37 83h1v1h-1zM11 84h1v1h-1zM13 84h1v1h-1zM37 84h1v1h-1zM12 85h1v1h-1zM15 85h1v1h-1zM44 85h1v1h-1zM16 86h1v1h-1zM13 87h1v1h-1zM40 87h1v1h-1z"/>
<path fill="#72ff8d" d="M12 0h1v1h-1zM15 0h1v1h-1zM17 0h1v1h-1zM37 0h1v1h-1zM44 0h1v1h-1zM8 1h1v1h-1zM13 1h1v1h-1zM15 1h1v1h-1zM13 2h1v1h-1zM15 2h1v1h-1zM9 3h1v1h-1zM11 3h1v1h-1zM14 3h1v1h-1zM12 4h1v1h-1zM15 4h2v1h-2zM34 4h1v1h-1zM43 4h1v1h-1zM13 5h1v1h-1zM36 5h1v1h-1zM11 6h2v1h-2zM15 6h2v1h-2zM36 6h2v1h-2zM15 7h1v1h-1zM38 7h1v1h-1zM13 8h1v1h-1zM15 8h1v1h-1zM37 8h1v1h-1zM34 9h1v1h-1zM14 10h1v1h-1zM16 10h1v1h-1zM37 10h1v1h-1zM12 11h1v1h-1zM37 11h1v1h-1zM16 12h1v1h-1zM34 12h1v1h-1zM36 12h1v1h-1zM38 12h1v1h-1zM41 12h1v1h-1zM12 13h1v1h-1zM12 14h2v1h-2zM36 14h1v1h-1zM13 15h1v1h-1zM41 15h1v1h-1zM12 16h1v1h-1zM36 16h2v1h-2zM9 17h1v1h-1zM13 17h1v1h-1zM34 17h1v1h-1zM38 17h1v1h-1zM13 18h1v1h-1zM16 18h1v1h-1zM34 18h1v1h-1zM36 18h1v1h-1zM12 19h2v1h-2zM36 19h1v1h-1zM38 19h1v1h-1zM13 20h1v1h-1zM13 21h1v1h-1zM16 21h1v1h-1zM35 21h1v1h-1zM16 22h1v1h-1zM14 23h1v1h-1zM13 24h1v1h-1zM16 24h1v1h-1zM9 25h1v1h-1zM14 25h2v1h-2zM37 25h1v1h-1zM16 26h1v1h-1zM34 26h1v1h-1zM15 27h1v1h-1zM33 27h1v1h-1zM38 27h1v1h-1zM16 28h2v1h-2zM35 28h2v1h-2zM38 28h1v1h-1zM14 29h1v1h-1zM16 29h1v1h-1zM33 29h1v1h-1zM36 29h1v1h-1zM39 29h2v1h-2zM13 30h1v1h-1zM37 30h1v1h-1zM9 31h1v1h-1zM37 31h1v1h-1zM13 32h1v1h-1zM37 32h1v1h-1zM13 33h1v1h-1zM15 33h1v1h-1zM36 33h2v1h-2zM13 34h3v1h-3zM36 34h2v1h-2zM13 35h1v1h-1zM15 35h1v1h-1zM34 35h1v1h-1zM37 35h2v1h-2zM13 36h1v1h-1zM15 36h2v1h-2zM37 36h1v1h-1zM12 37h3v1h-3zM34 37h4v1h-4zM40 37h1v1h-1zM13 38h1v1h-1zM9 39h1v1h-1zM15 39h1v1h-1zM34 39h1v1h-1zM38 39h1v1h-1zM9 40h1v1h-1zM16 40h1v1h-1zM36 40h1v1h-1zM13 41h1v1h-1zM33 41h1v1h-1zM9 42h1v1h-1zM15 42h1v1h-1zM12 43h2v1h-2zM15 43h2v1h-2zM35 43h1v1h-1zM12 44h1v1h-1zM12 45h1v1h-1zM33 45h2v1h-2zM36 45h1v1h-1zM13 46h1v1h-1zM16 46h1v1h-1zM33 46h1v1h-1zM14 47h1v1h-1zM16 47h1v1h-1zM16 49h2v1h-2zM34 49h1v1h-1zM36 49h1v1h-1zM14 50h1v1h-1zM17 50h1v1h-1zM36 50h2v1h-2zM11 51h2v1h-2zM16 51h2v1h-2zM12 52h2v1h-2zM13 53h2v1h-2zM16 53h2v1h-2zM34 53h1v1h-1zM33 54h1v1h-1zM14 55h1v1h-1zM16 55h1v1h-1zM14 56h1v1h-1zM16 56h1v1h-1zM34 56h1v1h-1zM12 57h1v1h-1zM34 57h1v1h-1zM40 57h1v1h-1zM13 58h1v1h-1zM33 58h3v1h-3zM13 59h1v1h-1zM16 59h1v1h-1zM37 59h1v1h-1zM14 60h1v1h-1zM16 61h1v1h-1zM8 64h1v1h-1zM13 64h1v1h-1zM15 64h1v1h-1zM39 64h1v1h-1zM34 65h1v1h-1zM36 65h1v1h-1zM13 67h1v1h-1zM16 67h1v1h-1zM37 67h1v1h-1zM14 68h2v1h-2zM33 68h1v1h-1zM35 68h1v1h-1zM13 69h3v1h-3zM12 71h4v1h-4zM36 71h1v1h-1zM13 72h1v1h-1zM15 72h2v1h-2zM37 72h1v1h-1zM36 73h1v1h-1zM15 74h1v1h-1zM34 74h1v1h-1zM13 75h3v1h-3zM34 75h1v1h-1zM36 75h2v1h-2zM13 77h1v1h-1zM15 77h1v1h-1zM36 77h1v1h-1zM14 78h2v1h-2zM33 78h1v1h-1zM34 79h1v1h-1zM15 80h2v1h-2zM33 80h1v1h-1zM13 81h1v1h-1zM14 82h1v1h-1zM16 83h2v1h-2zM34 83h1v1h-1zM8 84h1v1h-1zM12 84h1v1h-1zM14 84h3v1h-3zM13 85h1v1h-1zM34 85h1v1h-1zM13 86h1v1h-1zM15 86h1v1h-1zM15 87h2v1h-2z"/>
<path fill="#8dff72" d="M13 0h1v1h-1zM16 0h1v1h-1zM34 0h1v1h-1zM36 0h1v1h-1zM16 1h1v1h-1zM38 1h2v1h-2zM14 2h1v1h-1zM37 2h1v1h-1zM13 3h1v1h-1zM16 3h1v1h-1zM33 3h1v1h-1zM38 3h1v1h-1zM13 4h1v1h-1zM34 5h1v1h-1zM8 6h2v1h-2zM13 6h1v1h-1zM35 6h1v1h-1zM12 7h2v1h-2zM16 7h1v1h-1zM33 7h2v1h-2zM16 8h1v1h-1zM33 8h2v1h-2zM14 9h1v1h-1zM16 9h1v1h-1zM36 9h1v1h-1zM38 9h1v1h-1zM13 11h1v1h-1zM16 11h2v1h-2zM34 11h1v1h-1zM15 12h1v1h-1zM17 12h1v1h-1zM35 12h1v1h-1zM13 13h1v1h-1zM15 13h1v1h-1zM17 13h1v1h-1zM34 13h1v1h-1zM36 13h2v1h-2zM34 14h1v1h-1zM16 15h2v1h-2zM43 15h1v1h-1zM14 16h2v1h-2zM34 16h1v1h-1zM33 17h1v1h-1zM14 18h1v1h-1zM35 18h1v1h-1zM14 19h1v1h-1zM16 19h1v1h-1zM33 19h1v1h-1zM35 19h1v1h-1zM14 20h3v1h-3zM18 20h1v1h-1zM33 20h1v1h-1zM35 20h1v1h-1zM14 21h1v1h-1zM17 21h1v1h-1zM32 21h1v1h-1zM34 21h1v1h-1zM37 21h1v1h-1zM14 22h1v1h-1zM17 22h1v1h-1zM34 22h1v1h-1zM17 23h2v1h-2zM33 23h1v1h-1zM35 23h2v1h-2zM14 24h1v1h-1zM18 24h1v1h-1zM33 24h2v1h-2zM36 24h2v1h-2zM20 25h1v1h-1zM34 25h1v1h-1zM36 25h1v1h-1zM15 26h1v1h-1zM17 26h1v1h-1zM33 26h1v1h-1zM14 27h1v1h-1zM34 27h1v1h-1zM37 28h1v1h-1zM17 29h1v1h-1zM14 30h2v1h-2zM17 30h1v1h-1zM40 30h1v1h-1zM14 31h1v1h-1zM16 31h2v1h-2zM36 31h1v1h-1zM14 32h1v1h-1zM18 32h1v1h-1zM36 32h1v1h-1zM14 33h1v1h-1zM16 33h2v1h-2zM35 33h1v1h-1zM34 34h2v1h-2zM16 35h1v1h-1zM14 36h1v1h-1zM17 36h2v1h-2zM34 36h1v1h-1zM17 37h1v1h-1zM35 38h1v1h-1zM36 39h2v1h-2zM14 40h2v1h-2zM14 41h1v1h-1zM17 41h1v1h-1zM35 41h1v1h-1zM14 42h1v1h-1zM16 42h2v1h-2zM32 42h3v1h-3zM14 43h1v1h-1zM13 44h1v1h-1zM37 44h1v1h-1zM13 45h1v1h-1zM17 45h1v1h-1zM35 45h1v1h-1zM14 46h1v1h-1zM17 46h1v1h-1zM36 46h1v1h-1zM13 47h1v1h-1zM15 47h1v1h-1zM33 47h1v1h-1zM35 47h2v1h-2zM15 48h3v1h-3zM13 49h1v1h-1zM15 49h1v1h-1zM40 49h1v1h-1zM18 50h1v1h-1zM34 50h1v1h-1zM34 51h1v1h-1zM16 52h1v1h-1zM36 54h1v1h-1zM35 55h2v1h-2zM17 56h1v1h-1zM33 56h1v1h-1zM36 56h1v1h-1zM14 57h1v1h-1zM16 57h2v1h-2zM14 58h1v1h-1zM14 59h1v1h-1zM34 59h1v1h-1zM17 60h1v1h-1zM33 60h1v1h-1zM35 60h1v1h-1zM40 60h1v1h-1zM14 61h1v1h-1zM33 61h3v1h-3zM16 62h1v1h-1zM33 62h1v1h-1zM35 62h1v1h-1zM13 63h2v1h-2zM16 63h1v1h-1zM36 63h1v1h-1zM14 64h1v1h-1zM33 64h2v1h-2zM13 65h1v1h-1zM15 65h2v1h-2zM13 66h2v1h-2zM36 66h1v1h-1zM14 67h2v1h-2zM34 67h1v1h-1zM36 67h1v1h-1zM13 68h1v1h-1zM16 68h1v1h-1zM34 68h1v1h-1zM16 69h1v1h-1zM14 70h1v1h-1zM16 70h1v1h-1zM32 70h1v1h-1zM35 72h1v1h-1zM14 73h2v1h-2zM33 73h1v1h-1zM16 74h1v1h-1zM31 75h1v1h-1zM35 75h1v1h-1zM15 76h2v1h-2zM36 76h1v1h-1zM14 77h1v1h-1zM16 77h1v1h-1zM32 77h2v1h-2zM35 77h1v1h-1zM37 77h1v1h-1zM36 78h1v1h-1zM16 79h1v1h-1zM36 79h1v1h-1zM14 80h1v1h-1zM34 80h2v1h-2zM16 81h1v1h-1zM34 81h1v1h-1zM32 82h2v1h-2zM14 83h1v1h-1zM16 85h1v1h-1zM14 87h1v1h-1zM17 87h1v1h-1zM34 87h1v1h-1zM36 87h1v1h-1zM38 87h1v1h-1z"/>
<path fill="#a7ff58" d="M14 0h1v1h-1zM18 0h1v1h-1zM14 1h1v1h-1zM17 1h2v1h-2zM36 1h1v1h-1zM16 2h1v1h-1zM18 2h1v1h-1zM36 2h1v1h-1zM39 2h1v1h-1zM17 3h1v1h-1zM34 3h1v1h-1zM36 3h2v1h-2zM36 4h1v1h-1zM40 4h1v1h-1zM8 5h1v1h-1zM17 5h1v1h-1zM21 5h1v1h-1zM33 5h1v1h-1zM35 5h1v1h-1zM17 6h4v1h-4zM40 6h1v1h-1zM14 7h1v1h-1zM17 7h2v1h-2zM35 7h2v1h-2zM14 8h1v1h-1zM31 8h1v1h-1zM35 8h2v1h-2zM17 9h2v1h-2zM37 9h1v1h-1zM17 10h1v1h-1zM36 10h1v1h-1zM14 11h1v1h-1zM18 11h1v1h-1zM13 12h2v1h-2zM14 13h1v1h-1zM16 13h1v1h-1zM33 13h1v1h-1zM14 14h1v1h-1zM16 14h2v1h-2zM29 14h1v1h-1zM31 14h1v1h-1zM33 14h1v1h-1zM14 15h1v1h-1zM33 15h1v1h-1zM36 15h1v1h-1zM17 16h1v1h-1zM20 16h2v1h-2zM32 16h2v1h-2zM18 17h1v1h-1zM20 17h2v1h-2zM17 18h2v1h-2zM20 18h1v1h-1zM33 18h1v1h-1zM19 19h1v1h-1zM32 19h1v1h-1zM17 20h1v1h-1zM21 20h2v1h-2zM32 20h1v1h-1zM18 21h1v1h-1zM20 21h3v1h-3zM33 21h1v1h-1zM20 22h1v1h-1zM33 22h1v1h-1zM35 22h1v1h-1zM32 23h1v1h-1zM17 24h1v1h-1zM16 25h3v1h-3zM21 25h1v1h-1zM33 25h1v1h-1zM18 26h2v1h-2zM35 26h2v1h-2zM35 27h2v1h-2zM18 29h1v1h-1zM31 29h2v1h-2zM34 29h2v1h-2zM18 30h2v1h-2zM22 30h1v1h-1zM33 30h1v1h-1zM36 30h1v1h-1zM21 31h2v1h-2zM33 31h1v1h-1zM17 32h1v1h-1zM19 32h2v1h-2zM18 33h3v1h-3zM32 33h1v1h-1zM17 34h2v1h-2zM14 35h1v1h-1zM17 35h1v1h-1zM35 35h1v1h-1zM16 37h1v1h-1zM18 37h1v1h-1zM14 38h2v1h-2zM36 38h1v1h-1zM14 39h1v1h-1zM16 39h1v1h-1zM35 39h1v1h-1zM35 40h1v1h-1zM34 41h1v1h-1zM36 41h1v1h-1zM35 42h1v1h-1zM17 43h1v1h-1zM32 43h1v1h-1zM14 44h1v1h-1zM17 44h1v1h-1zM33 44h1v1h-1zM36 44h1v1h-1zM14 45h1v1h-1zM35 46h1v1h-1zM17 47h2v1h-2zM13 48h1v1h-1zM14 49h1v1h-1zM33 49h1v1h-1zM35 49h1v1h-1zM20 50h1v1h-1zM18 51h1v1h-1zM20 51h1v1h-1zM33 51h1v1h-1zM35 51h1v1h-1zM17 52h1v1h-1zM33 52h1v1h-1zM35 52h1v1h-1zM18 53h1v1h-1zM33 53h1v1h-1zM35 53h1v1h-1zM17 54h2v1h-2zM35 54h1v1h-1zM17 55h2v1h-2zM26 55h1v1h-1zM34 55h1v1h-1zM18 56h1v1h-1zM35 56h1v1h-1zM13 57h1v1h-1zM33 57h1v1h-1zM35 57h2v1h-2zM16 58h3v1h-3zM36 58h1v1h-1zM17 59h1v1h-1zM20 59h1v1h-1zM36 59h1v1h-1zM34 60h1v1h-1zM17 61h1v1h-1zM32 62h1v1h-1zM32 63h1v1h-1zM14 65h1v1h-1zM17 65h1v1h-1zM18 66h1v1h-1zM34 66h2v1h-2zM17 67h1v1h-1zM33 67h1v1h-1zM17 68h1v1h-1zM32 68h1v1h-1zM31 70h1v1h-1zM34 70h2v1h-2zM16 71h1v1h-1zM32 71h2v1h-2zM35 71h1v1h-1zM17 72h1v1h-1zM32 72h1v1h-1zM17 73h1v1h-1zM17 74h1v1h-1zM13 76h2v1h-2zM21 76h1v1h-1zM33 76h1v1h-1zM35 76h1v1h-1zM40 76h1v1h-1zM16 78h1v1h-1zM32 78h1v1h-1zM35 78h1v1h-1zM26 79h1v1h-1zM32 79h2v1h-2zM17 80h1v1h-1zM32 80h1v1h-1zM14 81h1v1h-1zM17 81h1v1h-1zM32 81h2v1h-2zM35 82h1v1h-1zM32 83h1v1h-1zM18 84h1v1h-1zM32 84h2v1h-2zM14 85h1v1h-1zM17 85h1v1h-1zM33 85h1v1h-1zM35 85h1v1h-1zM17 86h1v1h-1zM34 86h2v1h-2zM35 87h1v1h-1z"/>
<path fill="#c1ff3e" d="M19 0h5v1h-5zM25 0h1v1h-1zM33 0h1v1h-1zM35 0h1v1h-1zM26 1h1v1h-1zM29 1h1v1h-1zM34 1h1v1h-1zM17 2h1v1h-1zM21 2h1v1h-1zM32 2h3v1h-3zM18 3h1v1h-1zM18 4h1v1h-1zM20 4h2v1h-2zM29 4h1v1h-1zM35 4h1v1h-1zM29 5h1v1h-1zM31 5h1v1h-1zM21 6h2v1h-2zM19 7h1v1h-1zM32 7h1v1h-1zM37 7h1v1h-1zM17 8h2v1h-2zM29 8h2v1h-2zM32 8h1v1h-1zM18 10h1v1h-1zM20 10h1v1h-1zM24 10h2v1h-2zM32 10h4v1h-4zM20 11h1v1h-1zM28 11h1v1h-1zM32 11h2v1h-2zM18 12h3v1h-3zM25 12h1v1h-1zM29 12h1v1h-1zM33 12h1v1h-1zM25 13h1v1h-1zM18 14h1v1h-1zM28 14h1v1h-1zM35 14h1v1h-1zM18 15h1v1h-1zM29 15h1v1h-1zM31 15h2v1h-2zM35 15h1v1h-1zM16 16h1v1h-1zM18 16h2v1h-2zM35 16h1v1h-1zM22 17h1v1h-1zM32 17h1v1h-1zM35 17h2v1h-2zM19 18h1v1h-1zM21 18h1v1h-1zM26 18h1v1h-1zM17 19h2v1h-2zM20 19h4v1h-4zM25 19h1v1h-1zM19 20h2v1h-2zM24 21h1v1h-1zM18 22h1v1h-1zM24 22h2v1h-2zM32 22h1v1h-1zM19 23h3v1h-3zM24 23h1v1h-1zM27 23h1v1h-1zM19 24h3v1h-3zM23 24h3v1h-3zM27 24h1v1h-1zM35 24h1v1h-1zM19 25h1v1h-1zM32 25h1v1h-1zM35 25h1v1h-1zM20 26h2v1h-2zM29 26h1v1h-1zM31 26h2v1h-2zM16 27h3v1h-3zM20 27h2v1h-2zM29 27h1v1h-1zM31 27h2v1h-2zM18 28h2v1h-2zM21 28h3v1h-3zM32 28h1v1h-1zM30 29h1v1h-1zM20 30h1v1h-1zM31 30h1v1h-1zM34 30h1v1h-1zM18 31h1v1h-1zM20 31h1v1h-1zM23 31h1v1h-1zM29 31h2v1h-2zM34 31h1v1h-1zM41 31h1v1h-1zM21 32h2v1h-2zM28 32h1v1h-1zM32 32h3v1h-3zM21 33h1v1h-1zM27 33h4v1h-4zM33 33h1v1h-1zM20 34h1v1h-1zM24 34h2v1h-2zM33 34h1v1h-1zM18 35h1v1h-1zM29 35h1v1h-1zM33 35h1v1h-1zM19 36h1v1h-1zM33 36h1v1h-1zM35 36h1v1h-1zM19 37h2v1h-2zM32 37h2v1h-2zM20 38h1v1h-1zM33 38h1v1h-1zM17 39h1v1h-1zM21 39h1v1h-1zM32 39h2v1h-2zM17 40h2v1h-2zM20 40h1v1h-1zM26 40h3v1h-3zM31 40h3v1h-3zM18 41h1v1h-1zM20 41h2v1h-2zM31 41h1v1h-1zM18 42h1v1h-1zM20 42h2v1h-2zM31 42h1v1h-1zM18 43h1v1h-1zM21 43h1v1h-1zM18 44h1v1h-1zM20 44h1v1h-1zM35 44h1v1h-1zM18 45h1v1h-1zM20 45h1v1h-1zM27 45h1v1h-1zM24 46h1v1h-1zM29 46h1v1h-1zM22 47h1v1h-1zM14 48h1v1h-1zM29 48h1v1h-1zM35 48h1v1h-1zM25 49h1v1h-1zM31 49h1v1h-1zM19 50h1v1h-1zM21 50h1v1h-1zM19 51h1v1h-1zM21 51h1v1h-1zM18 52h1v1h-1zM20 52h2v1h-2zM34 52h1v1h-1zM20 53h2v1h-2zM25 53h1v1h-1zM29 53h1v1h-1zM19 54h1v1h-1zM24 54h1v1h-1zM26 54h1v1h-1zM34 54h1v1h-1zM19 55h2v1h-2zM33 55h1v1h-1zM26 56h1v1h-1zM32 56h1v1h-1zM18 57h3v1h-3zM29 57h2v1h-2zM32 57h1v1h-1zM19 58h2v1h-2zM32 58h1v1h-1zM18 59h1v1h-1zM29 59h2v1h-2zM33 59h1v1h-1zM18 60h1v1h-1zM31 60h2v1h-2zM36 60h1v1h-1zM36 61h1v1h-1zM17 62h1v1h-1zM27 62h1v1h-1zM29 62h1v1h-1zM17 63h1v1h-1zM23 63h1v1h-1zM29 63h1v1h-1zM35 63h1v1h-1zM16 64h2v1h-2zM18 65h1v1h-1zM33 65h1v1h-1zM35 65h1v1h-1zM32 66h2v1h-2zM18 67h1v1h-1zM20 67h1v1h-1zM29 67h1v1h-1zM17 69h1v1h-1zM29 69h1v1h-1zM33 69h1v1h-1zM17 70h1v1h-1zM33 70h1v1h-1zM28 71h3v1h-3zM14 72h1v1h-1zM18 72h1v1h-1zM21 72h1v1h-1zM31 72h1v1h-1zM16 73h1v1h-1zM18 73h1v1h-1zM20 73h2v1h-2zM32 73h1v1h-1zM18 74h1v1h-1zM33 74h1v1h-1zM35 74h1v1h-1zM16 75h1v1h-1zM18 75h1v1h-1zM32 75h1v1h-1zM17 76h2v1h-2zM20 76h1v1h-1zM30 76h2v1h-2zM22 77h1v1h-1zM17 78h1v1h-1zM27 78h1v1h-1zM29 78h1v1h-1zM17 79h1v1h-1zM25 79h1v1h-1zM29 79h1v1h-1zM31 79h1v1h-1zM27 80h1v1h-1zM22 81h1v1h-1zM17 82h3v1h-3zM21 82h1v1h-1zM27 82h1v1h-1zM31 82h1v1h-1zM18 83h1v1h-1zM31 83h1v1h-1zM35 83h2v1h-2zM17 84h1v1h-1zM20 84h2v1h-2zM26 84h3v1h-3zM34 84h1v1h-1zM18 85h1v1h-1zM21 85h1v1h-1zM14 86h1v1h-1zM18 86h1v1h-1zM33 86h1v1h-1zM18 87h1v1h-1zM29 87h1v1h-1zM32 87h2v1h-2z"/>
<path fill="#dbff24" d="M26 0h2v1h-2zM32 0h1v1h-1zM19 1h1v1h-1zM21 1h3v1h-3zM25 1h1v1h-1zM27 1h1v1h-1zM32 1h2v1h-2zM19 2h1v1h-1zM22 2h2v1h-2zM25 2h1v1h-1zM29 2h2v1h-2zM19 3h3v1h-3zM23 3h2v1h-2zM29 3h1v1h-1zM19 4h1v1h-1zM22 4h2v1h-2zM25 4h1v1h-1zM30 4h4v1h-4zM19 5h2v1h-2zM22 5h1v1h-1zM25 5h2v1h-2zM30 5h1v1h-1zM23 6h1v1h-1zM25 6h1v1h-1zM32 6h2v1h-2zM20 7h5v1h-5zM26 7h1v1h-1zM29 7h1v1h-1zM19 8h1v1h-1zM23 8h2v1h-2zM27 8h2v1h-2zM19 9h2v1h-2zM23 9h2v1h-2zM30 9h1v1h-1zM32 9h2v1h-2zM35 9h1v1h-1zM23 10h1v1h-1zM31 10h1v1h-1zM38 10h1v1h-1zM19 11h1v1h-1zM29 11h2v1h-2zM35 11h1v1h-1zM23 12h1v1h-1zM31 12h2v1h-2zM18 13h1v1h-1zM23 13h2v1h-2zM29 13h3v1h-3zM35 13h1v1h-1zM19 14h1v1h-1zM23 14h1v1h-1zM25 14h3v1h-3zM30 14h1v1h-1zM32 14h1v1h-1zM23 15h1v1h-1zM34 15h1v1h-1zM22 16h3v1h-3zM28 16h2v1h-2zM31 16h1v1h-1zM19 17h1v1h-1zM23 17h1v1h-1zM25 17h1v1h-1zM27 17h3v1h-3zM22 18h4v1h-4zM29 18h1v1h-1zM24 19h1v1h-1zM26 19h1v1h-1zM28 19h2v1h-2zM23 20h1v1h-1zM25 20h2v1h-2zM28 20h2v1h-2zM19 21h1v1h-1zM23 21h1v1h-1zM25 21h2v1h-2zM29 21h1v1h-1zM31 21h1v1h-1zM19 22h1v1h-1zM21 22h3v1h-3zM22 23h1v1h-1zM25 23h1v1h-1zM28 23h2v1h-2zM26 24h1v1h-1zM28 24h2v1h-2zM32 24h1v1h-1zM22 25h4v1h-4zM29 25h1v1h-1zM31 25h1v1h-1zM22 26h1v1h-1zM24 26h2v1h-2zM28 26h1v1h-1zM30 26h1v1h-1zM22 27h2v1h-2zM28 28h1v1h-1zM31 28h1v1h-1zM19 29h5v1h-5zM25 29h1v1h-1zM28 29h2v1h-2zM21 30h1v1h-1zM23 30h1v1h-1zM28 30h2v1h-2zM32 30h1v1h-1zM35 30h1v1h-1zM19 31h1v1h-1zM25 31h1v1h-1zM31 31h1v1h-1zM25 32h1v1h-1zM27 32h1v1h-1zM29 32h3v1h-3zM35 32h1v1h-1zM22 33h2v1h-2zM25 33h2v1h-2zM31 33h1v1h-1zM19 34h1v1h-1zM21 34h2v1h-2zM26 34h1v1h-1zM28 34h5v1h-5zM19 35h2v1h-2zM25 35h1v1h-1zM27 35h1v1h-1zM31 35h2v1h-2zM20 36h3v1h-3zM26 36h1v1h-1zM29 36h3v1h-3zM21 37h1v1h-1zM24 37h2v1h-2zM19 38h1v1h-1zM21 38h1v1h-1zM25 38h2v1h-2zM29 38h1v1h-1zM32 38h1v1h-1zM20 39h1v1h-1zM23 39h1v1h-1zM28 39h1v1h-1zM30 39h2v1h-2zM19 40h1v1h-1zM21 40h5v1h-5zM30 40h1v1h-1zM19 41h1v1h-1zM27 41h3v1h-3zM32 41h1v1h-1zM19 42h1v1h-1zM22 42h1v1h-1zM26 42h2v1h-2zM19 43h1v1h-1zM23 43h1v1h-1zM25 43h1v1h-1zM31 43h1v1h-1zM25 44h2v1h-2zM29 44h1v1h-1zM32 44h1v1h-1zM21 45h6v1h-6zM28 45h3v1h-3zM18 46h4v1h-4zM25 46h1v1h-1zM27 46h1v1h-1zM20 47h2v1h-2zM24 47h1v1h-1zM26 47h1v1h-1zM30 47h1v1h-1zM18 48h1v1h-1zM23 48h1v1h-1zM25 48h4v1h-4zM30 48h4v1h-4zM18 49h4v1h-4zM24 49h1v1h-1zM26 49h2v1h-2zM32 49h1v1h-1zM28 50h1v1h-1zM31 50h2v1h-2zM35 50h1v1h-1zM22 51h1v1h-1zM25 51h1v1h-1zM32 51h1v1h-1zM19 52h1v1h-1zM22 52h1v1h-1zM25 52h2v1h-2zM29 52h1v1h-1zM32 52h1v1h-1zM19 53h1v1h-1zM22 53h2v1h-2zM28 53h1v1h-1zM32 53h1v1h-1zM20 54h2v1h-2zM25 54h1v1h-1zM27 54h3v1h-3zM32 54h1v1h-1zM22 55h1v1h-1zM24 55h2v1h-2zM28 55h1v1h-1zM20 56h4v1h-4zM25 56h1v1h-1zM28 56h1v1h-1zM21 57h2v1h-2zM26 57h2v1h-2zM21 58h2v1h-2zM26 58h6v1h-6zM19 59h1v1h-1zM22 59h1v1h-1zM26 59h1v1h-1zM28 59h1v1h-1zM31 59h2v1h-2zM35 59h1v1h-1zM19 60h2v1h-2zM22 60h2v1h-2zM27 60h1v1h-1zM27 61h2v1h-2zM18 62h1v1h-1zM20 62h1v1h-1zM24 62h1v1h-1zM28 62h1v1h-1zM18 63h1v1h-1zM20 63h3v1h-3zM24 63h3v1h-3zM28 63h1v1h-1zM31 63h1v1h-1zM19 64h4v1h-4zM28 64h2v1h-2zM35 64h1v1h-1zM20 65h3v1h-3zM25 65h2v1h-2zM29 65h1v1h-1zM32 65h1v1h-1zM19 66h2v1h-2zM23 66h1v1h-1zM27 66h3v1h-3zM19 67h1v1h-1zM32 67h1v1h-1zM35 67h1v1h-1zM18 68h1v1h-1zM20 68h4v1h-4zM25 68h1v1h-1zM29 68h1v1h-1zM31 68h1v1h-1zM20 69h2v1h-2zM23 69h2v1h-2zM30 69h2v1h-2zM24 70h1v1h-1zM29 70h2v1h-2zM17 71h2v1h-2zM20 71h2v1h-2zM25 71h1v1h-1zM27 71h1v1h-1zM19 72h2v1h-2zM22 72h1v1h-1zM25 72h2v1h-2zM28 72h1v1h-1zM30 72h1v1h-1zM19 73h1v1h-1zM19 74h1v1h-1zM32 74h1v1h-1zM17 75h1v1h-1zM20 75h1v1h-1zM29 75h1v1h-1zM33 75h1v1h-1zM22 76h2v1h-2zM27 76h1v1h-1zM32 76h1v1h-1zM17 77h2v1h-2zM20 77h2v1h-2zM26 77h2v1h-2zM29 77h1v1h-1zM18 78h1v1h-1zM21 78h1v1h-1zM28 78h1v1h-1zM31 78h1v1h-1zM18 79h1v1h-1zM20 79h3v1h-3zM27 79h1v1h-1zM35 79h1v1h-1zM18 80h1v1h-1zM21 80h1v1h-1zM26 80h1v1h-1zM31 80h1v1h-1zM18 81h1v1h-1zM21 81h1v1h-1zM23 81h1v1h-1zM26 81h1v1h-1zM29 81h2v1h-2zM20 82h1v1h-1zM22 82h1v1h-1zM26 82h1v1h-1zM29 82h1v1h-1zM20 83h3v1h-3zM27 83h2v1h-2zM19 84h1v1h-1zM22 84h2v1h-2zM29 84h1v1h-1zM36 84h1v1h-1zM23 85h1v1h-1zM27 85h1v1h-1zM29 85h1v1h-1zM31 85h1v1h-1zM23 86h1v1h-1zM25 86h1v1h-1zM27 86h1v1h-1zM30 86h3v1h-3zM19 87h4v1h-4zM31 87h1v1h-1z"/>
<path fill="#f5ff0a" d="M24 0h1v1h-1zM30 1h2v1h-2zM26 2h1v1h-1zM25 3h2v1h-2zM31 3h2v1h-2zM24 4h1v1h-1zM26 4h1v1h-1zM23 5h2v1h-2zM32 5h1v1h-1zM24 6h1v1h-1zM26 6h1v1h-1zM29 6h2v1h-2zM25 7h1v1h-1zM20 8h1v1h-1zM26 8h1v1h-1zM25 9h1v1h-1zM27 9h3v1h-3zM31 9h1v1h-1zM19 10h1v1h-1zM26 10h2v1h-2zM29 10h1v1h-1zM23 11h5v1h-5zM31 11h1v1h-1zM24 12h1v1h-1zM26 12h3v1h-3zM19 13h1v1h-1zM26 13h2v1h-2zM32 13h1v1h-1zM24 14h1v1h-1zM19 15h1v1h-1zM25 15h1v1h-1zM28 15h1v1h-1zM30 15h1v1h-1zM26 16h1v1h-1zM24 17h1v1h-1zM30 17h2v1h-2zM27 18h2v1h-2zM31 18h1v1h-1zM27 19h1v1h-1zM30 19h2v1h-2zM27 20h1v1h-1zM30 20h2v1h-2zM28 21h1v1h-1zM30 21h1v1h-1zM26 22h2v1h-2zM29 22h3v1h-3zM23 23h1v1h-1zM26 23h1v1h-1zM31 23h1v1h-1zM31 24h1v1h-1zM27 25h2v1h-2zM23 26h1v1h-1zM26 26h1v1h-1zM19 27h1v1h-1zM24 27h5v1h-5zM30 27h1v1h-1zM24 28h2v1h-2zM27 28h1v1h-1zM29 28h2v1h-2zM24 29h1v1h-1zM26 29h2v1h-2zM24 30h4v1h-4zM26 31h1v1h-1zM28 31h1v1h-1zM23 32h1v1h-1zM26 32h1v1h-1zM24 33h1v1h-1zM23 34h1v1h-1zM27 34h1v1h-1zM21 35h2v1h-2zM24 35h1v1h-1zM26 35h1v1h-1zM28 35h1v1h-1zM30 35h1v1h-1zM23 36h1v1h-1zM27 36h1v1h-1zM32 36h1v1h-1zM22 37h2v1h-2zM26 37h1v1h-1zM29 37h1v1h-1zM31 37h1v1h-1zM17 38h2v1h-2zM23 38h2v1h-2zM27 38h2v1h-2zM31 38h1v1h-1zM18 39h1v1h-1zM22 39h1v1h-1zM24 39h4v1h-4zM29 39h1v1h-1zM29 40h1v1h-1zM22 41h3v1h-3zM26 41h1v1h-1zM23 42h2v1h-2zM28 42h1v1h-1zM30 42h1v1h-1zM20 43h1v1h-1zM22 43h1v1h-1zM24 43h1v1h-1zM26 43h1v1h-1zM29 43h1v1h-1zM19 44h1v1h-1zM21 44h2v1h-2zM27 44h1v1h-1zM19 45h1v1h-1zM32 45h1v1h-1zM22 46h2v1h-2zM26 46h1v1h-1zM30 46h3v1h-3zM19 47h1v1h-1zM25 47h1v1h-1zM27 47h3v1h-3zM31 47h1v1h-1zM19 48h4v1h-4zM24 48h1v1h-1zM22 49h1v1h-1zM29 49h2v1h-2zM22 50h6v1h-6zM29 50h2v1h-2zM23 51h2v1h-2zM26 51h2v1h-2zM29 51h2v1h-2zM23 52h2v1h-2zM27 52h2v1h-2zM24 53h1v1h-1zM26 53h2v1h-2zM31 53h1v1h-1zM22 54h2v1h-2zM30 54h2v1h-2zM21 55h1v1h-1zM23 55h1v1h-1zM27 55h1v1h-1zM29 55h1v1h-1zM31 55h2v1h-2zM19 56h1v1h-1zM24 56h1v1h-1zM27 56h1v1h-1zM29 56h1v1h-1zM31 56h1v1h-1zM23 57h3v1h-3zM28 57h1v1h-1zM25 58h1v1h-1zM21 59h1v1h-1zM25 59h1v1h-1zM27 59h1v1h-1zM21 60h1v1h-1zM24 60h3v1h-3zM29 60h2v1h-2zM18 61h1v1h-1zM20 61h1v1h-1zM22 61h2v1h-2zM26 61h1v1h-1zM29 61h1v1h-1zM31 61h2v1h-2zM19 62h1v1h-1zM21 62h3v1h-3zM25 62h2v1h-2zM30 62h1v1h-1zM19 63h1v1h-1zM30 63h1v1h-1zM18 64h1v1h-1zM23 64h5v1h-5zM19 65h1v1h-1zM23 65h2v1h-2zM27 65h2v1h-2zM31 65h1v1h-1zM21 66h2v1h-2zM24 66h3v1h-3zM21 67h1v1h-1zM24 67h5v1h-5zM19 68h1v1h-1zM24 68h1v1h-1zM26 68h3v1h-3zM30 68h1v1h-1zM18 69h2v1h-2zM22 69h1v1h-1zM26 69h3v1h-3zM32 69h1v1h-1zM18 70h1v1h-1zM20 70h4v1h-4zM25 70h3v1h-3zM22 71h2v1h-2zM26 71h1v1h-1zM31 71h1v1h-1zM23 72h2v1h-2zM27 72h1v1h-1zM29 72h1v1h-1zM22 73h3v1h-3zM31 73h1v1h-1zM20 74h4v1h-4zM25 74h1v1h-1zM31 74h1v1h-1zM21 75h3v1h-3zM27 75h1v1h-1zM30 75h1v1h-1zM19 76h1v1h-1zM24 76h3v1h-3zM29 76h1v1h-1zM19 77h1v1h-1zM23 77h1v1h-1zM25 77h1v1h-1zM19 78h2v1h-2zM22 78h5v1h-5zM30 78h1v1h-1zM19 79h1v1h-1zM23 79h2v1h-2zM28 79h1v1h-1zM30 79h1v1h-1zM22 80h2v1h-2zM28 80h2v1h-2zM20 81h1v1h-1zM27 81h2v1h-2zM25 82h1v1h-1zM28 82h1v1h-1zM19 83h1v1h-1zM24 83h3v1h-3zM29 83h2v1h-2zM24 84h2v1h-2zM31 84h1v1h-1zM35 84h1v1h-1zM19 85h2v1h-2zM24 85h2v1h-2zM28 85h1v1h-1zM30 85h1v1h-1zM32 85h1v1h-1zM19 86h3v1h-3zM24 86h1v1h-1zM29 86h1v1h-1zM23 87h1v1h-1zM28 87h1v1h-1zM30 87h1v1h-1z"/>
<path fill="#ffef00" d="M29 0h3v1h-3zM24 1h1v1h-1zM24 2h1v1h-1zM31 2h1v1h-1zM30 7h2v1h-2zM25 8h1v1h-1zM26 9h1v1h-1zM28 10h1v1h-1zM24 15h1v1h-1zM26 15h2v1h-2zM25 16h1v1h-1zM27 16h1v1h-1zM30 16h1v1h-1zM26 17h1v1h-1zM30 18h1v1h-1zM27 21h1v1h-1zM28 22h1v1h-1zM30 23h1v1h-1zM30 24h1v1h-1zM26 25h1v1h-1zM27 26h1v1h-1zM26 28h1v1h-1zM30 30h1v1h-1zM24 31h1v1h-1zM27 31h1v1h-1zM35 31h1v1h-1zM24 32h1v1h-1zM23 35h1v1h-1zM24 36h2v1h-2zM28 36h1v1h-1zM27 37h2v1h-2zM30 37h1v1h-1zM30 38h1v1h-1zM25 41h1v1h-1zM30 41h1v1h-1zM25 42h1v1h-1zM29 42h1v1h-1zM27 43h2v1h-2zM30 43h1v1h-1zM23 44h2v1h-2zM28 44h1v1h-1zM30 44h2v1h-2zM31 45h1v1h-1zM23 47h1v1h-1zM32 47h1v1h-1zM28 49h1v1h-1zM28 51h1v1h-1zM30 52h2v1h-2zM30 53h1v1h-1zM30 55h1v1h-1zM31 57h1v1h-1zM23 58h2v1h-2zM23 59h2v1h-2zM28 60h1v1h-1zM21 61h1v1h-1zM24 61h1v1h-1zM31 62h1v1h-1zM27 63h1v1h-1zM30 64h1v1h-1zM30 65h1v1h-1zM30 66h2v1h-2zM22 67h2v1h-2zM30 67h2v1h-2zM25 69h1v1h-1zM19 70h1v1h-1zM28 70h1v1h-1zM19 71h1v1h-1zM24 71h1v1h-1zM25 73h3v1h-3zM29 73h2v1h-2zM24 74h1v1h-1zM26 74h5v1h-5zM19 75h1v1h-1zM24 75h3v1h-3zM28 75h1v1h-1zM28 76h1v1h-1zM24 77h1v1h-1zM28 77h1v1h-1zM30 77h1v1h-1zM19 80h2v1h-2zM24 80h2v1h-2zM30 80h1v1h-1zM19 81h1v1h-1zM25 81h1v1h-1zM23 82h2v1h-2zM30 82h1v1h-1zM23 83h1v1h-1zM30 84h1v1h-1zM26 86h1v1h-1zM28 86h1v1h-1zM24 87h4v1h-4z"/>
<path fill="#ffd500" d="M30 3h1v1h-1zM31 6h1v1h-1zM30 12h1v1h-1zM22 38h1v1h-1zM28 46h1v1h-1zM30 56h1v1h-1zM19 61h1v1h-1zM25 61h1v1h-1zM30 61h1v1h-1zM31 64h1v1h-1zM28 73h1v1h-1zM24 81h1v1h-1zM26 85h1v1h-1z"/>
</g>
<rect x="410.3" y="389.7" width="236.10" height="236.30" fill="none" stroke="#4a4a4a" stroke-width="0.7"/>
<line x1="646.4" y1="392.0" x2="648.4" y2="392.0" stroke="#808080" stroke-width="0.6"/>
<text x="650.4" y="395.0" font-size="8.6" text-anchor="start">2000</text>
<line x1="646.4" y1="413.5" x2="648.4" y2="413.5" stroke="#808080" stroke-width="0.6"/>
<text x="650.4" y="416.5" font-size="8.6" text-anchor="start">2001</text>
<line x1="646.4" y1="435.0" x2="648.4" y2="435.0" stroke="#808080" stroke-width="0.6"/>
<text x="650.4" y="438.0" font-size="8.6" text-anchor="start">2002</text>
<line x1="646.4" y1="456.4" x2="648.4" y2="456.4" stroke="#808080" stroke-width="0.6"/>
<text x="650.4" y="459.4" font-size="8.6" text-anchor="start">2003</text>
<line x1="646.4" y1="477.9" x2="648.4" y2="477.9" stroke="#808080" stroke-width="0.6"/>
<text x="650.4" y="480.9" font-size="8.6" text-anchor="start">2004</text>
<line x1="646.4" y1="499.4" x2="648.4" y2="499.4" stroke="#808080" stroke-width="0.6"/>
<text x="650.4" y="502.4" font-size="8.6" text-anchor="start">2005</text>
<line x1="646.4" y1="520.9" x2="648.4" y2="520.9" stroke="#808080" stroke-width="0.6"/>
<text x="650.4" y="523.9" font-size="8.6" text-anchor="start">2006</text>
<line x1="646.4" y1="542.4" x2="648.4" y2="542.4" stroke="#808080" stroke-width="0.6"/>
<text x="650.4" y="545.4" font-size="8.6" text-anchor="start">2007</text>
<line x1="646.4" y1="563.9" x2="648.4" y2="563.9" stroke="#808080" stroke-width="0.6"/>
<text x="650.4" y="566.9" font-size="8.6" text-anchor="start">2008</text>
<line x1="646.4" y1="585.3" x2="648.4" y2="585.3" stroke="#808080" stroke-width="0.6"/>
<text x="650.4" y="588.3" font-size="8.6" text-anchor="start">2009</text>
<line x1="646.4" y1="606.8" x2="648.4" y2="606.8" stroke="#808080" stroke-width="0.6"/>
<text x="650.4" y="609.8" font-size="8.6" text-anchor="start">2010</text>
<rect x="670.5" y="389.7" width="61.60" height="236.60" fill="#fff" stroke="#808080" stroke-width="1"/>
<text x="670.5" y="636.6" font-size="9.3" text-anchor="middle">263</text>
<line x1="696.0" y1="389.7" x2="696.0" y2="391.7" stroke="#808080" stroke-width="0.6"/>
<line x1="696.0" y1="626.3" x2="696.0" y2="624.3" stroke="#808080" stroke-width="0.6"/>
<text x="696.0" y="636.6" font-size="9.3" text-anchor="middle">278</text>
<line x1="721.5" y1="389.7" x2="721.5" y2="391.7" stroke="#808080" stroke-width="0.6"/>
<line x1="721.5" y1="626.3" x2="721.5" y2="624.3" stroke="#808080" stroke-width="0.6"/>
<text x="721.5" y="636.6" font-size="9.3" text-anchor="middle">293</text>
<text x="700.9" y="645.8" font-size="9.3" text-anchor="middle">LST (K)</text>
<svg x="670.5" y="389.7" width="61.60" height="236.60" viewBox="670.5 389.7 61.60 236.60" overflow="hidden">
<path d="M708.8 400.7H691.6M726.1 400.7H729.0" stroke="#1a9a3a" stroke-width="1.3" stroke-dasharray="6.5 2.5" fill="none"/>
<path d="M691.6 399.8V401.6M729.0 399.8V401.6" stroke="#1a9a3a" stroke-width="1.3" fill="none"/>
<rect x="708.8" y="398.3" width="17.3" height="4.8" fill="none" stroke="#1a9a3a" stroke-width="1.2"/>
<line x1="719.1" y1="398.3" x2="719.1" y2="403.1" stroke="#1a9a3a" stroke-width="1.2"/>
<path d="M709.8 405.9H687.0M725.6 405.9H733.1" stroke="#d62728" stroke-width="1.3" stroke-dasharray="6.5 2.5" fill="none"/>
<path d="M687.0 405.0V406.8M733.1 405.0V406.8" stroke="#d62728" stroke-width="1.3" fill="none"/>
<rect x="709.8" y="403.5" width="15.8" height="4.8" fill="none" stroke="#d62728" stroke-width="1.2"/>
<line x1="720.6" y1="403.5" x2="720.6" y2="408.3" stroke="#d62728" stroke-width="1.2"/>
<path d="M678.8 405.9h3.4M680.5 404.2v3.4" stroke="#d62728" stroke-width="0.9"/>
<path d="M683.8 405.9h3.4M685.5 404.2v3.4" stroke="#d62728" stroke-width="0.9"/>
<path d="M702.6 422.2H691.6M725.1 422.2H728.1" stroke="#1a9a3a" stroke-width="1.3" stroke-dasharray="6.5 2.5" fill="none"/>
<path d="M691.6 421.3V423.1M728.1 421.3V423.1" stroke="#1a9a3a" stroke-width="1.3" fill="none"/>
<rect x="702.6" y="419.8" width="22.4" height="4.8" fill="none" stroke="#1a9a3a" stroke-width="1.2"/>
<line x1="712.5" y1="419.8" x2="712.5" y2="424.6" stroke="#1a9a3a" stroke-width="1.2"/>
<path d="M703.1 427.4H675.9M722.4 427.4H730.5" stroke="#d62728" stroke-width="1.3" stroke-dasharray="6.5 2.5" fill="none"/>
<path d="M675.9 426.5V428.3M730.5 426.5V428.3" stroke="#d62728" stroke-width="1.3" fill="none"/>
<rect x="703.1" y="425.0" width="19.2" height="4.8" fill="none" stroke="#d62728" stroke-width="1.2"/>
<line x1="713.7" y1="425.0" x2="713.7" y2="429.8" stroke="#d62728" stroke-width="1.2"/>
<path d="M701.4 443.7H691.2M724.4 443.7H728.1" stroke="#1a9a3a" stroke-width="1.3" stroke-dasharray="6.5 2.5" fill="none"/>
<path d="M691.2 442.8V444.6M728.1 442.8V444.6" stroke="#1a9a3a" stroke-width="1.3" fill="none"/>
<rect x="701.4" y="441.3" width="23.0" height="4.8" fill="none" stroke="#1a9a3a" stroke-width="1.2"/>
<line x1="716.6" y1="441.3" x2="716.6" y2="446.1" stroke="#1a9a3a" stroke-width="1.2"/>
<path d="M702.6 449.0H680.5M724.4 449.0H729.7" stroke="#d62728" stroke-width="1.3" stroke-dasharray="6.5 2.5" fill="none"/>
<path d="M680.5 448.1V449.9M729.7 448.1V449.9" stroke="#d62728" stroke-width="1.3" fill="none"/>
<rect x="702.6" y="446.6" width="21.8" height="4.8" fill="none" stroke="#d62728" stroke-width="1.2"/>
<line x1="717.9" y1="446.6" x2="717.9" y2="451.4" stroke="#d62728" stroke-width="1.2"/>
<path d="M701.4 465.2H692.8M723.5 465.2H728.5" stroke="#1a9a3a" stroke-width="1.3" stroke-dasharray="6.5 2.5" fill="none"/>
<path d="M692.8 464.3V466.1M728.5 464.3V466.1" stroke="#1a9a3a" stroke-width="1.3" fill="none"/>
<rect x="701.4" y="462.8" width="22.1" height="4.8" fill="none" stroke="#1a9a3a" stroke-width="1.2"/>
<line x1="713.3" y1="462.8" x2="713.3" y2="467.6" stroke="#1a9a3a" stroke-width="1.2"/>
<path d="M703.5 470.5H678.8M723.2 470.5H732.2" stroke="#d62728" stroke-width="1.3" stroke-dasharray="6.5 2.5" fill="none"/>
<path d="M678.8 469.6V471.4M732.2 469.6V471.4" stroke="#d62728" stroke-width="1.3" fill="none"/>
<rect x="703.5" y="468.1" width="19.7" height="4.8" fill="none" stroke="#d62728" stroke-width="1.2"/>
<line x1="715.7" y1="468.1" x2="715.7" y2="472.9" stroke="#d62728" stroke-width="1.2"/>
<path d="M701.8 486.7H691.9M724.7 486.7H728.1" stroke="#1a9a3a" stroke-width="1.3" stroke-dasharray="6.5 2.5" fill="none"/>
<path d="M691.9 485.8V487.6M728.1 485.8V487.6" stroke="#1a9a3a" stroke-width="1.3" fill="none"/>
<rect x="701.8" y="484.3" width="23.0" height="4.8" fill="none" stroke="#1a9a3a" stroke-width="1.2"/>
<line x1="714.7" y1="484.3" x2="714.7" y2="489.1" stroke="#1a9a3a" stroke-width="1.2"/>
<path d="M704.3 492.0H678.0M723.2 492.0H729.7" stroke="#d62728" stroke-width="1.3" stroke-dasharray="6.5 2.5" fill="none"/>
<path d="M678.0 491.1V492.9M729.7 491.1V492.9" stroke="#d62728" stroke-width="1.3" fill="none"/>
<rect x="704.3" y="489.6" width="18.9" height="4.8" fill="none" stroke="#d62728" stroke-width="1.2"/>
<line x1="714.9" y1="489.6" x2="714.9" y2="494.4" stroke="#d62728" stroke-width="1.2"/>
<path d="M703.6 508.2H694.5M725.1 508.2H729.3" stroke="#1a9a3a" stroke-width="1.3" stroke-dasharray="6.5 2.5" fill="none"/>
<path d="M694.5 507.3V509.1M729.3 507.3V509.1" stroke="#1a9a3a" stroke-width="1.3" fill="none"/>
<rect x="703.6" y="505.8" width="21.4" height="4.8" fill="none" stroke="#1a9a3a" stroke-width="1.2"/>
<line x1="709.8" y1="505.8" x2="709.8" y2="510.6" stroke="#1a9a3a" stroke-width="1.2"/>
<path d="M703.6 513.5H685.1M725.1 513.5H731.5" stroke="#d62728" stroke-width="1.3" stroke-dasharray="6.5 2.5" fill="none"/>
<path d="M685.1 512.6V514.4M731.5 512.6V514.4" stroke="#d62728" stroke-width="1.3" fill="none"/>
<rect x="703.6" y="511.1" width="21.4" height="4.8" fill="none" stroke="#d62728" stroke-width="1.2"/>
<line x1="714.7" y1="511.1" x2="714.7" y2="515.9" stroke="#d62728" stroke-width="1.2"/>
<path d="M701.8 529.7H689.5M724.2 529.7H728.3" stroke="#1a9a3a" stroke-width="1.3" stroke-dasharray="6.5 2.5" fill="none"/>
<path d="M689.5 528.8V530.6M728.3 528.8V530.6" stroke="#1a9a3a" stroke-width="1.3" fill="none"/>
<rect x="701.8" y="527.3" width="22.4" height="4.8" fill="none" stroke="#1a9a3a" stroke-width="1.2"/>
<line x1="714.7" y1="527.3" x2="714.7" y2="532.1" stroke="#1a9a3a" stroke-width="1.2"/>
<path d="M705.4 535.0H684.1M724.2 535.0H729.3" stroke="#d62728" stroke-width="1.3" stroke-dasharray="6.5 2.5" fill="none"/>
<path d="M684.1 534.1V535.9M729.3 534.1V535.9" stroke="#d62728" stroke-width="1.3" fill="none"/>
<rect x="705.4" y="532.6" width="18.9" height="4.8" fill="none" stroke="#d62728" stroke-width="1.2"/>
<line x1="715.0" y1="532.6" x2="715.0" y2="537.4" stroke="#d62728" stroke-width="1.2"/>
<path d="M699.4 551.3H692.6M724.2 551.3H728.3" stroke="#1a9a3a" stroke-width="1.3" stroke-dasharray="6.5 2.5" fill="none"/>
<path d="M692.6 550.4V552.2M728.3 550.4V552.2" stroke="#1a9a3a" stroke-width="1.3" fill="none"/>
<rect x="699.4" y="548.9" width="24.8" height="4.8" fill="none" stroke="#1a9a3a" stroke-width="1.2"/>
<line x1="715.4" y1="548.9" x2="715.4" y2="553.7" stroke="#1a9a3a" stroke-width="1.2"/>
<path d="M704.0 556.5H682.2M723.9 556.5H730.7" stroke="#d62728" stroke-width="1.3" stroke-dasharray="6.5 2.5" fill="none"/>
<path d="M682.2 555.6V557.4M730.7 555.6V557.4" stroke="#d62728" stroke-width="1.3" fill="none"/>
<rect x="704.0" y="554.1" width="19.9" height="4.8" fill="none" stroke="#d62728" stroke-width="1.2"/>
<line x1="715.9" y1="554.1" x2="715.9" y2="558.9" stroke="#d62728" stroke-width="1.2"/>
<path d="M668.8 556.5h3.4M670.5 554.8v3.4" stroke="#d62728" stroke-width="0.9"/>
<path d="M700.2 572.8H689.5M724.2 572.8H728.3" stroke="#1a9a3a" stroke-width="1.3" stroke-dasharray="6.5 2.5" fill="none"/>
<path d="M689.5 571.9V573.7M728.3 571.9V573.7" stroke="#1a9a3a" stroke-width="1.3" fill="none"/>
<rect x="700.2" y="570.4" width="24.0" height="4.8" fill="none" stroke="#1a9a3a" stroke-width="1.2"/>
<line x1="710.5" y1="570.4" x2="710.5" y2="575.2" stroke="#1a9a3a" stroke-width="1.2"/>
<path d="M703.0 578.0H682.7M724.2 578.0H731.5" stroke="#d62728" stroke-width="1.3" stroke-dasharray="6.5 2.5" fill="none"/>
<path d="M682.7 577.1V578.9M731.5 577.1V578.9" stroke="#d62728" stroke-width="1.3" fill="none"/>
<rect x="703.0" y="575.6" width="21.2" height="4.8" fill="none" stroke="#d62728" stroke-width="1.2"/>
<line x1="714.7" y1="575.6" x2="714.7" y2="580.4" stroke="#d62728" stroke-width="1.2"/>
<path d="M700.6 594.3H690.7M725.1 594.3H729.3" stroke="#1a9a3a" stroke-width="1.3" stroke-dasharray="6.5 2.5" fill="none"/>
<path d="M690.7 593.4V595.2M729.3 593.4V595.2" stroke="#1a9a3a" stroke-width="1.3" fill="none"/>
<rect x="700.6" y="591.9" width="24.5" height="4.8" fill="none" stroke="#1a9a3a" stroke-width="1.2"/>
<line x1="713.5" y1="591.9" x2="713.5" y2="596.7" stroke="#1a9a3a" stroke-width="1.2"/>
<path d="M704.3 599.5H684.6M724.6 599.5H730.7" stroke="#d62728" stroke-width="1.3" stroke-dasharray="6.5 2.5" fill="none"/>
<path d="M684.6 598.6V600.4M730.7 598.6V600.4" stroke="#d62728" stroke-width="1.3" fill="none"/>
<rect x="704.3" y="597.1" width="20.2" height="4.8" fill="none" stroke="#d62728" stroke-width="1.2"/>
<line x1="714.7" y1="597.1" x2="714.7" y2="601.9" stroke="#d62728" stroke-width="1.2"/>
<path d="M671.3 599.5h3.4M673.0 597.8v3.4" stroke="#d62728" stroke-width="0.9"/>
<path d="M701.3 615.8H686.0M726.1 615.8H730.0" stroke="#1a9a3a" stroke-width="1.3" stroke-dasharray="6.5 2.5" fill="none"/>
<path d="M686.0 614.9V616.7M730.0 614.9V616.7" stroke="#1a9a3a" stroke-width="1.3" fill="none"/>
<rect x="701.3" y="613.4" width="24.8" height="4.8" fill="none" stroke="#1a9a3a" stroke-width="1.2"/>
<line x1="711.6" y1="613.4" x2="711.6" y2="618.2" stroke="#1a9a3a" stroke-width="1.2"/>
<path d="M701.3 621.0H678.1M725.1 621.0H731.2" stroke="#d62728" stroke-width="1.3" stroke-dasharray="6.5 2.5" fill="none"/>
<path d="M678.1 620.1V621.9M731.2 620.1V621.9" stroke="#d62728" stroke-width="1.3" fill="none"/>
<rect x="701.3" y="618.6" width="23.8" height="4.8" fill="none" stroke="#d62728" stroke-width="1.2"/>
<line x1="714.7" y1="618.6" x2="714.7" y2="623.4" stroke="#d62728" stroke-width="1.2"/>
</svg>
<rect x="411.7" y="631.9" width="233.90" height="50.70" fill="#fff" stroke="#808080" stroke-width="1"/>
<line x1="411.7" y1="682.6" x2="413.7" y2="682.6" stroke="#808080" stroke-width="0.6"/>
<line x1="645.6" y1="682.6" x2="643.6" y2="682.6" stroke="#808080" stroke-width="0.6"/>
<text x="409.5" y="685.8" font-size="9.3" text-anchor="end">270</text>
<line x1="411.7" y1="669.9" x2="413.7" y2="669.9" stroke="#808080" stroke-width="0.6"/>
<line x1="645.6" y1="669.9" x2="643.6" y2="669.9" stroke="#808080" stroke-width="0.6"/>
<text x="409.5" y="673.1" font-size="9.3" text-anchor="end">280</text>
<line x1="411.7" y1="657.2" x2="413.7" y2="657.2" stroke="#808080" stroke-width="0.6"/>
<line x1="645.6" y1="657.2" x2="643.6" y2="657.2" stroke="#808080" stroke-width="0.6"/>
<text x="409.5" y="660.5" font-size="9.3" text-anchor="end">290</text>
<line x1="411.7" y1="644.6" x2="413.7" y2="644.6" stroke="#808080" stroke-width="0.6"/>
<line x1="645.6" y1="644.6" x2="643.6" y2="644.6" stroke="#808080" stroke-width="0.6"/>
<text x="409.5" y="647.8" font-size="9.3" text-anchor="end">300</text>
<line x1="414.0" y1="631.9" x2="414.0" y2="633.9" stroke="#808080" stroke-width="0.6"/>
<line x1="414.0" y1="682.6" x2="414.0" y2="680.6" stroke="#808080" stroke-width="0.6"/>
<text x="414.0" y="694.0" font-size="9.3" text-anchor="middle">1</text>
<line x1="429.6" y1="631.9" x2="429.6" y2="633.9" stroke="#808080" stroke-width="0.6"/>
<line x1="429.6" y1="682.6" x2="429.6" y2="680.6" stroke="#808080" stroke-width="0.6"/>
<text x="429.6" y="694.0" font-size="9.3" text-anchor="middle">4</text>
<line x1="445.2" y1="631.9" x2="445.2" y2="633.9" stroke="#808080" stroke-width="0.6"/>
<line x1="445.2" y1="682.6" x2="445.2" y2="680.6" stroke="#808080" stroke-width="0.6"/>
<text x="445.2" y="694.0" font-size="9.3" text-anchor="middle">7</text>
<line x1="460.8" y1="631.9" x2="460.8" y2="633.9" stroke="#808080" stroke-width="0.6"/>
<line x1="460.8" y1="682.6" x2="460.8" y2="680.6" stroke="#808080" stroke-width="0.6"/>
<text x="460.8" y="694.0" font-size="9.3" text-anchor="middle">10</text>
<line x1="476.4" y1="631.9" x2="476.4" y2="633.9" stroke="#808080" stroke-width="0.6"/>
<line x1="476.4" y1="682.6" x2="476.4" y2="680.6" stroke="#808080" stroke-width="0.6"/>
<text x="476.4" y="694.0" font-size="9.3" text-anchor="middle">13</text>
<line x1="492.0" y1="631.9" x2="492.0" y2="633.9" stroke="#808080" stroke-width="0.6"/>
<line x1="492.0" y1="682.6" x2="492.0" y2="680.6" stroke="#808080" stroke-width="0.6"/>
<text x="492.0" y="694.0" font-size="9.3" text-anchor="middle">16</text>
<line x1="507.6" y1="631.9" x2="507.6" y2="633.9" stroke="#808080" stroke-width="0.6"/>
<line x1="507.6" y1="682.6" x2="507.6" y2="680.6" stroke="#808080" stroke-width="0.6"/>
<text x="507.6" y="694.0" font-size="9.3" text-anchor="middle">19</text>
<line x1="523.2" y1="631.9" x2="523.2" y2="633.9" stroke="#808080" stroke-width="0.6"/>
<line x1="523.2" y1="682.6" x2="523.2" y2="680.6" stroke="#808080" stroke-width="0.6"/>
<text x="523.2" y="694.0" font-size="9.3" text-anchor="middle">22</text>
<line x1="538.8" y1="631.9" x2="538.8" y2="633.9" stroke="#808080" stroke-width="0.6"/>
<line x1="538.8" y1="682.6" x2="538.8" y2="680.6" stroke="#808080" stroke-width="0.6"/>
<text x="538.8" y="694.0" font-size="9.3" text-anchor="middle">25</text>
<line x1="554.4" y1="631.9" x2="554.4" y2="633.9" stroke="#808080" stroke-width="0.6"/>
<line x1="554.4" y1="682.6" x2="554.4" y2="680.6" stroke="#808080" stroke-width="0.6"/>
<text x="554.4" y="694.0" font-size="9.3" text-anchor="middle">28</text>
<line x1="570.0" y1="631.9" x2="570.0" y2="633.9" stroke="#808080" stroke-width="0.6"/>
<line x1="570.0" y1="682.6" x2="570.0" y2="680.6" stroke="#808080" stroke-width="0.6"/>
<text x="570.0" y="694.0" font-size="9.3" text-anchor="middle">31</text>
<line x1="585.6" y1="631.9" x2="585.6" y2="633.9" stroke="#808080" stroke-width="0.6"/>
<line x1="585.6" y1="682.6" x2="585.6" y2="680.6" stroke="#808080" stroke-width="0.6"/>
<text x="585.6" y="694.0" font-size="9.3" text-anchor="middle">34</text>
<line x1="601.2" y1="631.9" x2="601.2" y2="633.9" stroke="#808080" stroke-width="0.6"/>
<line x1="601.2" y1="682.6" x2="601.2" y2="680.6" stroke="#808080" stroke-width="0.6"/>
<text x="601.2" y="694.0" font-size="9.3" text-anchor="middle">37</text>
<line x1="616.8" y1="631.9" x2="616.8" y2="633.9" stroke="#808080" stroke-width="0.6"/>
<line x1="616.8" y1="682.6" x2="616.8" y2="680.6" stroke="#808080" stroke-width="0.6"/>
<text x="616.8" y="694.0" font-size="9.3" text-anchor="middle">40</text>
<line x1="632.4" y1="631.9" x2="632.4" y2="633.9" stroke="#808080" stroke-width="0.6"/>
<line x1="632.4" y1="682.6" x2="632.4" y2="680.6" stroke="#808080" stroke-width="0.6"/>
<text x="632.4" y="694.0" font-size="9.3" text-anchor="middle">43</text>
<text x="528.5" y="703.4" font-size="9.3" text-anchor="middle">8–Day Period of Year</text>
<text x="387.2" y="657.5" font-size="9.3" text-anchor="middle" transform="rotate(-90 387.2 657.5)" dy="3.2">LST (K)</text>
<svg x="411.7" y="631.9" width="233.90" height="50.70" viewBox="411.7 631.9 233.90 50.70" overflow="hidden">
<path d="M414.0 678.5V670.1M419.2 679.6V671.1M424.4 679.1V670.6M429.6 678.0V669.5M434.8 678.0V669.5M440.0 677.5V669.0M445.2 675.5V667.0M450.4 676.9V668.4M455.6 672.6V664.1M460.8 671.7V663.2M466.0 670.4V661.9M471.2 669.3V660.8M476.4 668.5V660.0M481.6 666.9V658.4M486.8 665.5V657.0M492.0 662.8V654.3M497.2 661.7V653.2M502.4 660.3V651.8M507.6 658.3V649.8M512.8 657.0V648.5M518.0 656.5V648.0M523.2 657.0V648.5M528.4 657.2V648.8M533.6 656.6V648.1M538.8 656.1V647.6M544.0 656.6V648.1M549.2 656.1V647.6M554.4 656.1V647.6M559.6 655.7V647.2M564.8 656.1V647.6M570.0 657.4V648.9M575.2 658.3V649.8M580.4 659.4V650.9M585.6 660.7V652.2M590.8 662.3V653.8M596.0 664.3V655.9M601.2 666.4V657.9M606.4 668.2V659.7M611.6 668.9V660.4M616.8 669.5V661.1M622.0 673.3V664.9M627.2 674.2V665.7M632.4 677.4V668.9M637.6 677.4V668.9M642.8 677.9V669.4" stroke="#d62728" stroke-width="1.4" fill="none"/>
<path d="M414.0 673.2L419.2 674.2L424.4 673.7L429.6 672.7L434.8 672.7L440.0 672.2L445.2 670.2L450.4 671.6L455.6 667.3L460.8 666.4L466.0 665.1L471.2 664.0L476.4 663.2L481.6 661.6L486.8 660.2L492.0 657.5L497.2 656.4L502.4 655.0L507.6 652.9L512.8 651.7L518.0 651.2L523.2 651.7L528.4 651.9L533.6 651.3L538.8 650.8L544.0 651.3L549.2 650.8L554.4 650.8L559.6 650.4L564.8 650.8L570.0 652.1L575.2 652.9L580.4 654.1L585.6 655.3L590.8 657.0L596.0 659.0L601.2 661.1L606.4 662.8L611.6 663.6L616.8 664.2L622.0 668.0L627.2 668.9L632.4 672.1L637.6 672.1L642.8 672.6" stroke="#d62728" stroke-width="1.6" fill="none"/>
<circle cx="414.0" cy="673.2" r="2.3" fill="#d62728"/><circle cx="419.2" cy="674.2" r="2.3" fill="#d62728"/><circle cx="424.4" cy="673.7" r="2.3" fill="#d62728"/><circle cx="429.6" cy="672.7" r="2.3" fill="#d62728"/><circle cx="434.8" cy="672.7" r="2.3" fill="#d62728"/><circle cx="440.0" cy="672.2" r="2.3" fill="#d62728"/><circle cx="445.2" cy="670.2" r="2.3" fill="#d62728"/><circle cx="450.4" cy="671.6" r="2.3" fill="#d62728"/><circle cx="455.6" cy="667.3" r="2.3" fill="#d62728"/><circle cx="460.8" cy="666.4" r="2.3" fill="#d62728"/><circle cx="466.0" cy="665.1" r="2.3" fill="#d62728"/><circle cx="471.2" cy="664.0" r="2.3" fill="#d62728"/><circle cx="476.4" cy="663.2" r="2.3" fill="#d62728"/><circle cx="481.6" cy="661.6" r="2.3" fill="#d62728"/><circle cx="486.8" cy="660.2" r="2.3" fill="#d62728"/><circle cx="492.0" cy="657.5" r="2.3" fill="#d62728"/><circle cx="497.2" cy="656.4" r="2.3" fill="#d62728"/><circle cx="502.4" cy="655.0" r="2.3" fill="#d62728"/><circle cx="507.6" cy="652.9" r="2.3" fill="#d62728"/><circle cx="512.8" cy="651.7" r="2.3" fill="#d62728"/><circle cx="518.0" cy="651.2" r="2.3" fill="#d62728"/><circle cx="523.2" cy="651.7" r="2.3" fill="#d62728"/><circle cx="528.4" cy="651.9" r="2.3" fill="#d62728"/><circle cx="533.6" cy="651.3" r="2.3" fill="#d62728"/><circle cx="538.8" cy="650.8" r="2.3" fill="#d62728"/><circle cx="544.0" cy="651.3" r="2.3" fill="#d62728"/><circle cx="549.2" cy="650.8" r="2.3" fill="#d62728"/><circle cx="554.4" cy="650.8" r="2.3" fill="#d62728"/><circle cx="559.6" cy="650.4" r="2.3" fill="#d62728"/><circle cx="564.8" cy="650.8" r="2.3" fill="#d62728"/><circle cx="570.0" cy="652.1" r="2.3" fill="#d62728"/><circle cx="575.2" cy="652.9" r="2.3" fill="#d62728"/><circle cx="580.4" cy="654.1" r="2.3" fill="#d62728"/><circle cx="585.6" cy="655.3" r="2.3" fill="#d62728"/><circle cx="590.8" cy="657.0" r="2.3" fill="#d62728"/><circle cx="596.0" cy="659.0" r="2.3" fill="#d62728"/><circle cx="601.2" cy="661.1" r="2.3" fill="#d62728"/><circle cx="606.4" cy="662.8" r="2.3" fill="#d62728"/><circle cx="611.6" cy="663.6" r="2.3" fill="#d62728"/><circle cx="616.8" cy="664.2" r="2.3" fill="#d62728"/><circle cx="622.0" cy="668.0" r="2.3" fill="#d62728"/><circle cx="627.2" cy="668.9" r="2.3" fill="#d62728"/><circle cx="632.4" cy="672.1" r="2.3" fill="#d62728"/><circle cx="637.6" cy="672.1" r="2.3" fill="#d62728"/><circle cx="642.8" cy="672.6" r="2.3" fill="#d62728"/>
<path d="M414.0 675.6V669.3M419.2 676.6V670.3M424.4 676.1V669.8M429.6 675.1V668.8M434.8 675.1V668.8M440.0 674.6V668.3M445.2 672.6V666.2M450.4 674.0V667.6M455.6 669.7V663.3M460.8 668.8V662.4M466.0 667.5V661.2M471.2 666.4V660.0M476.4 665.6V659.3M481.6 664.0V657.6M486.8 662.6V656.2M492.0 659.9V653.6M497.2 658.8V652.4M502.4 657.4V651.0M507.6 655.3V649.0M512.8 654.1V647.7M518.0 653.6V647.2M523.2 654.1V647.7M528.4 654.3V648.0M533.6 653.7V647.4M538.8 653.2V646.9M544.0 653.7V647.4M549.2 653.2V646.9M554.4 653.2V646.9M559.6 652.8V646.5M564.8 653.2V646.9M570.0 654.5V648.1M575.2 655.3V649.0M580.4 656.5V650.2M585.6 657.8V651.4M590.8 659.4V653.1M596.0 661.4V655.1M601.2 663.5V657.1M606.4 665.2V658.9M611.6 666.0V659.7M616.8 666.6V660.3M622.0 670.4V664.1M627.2 672.8V666.5M632.4 674.5V668.2M637.6 674.5V668.2M642.8 675.0V668.7" stroke="#1a9a3a" stroke-width="1.4" fill="none"/>
<path d="M414.0 672.5L419.2 673.5L424.4 673.0L429.6 672.0L434.8 672.0L440.0 671.4L445.2 669.4L450.4 670.8L455.6 666.5L460.8 665.6L466.0 664.3L471.2 663.2L476.4 662.4L481.6 660.8L486.8 659.4L492.0 656.7L497.2 655.6L502.4 654.2L507.6 652.2L512.8 650.9L518.0 650.4L523.2 650.9L528.4 651.2L533.6 650.5L538.8 650.0L544.0 650.5L549.2 650.0L554.4 650.0L559.6 649.6L564.8 650.0L570.0 651.3L575.2 652.2L580.4 653.3L585.6 654.6L590.8 656.2L596.0 658.3L601.2 660.3L606.4 662.1L611.6 662.8L616.8 663.5L622.0 667.3L627.2 669.7L632.4 671.3L637.6 671.3L642.8 671.8" stroke="#1a9a3a" stroke-width="1.6" fill="none"/>
<rect x="411.8" y="670.3" width="4.4" height="4.4" fill="#1a9a3a"/><rect x="417.0" y="671.3" width="4.4" height="4.4" fill="#1a9a3a"/><rect x="422.2" y="670.8" width="4.4" height="4.4" fill="#1a9a3a"/><rect x="427.4" y="669.8" width="4.4" height="4.4" fill="#1a9a3a"/><rect x="432.6" y="669.8" width="4.4" height="4.4" fill="#1a9a3a"/><rect x="437.8" y="669.2" width="4.4" height="4.4" fill="#1a9a3a"/><rect x="443.0" y="667.2" width="4.4" height="4.4" fill="#1a9a3a"/><rect x="448.2" y="668.6" width="4.4" height="4.4" fill="#1a9a3a"/><rect x="453.4" y="664.3" width="4.4" height="4.4" fill="#1a9a3a"/><rect x="458.6" y="663.4" width="4.4" height="4.4" fill="#1a9a3a"/><rect x="463.8" y="662.1" width="4.4" height="4.4" fill="#1a9a3a"/><rect x="469.0" y="661.0" width="4.4" height="4.4" fill="#1a9a3a"/><rect x="474.2" y="660.2" width="4.4" height="4.4" fill="#1a9a3a"/><rect x="479.4" y="658.6" width="4.4" height="4.4" fill="#1a9a3a"/><rect x="484.6" y="657.2" width="4.4" height="4.4" fill="#1a9a3a"/><rect x="489.8" y="654.5" width="4.4" height="4.4" fill="#1a9a3a"/><rect x="495.0" y="653.4" width="4.4" height="4.4" fill="#1a9a3a"/><rect x="500.2" y="652.0" width="4.4" height="4.4" fill="#1a9a3a"/><rect x="505.4" y="650.0" width="4.4" height="4.4" fill="#1a9a3a"/><rect x="510.6" y="648.7" width="4.4" height="4.4" fill="#1a9a3a"/><rect x="515.8" y="648.2" width="4.4" height="4.4" fill="#1a9a3a"/><rect x="521.0" y="648.7" width="4.4" height="4.4" fill="#1a9a3a"/><rect x="526.2" y="649.0" width="4.4" height="4.4" fill="#1a9a3a"/><rect x="531.4" y="648.3" width="4.4" height="4.4" fill="#1a9a3a"/><rect x="536.6" y="647.8" width="4.4" height="4.4" fill="#1a9a3a"/><rect x="541.8" y="648.3" width="4.4" height="4.4" fill="#1a9a3a"/><rect x="547.0" y="647.8" width="4.4" height="4.4" fill="#1a9a3a"/><rect x="552.2" y="647.8" width="4.4" height="4.4" fill="#1a9a3a"/><rect x="557.4" y="647.4" width="4.4" height="4.4" fill="#1a9a3a"/><rect x="562.6" y="647.8" width="4.4" height="4.4" fill="#1a9a3a"/><rect x="567.8" y="649.1" width="4.4" height="4.4" fill="#1a9a3a"/><rect x="573.0" y="650.0" width="4.4" height="4.4" fill="#1a9a3a"/><rect x="578.2" y="651.1" width="4.4" height="4.4" fill="#1a9a3a"/><rect x="583.4" y="652.4" width="4.4" height="4.4" fill="#1a9a3a"/><rect x="588.6" y="654.0" width="4.4" height="4.4" fill="#1a9a3a"/><rect x="593.8" y="656.1" width="4.4" height="4.4" fill="#1a9a3a"/><rect x="599.0" y="658.1" width="4.4" height="4.4" fill="#1a9a3a"/><rect x="604.2" y="659.9" width="4.4" height="4.4" fill="#1a9a3a"/><rect x="609.4" y="660.6" width="4.4" height="4.4" fill="#1a9a3a"/><rect x="614.6" y="661.3" width="4.4" height="4.4" fill="#1a9a3a"/><rect x="619.8" y="665.1" width="4.4" height="4.4" fill="#1a9a3a"/><rect x="625.0" y="667.5" width="4.4" height="4.4" fill="#1a9a3a"/><rect x="630.2" y="669.1" width="4.4" height="4.4" fill="#1a9a3a"/><rect x="635.4" y="669.1" width="4.4" height="4.4" fill="#1a9a3a"/><rect x="640.6" y="669.6" width="4.4" height="4.4" fill="#1a9a3a"/>
</svg>
</svg>
</body></html>
